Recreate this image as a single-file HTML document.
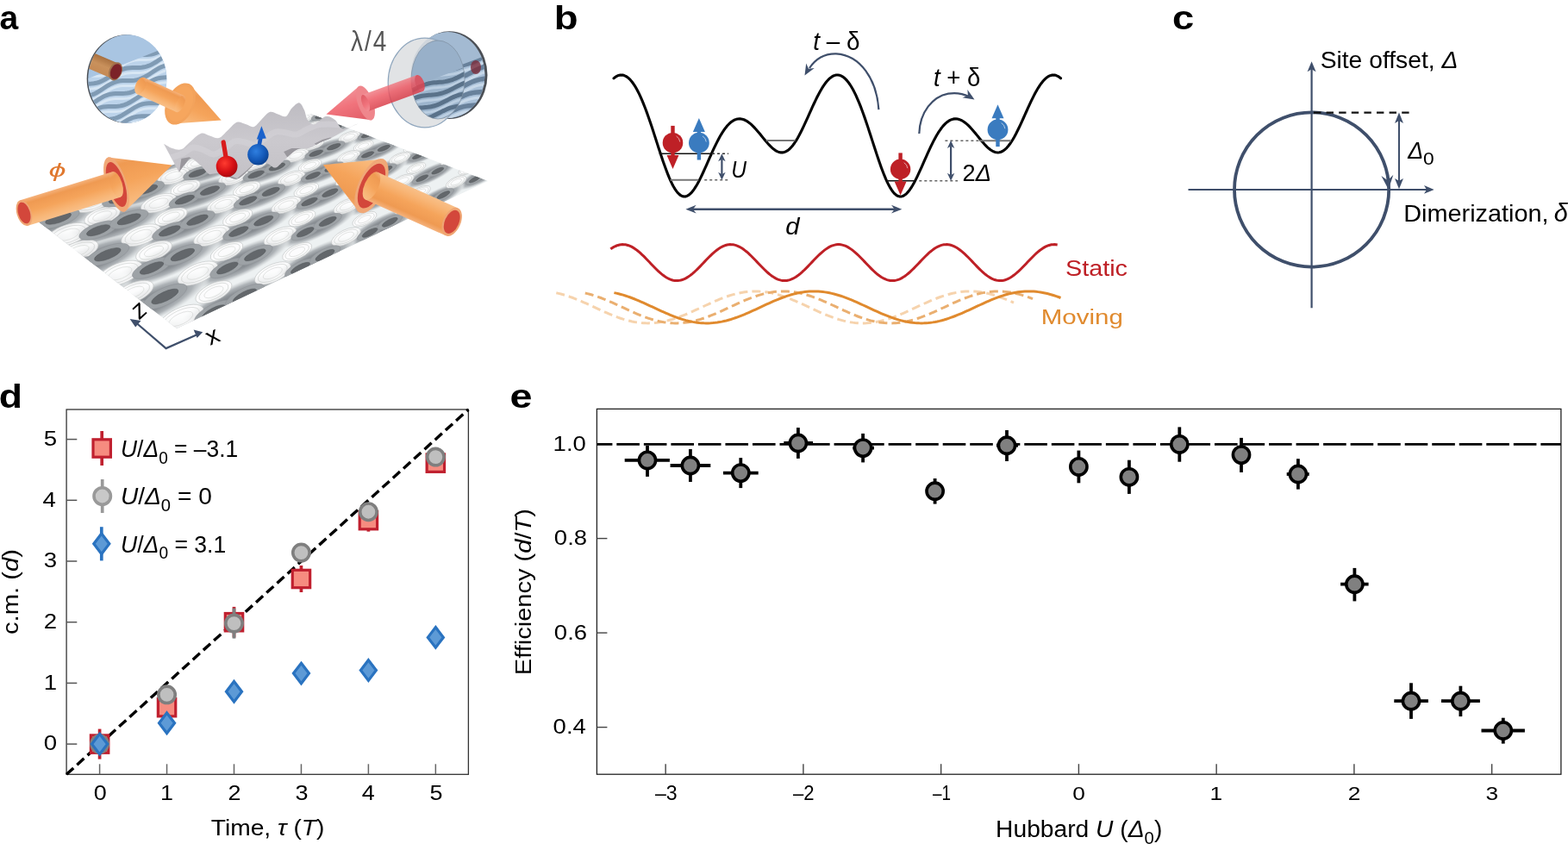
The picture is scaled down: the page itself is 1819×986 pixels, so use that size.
<!DOCTYPE html>
<html><head><meta charset="utf-8"><title>Figure</title>
<style>html,body{margin:0;padding:0;background:#fff;overflow:hidden}svg{display:block}</style>
</head><body>
<svg width="1819" height="986" viewBox="0 0 1819 986">
<defs>
<radialGradient id="gblob"><stop offset="0" stop-color="#767b80"/><stop offset="0.45" stop-color="#8b9095"/><stop offset="0.72" stop-color="#aeb3b7"/><stop offset="0.9" stop-color="#d8dcde" stop-opacity="0.75"/><stop offset="1" stop-color="#e6eaeb" stop-opacity="0"/></radialGradient>
<radialGradient id="dblob"><stop offset="0" stop-color="#5d6166"/><stop offset="0.6" stop-color="#63676b"/><stop offset="1" stop-color="#70757a" stop-opacity="0"/></radialGradient>
<radialGradient id="wblob"><stop offset="0" stop-color="#ffffff"/><stop offset="0.7" stop-color="#fbfbfa"/><stop offset="1" stop-color="#ffffff" stop-opacity="0"/></radialGradient>
<linearGradient id="orangeCyl" x1="0" y1="0" x2="0" y2="1"><stop offset="0" stop-color="#f7b46e"/><stop offset="0.45" stop-color="#f5a35a"/><stop offset="1" stop-color="#e58d45"/></linearGradient>
<linearGradient id="lensBlue" x1="0" y1="0" x2="0" y2="1"><stop offset="0" stop-color="#a9c6e4"/><stop offset="0.35" stop-color="#a3bfdc"/><stop offset="1" stop-color="#8aa9c8"/></linearGradient>
<linearGradient id="wavyG" x1="0" y1="0" x2="0" y2="1"><stop offset="0" stop-color="#bebcc2"/><stop offset="0.5" stop-color="#cbc9ce"/><stop offset="1" stop-color="#c3c1c6"/></linearGradient>
<radialGradient id="redBall" cx="0.4" cy="0.35" r="0.7"><stop offset="0" stop-color="#ff3b30"/><stop offset="0.6" stop-color="#d40f14"/><stop offset="1" stop-color="#a30a0e"/></radialGradient>
<radialGradient id="blueBall" cx="0.4" cy="0.35" r="0.7"><stop offset="0" stop-color="#2f7fe0"/><stop offset="0.6" stop-color="#1459b8"/><stop offset="1" stop-color="#0b3f8a"/></radialGradient>
</defs>
<rect width="1819" height="986" fill="#fff"/>
<clipPath id="planeclip"><polygon points="205,381 566,210 360,132 38,252"/></clipPath>
<polygon points="205,381 566,210 360,132 38,252" fill="#edf1f2"/>
<g clip-path="url(#planeclip)">
<ellipse cx="-19.27" cy="116.58" rx="54.81" ry="14.01" transform="rotate(-10.88 -19.27 116.58)" fill="url(#gblob)" />
<ellipse cx="42.17" cy="118.93" rx="51.42" ry="13.14" transform="rotate(-11.58 42.17 118.93)" fill="url(#gblob)" />
<ellipse cx="102.13" cy="121.22" rx="48.19" ry="12.31" transform="rotate(-12.35 102.13 121.22)" fill="url(#gblob)" />
<ellipse cx="160.67" cy="123.46" rx="45.1" ry="11.53" transform="rotate(-13.18 160.67 123.46)" fill="url(#gblob)" />
<ellipse cx="217.83" cy="125.64" rx="42.15" ry="10.77" transform="rotate(-14.08 217.83 125.64)" fill="url(#gblob)" />
<ellipse cx="273.67" cy="127.78" rx="39.34" ry="10.05" transform="rotate(-15.07 273.67 127.78)" fill="url(#gblob)" />
<ellipse cx="328.23" cy="129.86" rx="36.66" ry="9.37" transform="rotate(-16.16 328.23 129.86)" fill="url(#gblob)" />
<ellipse cx="381.55" cy="131.9" rx="34.1" ry="8.72" transform="rotate(-17.35 381.55 131.9)" fill="url(#gblob)" />
<ellipse cx="433.68" cy="133.89" rx="31.67" ry="8.09" transform="rotate(-18.68 433.68 133.89)" fill="url(#gblob)" />
<ellipse cx="484.65" cy="135.84" rx="29.35" ry="7.5" transform="rotate(-20.15 484.65 135.84)" fill="url(#gblob)" />
<ellipse cx="534.5" cy="137.74" rx="27.14" ry="6.94" transform="rotate(-21.79 534.5 137.74)" fill="url(#gblob)" />
<ellipse cx="583.28" cy="139.61" rx="25.05" ry="6.4" transform="rotate(-23.64 583.28 139.61)" fill="url(#gblob)" />
<ellipse cx="631" cy="141.43" rx="23.07" ry="5.9" transform="rotate(-25.71 631 141.43)" fill="url(#gblob)" />
<ellipse cx="677.72" cy="143.22" rx="21.2" ry="5.42" transform="rotate(-28.06 677.72 143.22)" fill="url(#gblob)" />
<ellipse cx="-48.76" cy="137.09" rx="60.14" ry="15.37" transform="rotate(-11.56 -48.76 137.09)" fill="url(#gblob)" />
<ellipse cx="17.17" cy="139.33" rx="56.25" ry="14.37" transform="rotate(-12.32 17.17 139.33)" fill="url(#gblob)" />
<ellipse cx="81.4" cy="141.51" rx="52.55" ry="13.43" transform="rotate(-13.15 81.4 141.51)" fill="url(#gblob)" />
<ellipse cx="144.01" cy="143.64" rx="49.03" ry="12.53" transform="rotate(-14.05 144.01 143.64)" fill="url(#gblob)" />
<ellipse cx="205.06" cy="145.71" rx="45.68" ry="11.67" transform="rotate(-15.04 205.06 145.71)" fill="url(#gblob)" />
<ellipse cx="264.6" cy="147.73" rx="42.49" ry="10.86" transform="rotate(-16.12 264.6 147.73)" fill="url(#gblob)" />
<ellipse cx="322.69" cy="149.71" rx="39.46" ry="10.08" transform="rotate(-17.32 322.69 149.71)" fill="url(#gblob)" />
<ellipse cx="379.39" cy="151.63" rx="36.58" ry="9.35" transform="rotate(-18.64 379.39 151.63)" fill="url(#gblob)" />
<ellipse cx="434.73" cy="153.51" rx="33.85" ry="8.65" transform="rotate(-20.1 434.73 153.51)" fill="url(#gblob)" />
<ellipse cx="488.78" cy="155.34" rx="31.26" ry="7.99" transform="rotate(-21.74 488.78 155.34)" fill="url(#gblob)" />
<ellipse cx="541.56" cy="157.14" rx="28.81" ry="7.36" transform="rotate(-23.58 541.56 157.14)" fill="url(#gblob)" />
<ellipse cx="593.14" cy="158.89" rx="26.49" ry="6.77" transform="rotate(-25.65 593.14 158.89)" fill="url(#gblob)" />
<ellipse cx="643.55" cy="160.6" rx="24.31" ry="6.21" transform="rotate(-27.99 643.55 160.6)" fill="url(#gblob)" />
<ellipse cx="692.82" cy="162.27" rx="22.27" ry="5.69" transform="rotate(-30.65 692.82 162.27)" fill="url(#gblob)" />
<ellipse cx="-11.41" cy="162.66" rx="61.99" ry="15.84" transform="rotate(-13.12 -11.41 162.66)" fill="url(#gblob)" />
<ellipse cx="57.75" cy="164.67" rx="57.72" ry="14.75" transform="rotate(-14.02 57.75 164.67)" fill="url(#gblob)" />
<ellipse cx="125.04" cy="166.63" rx="53.66" ry="13.71" transform="rotate(-15.01 125.04 166.63)" fill="url(#gblob)" />
<ellipse cx="190.54" cy="168.54" rx="49.82" ry="12.73" transform="rotate(-16.09 190.54 168.54)" fill="url(#gblob)" />
<ellipse cx="254.31" cy="170.4" rx="46.18" ry="11.8" transform="rotate(-17.28 254.31 170.4)" fill="url(#gblob)" />
<ellipse cx="316.42" cy="172.21" rx="42.73" ry="10.92" transform="rotate(-18.6 316.42 172.21)" fill="url(#gblob)" />
<ellipse cx="376.94" cy="173.97" rx="39.47" ry="10.09" transform="rotate(-20.06 376.94 173.97)" fill="url(#gblob)" />
<ellipse cx="435.93" cy="175.69" rx="36.38" ry="9.3" transform="rotate(-21.69 435.93 175.69)" fill="url(#gblob)" />
<ellipse cx="493.44" cy="177.37" rx="33.47" ry="8.55" transform="rotate(-23.52 493.44 177.37)" fill="url(#gblob)" />
<ellipse cx="549.52" cy="179" rx="30.73" ry="7.85" transform="rotate(-25.58 549.52 179)" fill="url(#gblob)" />
<ellipse cx="604.24" cy="180.59" rx="28.15" ry="7.19" transform="rotate(-27.91 604.24 180.59)" fill="url(#gblob)" />
<ellipse cx="657.64" cy="182.15" rx="25.74" ry="6.58" transform="rotate(-30.56 657.64 182.15)" fill="url(#gblob)" />
<ellipse cx="-44.41" cy="189.58" rx="68.92" ry="17.61" transform="rotate(-14 -44.41 189.58)" fill="url(#gblob)" />
<ellipse cx="30.5" cy="191.35" rx="63.92" ry="16.34" transform="rotate(-14.98 30.5 191.35)" fill="url(#gblob)" />
<ellipse cx="103.22" cy="193.07" rx="59.21" ry="15.13" transform="rotate(-16.06 103.22 193.07)" fill="url(#gblob)" />
<ellipse cx="173.87" cy="194.74" rx="54.75" ry="13.99" transform="rotate(-17.24 173.87 194.74)" fill="url(#gblob)" />
<ellipse cx="242.51" cy="196.36" rx="50.55" ry="12.92" transform="rotate(-18.56 242.51 196.36)" fill="url(#gblob)" />
<ellipse cx="309.24" cy="197.94" rx="46.59" ry="11.91" transform="rotate(-20.01 309.24 197.94)" fill="url(#gblob)" />
<ellipse cx="374.14" cy="199.47" rx="42.86" ry="10.95" transform="rotate(-21.64 374.14 199.47)" fill="url(#gblob)" />
<ellipse cx="437.28" cy="200.96" rx="39.35" ry="10.06" transform="rotate(-23.46 437.28 200.96)" fill="url(#gblob)" />
<ellipse cx="498.73" cy="202.42" rx="36.05" ry="9.21" transform="rotate(-25.52 498.73 202.42)" fill="url(#gblob)" />
<ellipse cx="558.56" cy="203.83" rx="32.97" ry="8.42" transform="rotate(-27.84 558.56 203.83)" fill="url(#gblob)" />
<ellipse cx="616.84" cy="205.21" rx="30.09" ry="7.69" transform="rotate(-30.48 616.84 205.21)" fill="url(#gblob)" />
<ellipse cx="673.61" cy="206.55" rx="27.42" ry="7.01" transform="rotate(-33.49 673.61 206.55)" fill="url(#gblob)" />
<ellipse cx="-1.24" cy="222.41" rx="71.5" ry="18.27" transform="rotate(-16.02 -1.24 222.41)" fill="url(#gblob)" />
<ellipse cx="77.87" cy="223.78" rx="65.94" ry="16.85" transform="rotate(-17.21 77.87 223.78)" fill="url(#gblob)" />
<ellipse cx="154.54" cy="225.11" rx="60.72" ry="15.52" transform="rotate(-18.52 154.54 225.11)" fill="url(#gblob)" />
<ellipse cx="228.86" cy="226.4" rx="55.82" ry="14.26" transform="rotate(-19.97 228.86 226.4)" fill="url(#gblob)" />
<ellipse cx="300.96" cy="227.64" rx="51.22" ry="13.09" transform="rotate(-21.59 300.96 227.64)" fill="url(#gblob)" />
<ellipse cx="370.92" cy="228.86" rx="46.91" ry="11.99" transform="rotate(-23.41 370.92 228.86)" fill="url(#gblob)" />
<ellipse cx="438.84" cy="230.03" rx="42.88" ry="10.96" transform="rotate(-25.45 438.84 230.03)" fill="url(#gblob)" />
<ellipse cx="504.82" cy="231.18" rx="39.12" ry="10" transform="rotate(-27.77 504.82 231.18)" fill="url(#gblob)" />
<ellipse cx="568.92" cy="232.29" rx="35.62" ry="9.1" transform="rotate(-30.4 568.92 232.29)" fill="url(#gblob)" />
<ellipse cx="631.24" cy="233.37" rx="32.39" ry="8.28" transform="rotate(-33.4 631.24 233.37)" fill="url(#gblob)" />
<ellipse cx="691.84" cy="234.42" rx="29.42" ry="7.52" transform="rotate(-36.84 691.84 234.42)" fill="url(#gblob)" />
<ellipse cx="-38.66" cy="259.04" rx="80.92" ry="20.68" transform="rotate(-17.17 -38.66 259.04)" fill="url(#gblob)" />
<ellipse cx="48.06" cy="259.9" rx="74.27" ry="18.98" transform="rotate(-18.48 48.06 259.9)" fill="url(#gblob)" />
<ellipse cx="131.86" cy="260.74" rx="68.06" ry="17.39" transform="rotate(-19.92 131.86 260.74)" fill="url(#gblob)" />
<ellipse cx="212.89" cy="261.55" rx="62.26" ry="15.91" transform="rotate(-21.54 212.89 261.55)" fill="url(#gblob)" />
<ellipse cx="291.28" cy="262.33" rx="56.85" ry="14.53" transform="rotate(-23.35 291.28 262.33)" fill="url(#gblob)" />
<ellipse cx="367.16" cy="263.08" rx="51.82" ry="13.24" transform="rotate(-25.39 367.16 263.08)" fill="url(#gblob)" />
<ellipse cx="440.65" cy="263.82" rx="47.15" ry="12.05" transform="rotate(-27.7 440.65 263.82)" fill="url(#gblob)" />
<ellipse cx="511.87" cy="264.53" rx="42.82" ry="10.94" transform="rotate(-30.32 511.87 264.53)" fill="url(#gblob)" />
<ellipse cx="580.91" cy="265.22" rx="38.83" ry="9.92" transform="rotate(-33.31 580.91 265.22)" fill="url(#gblob)" />
<ellipse cx="647.87" cy="265.88" rx="35.18" ry="8.99" transform="rotate(-36.73 647.87 265.88)" fill="url(#gblob)" />
<ellipse cx="12.48" cy="303" rx="84.78" ry="21.67" transform="rotate(-19.88 12.48 303)" fill="url(#gblob)" />
<ellipse cx="104.87" cy="303.12" rx="77.27" ry="19.75" transform="rotate(-21.49 104.87 303.12)" fill="url(#gblob)" />
<ellipse cx="193.93" cy="303.24" rx="70.31" ry="17.97" transform="rotate(-23.29 193.93 303.24)" fill="url(#gblob)" />
<ellipse cx="279.83" cy="303.35" rx="63.86" ry="16.32" transform="rotate(-25.33 279.83 303.35)" fill="url(#gblob)" />
<ellipse cx="362.73" cy="303.46" rx="57.91" ry="14.8" transform="rotate(-27.62 362.73 303.46)" fill="url(#gblob)" />
<ellipse cx="442.78" cy="303.57" rx="52.42" ry="13.4" transform="rotate(-30.23 442.78 303.57)" fill="url(#gblob)" />
<ellipse cx="520.14" cy="303.67" rx="47.39" ry="12.11" transform="rotate(-33.21 520.14 303.67)" fill="url(#gblob)" />
<ellipse cx="594.93" cy="303.77" rx="42.8" ry="10.94" transform="rotate(-36.62 594.93 303.77)" fill="url(#gblob)" />
<ellipse cx="667.29" cy="303.86" rx="38.66" ry="9.88" transform="rotate(-40.54 667.29 303.86)" fill="url(#gblob)" />
<ellipse cx="-30.72" cy="355.32" rx="98.41" ry="25.15" transform="rotate(-21.44 -30.72 355.32)" fill="url(#gblob)" />
<ellipse cx="72.23" cy="354.39" rx="89.14" ry="22.78" transform="rotate(-23.24 72.23 354.39)" fill="url(#gblob)" />
<ellipse cx="171.08" cy="353.49" rx="80.61" ry="20.6" transform="rotate(-25.26 171.08 353.49)" fill="url(#gblob)" />
<ellipse cx="266.07" cy="352.64" rx="72.79" ry="18.6" transform="rotate(-27.55 266.07 352.64)" fill="url(#gblob)" />
<ellipse cx="357.41" cy="351.81" rx="65.63" ry="16.77" transform="rotate(-30.15 357.41 351.81)" fill="url(#gblob)" />
<ellipse cx="445.32" cy="351.02" rx="59.1" ry="15.1" transform="rotate(-33.12 445.32 351.02)" fill="url(#gblob)" />
<ellipse cx="529.98" cy="350.25" rx="53.17" ry="13.59" transform="rotate(-36.52 529.98 350.25)" fill="url(#gblob)" />
<ellipse cx="611.58" cy="349.51" rx="47.84" ry="12.23" transform="rotate(-40.41 611.58 349.51)" fill="url(#gblob)" />
<ellipse cx="690.27" cy="348.8" rx="43.1" ry="11.02" transform="rotate(-44.89 690.27 348.8)" fill="url(#gblob)" />
<ellipse cx="31.95" cy="417.65" rx="104.88" ry="26.8" transform="rotate(-25.2 31.95 417.65)" fill="url(#gblob)" />
<ellipse cx="143" cy="415.25" rx="94.19" ry="24.07" transform="rotate(-27.48 143 415.25)" fill="url(#gblob)" />
<ellipse cx="249.22" cy="412.95" rx="84.49" ry="21.59" transform="rotate(-30.07 249.22 412.95)" fill="url(#gblob)" />
<ellipse cx="350.93" cy="410.75" rx="75.7" ry="19.35" transform="rotate(-33.03 350.93 410.75)" fill="url(#gblob)" />
<ellipse cx="448.39" cy="408.64" rx="67.79" ry="17.32" transform="rotate(-36.41 448.39 408.64)" fill="url(#gblob)" />
<ellipse cx="541.89" cy="406.62" rx="60.72" ry="15.52" transform="rotate(-40.29 541.89 406.62)" fill="url(#gblob)" />
<ellipse cx="631.64" cy="404.68" rx="54.45" ry="13.92" transform="rotate(-44.75 631.64 404.68)" fill="url(#gblob)" />
<ellipse cx="-56.6" cy="130.89" rx="19.49" ry="8.53" transform="rotate(-10.88 -56.6 130.89)" fill="#ffffff" stroke="#c2c5c5" stroke-width="0.6" fill-opacity="0.8"/>
<ellipse cx="-56.6" cy="130.89" rx="15.83" ry="6.7" transform="rotate(-10.88 -56.6 130.89)" fill="none" stroke="#c4c7c6" stroke-width="0.5"/>
<ellipse cx="-56.6" cy="130.89" rx="10.35" ry="4.26" transform="rotate(-10.88 -56.6 130.89)" fill="none" stroke="#cfd1cf" stroke-width="0.5"/>
<ellipse cx="1.83" cy="123.5" rx="19.49" ry="8.53" transform="rotate(-10.88 1.83 123.5)" fill="#ffffff" stroke="#c2c5c5" stroke-width="0.6" fill-opacity="0.8"/>
<ellipse cx="1.83" cy="123.5" rx="15.83" ry="6.7" transform="rotate(-10.88 1.83 123.5)" fill="none" stroke="#c4c7c6" stroke-width="0.5"/>
<ellipse cx="1.83" cy="123.5" rx="10.35" ry="4.26" transform="rotate(-10.88 1.83 123.5)" fill="none" stroke="#cfd1cf" stroke-width="0.5"/>
<ellipse cx="8.49" cy="133.18" rx="18.28" ry="8" transform="rotate(-11.58 8.49 133.18)" fill="#ffffff" stroke="#c2c5c5" stroke-width="0.6" fill-opacity="0.8"/>
<ellipse cx="8.49" cy="133.18" rx="14.86" ry="6.29" transform="rotate(-11.58 8.49 133.18)" fill="none" stroke="#c4c7c6" stroke-width="0.5"/>
<ellipse cx="8.49" cy="133.18" rx="9.71" ry="4" transform="rotate(-11.58 8.49 133.18)" fill="none" stroke="#cfd1cf" stroke-width="0.5"/>
<ellipse cx="63.82" cy="125.8" rx="18.28" ry="8" transform="rotate(-11.58 63.82 125.8)" fill="#ffffff" stroke="#c2c5c5" stroke-width="0.6" fill-opacity="0.8"/>
<ellipse cx="63.82" cy="125.8" rx="14.86" ry="6.29" transform="rotate(-11.58 63.82 125.8)" fill="none" stroke="#c4c7c6" stroke-width="0.5"/>
<ellipse cx="63.82" cy="125.8" rx="9.71" ry="4" transform="rotate(-11.58 63.82 125.8)" fill="none" stroke="#cfd1cf" stroke-width="0.5"/>
<ellipse cx="71.93" cy="135.4" rx="17.13" ry="7.5" transform="rotate(-12.35 71.93 135.4)" fill="#ffffff" stroke="#c2c5c5" stroke-width="0.6" fill-opacity="0.8"/>
<ellipse cx="71.93" cy="135.4" rx="13.92" ry="5.89" transform="rotate(-12.35 71.93 135.4)" fill="none" stroke="#c4c7c6" stroke-width="0.5"/>
<ellipse cx="71.93" cy="135.4" rx="9.1" ry="3.75" transform="rotate(-12.35 71.93 135.4)" fill="none" stroke="#cfd1cf" stroke-width="0.5"/>
<ellipse cx="124.29" cy="128.04" rx="17.13" ry="7.5" transform="rotate(-12.35 124.29 128.04)" fill="#ffffff" stroke="#c2c5c5" stroke-width="0.6" fill-opacity="0.8"/>
<ellipse cx="124.29" cy="128.04" rx="13.92" ry="5.89" transform="rotate(-12.35 124.29 128.04)" fill="none" stroke="#c4c7c6" stroke-width="0.5"/>
<ellipse cx="124.29" cy="128.04" rx="9.1" ry="3.75" transform="rotate(-12.35 124.29 128.04)" fill="none" stroke="#cfd1cf" stroke-width="0.5"/>
<ellipse cx="133.79" cy="137.58" rx="16.04" ry="7.02" transform="rotate(-13.18 133.79 137.58)" fill="#ffffff" stroke="#c2c5c5" stroke-width="0.6" fill-opacity="0.8"/>
<ellipse cx="133.79" cy="137.58" rx="13.03" ry="5.51" transform="rotate(-13.18 133.79 137.58)" fill="none" stroke="#c4c7c6" stroke-width="0.5"/>
<ellipse cx="133.79" cy="137.58" rx="8.52" ry="3.51" transform="rotate(-13.18 133.79 137.58)" fill="none" stroke="#cfd1cf" stroke-width="0.5"/>
<ellipse cx="183.31" cy="130.22" rx="16.04" ry="7.02" transform="rotate(-13.18 183.31 130.22)" fill="#ffffff" stroke="#c2c5c5" stroke-width="0.6" fill-opacity="0.8"/>
<ellipse cx="183.31" cy="130.22" rx="13.03" ry="5.51" transform="rotate(-13.18 183.31 130.22)" fill="none" stroke="#c4c7c6" stroke-width="0.5"/>
<ellipse cx="183.31" cy="130.22" rx="8.52" ry="3.51" transform="rotate(-13.18 183.31 130.22)" fill="none" stroke="#cfd1cf" stroke-width="0.5"/>
<ellipse cx="194.13" cy="139.7" rx="14.99" ry="6.56" transform="rotate(-14.08 194.13 139.7)" fill="#ffffff" stroke="#c2c5c5" stroke-width="0.6" fill-opacity="0.8"/>
<ellipse cx="194.13" cy="139.7" rx="12.18" ry="5.15" transform="rotate(-14.08 194.13 139.7)" fill="none" stroke="#c4c7c6" stroke-width="0.5"/>
<ellipse cx="194.13" cy="139.7" rx="7.96" ry="3.28" transform="rotate(-14.08 194.13 139.7)" fill="none" stroke="#cfd1cf" stroke-width="0.5"/>
<ellipse cx="240.93" cy="132.35" rx="14.99" ry="6.56" transform="rotate(-14.08 240.93 132.35)" fill="#ffffff" stroke="#c2c5c5" stroke-width="0.6" fill-opacity="0.8"/>
<ellipse cx="240.93" cy="132.35" rx="12.18" ry="5.15" transform="rotate(-14.08 240.93 132.35)" fill="none" stroke="#c4c7c6" stroke-width="0.5"/>
<ellipse cx="240.93" cy="132.35" rx="7.96" ry="3.28" transform="rotate(-14.08 240.93 132.35)" fill="none" stroke="#cfd1cf" stroke-width="0.5"/>
<ellipse cx="253" cy="141.77" rx="13.99" ry="6.12" transform="rotate(-15.07 253 141.77)" fill="#ffffff" stroke="#c2c5c5" stroke-width="0.6" fill-opacity="0.8"/>
<ellipse cx="253" cy="141.77" rx="11.37" ry="4.81" transform="rotate(-15.07 253 141.77)" fill="none" stroke="#c4c7c6" stroke-width="0.5"/>
<ellipse cx="253" cy="141.77" rx="7.43" ry="3.06" transform="rotate(-15.07 253 141.77)" fill="none" stroke="#cfd1cf" stroke-width="0.5"/>
<ellipse cx="297.2" cy="134.43" rx="13.99" ry="6.12" transform="rotate(-15.07 297.2 134.43)" fill="#ffffff" stroke="#c2c5c5" stroke-width="0.6" fill-opacity="0.8"/>
<ellipse cx="297.2" cy="134.43" rx="11.37" ry="4.81" transform="rotate(-15.07 297.2 134.43)" fill="none" stroke="#c4c7c6" stroke-width="0.5"/>
<ellipse cx="297.2" cy="134.43" rx="7.43" ry="3.06" transform="rotate(-15.07 297.2 134.43)" fill="none" stroke="#cfd1cf" stroke-width="0.5"/>
<ellipse cx="310.46" cy="143.78" rx="13.03" ry="5.7" transform="rotate(-16.16 310.46 143.78)" fill="#ffffff" stroke="#c2c5c5" stroke-width="0.6" fill-opacity="0.8"/>
<ellipse cx="310.46" cy="143.78" rx="10.59" ry="4.48" transform="rotate(-16.16 310.46 143.78)" fill="none" stroke="#c4c7c6" stroke-width="0.5"/>
<ellipse cx="310.46" cy="143.78" rx="6.92" ry="2.85" transform="rotate(-16.16 310.46 143.78)" fill="none" stroke="#cfd1cf" stroke-width="0.5"/>
<ellipse cx="352.16" cy="136.47" rx="13.03" ry="5.7" transform="rotate(-16.16 352.16 136.47)" fill="#ffffff" stroke="#c2c5c5" stroke-width="0.6" fill-opacity="0.8"/>
<ellipse cx="352.16" cy="136.47" rx="10.59" ry="4.48" transform="rotate(-16.16 352.16 136.47)" fill="none" stroke="#c4c7c6" stroke-width="0.5"/>
<ellipse cx="352.16" cy="136.47" rx="6.92" ry="2.85" transform="rotate(-16.16 352.16 136.47)" fill="none" stroke="#cfd1cf" stroke-width="0.5"/>
<ellipse cx="366.55" cy="145.75" rx="12.13" ry="5.3" transform="rotate(-17.35 366.55 145.75)" fill="#ffffff" stroke="#c2c5c5" stroke-width="0.6" fill-opacity="0.8"/>
<ellipse cx="366.55" cy="145.75" rx="9.85" ry="4.17" transform="rotate(-17.35 366.55 145.75)" fill="none" stroke="#c4c7c6" stroke-width="0.5"/>
<ellipse cx="366.55" cy="145.75" rx="6.44" ry="2.65" transform="rotate(-17.35 366.55 145.75)" fill="none" stroke="#cfd1cf" stroke-width="0.5"/>
<ellipse cx="405.85" cy="138.45" rx="12.13" ry="5.3" transform="rotate(-17.35 405.85 138.45)" fill="#ffffff" stroke="#c2c5c5" stroke-width="0.6" fill-opacity="0.8"/>
<ellipse cx="405.85" cy="138.45" rx="9.85" ry="4.17" transform="rotate(-17.35 405.85 138.45)" fill="none" stroke="#c4c7c6" stroke-width="0.5"/>
<ellipse cx="405.85" cy="138.45" rx="6.44" ry="2.65" transform="rotate(-17.35 405.85 138.45)" fill="none" stroke="#cfd1cf" stroke-width="0.5"/>
<ellipse cx="421.33" cy="147.68" rx="11.26" ry="4.93" transform="rotate(-18.68 421.33 147.68)" fill="#ffffff" stroke="#c2c5c5" stroke-width="0.6" fill-opacity="0.8"/>
<ellipse cx="421.33" cy="147.68" rx="9.15" ry="3.87" transform="rotate(-18.68 421.33 147.68)" fill="none" stroke="#c4c7c6" stroke-width="0.5"/>
<ellipse cx="421.33" cy="147.68" rx="5.98" ry="2.46" transform="rotate(-18.68 421.33 147.68)" fill="none" stroke="#cfd1cf" stroke-width="0.5"/>
<ellipse cx="458.34" cy="140.4" rx="11.26" ry="4.93" transform="rotate(-18.68 458.34 140.4)" fill="#ffffff" stroke="#c2c5c5" stroke-width="0.6" fill-opacity="0.8"/>
<ellipse cx="458.34" cy="140.4" rx="9.15" ry="3.87" transform="rotate(-18.68 458.34 140.4)" fill="none" stroke="#c4c7c6" stroke-width="0.5"/>
<ellipse cx="458.34" cy="140.4" rx="5.98" ry="2.46" transform="rotate(-18.68 458.34 140.4)" fill="none" stroke="#cfd1cf" stroke-width="0.5"/>
<ellipse cx="474.83" cy="149.56" rx="10.43" ry="4.57" transform="rotate(-20.15 474.83 149.56)" fill="#ffffff" stroke="#c2c5c5" stroke-width="0.6" fill-opacity="0.8"/>
<ellipse cx="474.83" cy="149.56" rx="8.48" ry="3.59" transform="rotate(-20.15 474.83 149.56)" fill="none" stroke="#c4c7c6" stroke-width="0.5"/>
<ellipse cx="474.83" cy="149.56" rx="5.54" ry="2.28" transform="rotate(-20.15 474.83 149.56)" fill="none" stroke="#cfd1cf" stroke-width="0.5"/>
<ellipse cx="509.64" cy="142.3" rx="10.43" ry="4.57" transform="rotate(-20.15 509.64 142.3)" fill="#ffffff" stroke="#c2c5c5" stroke-width="0.6" fill-opacity="0.8"/>
<ellipse cx="509.64" cy="142.3" rx="8.48" ry="3.59" transform="rotate(-20.15 509.64 142.3)" fill="none" stroke="#c4c7c6" stroke-width="0.5"/>
<ellipse cx="509.64" cy="142.3" rx="5.54" ry="2.28" transform="rotate(-20.15 509.64 142.3)" fill="none" stroke="#cfd1cf" stroke-width="0.5"/>
<ellipse cx="527.11" cy="151.39" rx="9.65" ry="4.22" transform="rotate(-21.79 527.11 151.39)" fill="#ffffff" stroke="#c2c5c5" stroke-width="0.6" fill-opacity="0.8"/>
<ellipse cx="527.11" cy="151.39" rx="7.84" ry="3.32" transform="rotate(-21.79 527.11 151.39)" fill="none" stroke="#c4c7c6" stroke-width="0.5"/>
<ellipse cx="527.11" cy="151.39" rx="5.13" ry="2.11" transform="rotate(-21.79 527.11 151.39)" fill="none" stroke="#cfd1cf" stroke-width="0.5"/>
<ellipse cx="559.81" cy="144.15" rx="9.65" ry="4.22" transform="rotate(-21.79 559.81 144.15)" fill="#ffffff" stroke="#c2c5c5" stroke-width="0.6" fill-opacity="0.8"/>
<ellipse cx="559.81" cy="144.15" rx="7.84" ry="3.32" transform="rotate(-21.79 559.81 144.15)" fill="none" stroke="#c4c7c6" stroke-width="0.5"/>
<ellipse cx="559.81" cy="144.15" rx="5.13" ry="2.11" transform="rotate(-21.79 559.81 144.15)" fill="none" stroke="#cfd1cf" stroke-width="0.5"/>
<ellipse cx="578.2" cy="153.19" rx="8.91" ry="3.9" transform="rotate(-23.64 578.2 153.19)" fill="#ffffff" stroke="#c2c5c5" stroke-width="0.6" fill-opacity="0.8"/>
<ellipse cx="578.2" cy="153.19" rx="7.24" ry="3.06" transform="rotate(-23.64 578.2 153.19)" fill="none" stroke="#c4c7c6" stroke-width="0.5"/>
<ellipse cx="578.2" cy="153.19" rx="4.73" ry="1.95" transform="rotate(-23.64 578.2 153.19)" fill="none" stroke="#cfd1cf" stroke-width="0.5"/>
<ellipse cx="608.87" cy="145.97" rx="8.91" ry="3.9" transform="rotate(-23.64 608.87 145.97)" fill="#ffffff" stroke="#c2c5c5" stroke-width="0.6" fill-opacity="0.8"/>
<ellipse cx="608.87" cy="145.97" rx="7.24" ry="3.06" transform="rotate(-23.64 608.87 145.97)" fill="none" stroke="#c4c7c6" stroke-width="0.5"/>
<ellipse cx="608.87" cy="145.97" rx="4.73" ry="1.95" transform="rotate(-23.64 608.87 145.97)" fill="none" stroke="#cfd1cf" stroke-width="0.5"/>
<ellipse cx="628.15" cy="154.94" rx="8.2" ry="3.59" transform="rotate(-25.71 628.15 154.94)" fill="#ffffff" stroke="#c2c5c5" stroke-width="0.6" fill-opacity="0.8"/>
<ellipse cx="628.15" cy="154.94" rx="6.67" ry="2.82" transform="rotate(-25.71 628.15 154.94)" fill="none" stroke="#c4c7c6" stroke-width="0.5"/>
<ellipse cx="628.15" cy="154.94" rx="4.36" ry="1.79" transform="rotate(-25.71 628.15 154.94)" fill="none" stroke="#cfd1cf" stroke-width="0.5"/>
<ellipse cx="656.87" cy="147.74" rx="8.2" ry="3.59" transform="rotate(-25.71 656.87 147.74)" fill="#ffffff" stroke="#c2c5c5" stroke-width="0.6" fill-opacity="0.8"/>
<ellipse cx="656.87" cy="147.74" rx="6.67" ry="2.82" transform="rotate(-25.71 656.87 147.74)" fill="none" stroke="#c4c7c6" stroke-width="0.5"/>
<ellipse cx="656.87" cy="147.74" rx="4.36" ry="1.79" transform="rotate(-25.71 656.87 147.74)" fill="none" stroke="#cfd1cf" stroke-width="0.5"/>
<ellipse cx="676.99" cy="156.66" rx="7.54" ry="3.3" transform="rotate(-28.06 676.99 156.66)" fill="#ffffff" stroke="#c2c5c5" stroke-width="0.6" fill-opacity="0.8"/>
<ellipse cx="676.99" cy="156.66" rx="6.13" ry="2.59" transform="rotate(-28.06 676.99 156.66)" fill="none" stroke="#c4c7c6" stroke-width="0.5"/>
<ellipse cx="676.99" cy="156.66" rx="4.01" ry="1.65" transform="rotate(-28.06 676.99 156.66)" fill="none" stroke="#cfd1cf" stroke-width="0.5"/>
<ellipse cx="703.85" cy="149.48" rx="7.54" ry="3.3" transform="rotate(-28.06 703.85 149.48)" fill="#ffffff" stroke="#c2c5c5" stroke-width="0.6" fill-opacity="0.8"/>
<ellipse cx="703.85" cy="149.48" rx="6.13" ry="2.59" transform="rotate(-28.06 703.85 149.48)" fill="none" stroke="#c4c7c6" stroke-width="0.5"/>
<ellipse cx="703.85" cy="149.48" rx="4.01" ry="1.65" transform="rotate(-28.06 703.85 149.48)" fill="none" stroke="#cfd1cf" stroke-width="0.5"/>
<ellipse cx="-90.39" cy="153.57" rx="21.38" ry="9.35" transform="rotate(-11.56 -90.39 153.57)" fill="#ffffff" stroke="#c2c5c5" stroke-width="0.6" fill-opacity="0.8"/>
<ellipse cx="-90.39" cy="153.57" rx="17.37" ry="7.35" transform="rotate(-11.56 -90.39 153.57)" fill="none" stroke="#c4c7c6" stroke-width="0.5"/>
<ellipse cx="-90.39" cy="153.57" rx="11.36" ry="4.68" transform="rotate(-11.56 -90.39 153.57)" fill="none" stroke="#cfd1cf" stroke-width="0.5"/>
<ellipse cx="-26.61" cy="144.78" rx="21.38" ry="9.35" transform="rotate(-11.56 -26.61 144.78)" fill="#ffffff" stroke="#c2c5c5" stroke-width="0.6" fill-opacity="0.8"/>
<ellipse cx="-26.61" cy="144.78" rx="17.37" ry="7.35" transform="rotate(-11.56 -26.61 144.78)" fill="none" stroke="#c4c7c6" stroke-width="0.5"/>
<ellipse cx="-26.61" cy="144.78" rx="11.36" ry="4.68" transform="rotate(-11.56 -26.61 144.78)" fill="none" stroke="#cfd1cf" stroke-width="0.5"/>
<ellipse cx="-20.26" cy="155.71" rx="20" ry="8.75" transform="rotate(-12.32 -20.26 155.71)" fill="#ffffff" stroke="#c2c5c5" stroke-width="0.6" fill-opacity="0.8"/>
<ellipse cx="-20.26" cy="155.71" rx="16.25" ry="6.87" transform="rotate(-12.32 -20.26 155.71)" fill="none" stroke="#c4c7c6" stroke-width="0.5"/>
<ellipse cx="-20.26" cy="155.71" rx="10.62" ry="4.37" transform="rotate(-12.32 -20.26 155.71)" fill="none" stroke="#cfd1cf" stroke-width="0.5"/>
<ellipse cx="39.95" cy="146.95" rx="20" ry="8.75" transform="rotate(-12.32 39.95 146.95)" fill="#ffffff" stroke="#c2c5c5" stroke-width="0.6" fill-opacity="0.8"/>
<ellipse cx="39.95" cy="146.95" rx="16.25" ry="6.87" transform="rotate(-12.32 39.95 146.95)" fill="none" stroke="#c4c7c6" stroke-width="0.5"/>
<ellipse cx="39.95" cy="146.95" rx="10.62" ry="4.37" transform="rotate(-12.32 39.95 146.95)" fill="none" stroke="#cfd1cf" stroke-width="0.5"/>
<ellipse cx="47.99" cy="157.79" rx="18.68" ry="8.17" transform="rotate(-13.15 47.99 157.79)" fill="#ffffff" stroke="#c2c5c5" stroke-width="0.6" fill-opacity="0.8"/>
<ellipse cx="47.99" cy="157.79" rx="15.18" ry="6.42" transform="rotate(-13.15 47.99 157.79)" fill="none" stroke="#c4c7c6" stroke-width="0.5"/>
<ellipse cx="47.99" cy="157.79" rx="9.93" ry="4.09" transform="rotate(-13.15 47.99 157.79)" fill="none" stroke="#cfd1cf" stroke-width="0.5"/>
<ellipse cx="104.77" cy="149.06" rx="18.68" ry="8.17" transform="rotate(-13.15 104.77 149.06)" fill="#ffffff" stroke="#c2c5c5" stroke-width="0.6" fill-opacity="0.8"/>
<ellipse cx="104.77" cy="149.06" rx="15.18" ry="6.42" transform="rotate(-13.15 104.77 149.06)" fill="none" stroke="#c4c7c6" stroke-width="0.5"/>
<ellipse cx="104.77" cy="149.06" rx="9.93" ry="4.09" transform="rotate(-13.15 104.77 149.06)" fill="none" stroke="#cfd1cf" stroke-width="0.5"/>
<ellipse cx="114.41" cy="159.81" rx="17.43" ry="7.63" transform="rotate(-14.05 114.41 159.81)" fill="#ffffff" stroke="#c2c5c5" stroke-width="0.6" fill-opacity="0.8"/>
<ellipse cx="114.41" cy="159.81" rx="14.16" ry="5.99" transform="rotate(-14.05 114.41 159.81)" fill="none" stroke="#c4c7c6" stroke-width="0.5"/>
<ellipse cx="114.41" cy="159.81" rx="9.26" ry="3.81" transform="rotate(-14.05 114.41 159.81)" fill="none" stroke="#cfd1cf" stroke-width="0.5"/>
<ellipse cx="167.94" cy="151.12" rx="17.43" ry="7.63" transform="rotate(-14.05 167.94 151.12)" fill="#ffffff" stroke="#c2c5c5" stroke-width="0.6" fill-opacity="0.8"/>
<ellipse cx="167.94" cy="151.12" rx="14.16" ry="5.99" transform="rotate(-14.05 167.94 151.12)" fill="none" stroke="#c4c7c6" stroke-width="0.5"/>
<ellipse cx="167.94" cy="151.12" rx="9.26" ry="3.81" transform="rotate(-14.05 167.94 151.12)" fill="none" stroke="#cfd1cf" stroke-width="0.5"/>
<ellipse cx="179.09" cy="161.78" rx="16.24" ry="7.11" transform="rotate(-15.04 179.09 161.78)" fill="#ffffff" stroke="#c2c5c5" stroke-width="0.6" fill-opacity="0.8"/>
<ellipse cx="179.09" cy="161.78" rx="13.2" ry="5.58" transform="rotate(-15.04 179.09 161.78)" fill="none" stroke="#c4c7c6" stroke-width="0.5"/>
<ellipse cx="179.09" cy="161.78" rx="8.63" ry="3.55" transform="rotate(-15.04 179.09 161.78)" fill="none" stroke="#cfd1cf" stroke-width="0.5"/>
<ellipse cx="229.5" cy="153.13" rx="16.24" ry="7.11" transform="rotate(-15.04 229.5 153.13)" fill="#ffffff" stroke="#c2c5c5" stroke-width="0.6" fill-opacity="0.8"/>
<ellipse cx="229.5" cy="153.13" rx="13.2" ry="5.58" transform="rotate(-15.04 229.5 153.13)" fill="none" stroke="#c4c7c6" stroke-width="0.5"/>
<ellipse cx="229.5" cy="153.13" rx="8.63" ry="3.55" transform="rotate(-15.04 229.5 153.13)" fill="none" stroke="#cfd1cf" stroke-width="0.5"/>
<ellipse cx="242.09" cy="163.7" rx="15.11" ry="6.61" transform="rotate(-16.12 242.09 163.7)" fill="#ffffff" stroke="#c2c5c5" stroke-width="0.6" fill-opacity="0.8"/>
<ellipse cx="242.09" cy="163.7" rx="12.28" ry="5.19" transform="rotate(-16.12 242.09 163.7)" fill="none" stroke="#c4c7c6" stroke-width="0.5"/>
<ellipse cx="242.09" cy="163.7" rx="8.03" ry="3.3" transform="rotate(-16.12 242.09 163.7)" fill="none" stroke="#cfd1cf" stroke-width="0.5"/>
<ellipse cx="289.53" cy="155.08" rx="15.11" ry="6.61" transform="rotate(-16.12 289.53 155.08)" fill="#ffffff" stroke="#c2c5c5" stroke-width="0.6" fill-opacity="0.8"/>
<ellipse cx="289.53" cy="155.08" rx="12.28" ry="5.19" transform="rotate(-16.12 289.53 155.08)" fill="none" stroke="#c4c7c6" stroke-width="0.5"/>
<ellipse cx="289.53" cy="155.08" rx="8.03" ry="3.3" transform="rotate(-16.12 289.53 155.08)" fill="none" stroke="#cfd1cf" stroke-width="0.5"/>
<ellipse cx="303.48" cy="165.57" rx="14.03" ry="6.14" transform="rotate(-17.32 303.48 165.57)" fill="#ffffff" stroke="#c2c5c5" stroke-width="0.6" fill-opacity="0.8"/>
<ellipse cx="303.48" cy="165.57" rx="11.4" ry="4.82" transform="rotate(-17.32 303.48 165.57)" fill="none" stroke="#c4c7c6" stroke-width="0.5"/>
<ellipse cx="303.48" cy="165.57" rx="7.45" ry="3.07" transform="rotate(-17.32 303.48 165.57)" fill="none" stroke="#cfd1cf" stroke-width="0.5"/>
<ellipse cx="348.08" cy="156.99" rx="14.03" ry="6.14" transform="rotate(-17.32 348.08 156.99)" fill="#ffffff" stroke="#c2c5c5" stroke-width="0.6" fill-opacity="0.8"/>
<ellipse cx="348.08" cy="156.99" rx="11.4" ry="4.82" transform="rotate(-17.32 348.08 156.99)" fill="none" stroke="#c4c7c6" stroke-width="0.5"/>
<ellipse cx="348.08" cy="156.99" rx="7.45" ry="3.07" transform="rotate(-17.32 348.08 156.99)" fill="none" stroke="#cfd1cf" stroke-width="0.5"/>
<ellipse cx="363.31" cy="167.4" rx="13.01" ry="5.69" transform="rotate(-18.64 363.31 167.4)" fill="#ffffff" stroke="#c2c5c5" stroke-width="0.6" fill-opacity="0.8"/>
<ellipse cx="363.31" cy="167.4" rx="10.57" ry="4.47" transform="rotate(-18.64 363.31 167.4)" fill="none" stroke="#c4c7c6" stroke-width="0.5"/>
<ellipse cx="363.31" cy="167.4" rx="6.91" ry="2.85" transform="rotate(-18.64 363.31 167.4)" fill="none" stroke="#cfd1cf" stroke-width="0.5"/>
<ellipse cx="405.2" cy="158.85" rx="13.01" ry="5.69" transform="rotate(-18.64 405.2 158.85)" fill="#ffffff" stroke="#c2c5c5" stroke-width="0.6" fill-opacity="0.8"/>
<ellipse cx="405.2" cy="158.85" rx="10.57" ry="4.47" transform="rotate(-18.64 405.2 158.85)" fill="none" stroke="#c4c7c6" stroke-width="0.5"/>
<ellipse cx="405.2" cy="158.85" rx="6.91" ry="2.85" transform="rotate(-18.64 405.2 158.85)" fill="none" stroke="#cfd1cf" stroke-width="0.5"/>
<ellipse cx="421.65" cy="169.17" rx="12.04" ry="5.27" transform="rotate(-20.1 421.65 169.17)" fill="#ffffff" stroke="#c2c5c5" stroke-width="0.6" fill-opacity="0.8"/>
<ellipse cx="421.65" cy="169.17" rx="9.78" ry="4.14" transform="rotate(-20.1 421.65 169.17)" fill="none" stroke="#c4c7c6" stroke-width="0.5"/>
<ellipse cx="421.65" cy="169.17" rx="6.39" ry="2.63" transform="rotate(-20.1 421.65 169.17)" fill="none" stroke="#cfd1cf" stroke-width="0.5"/>
<ellipse cx="460.94" cy="160.67" rx="12.04" ry="5.27" transform="rotate(-20.1 460.94 160.67)" fill="#ffffff" stroke="#c2c5c5" stroke-width="0.6" fill-opacity="0.8"/>
<ellipse cx="460.94" cy="160.67" rx="9.78" ry="4.14" transform="rotate(-20.1 460.94 160.67)" fill="none" stroke="#c4c7c6" stroke-width="0.5"/>
<ellipse cx="460.94" cy="160.67" rx="6.39" ry="2.63" transform="rotate(-20.1 460.94 160.67)" fill="none" stroke="#cfd1cf" stroke-width="0.5"/>
<ellipse cx="478.55" cy="170.91" rx="11.12" ry="4.86" transform="rotate(-21.74 478.55 170.91)" fill="#ffffff" stroke="#c2c5c5" stroke-width="0.6" fill-opacity="0.8"/>
<ellipse cx="478.55" cy="170.91" rx="9.03" ry="3.82" transform="rotate(-21.74 478.55 170.91)" fill="none" stroke="#c4c7c6" stroke-width="0.5"/>
<ellipse cx="478.55" cy="170.91" rx="5.9" ry="2.43" transform="rotate(-21.74 478.55 170.91)" fill="none" stroke="#cfd1cf" stroke-width="0.5"/>
<ellipse cx="515.36" cy="162.44" rx="11.12" ry="4.86" transform="rotate(-21.74 515.36 162.44)" fill="#ffffff" stroke="#c2c5c5" stroke-width="0.6" fill-opacity="0.8"/>
<ellipse cx="515.36" cy="162.44" rx="9.03" ry="3.82" transform="rotate(-21.74 515.36 162.44)" fill="none" stroke="#c4c7c6" stroke-width="0.5"/>
<ellipse cx="515.36" cy="162.44" rx="5.9" ry="2.43" transform="rotate(-21.74 515.36 162.44)" fill="none" stroke="#cfd1cf" stroke-width="0.5"/>
<ellipse cx="534.06" cy="172.6" rx="10.24" ry="4.48" transform="rotate(-23.58 534.06 172.6)" fill="#ffffff" stroke="#c2c5c5" stroke-width="0.6" fill-opacity="0.8"/>
<ellipse cx="534.06" cy="172.6" rx="8.32" ry="3.52" transform="rotate(-23.58 534.06 172.6)" fill="none" stroke="#c4c7c6" stroke-width="0.5"/>
<ellipse cx="534.06" cy="172.6" rx="5.44" ry="2.24" transform="rotate(-23.58 534.06 172.6)" fill="none" stroke="#cfd1cf" stroke-width="0.5"/>
<ellipse cx="568.49" cy="164.18" rx="10.24" ry="4.48" transform="rotate(-23.58 568.49 164.18)" fill="#ffffff" stroke="#c2c5c5" stroke-width="0.6" fill-opacity="0.8"/>
<ellipse cx="568.49" cy="164.18" rx="8.32" ry="3.52" transform="rotate(-23.58 568.49 164.18)" fill="none" stroke="#c4c7c6" stroke-width="0.5"/>
<ellipse cx="568.49" cy="164.18" rx="5.44" ry="2.24" transform="rotate(-23.58 568.49 164.18)" fill="none" stroke="#cfd1cf" stroke-width="0.5"/>
<ellipse cx="588.24" cy="174.25" rx="9.42" ry="4.12" transform="rotate(-25.65 588.24 174.25)" fill="#ffffff" stroke="#c2c5c5" stroke-width="0.6" fill-opacity="0.8"/>
<ellipse cx="588.24" cy="174.25" rx="7.65" ry="3.24" transform="rotate(-25.65 588.24 174.25)" fill="none" stroke="#c4c7c6" stroke-width="0.5"/>
<ellipse cx="588.24" cy="174.25" rx="5" ry="2.06" transform="rotate(-25.65 588.24 174.25)" fill="none" stroke="#cfd1cf" stroke-width="0.5"/>
<ellipse cx="620.4" cy="165.87" rx="9.42" ry="4.12" transform="rotate(-25.65 620.4 165.87)" fill="#ffffff" stroke="#c2c5c5" stroke-width="0.6" fill-opacity="0.8"/>
<ellipse cx="620.4" cy="165.87" rx="7.65" ry="3.24" transform="rotate(-25.65 620.4 165.87)" fill="none" stroke="#c4c7c6" stroke-width="0.5"/>
<ellipse cx="620.4" cy="165.87" rx="5" ry="2.06" transform="rotate(-25.65 620.4 165.87)" fill="none" stroke="#cfd1cf" stroke-width="0.5"/>
<ellipse cx="641.12" cy="175.86" rx="8.64" ry="3.78" transform="rotate(-27.99 641.12 175.86)" fill="#ffffff" stroke="#c2c5c5" stroke-width="0.6" fill-opacity="0.8"/>
<ellipse cx="641.12" cy="175.86" rx="7.02" ry="2.97" transform="rotate(-27.99 641.12 175.86)" fill="none" stroke="#c4c7c6" stroke-width="0.5"/>
<ellipse cx="641.12" cy="175.86" rx="4.59" ry="1.89" transform="rotate(-27.99 641.12 175.86)" fill="none" stroke="#cfd1cf" stroke-width="0.5"/>
<ellipse cx="671.11" cy="167.52" rx="8.64" ry="3.78" transform="rotate(-27.99 671.11 167.52)" fill="#ffffff" stroke="#c2c5c5" stroke-width="0.6" fill-opacity="0.8"/>
<ellipse cx="671.11" cy="167.52" rx="7.02" ry="2.97" transform="rotate(-27.99 671.11 167.52)" fill="none" stroke="#c4c7c6" stroke-width="0.5"/>
<ellipse cx="671.11" cy="167.52" rx="4.59" ry="1.89" transform="rotate(-27.99 671.11 167.52)" fill="none" stroke="#cfd1cf" stroke-width="0.5"/>
<ellipse cx="692.77" cy="177.44" rx="7.92" ry="3.46" transform="rotate(-30.65 692.77 177.44)" fill="#ffffff" stroke="#c2c5c5" stroke-width="0.6" fill-opacity="0.8"/>
<ellipse cx="692.77" cy="177.44" rx="6.43" ry="2.72" transform="rotate(-30.65 692.77 177.44)" fill="none" stroke="#c4c7c6" stroke-width="0.5"/>
<ellipse cx="692.77" cy="177.44" rx="4.21" ry="1.73" transform="rotate(-30.65 692.77 177.44)" fill="none" stroke="#cfd1cf" stroke-width="0.5"/>
<ellipse cx="720.66" cy="169.14" rx="7.92" ry="3.46" transform="rotate(-30.65 720.66 169.14)" fill="#ffffff" stroke="#c2c5c5" stroke-width="0.6" fill-opacity="0.8"/>
<ellipse cx="720.66" cy="169.14" rx="6.43" ry="2.72" transform="rotate(-30.65 720.66 169.14)" fill="none" stroke="#c4c7c6" stroke-width="0.5"/>
<ellipse cx="720.66" cy="169.14" rx="4.21" ry="1.73" transform="rotate(-30.65 720.66 169.14)" fill="none" stroke="#cfd1cf" stroke-width="0.5"/>
<ellipse cx="-53.36" cy="181.66" rx="22.04" ry="9.64" transform="rotate(-13.12 -53.36 181.66)" fill="#ffffff" stroke="#c2c5c5" stroke-width="0.6" fill-opacity="0.8"/>
<ellipse cx="-53.36" cy="181.66" rx="17.91" ry="7.58" transform="rotate(-13.12 -53.36 181.66)" fill="none" stroke="#c4c7c6" stroke-width="0.5"/>
<ellipse cx="-53.36" cy="181.66" rx="11.71" ry="4.82" transform="rotate(-13.12 -53.36 181.66)" fill="none" stroke="#cfd1cf" stroke-width="0.5"/>
<ellipse cx="12.61" cy="171.17" rx="22.04" ry="9.64" transform="rotate(-13.12 12.61 171.17)" fill="#ffffff" stroke="#c2c5c5" stroke-width="0.6" fill-opacity="0.8"/>
<ellipse cx="12.61" cy="171.17" rx="17.91" ry="7.58" transform="rotate(-13.12 12.61 171.17)" fill="none" stroke="#c4c7c6" stroke-width="0.5"/>
<ellipse cx="12.61" cy="171.17" rx="11.71" ry="4.82" transform="rotate(-13.12 12.61 171.17)" fill="none" stroke="#cfd1cf" stroke-width="0.5"/>
<ellipse cx="20.46" cy="183.52" rx="20.52" ry="8.98" transform="rotate(-14.02 20.46 183.52)" fill="#ffffff" stroke="#c2c5c5" stroke-width="0.6" fill-opacity="0.8"/>
<ellipse cx="20.46" cy="183.52" rx="16.67" ry="7.05" transform="rotate(-14.02 20.46 183.52)" fill="none" stroke="#c4c7c6" stroke-width="0.5"/>
<ellipse cx="20.46" cy="183.52" rx="10.9" ry="4.49" transform="rotate(-14.02 20.46 183.52)" fill="none" stroke="#cfd1cf" stroke-width="0.5"/>
<ellipse cx="82.46" cy="173.1" rx="20.52" ry="8.98" transform="rotate(-14.02 82.46 173.1)" fill="#ffffff" stroke="#c2c5c5" stroke-width="0.6" fill-opacity="0.8"/>
<ellipse cx="82.46" cy="173.1" rx="16.67" ry="7.05" transform="rotate(-14.02 82.46 173.1)" fill="none" stroke="#c4c7c6" stroke-width="0.5"/>
<ellipse cx="82.46" cy="173.1" rx="10.9" ry="4.49" transform="rotate(-14.02 82.46 173.1)" fill="none" stroke="#cfd1cf" stroke-width="0.5"/>
<ellipse cx="92.18" cy="185.32" rx="19.08" ry="8.35" transform="rotate(-15.01 92.18 185.32)" fill="#ffffff" stroke="#c2c5c5" stroke-width="0.6" fill-opacity="0.8"/>
<ellipse cx="92.18" cy="185.32" rx="15.5" ry="6.56" transform="rotate(-15.01 92.18 185.32)" fill="none" stroke="#c4c7c6" stroke-width="0.5"/>
<ellipse cx="92.18" cy="185.32" rx="10.14" ry="4.17" transform="rotate(-15.01 92.18 185.32)" fill="none" stroke="#cfd1cf" stroke-width="0.5"/>
<ellipse cx="150.39" cy="174.97" rx="19.08" ry="8.35" transform="rotate(-15.01 150.39 174.97)" fill="#ffffff" stroke="#c2c5c5" stroke-width="0.6" fill-opacity="0.8"/>
<ellipse cx="150.39" cy="174.97" rx="15.5" ry="6.56" transform="rotate(-15.01 150.39 174.97)" fill="none" stroke="#c4c7c6" stroke-width="0.5"/>
<ellipse cx="150.39" cy="174.97" rx="10.14" ry="4.17" transform="rotate(-15.01 150.39 174.97)" fill="none" stroke="#cfd1cf" stroke-width="0.5"/>
<ellipse cx="161.86" cy="187.07" rx="17.71" ry="7.75" transform="rotate(-16.09 161.86 187.07)" fill="#ffffff" stroke="#c2c5c5" stroke-width="0.6" fill-opacity="0.8"/>
<ellipse cx="161.86" cy="187.07" rx="14.39" ry="6.09" transform="rotate(-16.09 161.86 187.07)" fill="none" stroke="#c4c7c6" stroke-width="0.5"/>
<ellipse cx="161.86" cy="187.07" rx="9.41" ry="3.87" transform="rotate(-16.09 161.86 187.07)" fill="none" stroke="#cfd1cf" stroke-width="0.5"/>
<ellipse cx="216.48" cy="176.8" rx="17.71" ry="7.75" transform="rotate(-16.09 216.48 176.8)" fill="#ffffff" stroke="#c2c5c5" stroke-width="0.6" fill-opacity="0.8"/>
<ellipse cx="216.48" cy="176.8" rx="14.39" ry="6.09" transform="rotate(-16.09 216.48 176.8)" fill="none" stroke="#c4c7c6" stroke-width="0.5"/>
<ellipse cx="216.48" cy="176.8" rx="9.41" ry="3.87" transform="rotate(-16.09 216.48 176.8)" fill="none" stroke="#cfd1cf" stroke-width="0.5"/>
<ellipse cx="229.62" cy="188.78" rx="16.42" ry="7.18" transform="rotate(-17.28 229.62 188.78)" fill="#ffffff" stroke="#c2c5c5" stroke-width="0.6" fill-opacity="0.8"/>
<ellipse cx="229.62" cy="188.78" rx="13.34" ry="5.64" transform="rotate(-17.28 229.62 188.78)" fill="none" stroke="#c4c7c6" stroke-width="0.5"/>
<ellipse cx="229.62" cy="188.78" rx="8.72" ry="3.59" transform="rotate(-17.28 229.62 188.78)" fill="none" stroke="#cfd1cf" stroke-width="0.5"/>
<ellipse cx="280.81" cy="178.57" rx="16.42" ry="7.18" transform="rotate(-17.28 280.81 178.57)" fill="#ffffff" stroke="#c2c5c5" stroke-width="0.6" fill-opacity="0.8"/>
<ellipse cx="280.81" cy="178.57" rx="13.34" ry="5.64" transform="rotate(-17.28 280.81 178.57)" fill="none" stroke="#c4c7c6" stroke-width="0.5"/>
<ellipse cx="280.81" cy="178.57" rx="8.72" ry="3.59" transform="rotate(-17.28 280.81 178.57)" fill="none" stroke="#cfd1cf" stroke-width="0.5"/>
<ellipse cx="295.51" cy="190.44" rx="15.19" ry="6.65" transform="rotate(-18.6 295.51 190.44)" fill="#ffffff" stroke="#c2c5c5" stroke-width="0.6" fill-opacity="0.8"/>
<ellipse cx="295.51" cy="190.44" rx="12.34" ry="5.22" transform="rotate(-18.6 295.51 190.44)" fill="none" stroke="#c4c7c6" stroke-width="0.5"/>
<ellipse cx="295.51" cy="190.44" rx="8.07" ry="3.32" transform="rotate(-18.6 295.51 190.44)" fill="none" stroke="#cfd1cf" stroke-width="0.5"/>
<ellipse cx="343.45" cy="180.3" rx="15.19" ry="6.65" transform="rotate(-18.6 343.45 180.3)" fill="#ffffff" stroke="#c2c5c5" stroke-width="0.6" fill-opacity="0.8"/>
<ellipse cx="343.45" cy="180.3" rx="12.34" ry="5.22" transform="rotate(-18.6 343.45 180.3)" fill="none" stroke="#c4c7c6" stroke-width="0.5"/>
<ellipse cx="343.45" cy="180.3" rx="8.07" ry="3.32" transform="rotate(-18.6 343.45 180.3)" fill="none" stroke="#cfd1cf" stroke-width="0.5"/>
<ellipse cx="359.62" cy="192.05" rx="14.03" ry="6.14" transform="rotate(-20.06 359.62 192.05)" fill="#ffffff" stroke="#c2c5c5" stroke-width="0.6" fill-opacity="0.8"/>
<ellipse cx="359.62" cy="192.05" rx="11.4" ry="4.82" transform="rotate(-20.06 359.62 192.05)" fill="none" stroke="#c4c7c6" stroke-width="0.5"/>
<ellipse cx="359.62" cy="192.05" rx="7.45" ry="3.07" transform="rotate(-20.06 359.62 192.05)" fill="none" stroke="#cfd1cf" stroke-width="0.5"/>
<ellipse cx="404.45" cy="181.98" rx="14.03" ry="6.14" transform="rotate(-20.06 404.45 181.98)" fill="#ffffff" stroke="#c2c5c5" stroke-width="0.6" fill-opacity="0.8"/>
<ellipse cx="404.45" cy="181.98" rx="11.4" ry="4.82" transform="rotate(-20.06 404.45 181.98)" fill="none" stroke="#c4c7c6" stroke-width="0.5"/>
<ellipse cx="404.45" cy="181.98" rx="7.45" ry="3.07" transform="rotate(-20.06 404.45 181.98)" fill="none" stroke="#cfd1cf" stroke-width="0.5"/>
<ellipse cx="422.01" cy="193.62" rx="12.94" ry="5.66" transform="rotate(-21.69 422.01 193.62)" fill="#ffffff" stroke="#c2c5c5" stroke-width="0.6" fill-opacity="0.8"/>
<ellipse cx="422.01" cy="193.62" rx="10.51" ry="4.45" transform="rotate(-21.69 422.01 193.62)" fill="none" stroke="#c4c7c6" stroke-width="0.5"/>
<ellipse cx="422.01" cy="193.62" rx="6.87" ry="2.83" transform="rotate(-21.69 422.01 193.62)" fill="none" stroke="#cfd1cf" stroke-width="0.5"/>
<ellipse cx="463.89" cy="183.62" rx="12.94" ry="5.66" transform="rotate(-21.69 463.89 183.62)" fill="#ffffff" stroke="#c2c5c5" stroke-width="0.6" fill-opacity="0.8"/>
<ellipse cx="463.89" cy="183.62" rx="10.51" ry="4.45" transform="rotate(-21.69 463.89 183.62)" fill="none" stroke="#c4c7c6" stroke-width="0.5"/>
<ellipse cx="463.89" cy="183.62" rx="6.87" ry="2.83" transform="rotate(-21.69 463.89 183.62)" fill="none" stroke="#cfd1cf" stroke-width="0.5"/>
<ellipse cx="482.77" cy="195.15" rx="11.9" ry="5.21" transform="rotate(-23.52 482.77 195.15)" fill="#ffffff" stroke="#c2c5c5" stroke-width="0.6" fill-opacity="0.8"/>
<ellipse cx="482.77" cy="195.15" rx="9.67" ry="4.09" transform="rotate(-23.52 482.77 195.15)" fill="none" stroke="#c4c7c6" stroke-width="0.5"/>
<ellipse cx="482.77" cy="195.15" rx="6.32" ry="2.6" transform="rotate(-23.52 482.77 195.15)" fill="none" stroke="#cfd1cf" stroke-width="0.5"/>
<ellipse cx="521.82" cy="185.22" rx="11.9" ry="5.21" transform="rotate(-23.52 521.82 185.22)" fill="#ffffff" stroke="#c2c5c5" stroke-width="0.6" fill-opacity="0.8"/>
<ellipse cx="521.82" cy="185.22" rx="9.67" ry="4.09" transform="rotate(-23.52 521.82 185.22)" fill="none" stroke="#c4c7c6" stroke-width="0.5"/>
<ellipse cx="521.82" cy="185.22" rx="6.32" ry="2.6" transform="rotate(-23.52 521.82 185.22)" fill="none" stroke="#cfd1cf" stroke-width="0.5"/>
<ellipse cx="541.94" cy="196.64" rx="10.93" ry="4.78" transform="rotate(-25.58 541.94 196.64)" fill="#ffffff" stroke="#c2c5c5" stroke-width="0.6" fill-opacity="0.8"/>
<ellipse cx="541.94" cy="196.64" rx="8.88" ry="3.76" transform="rotate(-25.58 541.94 196.64)" fill="none" stroke="#c4c7c6" stroke-width="0.5"/>
<ellipse cx="541.94" cy="196.64" rx="5.8" ry="2.39" transform="rotate(-25.58 541.94 196.64)" fill="none" stroke="#cfd1cf" stroke-width="0.5"/>
<ellipse cx="578.3" cy="186.78" rx="10.93" ry="4.78" transform="rotate(-25.58 578.3 186.78)" fill="#ffffff" stroke="#c2c5c5" stroke-width="0.6" fill-opacity="0.8"/>
<ellipse cx="578.3" cy="186.78" rx="8.88" ry="3.76" transform="rotate(-25.58 578.3 186.78)" fill="none" stroke="#c4c7c6" stroke-width="0.5"/>
<ellipse cx="578.3" cy="186.78" rx="5.8" ry="2.39" transform="rotate(-25.58 578.3 186.78)" fill="none" stroke="#cfd1cf" stroke-width="0.5"/>
<ellipse cx="599.6" cy="198.09" rx="10.01" ry="4.38" transform="rotate(-27.91 599.6 198.09)" fill="#ffffff" stroke="#c2c5c5" stroke-width="0.6" fill-opacity="0.8"/>
<ellipse cx="599.6" cy="198.09" rx="8.13" ry="3.44" transform="rotate(-27.91 599.6 198.09)" fill="none" stroke="#c4c7c6" stroke-width="0.5"/>
<ellipse cx="599.6" cy="198.09" rx="5.32" ry="2.19" transform="rotate(-27.91 599.6 198.09)" fill="none" stroke="#cfd1cf" stroke-width="0.5"/>
<ellipse cx="633.39" cy="188.3" rx="10.01" ry="4.38" transform="rotate(-27.91 633.39 188.3)" fill="#ffffff" stroke="#c2c5c5" stroke-width="0.6" fill-opacity="0.8"/>
<ellipse cx="633.39" cy="188.3" rx="8.13" ry="3.44" transform="rotate(-27.91 633.39 188.3)" fill="none" stroke="#c4c7c6" stroke-width="0.5"/>
<ellipse cx="633.39" cy="188.3" rx="5.32" ry="2.19" transform="rotate(-27.91 633.39 188.3)" fill="none" stroke="#cfd1cf" stroke-width="0.5"/>
<ellipse cx="655.79" cy="199.51" rx="9.15" ry="4" transform="rotate(-30.56 655.79 199.51)" fill="#ffffff" stroke="#c2c5c5" stroke-width="0.6" fill-opacity="0.8"/>
<ellipse cx="655.79" cy="199.51" rx="7.44" ry="3.15" transform="rotate(-30.56 655.79 199.51)" fill="none" stroke="#c4c7c6" stroke-width="0.5"/>
<ellipse cx="655.79" cy="199.51" rx="4.86" ry="2" transform="rotate(-30.56 655.79 199.51)" fill="none" stroke="#cfd1cf" stroke-width="0.5"/>
<ellipse cx="687.13" cy="189.78" rx="9.15" ry="4" transform="rotate(-30.56 687.13 189.78)" fill="#ffffff" stroke="#c2c5c5" stroke-width="0.6" fill-opacity="0.8"/>
<ellipse cx="687.13" cy="189.78" rx="7.44" ry="3.15" transform="rotate(-30.56 687.13 189.78)" fill="none" stroke="#c4c7c6" stroke-width="0.5"/>
<ellipse cx="687.13" cy="189.78" rx="4.86" ry="2" transform="rotate(-30.56 687.13 189.78)" fill="none" stroke="#cfd1cf" stroke-width="0.5"/>
<ellipse cx="-91.89" cy="211.86" rx="24.51" ry="10.72" transform="rotate(-14 -91.89 211.86)" fill="#ffffff" stroke="#c2c5c5" stroke-width="0.6" fill-opacity="0.8"/>
<ellipse cx="-91.89" cy="211.86" rx="19.91" ry="8.42" transform="rotate(-14 -91.89 211.86)" fill="none" stroke="#c4c7c6" stroke-width="0.5"/>
<ellipse cx="-91.89" cy="211.86" rx="13.02" ry="5.36" transform="rotate(-14 -91.89 211.86)" fill="none" stroke="#cfd1cf" stroke-width="0.5"/>
<ellipse cx="-19.02" cy="199.19" rx="24.51" ry="10.72" transform="rotate(-14 -19.02 199.19)" fill="#ffffff" stroke="#c2c5c5" stroke-width="0.6" fill-opacity="0.8"/>
<ellipse cx="-19.02" cy="199.19" rx="19.91" ry="8.42" transform="rotate(-14 -19.02 199.19)" fill="none" stroke="#c4c7c6" stroke-width="0.5"/>
<ellipse cx="-19.02" cy="199.19" rx="13.02" ry="5.36" transform="rotate(-14 -19.02 199.19)" fill="none" stroke="#cfd1cf" stroke-width="0.5"/>
<ellipse cx="-11.5" cy="213.4" rx="22.73" ry="9.94" transform="rotate(-14.98 -11.5 213.4)" fill="#ffffff" stroke="#c2c5c5" stroke-width="0.6" fill-opacity="0.8"/>
<ellipse cx="-11.5" cy="213.4" rx="18.47" ry="7.81" transform="rotate(-14.98 -11.5 213.4)" fill="none" stroke="#c4c7c6" stroke-width="0.5"/>
<ellipse cx="-11.5" cy="213.4" rx="12.07" ry="4.97" transform="rotate(-14.98 -11.5 213.4)" fill="none" stroke="#cfd1cf" stroke-width="0.5"/>
<ellipse cx="56.7" cy="200.85" rx="22.73" ry="9.94" transform="rotate(-14.98 56.7 200.85)" fill="#ffffff" stroke="#c2c5c5" stroke-width="0.6" fill-opacity="0.8"/>
<ellipse cx="56.7" cy="200.85" rx="18.47" ry="7.81" transform="rotate(-14.98 56.7 200.85)" fill="none" stroke="#c4c7c6" stroke-width="0.5"/>
<ellipse cx="56.7" cy="200.85" rx="12.07" ry="4.97" transform="rotate(-14.98 56.7 200.85)" fill="none" stroke="#cfd1cf" stroke-width="0.5"/>
<ellipse cx="66.4" cy="214.89" rx="21.05" ry="9.21" transform="rotate(-16.06 66.4 214.89)" fill="#ffffff" stroke="#c2c5c5" stroke-width="0.6" fill-opacity="0.8"/>
<ellipse cx="66.4" cy="214.89" rx="17.1" ry="7.24" transform="rotate(-16.06 66.4 214.89)" fill="none" stroke="#c4c7c6" stroke-width="0.5"/>
<ellipse cx="66.4" cy="214.89" rx="11.18" ry="4.6" transform="rotate(-16.06 66.4 214.89)" fill="none" stroke="#cfd1cf" stroke-width="0.5"/>
<ellipse cx="130.17" cy="202.45" rx="21.05" ry="9.21" transform="rotate(-16.06 130.17 202.45)" fill="#ffffff" stroke="#c2c5c5" stroke-width="0.6" fill-opacity="0.8"/>
<ellipse cx="130.17" cy="202.45" rx="17.1" ry="7.24" transform="rotate(-16.06 130.17 202.45)" fill="none" stroke="#c4c7c6" stroke-width="0.5"/>
<ellipse cx="130.17" cy="202.45" rx="11.18" ry="4.6" transform="rotate(-16.06 130.17 202.45)" fill="none" stroke="#cfd1cf" stroke-width="0.5"/>
<ellipse cx="141.94" cy="216.33" rx="19.47" ry="8.52" transform="rotate(-17.24 141.94 216.33)" fill="#ffffff" stroke="#c2c5c5" stroke-width="0.6" fill-opacity="0.8"/>
<ellipse cx="141.94" cy="216.33" rx="15.82" ry="6.69" transform="rotate(-17.24 141.94 216.33)" fill="none" stroke="#c4c7c6" stroke-width="0.5"/>
<ellipse cx="141.94" cy="216.33" rx="10.34" ry="4.26" transform="rotate(-17.24 141.94 216.33)" fill="none" stroke="#cfd1cf" stroke-width="0.5"/>
<ellipse cx="201.51" cy="204.01" rx="19.47" ry="8.52" transform="rotate(-17.24 201.51 204.01)" fill="#ffffff" stroke="#c2c5c5" stroke-width="0.6" fill-opacity="0.8"/>
<ellipse cx="201.51" cy="204.01" rx="15.82" ry="6.69" transform="rotate(-17.24 201.51 204.01)" fill="none" stroke="#c4c7c6" stroke-width="0.5"/>
<ellipse cx="201.51" cy="204.01" rx="10.34" ry="4.26" transform="rotate(-17.24 201.51 204.01)" fill="none" stroke="#cfd1cf" stroke-width="0.5"/>
<ellipse cx="215.21" cy="217.73" rx="17.97" ry="7.86" transform="rotate(-18.56 215.21 217.73)" fill="#ffffff" stroke="#c2c5c5" stroke-width="0.6" fill-opacity="0.8"/>
<ellipse cx="215.21" cy="217.73" rx="14.6" ry="6.18" transform="rotate(-18.56 215.21 217.73)" fill="none" stroke="#c4c7c6" stroke-width="0.5"/>
<ellipse cx="215.21" cy="217.73" rx="9.55" ry="3.93" transform="rotate(-18.56 215.21 217.73)" fill="none" stroke="#cfd1cf" stroke-width="0.5"/>
<ellipse cx="270.81" cy="205.53" rx="17.97" ry="7.86" transform="rotate(-18.56 270.81 205.53)" fill="#ffffff" stroke="#c2c5c5" stroke-width="0.6" fill-opacity="0.8"/>
<ellipse cx="270.81" cy="205.53" rx="14.6" ry="6.18" transform="rotate(-18.56 270.81 205.53)" fill="none" stroke="#c4c7c6" stroke-width="0.5"/>
<ellipse cx="270.81" cy="205.53" rx="9.55" ry="3.93" transform="rotate(-18.56 270.81 205.53)" fill="none" stroke="#cfd1cf" stroke-width="0.5"/>
<ellipse cx="286.33" cy="219.08" rx="16.57" ry="7.25" transform="rotate(-20.01 286.33 219.08)" fill="#ffffff" stroke="#c2c5c5" stroke-width="0.6" fill-opacity="0.8"/>
<ellipse cx="286.33" cy="219.08" rx="13.46" ry="5.69" transform="rotate(-20.01 286.33 219.08)" fill="none" stroke="#c4c7c6" stroke-width="0.5"/>
<ellipse cx="286.33" cy="219.08" rx="8.8" ry="3.62" transform="rotate(-20.01 286.33 219.08)" fill="none" stroke="#cfd1cf" stroke-width="0.5"/>
<ellipse cx="338.14" cy="207" rx="16.57" ry="7.25" transform="rotate(-20.01 338.14 207)" fill="#ffffff" stroke="#c2c5c5" stroke-width="0.6" fill-opacity="0.8"/>
<ellipse cx="338.14" cy="207" rx="13.46" ry="5.69" transform="rotate(-20.01 338.14 207)" fill="none" stroke="#c4c7c6" stroke-width="0.5"/>
<ellipse cx="338.14" cy="207" rx="8.8" ry="3.62" transform="rotate(-20.01 338.14 207)" fill="none" stroke="#cfd1cf" stroke-width="0.5"/>
<ellipse cx="355.37" cy="220.4" rx="15.24" ry="6.67" transform="rotate(-21.64 355.37 220.4)" fill="#ffffff" stroke="#c2c5c5" stroke-width="0.6" fill-opacity="0.8"/>
<ellipse cx="355.37" cy="220.4" rx="12.38" ry="5.24" transform="rotate(-21.64 355.37 220.4)" fill="none" stroke="#c4c7c6" stroke-width="0.5"/>
<ellipse cx="355.37" cy="220.4" rx="8.1" ry="3.33" transform="rotate(-21.64 355.37 220.4)" fill="none" stroke="#cfd1cf" stroke-width="0.5"/>
<ellipse cx="403.6" cy="208.43" rx="15.24" ry="6.67" transform="rotate(-21.64 403.6 208.43)" fill="#ffffff" stroke="#c2c5c5" stroke-width="0.6" fill-opacity="0.8"/>
<ellipse cx="403.6" cy="208.43" rx="12.38" ry="5.24" transform="rotate(-21.64 403.6 208.43)" fill="none" stroke="#c4c7c6" stroke-width="0.5"/>
<ellipse cx="403.6" cy="208.43" rx="8.1" ry="3.33" transform="rotate(-21.64 403.6 208.43)" fill="none" stroke="#cfd1cf" stroke-width="0.5"/>
<ellipse cx="422.43" cy="221.68" rx="13.99" ry="6.12" transform="rotate(-23.46 422.43 221.68)" fill="#ffffff" stroke="#c2c5c5" stroke-width="0.6" fill-opacity="0.8"/>
<ellipse cx="422.43" cy="221.68" rx="11.37" ry="4.81" transform="rotate(-23.46 422.43 221.68)" fill="none" stroke="#c4c7c6" stroke-width="0.5"/>
<ellipse cx="422.43" cy="221.68" rx="7.43" ry="3.06" transform="rotate(-23.46 422.43 221.68)" fill="none" stroke="#cfd1cf" stroke-width="0.5"/>
<ellipse cx="467.26" cy="209.83" rx="13.99" ry="6.12" transform="rotate(-23.46 467.26 209.83)" fill="#ffffff" stroke="#c2c5c5" stroke-width="0.6" fill-opacity="0.8"/>
<ellipse cx="467.26" cy="209.83" rx="11.37" ry="4.81" transform="rotate(-23.46 467.26 209.83)" fill="none" stroke="#c4c7c6" stroke-width="0.5"/>
<ellipse cx="467.26" cy="209.83" rx="7.43" ry="3.06" transform="rotate(-23.46 467.26 209.83)" fill="none" stroke="#cfd1cf" stroke-width="0.5"/>
<ellipse cx="487.6" cy="222.93" rx="12.82" ry="5.61" transform="rotate(-25.52 487.6 222.93)" fill="#ffffff" stroke="#c2c5c5" stroke-width="0.6" fill-opacity="0.8"/>
<ellipse cx="487.6" cy="222.93" rx="10.42" ry="4.41" transform="rotate(-25.52 487.6 222.93)" fill="none" stroke="#c4c7c6" stroke-width="0.5"/>
<ellipse cx="487.6" cy="222.93" rx="6.81" ry="2.8" transform="rotate(-25.52 487.6 222.93)" fill="none" stroke="#cfd1cf" stroke-width="0.5"/>
<ellipse cx="529.19" cy="211.18" rx="12.82" ry="5.61" transform="rotate(-25.52 529.19 211.18)" fill="#ffffff" stroke="#c2c5c5" stroke-width="0.6" fill-opacity="0.8"/>
<ellipse cx="529.19" cy="211.18" rx="10.42" ry="4.41" transform="rotate(-25.52 529.19 211.18)" fill="none" stroke="#c4c7c6" stroke-width="0.5"/>
<ellipse cx="529.19" cy="211.18" rx="6.81" ry="2.8" transform="rotate(-25.52 529.19 211.18)" fill="none" stroke="#cfd1cf" stroke-width="0.5"/>
<ellipse cx="550.96" cy="224.14" rx="11.72" ry="5.13" transform="rotate(-27.84 550.96 224.14)" fill="#ffffff" stroke="#c2c5c5" stroke-width="0.6" fill-opacity="0.8"/>
<ellipse cx="550.96" cy="224.14" rx="9.52" ry="4.03" transform="rotate(-27.84 550.96 224.14)" fill="none" stroke="#c4c7c6" stroke-width="0.5"/>
<ellipse cx="550.96" cy="224.14" rx="6.23" ry="2.56" transform="rotate(-27.84 550.96 224.14)" fill="none" stroke="#cfd1cf" stroke-width="0.5"/>
<ellipse cx="589.46" cy="212.5" rx="11.72" ry="5.13" transform="rotate(-27.84 589.46 212.5)" fill="#ffffff" stroke="#c2c5c5" stroke-width="0.6" fill-opacity="0.8"/>
<ellipse cx="589.46" cy="212.5" rx="9.52" ry="4.03" transform="rotate(-27.84 589.46 212.5)" fill="none" stroke="#c4c7c6" stroke-width="0.5"/>
<ellipse cx="589.46" cy="212.5" rx="6.23" ry="2.56" transform="rotate(-27.84 589.46 212.5)" fill="none" stroke="#cfd1cf" stroke-width="0.5"/>
<ellipse cx="612.57" cy="225.31" rx="10.7" ry="4.68" transform="rotate(-30.48 612.57 225.31)" fill="#ffffff" stroke="#c2c5c5" stroke-width="0.6" fill-opacity="0.8"/>
<ellipse cx="612.57" cy="225.31" rx="8.69" ry="3.68" transform="rotate(-30.48 612.57 225.31)" fill="none" stroke="#c4c7c6" stroke-width="0.5"/>
<ellipse cx="612.57" cy="225.31" rx="5.68" ry="2.34" transform="rotate(-30.48 612.57 225.31)" fill="none" stroke="#cfd1cf" stroke-width="0.5"/>
<ellipse cx="648.14" cy="213.78" rx="10.7" ry="4.68" transform="rotate(-30.48 648.14 213.78)" fill="#ffffff" stroke="#c2c5c5" stroke-width="0.6" fill-opacity="0.8"/>
<ellipse cx="648.14" cy="213.78" rx="8.69" ry="3.68" transform="rotate(-30.48 648.14 213.78)" fill="none" stroke="#c4c7c6" stroke-width="0.5"/>
<ellipse cx="648.14" cy="213.78" rx="5.68" ry="2.34" transform="rotate(-30.48 648.14 213.78)" fill="none" stroke="#cfd1cf" stroke-width="0.5"/>
<ellipse cx="672.51" cy="226.46" rx="9.75" ry="4.26" transform="rotate(-33.49 672.51 226.46)" fill="#ffffff" stroke="#c2c5c5" stroke-width="0.6" fill-opacity="0.8"/>
<ellipse cx="672.51" cy="226.46" rx="7.92" ry="3.35" transform="rotate(-33.49 672.51 226.46)" fill="none" stroke="#c4c7c6" stroke-width="0.5"/>
<ellipse cx="672.51" cy="226.46" rx="5.18" ry="2.13" transform="rotate(-33.49 672.51 226.46)" fill="none" stroke="#cfd1cf" stroke-width="0.5"/>
<ellipse cx="705.3" cy="215.03" rx="9.75" ry="4.26" transform="rotate(-33.49 705.3 215.03)" fill="#ffffff" stroke="#c2c5c5" stroke-width="0.6" fill-opacity="0.8"/>
<ellipse cx="705.3" cy="215.03" rx="7.92" ry="3.35" transform="rotate(-33.49 705.3 215.03)" fill="none" stroke="#c4c7c6" stroke-width="0.5"/>
<ellipse cx="705.3" cy="215.03" rx="5.18" ry="2.13" transform="rotate(-33.49 705.3 215.03)" fill="none" stroke="#cfd1cf" stroke-width="0.5"/>
<ellipse cx="-49.09" cy="248.53" rx="25.42" ry="11.12" transform="rotate(-16.02 -49.09 248.53)" fill="#ffffff" stroke="#c2c5c5" stroke-width="0.6" fill-opacity="0.8"/>
<ellipse cx="-49.09" cy="248.53" rx="20.66" ry="8.74" transform="rotate(-16.02 -49.09 248.53)" fill="none" stroke="#c4c7c6" stroke-width="0.5"/>
<ellipse cx="-49.09" cy="248.53" rx="13.51" ry="5.56" transform="rotate(-16.02 -49.09 248.53)" fill="none" stroke="#cfd1cf" stroke-width="0.5"/>
<ellipse cx="26.63" cy="233.23" rx="25.42" ry="11.12" transform="rotate(-16.02 26.63 233.23)" fill="#ffffff" stroke="#c2c5c5" stroke-width="0.6" fill-opacity="0.8"/>
<ellipse cx="26.63" cy="233.23" rx="20.66" ry="8.74" transform="rotate(-16.02 26.63 233.23)" fill="none" stroke="#c4c7c6" stroke-width="0.5"/>
<ellipse cx="26.63" cy="233.23" rx="13.51" ry="5.56" transform="rotate(-16.02 26.63 233.23)" fill="none" stroke="#cfd1cf" stroke-width="0.5"/>
<ellipse cx="36.18" cy="249.56" rx="23.45" ry="10.26" transform="rotate(-17.21 36.18 249.56)" fill="#ffffff" stroke="#c2c5c5" stroke-width="0.6" fill-opacity="0.8"/>
<ellipse cx="36.18" cy="249.56" rx="19.05" ry="8.06" transform="rotate(-17.21 36.18 249.56)" fill="none" stroke="#c4c7c6" stroke-width="0.5"/>
<ellipse cx="36.18" cy="249.56" rx="12.46" ry="5.13" transform="rotate(-17.21 36.18 249.56)" fill="none" stroke="#cfd1cf" stroke-width="0.5"/>
<ellipse cx="106.63" cy="234.45" rx="23.45" ry="10.26" transform="rotate(-17.21 106.63 234.45)" fill="#ffffff" stroke="#c2c5c5" stroke-width="0.6" fill-opacity="0.8"/>
<ellipse cx="106.63" cy="234.45" rx="19.05" ry="8.06" transform="rotate(-17.21 106.63 234.45)" fill="none" stroke="#c4c7c6" stroke-width="0.5"/>
<ellipse cx="106.63" cy="234.45" rx="12.46" ry="5.13" transform="rotate(-17.21 106.63 234.45)" fill="none" stroke="#cfd1cf" stroke-width="0.5"/>
<ellipse cx="118.63" cy="250.55" rx="21.59" ry="9.45" transform="rotate(-18.52 118.63 250.55)" fill="#ffffff" stroke="#c2c5c5" stroke-width="0.6" fill-opacity="0.8"/>
<ellipse cx="118.63" cy="250.55" rx="17.54" ry="7.42" transform="rotate(-18.52 118.63 250.55)" fill="none" stroke="#c4c7c6" stroke-width="0.5"/>
<ellipse cx="118.63" cy="250.55" rx="11.47" ry="4.72" transform="rotate(-18.52 118.63 250.55)" fill="none" stroke="#cfd1cf" stroke-width="0.5"/>
<ellipse cx="184.12" cy="235.64" rx="21.59" ry="9.45" transform="rotate(-18.52 184.12 235.64)" fill="#ffffff" stroke="#c2c5c5" stroke-width="0.6" fill-opacity="0.8"/>
<ellipse cx="184.12" cy="235.64" rx="17.54" ry="7.42" transform="rotate(-18.52 184.12 235.64)" fill="none" stroke="#c4c7c6" stroke-width="0.5"/>
<ellipse cx="184.12" cy="235.64" rx="11.47" ry="4.72" transform="rotate(-18.52 184.12 235.64)" fill="none" stroke="#cfd1cf" stroke-width="0.5"/>
<ellipse cx="198.41" cy="251.51" rx="19.85" ry="8.68" transform="rotate(-19.97 198.41 251.51)" fill="#ffffff" stroke="#c2c5c5" stroke-width="0.6" fill-opacity="0.8"/>
<ellipse cx="198.41" cy="251.51" rx="16.12" ry="6.82" transform="rotate(-19.97 198.41 251.51)" fill="none" stroke="#c4c7c6" stroke-width="0.5"/>
<ellipse cx="198.41" cy="251.51" rx="10.54" ry="4.34" transform="rotate(-19.97 198.41 251.51)" fill="none" stroke="#cfd1cf" stroke-width="0.5"/>
<ellipse cx="259.21" cy="236.79" rx="19.85" ry="8.68" transform="rotate(-19.97 259.21 236.79)" fill="#ffffff" stroke="#c2c5c5" stroke-width="0.6" fill-opacity="0.8"/>
<ellipse cx="259.21" cy="236.79" rx="16.12" ry="6.82" transform="rotate(-19.97 259.21 236.79)" fill="none" stroke="#c4c7c6" stroke-width="0.5"/>
<ellipse cx="259.21" cy="236.79" rx="10.54" ry="4.34" transform="rotate(-19.97 259.21 236.79)" fill="none" stroke="#cfd1cf" stroke-width="0.5"/>
<ellipse cx="275.64" cy="252.44" rx="18.21" ry="7.97" transform="rotate(-21.59 275.64 252.44)" fill="#ffffff" stroke="#c2c5c5" stroke-width="0.6" fill-opacity="0.8"/>
<ellipse cx="275.64" cy="252.44" rx="14.8" ry="6.26" transform="rotate(-21.59 275.64 252.44)" fill="none" stroke="#c4c7c6" stroke-width="0.5"/>
<ellipse cx="275.64" cy="252.44" rx="9.67" ry="3.98" transform="rotate(-21.59 275.64 252.44)" fill="none" stroke="#cfd1cf" stroke-width="0.5"/>
<ellipse cx="332" cy="237.9" rx="18.21" ry="7.97" transform="rotate(-21.59 332 237.9)" fill="#ffffff" stroke="#c2c5c5" stroke-width="0.6" fill-opacity="0.8"/>
<ellipse cx="332" cy="237.9" rx="14.8" ry="6.26" transform="rotate(-21.59 332 237.9)" fill="none" stroke="#c4c7c6" stroke-width="0.5"/>
<ellipse cx="332" cy="237.9" rx="9.67" ry="3.98" transform="rotate(-21.59 332 237.9)" fill="none" stroke="#cfd1cf" stroke-width="0.5"/>
<ellipse cx="350.44" cy="253.34" rx="16.68" ry="7.3" transform="rotate(-23.41 350.44 253.34)" fill="#ffffff" stroke="#c2c5c5" stroke-width="0.6" fill-opacity="0.8"/>
<ellipse cx="350.44" cy="253.34" rx="13.55" ry="5.73" transform="rotate(-23.41 350.44 253.34)" fill="none" stroke="#c4c7c6" stroke-width="0.5"/>
<ellipse cx="350.44" cy="253.34" rx="8.86" ry="3.65" transform="rotate(-23.41 350.44 253.34)" fill="none" stroke="#cfd1cf" stroke-width="0.5"/>
<ellipse cx="402.62" cy="238.98" rx="16.68" ry="7.3" transform="rotate(-23.41 402.62 238.98)" fill="#ffffff" stroke="#c2c5c5" stroke-width="0.6" fill-opacity="0.8"/>
<ellipse cx="402.62" cy="238.98" rx="13.55" ry="5.73" transform="rotate(-23.41 402.62 238.98)" fill="none" stroke="#c4c7c6" stroke-width="0.5"/>
<ellipse cx="402.62" cy="238.98" rx="8.86" ry="3.65" transform="rotate(-23.41 402.62 238.98)" fill="none" stroke="#cfd1cf" stroke-width="0.5"/>
<ellipse cx="422.92" cy="254.21" rx="15.25" ry="6.67" transform="rotate(-25.45 422.92 254.21)" fill="#ffffff" stroke="#c2c5c5" stroke-width="0.6" fill-opacity="0.8"/>
<ellipse cx="422.92" cy="254.21" rx="12.39" ry="5.24" transform="rotate(-25.45 422.92 254.21)" fill="none" stroke="#c4c7c6" stroke-width="0.5"/>
<ellipse cx="422.92" cy="254.21" rx="8.1" ry="3.33" transform="rotate(-25.45 422.92 254.21)" fill="none" stroke="#cfd1cf" stroke-width="0.5"/>
<ellipse cx="471.14" cy="240.02" rx="15.25" ry="6.67" transform="rotate(-25.45 471.14 240.02)" fill="#ffffff" stroke="#c2c5c5" stroke-width="0.6" fill-opacity="0.8"/>
<ellipse cx="471.14" cy="240.02" rx="12.39" ry="5.24" transform="rotate(-25.45 471.14 240.02)" fill="none" stroke="#c4c7c6" stroke-width="0.5"/>
<ellipse cx="471.14" cy="240.02" rx="8.1" ry="3.33" transform="rotate(-25.45 471.14 240.02)" fill="none" stroke="#cfd1cf" stroke-width="0.5"/>
<ellipse cx="493.2" cy="255.06" rx="13.91" ry="6.08" transform="rotate(-27.77 493.2 255.06)" fill="#ffffff" stroke="#c2c5c5" stroke-width="0.6" fill-opacity="0.8"/>
<ellipse cx="493.2" cy="255.06" rx="11.3" ry="4.78" transform="rotate(-27.77 493.2 255.06)" fill="none" stroke="#c4c7c6" stroke-width="0.5"/>
<ellipse cx="493.2" cy="255.06" rx="7.39" ry="3.04" transform="rotate(-27.77 493.2 255.06)" fill="none" stroke="#cfd1cf" stroke-width="0.5"/>
<ellipse cx="537.66" cy="241.04" rx="13.91" ry="6.08" transform="rotate(-27.77 537.66 241.04)" fill="#ffffff" stroke="#c2c5c5" stroke-width="0.6" fill-opacity="0.8"/>
<ellipse cx="537.66" cy="241.04" rx="11.3" ry="4.78" transform="rotate(-27.77 537.66 241.04)" fill="none" stroke="#c4c7c6" stroke-width="0.5"/>
<ellipse cx="537.66" cy="241.04" rx="7.39" ry="3.04" transform="rotate(-27.77 537.66 241.04)" fill="none" stroke="#cfd1cf" stroke-width="0.5"/>
<ellipse cx="561.36" cy="255.88" rx="12.67" ry="5.54" transform="rotate(-30.4 561.36 255.88)" fill="#ffffff" stroke="#c2c5c5" stroke-width="0.6" fill-opacity="0.8"/>
<ellipse cx="561.36" cy="255.88" rx="10.29" ry="4.35" transform="rotate(-30.4 561.36 255.88)" fill="none" stroke="#c4c7c6" stroke-width="0.5"/>
<ellipse cx="561.36" cy="255.88" rx="6.73" ry="2.77" transform="rotate(-30.4 561.36 255.88)" fill="none" stroke="#cfd1cf" stroke-width="0.5"/>
<ellipse cx="602.27" cy="242.03" rx="12.67" ry="5.54" transform="rotate(-30.4 602.27 242.03)" fill="#ffffff" stroke="#c2c5c5" stroke-width="0.6" fill-opacity="0.8"/>
<ellipse cx="602.27" cy="242.03" rx="10.29" ry="4.35" transform="rotate(-30.4 602.27 242.03)" fill="none" stroke="#c4c7c6" stroke-width="0.5"/>
<ellipse cx="602.27" cy="242.03" rx="6.73" ry="2.77" transform="rotate(-30.4 602.27 242.03)" fill="none" stroke="#cfd1cf" stroke-width="0.5"/>
<ellipse cx="627.51" cy="256.68" rx="11.52" ry="5.04" transform="rotate(-33.4 627.51 256.68)" fill="#ffffff" stroke="#c2c5c5" stroke-width="0.6" fill-opacity="0.8"/>
<ellipse cx="627.51" cy="256.68" rx="9.36" ry="3.96" transform="rotate(-33.4 627.51 256.68)" fill="none" stroke="#c4c7c6" stroke-width="0.5"/>
<ellipse cx="627.51" cy="256.68" rx="6.12" ry="2.52" transform="rotate(-33.4 627.51 256.68)" fill="none" stroke="#cfd1cf" stroke-width="0.5"/>
<ellipse cx="665.05" cy="242.99" rx="11.52" ry="5.04" transform="rotate(-33.4 665.05 242.99)" fill="#ffffff" stroke="#c2c5c5" stroke-width="0.6" fill-opacity="0.8"/>
<ellipse cx="665.05" cy="242.99" rx="9.36" ry="3.96" transform="rotate(-33.4 665.05 242.99)" fill="none" stroke="#c4c7c6" stroke-width="0.5"/>
<ellipse cx="665.05" cy="242.99" rx="6.12" ry="2.52" transform="rotate(-33.4 665.05 242.99)" fill="none" stroke="#cfd1cf" stroke-width="0.5"/>
<ellipse cx="691.73" cy="257.45" rx="10.46" ry="4.58" transform="rotate(-36.84 691.73 257.45)" fill="#ffffff" stroke="#c2c5c5" stroke-width="0.6" fill-opacity="0.8"/>
<ellipse cx="691.73" cy="257.45" rx="8.5" ry="3.6" transform="rotate(-36.84 691.73 257.45)" fill="none" stroke="#c4c7c6" stroke-width="0.5"/>
<ellipse cx="691.73" cy="257.45" rx="5.56" ry="2.29" transform="rotate(-36.84 691.73 257.45)" fill="none" stroke="#cfd1cf" stroke-width="0.5"/>
<ellipse cx="726.08" cy="243.92" rx="10.46" ry="4.58" transform="rotate(-36.84 726.08 243.92)" fill="#ffffff" stroke="#c2c5c5" stroke-width="0.6" fill-opacity="0.8"/>
<ellipse cx="726.08" cy="243.92" rx="8.5" ry="3.6" transform="rotate(-36.84 726.08 243.92)" fill="none" stroke="#c4c7c6" stroke-width="0.5"/>
<ellipse cx="726.08" cy="243.92" rx="5.56" ry="2.29" transform="rotate(-36.84 726.08 243.92)" fill="none" stroke="#cfd1cf" stroke-width="0.5"/>
<ellipse cx="-93.91" cy="290.43" rx="28.77" ry="12.59" transform="rotate(-17.17 -93.91 290.43)" fill="#ffffff" stroke="#c2c5c5" stroke-width="0.6" fill-opacity="0.8"/>
<ellipse cx="-93.91" cy="290.43" rx="23.38" ry="9.89" transform="rotate(-17.17 -93.91 290.43)" fill="none" stroke="#c4c7c6" stroke-width="0.5"/>
<ellipse cx="-93.91" cy="290.43" rx="15.28" ry="6.29" transform="rotate(-17.17 -93.91 290.43)" fill="none" stroke="#cfd1cf" stroke-width="0.5"/>
<ellipse cx="-8.92" cy="271.53" rx="28.77" ry="12.59" transform="rotate(-17.17 -8.92 271.53)" fill="#ffffff" stroke="#c2c5c5" stroke-width="0.6" fill-opacity="0.8"/>
<ellipse cx="-8.92" cy="271.53" rx="23.38" ry="9.89" transform="rotate(-17.17 -8.92 271.53)" fill="none" stroke="#c4c7c6" stroke-width="0.5"/>
<ellipse cx="-8.92" cy="271.53" rx="15.28" ry="6.29" transform="rotate(-17.17 -8.92 271.53)" fill="none" stroke="#cfd1cf" stroke-width="0.5"/>
<ellipse cx="0.24" cy="290.79" rx="26.41" ry="11.55" transform="rotate(-18.48 0.24 290.79)" fill="#ffffff" stroke="#c2c5c5" stroke-width="0.6" fill-opacity="0.8"/>
<ellipse cx="0.24" cy="290.79" rx="21.46" ry="9.08" transform="rotate(-18.48 0.24 290.79)" fill="none" stroke="#c4c7c6" stroke-width="0.5"/>
<ellipse cx="0.24" cy="290.79" rx="14.03" ry="5.78" transform="rotate(-18.48 0.24 290.79)" fill="none" stroke="#cfd1cf" stroke-width="0.5"/>
<ellipse cx="78.87" cy="272.19" rx="26.41" ry="11.55" transform="rotate(-18.48 78.87 272.19)" fill="#ffffff" stroke="#c2c5c5" stroke-width="0.6" fill-opacity="0.8"/>
<ellipse cx="78.87" cy="272.19" rx="21.46" ry="9.08" transform="rotate(-18.48 78.87 272.19)" fill="none" stroke="#c4c7c6" stroke-width="0.5"/>
<ellipse cx="78.87" cy="272.19" rx="14.03" ry="5.78" transform="rotate(-18.48 78.87 272.19)" fill="none" stroke="#cfd1cf" stroke-width="0.5"/>
<ellipse cx="90.99" cy="291.13" rx="24.2" ry="10.59" transform="rotate(-19.92 90.99 291.13)" fill="#ffffff" stroke="#c2c5c5" stroke-width="0.6" fill-opacity="0.8"/>
<ellipse cx="90.99" cy="291.13" rx="19.66" ry="8.32" transform="rotate(-19.92 90.99 291.13)" fill="none" stroke="#c4c7c6" stroke-width="0.5"/>
<ellipse cx="90.99" cy="291.13" rx="12.86" ry="5.29" transform="rotate(-19.92 90.99 291.13)" fill="none" stroke="#cfd1cf" stroke-width="0.5"/>
<ellipse cx="163.66" cy="272.84" rx="24.2" ry="10.59" transform="rotate(-19.92 163.66 272.84)" fill="#ffffff" stroke="#c2c5c5" stroke-width="0.6" fill-opacity="0.8"/>
<ellipse cx="163.66" cy="272.84" rx="19.66" ry="8.32" transform="rotate(-19.92 163.66 272.84)" fill="none" stroke="#c4c7c6" stroke-width="0.5"/>
<ellipse cx="163.66" cy="272.84" rx="12.86" ry="5.29" transform="rotate(-19.92 163.66 272.84)" fill="none" stroke="#cfd1cf" stroke-width="0.5"/>
<ellipse cx="178.53" cy="291.46" rx="22.14" ry="9.68" transform="rotate(-21.54 178.53 291.46)" fill="#ffffff" stroke="#c2c5c5" stroke-width="0.6" fill-opacity="0.8"/>
<ellipse cx="178.53" cy="291.46" rx="17.99" ry="7.61" transform="rotate(-21.54 178.53 291.46)" fill="none" stroke="#c4c7c6" stroke-width="0.5"/>
<ellipse cx="178.53" cy="291.46" rx="11.76" ry="4.84" transform="rotate(-21.54 178.53 291.46)" fill="none" stroke="#cfd1cf" stroke-width="0.5"/>
<ellipse cx="245.6" cy="273.46" rx="22.14" ry="9.68" transform="rotate(-21.54 245.6 273.46)" fill="#ffffff" stroke="#c2c5c5" stroke-width="0.6" fill-opacity="0.8"/>
<ellipse cx="245.6" cy="273.46" rx="17.99" ry="7.61" transform="rotate(-21.54 245.6 273.46)" fill="none" stroke="#c4c7c6" stroke-width="0.5"/>
<ellipse cx="245.6" cy="273.46" rx="11.76" ry="4.84" transform="rotate(-21.54 245.6 273.46)" fill="none" stroke="#cfd1cf" stroke-width="0.5"/>
<ellipse cx="263.03" cy="291.78" rx="20.21" ry="8.84" transform="rotate(-23.35 263.03 291.78)" fill="#ffffff" stroke="#c2c5c5" stroke-width="0.6" fill-opacity="0.8"/>
<ellipse cx="263.03" cy="291.78" rx="16.42" ry="6.95" transform="rotate(-23.35 263.03 291.78)" fill="none" stroke="#c4c7c6" stroke-width="0.5"/>
<ellipse cx="263.03" cy="291.78" rx="10.74" ry="4.42" transform="rotate(-23.35 263.03 291.78)" fill="none" stroke="#cfd1cf" stroke-width="0.5"/>
<ellipse cx="324.82" cy="274.06" rx="20.21" ry="8.84" transform="rotate(-23.35 324.82 274.06)" fill="#ffffff" stroke="#c2c5c5" stroke-width="0.6" fill-opacity="0.8"/>
<ellipse cx="324.82" cy="274.06" rx="16.42" ry="6.95" transform="rotate(-23.35 324.82 274.06)" fill="none" stroke="#c4c7c6" stroke-width="0.5"/>
<ellipse cx="324.82" cy="274.06" rx="10.74" ry="4.42" transform="rotate(-23.35 324.82 274.06)" fill="none" stroke="#cfd1cf" stroke-width="0.5"/>
<ellipse cx="344.63" cy="292.08" rx="18.43" ry="8.06" transform="rotate(-25.39 344.63 292.08)" fill="#ffffff" stroke="#c2c5c5" stroke-width="0.6" fill-opacity="0.8"/>
<ellipse cx="344.63" cy="292.08" rx="14.97" ry="6.33" transform="rotate(-25.39 344.63 292.08)" fill="none" stroke="#c4c7c6" stroke-width="0.5"/>
<ellipse cx="344.63" cy="292.08" rx="9.79" ry="4.03" transform="rotate(-25.39 344.63 292.08)" fill="none" stroke="#cfd1cf" stroke-width="0.5"/>
<ellipse cx="401.47" cy="274.64" rx="18.43" ry="8.06" transform="rotate(-25.39 401.47 274.64)" fill="#ffffff" stroke="#c2c5c5" stroke-width="0.6" fill-opacity="0.8"/>
<ellipse cx="401.47" cy="274.64" rx="14.97" ry="6.33" transform="rotate(-25.39 401.47 274.64)" fill="none" stroke="#c4c7c6" stroke-width="0.5"/>
<ellipse cx="401.47" cy="274.64" rx="9.79" ry="4.03" transform="rotate(-25.39 401.47 274.64)" fill="none" stroke="#cfd1cf" stroke-width="0.5"/>
<ellipse cx="423.49" cy="292.38" rx="16.76" ry="7.33" transform="rotate(-27.7 423.49 292.38)" fill="#ffffff" stroke="#c2c5c5" stroke-width="0.6" fill-opacity="0.8"/>
<ellipse cx="423.49" cy="292.38" rx="13.62" ry="5.76" transform="rotate(-27.7 423.49 292.38)" fill="none" stroke="#c4c7c6" stroke-width="0.5"/>
<ellipse cx="423.49" cy="292.38" rx="8.91" ry="3.67" transform="rotate(-27.7 423.49 292.38)" fill="none" stroke="#cfd1cf" stroke-width="0.5"/>
<ellipse cx="475.66" cy="275.2" rx="16.76" ry="7.33" transform="rotate(-27.7 475.66 275.2)" fill="#ffffff" stroke="#c2c5c5" stroke-width="0.6" fill-opacity="0.8"/>
<ellipse cx="475.66" cy="275.2" rx="13.62" ry="5.76" transform="rotate(-27.7 475.66 275.2)" fill="none" stroke="#c4c7c6" stroke-width="0.5"/>
<ellipse cx="475.66" cy="275.2" rx="8.91" ry="3.67" transform="rotate(-27.7 475.66 275.2)" fill="none" stroke="#cfd1cf" stroke-width="0.5"/>
<ellipse cx="499.74" cy="292.67" rx="15.23" ry="6.66" transform="rotate(-30.32 499.74 292.67)" fill="#ffffff" stroke="#c2c5c5" stroke-width="0.6" fill-opacity="0.8"/>
<ellipse cx="499.74" cy="292.67" rx="12.37" ry="5.23" transform="rotate(-30.32 499.74 292.67)" fill="none" stroke="#c4c7c6" stroke-width="0.5"/>
<ellipse cx="499.74" cy="292.67" rx="8.09" ry="3.33" transform="rotate(-30.32 499.74 292.67)" fill="none" stroke="#cfd1cf" stroke-width="0.5"/>
<ellipse cx="547.51" cy="275.74" rx="15.23" ry="6.66" transform="rotate(-30.32 547.51 275.74)" fill="#ffffff" stroke="#c2c5c5" stroke-width="0.6" fill-opacity="0.8"/>
<ellipse cx="547.51" cy="275.74" rx="12.37" ry="5.23" transform="rotate(-30.32 547.51 275.74)" fill="none" stroke="#c4c7c6" stroke-width="0.5"/>
<ellipse cx="547.51" cy="275.74" rx="8.09" ry="3.33" transform="rotate(-30.32 547.51 275.74)" fill="none" stroke="#cfd1cf" stroke-width="0.5"/>
<ellipse cx="573.51" cy="292.94" rx="13.81" ry="6.04" transform="rotate(-33.31 573.51 292.94)" fill="#ffffff" stroke="#c2c5c5" stroke-width="0.6" fill-opacity="0.8"/>
<ellipse cx="573.51" cy="292.94" rx="11.22" ry="4.75" transform="rotate(-33.31 573.51 292.94)" fill="none" stroke="#c4c7c6" stroke-width="0.5"/>
<ellipse cx="573.51" cy="292.94" rx="7.34" ry="3.02" transform="rotate(-33.31 573.51 292.94)" fill="none" stroke="#cfd1cf" stroke-width="0.5"/>
<ellipse cx="617.13" cy="276.27" rx="13.81" ry="6.04" transform="rotate(-33.31 617.13 276.27)" fill="#ffffff" stroke="#c2c5c5" stroke-width="0.6" fill-opacity="0.8"/>
<ellipse cx="617.13" cy="276.27" rx="11.22" ry="4.75" transform="rotate(-33.31 617.13 276.27)" fill="none" stroke="#c4c7c6" stroke-width="0.5"/>
<ellipse cx="617.13" cy="276.27" rx="7.34" ry="3.02" transform="rotate(-33.31 617.13 276.27)" fill="none" stroke="#cfd1cf" stroke-width="0.5"/>
<ellipse cx="644.92" cy="293.21" rx="12.51" ry="5.47" transform="rotate(-36.73 644.92 293.21)" fill="#ffffff" stroke="#c2c5c5" stroke-width="0.6" fill-opacity="0.8"/>
<ellipse cx="644.92" cy="293.21" rx="10.16" ry="4.3" transform="rotate(-36.73 644.92 293.21)" fill="none" stroke="#c4c7c6" stroke-width="0.5"/>
<ellipse cx="644.92" cy="293.21" rx="6.65" ry="2.74" transform="rotate(-36.73 644.92 293.21)" fill="none" stroke="#cfd1cf" stroke-width="0.5"/>
<ellipse cx="684.62" cy="276.78" rx="12.51" ry="5.47" transform="rotate(-36.73 684.62 276.78)" fill="#ffffff" stroke="#c2c5c5" stroke-width="0.6" fill-opacity="0.8"/>
<ellipse cx="684.62" cy="276.78" rx="10.16" ry="4.3" transform="rotate(-36.73 684.62 276.78)" fill="none" stroke="#c4c7c6" stroke-width="0.5"/>
<ellipse cx="684.62" cy="276.78" rx="6.65" ry="2.74" transform="rotate(-36.73 684.62 276.78)" fill="none" stroke="#cfd1cf" stroke-width="0.5"/>
<ellipse cx="-43.21" cy="340.63" rx="30.15" ry="13.19" transform="rotate(-19.88 -43.21 340.63)" fill="#ffffff" stroke="#c2c5c5" stroke-width="0.6" fill-opacity="0.8"/>
<ellipse cx="-43.21" cy="340.63" rx="24.49" ry="10.36" transform="rotate(-19.88 -43.21 340.63)" fill="none" stroke="#c4c7c6" stroke-width="0.5"/>
<ellipse cx="-43.21" cy="340.63" rx="16.01" ry="6.59" transform="rotate(-19.88 -43.21 340.63)" fill="none" stroke="#cfd1cf" stroke-width="0.5"/>
<ellipse cx="45.64" cy="317.37" rx="30.15" ry="13.19" transform="rotate(-19.88 45.64 317.37)" fill="#ffffff" stroke="#c2c5c5" stroke-width="0.6" fill-opacity="0.8"/>
<ellipse cx="45.64" cy="317.37" rx="24.49" ry="10.36" transform="rotate(-19.88 45.64 317.37)" fill="none" stroke="#c4c7c6" stroke-width="0.5"/>
<ellipse cx="45.64" cy="317.37" rx="16.01" ry="6.59" transform="rotate(-19.88 45.64 317.37)" fill="none" stroke="#cfd1cf" stroke-width="0.5"/>
<ellipse cx="57.7" cy="340.01" rx="27.47" ry="12.02" transform="rotate(-21.49 57.7 340.01)" fill="#ffffff" stroke="#c2c5c5" stroke-width="0.6" fill-opacity="0.8"/>
<ellipse cx="57.7" cy="340.01" rx="22.32" ry="9.44" transform="rotate(-21.49 57.7 340.01)" fill="none" stroke="#c4c7c6" stroke-width="0.5"/>
<ellipse cx="57.7" cy="340.01" rx="14.6" ry="6.01" transform="rotate(-21.49 57.7 340.01)" fill="none" stroke="#cfd1cf" stroke-width="0.5"/>
<ellipse cx="139.25" cy="317.22" rx="27.47" ry="12.02" transform="rotate(-21.49 139.25 317.22)" fill="#ffffff" stroke="#c2c5c5" stroke-width="0.6" fill-opacity="0.8"/>
<ellipse cx="139.25" cy="317.22" rx="22.32" ry="9.44" transform="rotate(-21.49 139.25 317.22)" fill="none" stroke="#c4c7c6" stroke-width="0.5"/>
<ellipse cx="139.25" cy="317.22" rx="14.6" ry="6.01" transform="rotate(-21.49 139.25 317.22)" fill="none" stroke="#cfd1cf" stroke-width="0.5"/>
<ellipse cx="154.67" cy="339.42" rx="25" ry="10.94" transform="rotate(-23.29 154.67 339.42)" fill="#ffffff" stroke="#c2c5c5" stroke-width="0.6" fill-opacity="0.8"/>
<ellipse cx="154.67" cy="339.42" rx="20.31" ry="8.59" transform="rotate(-23.29 154.67 339.42)" fill="none" stroke="#c4c7c6" stroke-width="0.5"/>
<ellipse cx="154.67" cy="339.42" rx="13.28" ry="5.47" transform="rotate(-23.29 154.67 339.42)" fill="none" stroke="#cfd1cf" stroke-width="0.5"/>
<ellipse cx="229.4" cy="317.08" rx="25" ry="10.94" transform="rotate(-23.29 229.4 317.08)" fill="#ffffff" stroke="#c2c5c5" stroke-width="0.6" fill-opacity="0.8"/>
<ellipse cx="229.4" cy="317.08" rx="20.31" ry="8.59" transform="rotate(-23.29 229.4 317.08)" fill="none" stroke="#c4c7c6" stroke-width="0.5"/>
<ellipse cx="229.4" cy="317.08" rx="13.28" ry="5.47" transform="rotate(-23.29 229.4 317.08)" fill="none" stroke="#cfd1cf" stroke-width="0.5"/>
<ellipse cx="247.94" cy="338.85" rx="22.71" ry="9.93" transform="rotate(-25.33 247.94 338.85)" fill="#ffffff" stroke="#c2c5c5" stroke-width="0.6" fill-opacity="0.8"/>
<ellipse cx="247.94" cy="338.85" rx="18.45" ry="7.81" transform="rotate(-25.33 247.94 338.85)" fill="none" stroke="#c4c7c6" stroke-width="0.5"/>
<ellipse cx="247.94" cy="338.85" rx="12.06" ry="4.97" transform="rotate(-25.33 247.94 338.85)" fill="none" stroke="#cfd1cf" stroke-width="0.5"/>
<ellipse cx="316.3" cy="316.95" rx="22.71" ry="9.93" transform="rotate(-25.33 316.3 316.95)" fill="#ffffff" stroke="#c2c5c5" stroke-width="0.6" fill-opacity="0.8"/>
<ellipse cx="316.3" cy="316.95" rx="18.45" ry="7.81" transform="rotate(-25.33 316.3 316.95)" fill="none" stroke="#c4c7c6" stroke-width="0.5"/>
<ellipse cx="316.3" cy="316.95" rx="12.06" ry="4.97" transform="rotate(-25.33 316.3 316.95)" fill="none" stroke="#cfd1cf" stroke-width="0.5"/>
<ellipse cx="337.71" cy="338.31" rx="20.59" ry="9.01" transform="rotate(-27.62 337.71 338.31)" fill="#ffffff" stroke="#c2c5c5" stroke-width="0.6" fill-opacity="0.8"/>
<ellipse cx="337.71" cy="338.31" rx="16.73" ry="7.08" transform="rotate(-27.62 337.71 338.31)" fill="none" stroke="#c4c7c6" stroke-width="0.5"/>
<ellipse cx="337.71" cy="338.31" rx="10.94" ry="4.5" transform="rotate(-27.62 337.71 338.31)" fill="none" stroke="#cfd1cf" stroke-width="0.5"/>
<ellipse cx="400.11" cy="316.82" rx="20.59" ry="9.01" transform="rotate(-27.62 400.11 316.82)" fill="#ffffff" stroke="#c2c5c5" stroke-width="0.6" fill-opacity="0.8"/>
<ellipse cx="400.11" cy="316.82" rx="16.73" ry="7.08" transform="rotate(-27.62 400.11 316.82)" fill="none" stroke="#c4c7c6" stroke-width="0.5"/>
<ellipse cx="400.11" cy="316.82" rx="10.94" ry="4.5" transform="rotate(-27.62 400.11 316.82)" fill="none" stroke="#cfd1cf" stroke-width="0.5"/>
<ellipse cx="424.17" cy="337.78" rx="18.64" ry="8.15" transform="rotate(-30.23 424.17 337.78)" fill="#ffffff" stroke="#c2c5c5" stroke-width="0.6" fill-opacity="0.8"/>
<ellipse cx="424.17" cy="337.78" rx="15.14" ry="6.41" transform="rotate(-30.23 424.17 337.78)" fill="none" stroke="#c4c7c6" stroke-width="0.5"/>
<ellipse cx="424.17" cy="337.78" rx="9.9" ry="4.08" transform="rotate(-30.23 424.17 337.78)" fill="none" stroke="#cfd1cf" stroke-width="0.5"/>
<ellipse cx="480.99" cy="316.7" rx="18.64" ry="8.15" transform="rotate(-30.23 480.99 316.7)" fill="#ffffff" stroke="#c2c5c5" stroke-width="0.6" fill-opacity="0.8"/>
<ellipse cx="480.99" cy="316.7" rx="15.14" ry="6.41" transform="rotate(-30.23 480.99 316.7)" fill="none" stroke="#c4c7c6" stroke-width="0.5"/>
<ellipse cx="480.99" cy="316.7" rx="9.9" ry="4.08" transform="rotate(-30.23 480.99 316.7)" fill="none" stroke="#cfd1cf" stroke-width="0.5"/>
<ellipse cx="507.51" cy="337.27" rx="16.85" ry="7.37" transform="rotate(-33.21 507.51 337.27)" fill="#ffffff" stroke="#c2c5c5" stroke-width="0.6" fill-opacity="0.8"/>
<ellipse cx="507.51" cy="337.27" rx="13.69" ry="5.79" transform="rotate(-33.21 507.51 337.27)" fill="none" stroke="#c4c7c6" stroke-width="0.5"/>
<ellipse cx="507.51" cy="337.27" rx="8.95" ry="3.69" transform="rotate(-33.21 507.51 337.27)" fill="none" stroke="#cfd1cf" stroke-width="0.5"/>
<ellipse cx="559.1" cy="316.58" rx="16.85" ry="7.37" transform="rotate(-33.21 559.1 316.58)" fill="#ffffff" stroke="#c2c5c5" stroke-width="0.6" fill-opacity="0.8"/>
<ellipse cx="559.1" cy="316.58" rx="13.69" ry="5.79" transform="rotate(-33.21 559.1 316.58)" fill="none" stroke="#c4c7c6" stroke-width="0.5"/>
<ellipse cx="559.1" cy="316.58" rx="8.95" ry="3.69" transform="rotate(-33.21 559.1 316.58)" fill="none" stroke="#cfd1cf" stroke-width="0.5"/>
<ellipse cx="587.88" cy="336.78" rx="15.22" ry="6.66" transform="rotate(-36.62 587.88 336.78)" fill="#ffffff" stroke="#c2c5c5" stroke-width="0.6" fill-opacity="0.8"/>
<ellipse cx="587.88" cy="336.78" rx="12.37" ry="5.23" transform="rotate(-36.62 587.88 336.78)" fill="none" stroke="#c4c7c6" stroke-width="0.5"/>
<ellipse cx="587.88" cy="336.78" rx="8.09" ry="3.33" transform="rotate(-36.62 587.88 336.78)" fill="none" stroke="#cfd1cf" stroke-width="0.5"/>
<ellipse cx="634.57" cy="316.46" rx="15.22" ry="6.66" transform="rotate(-36.62 634.57 316.46)" fill="#ffffff" stroke="#c2c5c5" stroke-width="0.6" fill-opacity="0.8"/>
<ellipse cx="634.57" cy="316.46" rx="12.37" ry="5.23" transform="rotate(-36.62 634.57 316.46)" fill="none" stroke="#c4c7c6" stroke-width="0.5"/>
<ellipse cx="634.57" cy="316.46" rx="8.09" ry="3.33" transform="rotate(-36.62 634.57 316.46)" fill="none" stroke="#cfd1cf" stroke-width="0.5"/>
<ellipse cx="665.46" cy="336.31" rx="13.74" ry="6.01" transform="rotate(-40.54 665.46 336.31)" fill="#ffffff" stroke="#c2c5c5" stroke-width="0.6" fill-opacity="0.8"/>
<ellipse cx="665.46" cy="336.31" rx="11.17" ry="4.72" transform="rotate(-40.54 665.46 336.31)" fill="none" stroke="#c4c7c6" stroke-width="0.5"/>
<ellipse cx="665.46" cy="336.31" rx="7.3" ry="3.01" transform="rotate(-40.54 665.46 336.31)" fill="none" stroke="#cfd1cf" stroke-width="0.5"/>
<ellipse cx="707.54" cy="316.35" rx="13.74" ry="6.01" transform="rotate(-40.54 707.54 316.35)" fill="#ffffff" stroke="#c2c5c5" stroke-width="0.6" fill-opacity="0.8"/>
<ellipse cx="707.54" cy="316.35" rx="11.17" ry="4.72" transform="rotate(-40.54 707.54 316.35)" fill="none" stroke="#c4c7c6" stroke-width="0.5"/>
<ellipse cx="707.54" cy="316.35" rx="7.3" ry="3.01" transform="rotate(-40.54 707.54 316.35)" fill="none" stroke="#cfd1cf" stroke-width="0.5"/>
<ellipse cx="-96.78" cy="402.08" rx="34.99" ry="15.31" transform="rotate(-21.44 -96.78 402.08)" fill="#ffffff" stroke="#c2c5c5" stroke-width="0.6" fill-opacity="0.8"/>
<ellipse cx="-96.78" cy="402.08" rx="28.43" ry="12.03" transform="rotate(-21.44 -96.78 402.08)" fill="none" stroke="#c4c7c6" stroke-width="0.5"/>
<ellipse cx="-96.78" cy="402.08" rx="18.59" ry="7.65" transform="rotate(-21.44 -96.78 402.08)" fill="none" stroke="#cfd1cf" stroke-width="0.5"/>
<ellipse cx="5.15" cy="372.4" rx="34.99" ry="15.31" transform="rotate(-21.44 5.15 372.4)" fill="#ffffff" stroke="#c2c5c5" stroke-width="0.6" fill-opacity="0.8"/>
<ellipse cx="5.15" cy="372.4" rx="28.43" ry="12.03" transform="rotate(-21.44 5.15 372.4)" fill="none" stroke="#c4c7c6" stroke-width="0.5"/>
<ellipse cx="5.15" cy="372.4" rx="18.59" ry="7.65" transform="rotate(-21.44 5.15 372.4)" fill="none" stroke="#cfd1cf" stroke-width="0.5"/>
<ellipse cx="16.82" cy="400.04" rx="31.69" ry="13.87" transform="rotate(-23.24 16.82 400.04)" fill="#ffffff" stroke="#c2c5c5" stroke-width="0.6" fill-opacity="0.8"/>
<ellipse cx="16.82" cy="400.04" rx="25.75" ry="10.89" transform="rotate(-23.24 16.82 400.04)" fill="none" stroke="#c4c7c6" stroke-width="0.5"/>
<ellipse cx="16.82" cy="400.04" rx="16.84" ry="6.93" transform="rotate(-23.24 16.82 400.04)" fill="none" stroke="#cfd1cf" stroke-width="0.5"/>
<ellipse cx="109.61" cy="371.1" rx="31.69" ry="13.87" transform="rotate(-23.24 109.61 371.1)" fill="#ffffff" stroke="#c2c5c5" stroke-width="0.6" fill-opacity="0.8"/>
<ellipse cx="109.61" cy="371.1" rx="25.75" ry="10.89" transform="rotate(-23.24 109.61 371.1)" fill="none" stroke="#c4c7c6" stroke-width="0.5"/>
<ellipse cx="109.61" cy="371.1" rx="16.84" ry="6.93" transform="rotate(-23.24 109.61 371.1)" fill="none" stroke="#cfd1cf" stroke-width="0.5"/>
<ellipse cx="125.49" cy="398.08" rx="28.66" ry="12.54" transform="rotate(-25.26 125.49 398.08)" fill="#ffffff" stroke="#c2c5c5" stroke-width="0.6" fill-opacity="0.8"/>
<ellipse cx="125.49" cy="398.08" rx="23.29" ry="9.85" transform="rotate(-25.26 125.49 398.08)" fill="none" stroke="#c4c7c6" stroke-width="0.5"/>
<ellipse cx="125.49" cy="398.08" rx="15.23" ry="6.27" transform="rotate(-25.26 125.49 398.08)" fill="none" stroke="#cfd1cf" stroke-width="0.5"/>
<ellipse cx="209.82" cy="369.85" rx="28.66" ry="12.54" transform="rotate(-25.26 209.82 369.85)" fill="#ffffff" stroke="#c2c5c5" stroke-width="0.6" fill-opacity="0.8"/>
<ellipse cx="209.82" cy="369.85" rx="23.29" ry="9.85" transform="rotate(-25.26 209.82 369.85)" fill="none" stroke="#c4c7c6" stroke-width="0.5"/>
<ellipse cx="209.82" cy="369.85" rx="15.23" ry="6.27" transform="rotate(-25.26 209.82 369.85)" fill="none" stroke="#cfd1cf" stroke-width="0.5"/>
<ellipse cx="229.56" cy="396.21" rx="25.88" ry="11.32" transform="rotate(-27.55 229.56 396.21)" fill="#ffffff" stroke="#c2c5c5" stroke-width="0.6" fill-opacity="0.8"/>
<ellipse cx="229.56" cy="396.21" rx="21.03" ry="8.9" transform="rotate(-27.55 229.56 396.21)" fill="none" stroke="#c4c7c6" stroke-width="0.5"/>
<ellipse cx="229.56" cy="396.21" rx="13.75" ry="5.66" transform="rotate(-27.55 229.56 396.21)" fill="none" stroke="#cfd1cf" stroke-width="0.5"/>
<ellipse cx="306.03" cy="368.65" rx="25.88" ry="11.32" transform="rotate(-27.55 306.03 368.65)" fill="#ffffff" stroke="#c2c5c5" stroke-width="0.6" fill-opacity="0.8"/>
<ellipse cx="306.03" cy="368.65" rx="21.03" ry="8.9" transform="rotate(-27.55 306.03 368.65)" fill="none" stroke="#c4c7c6" stroke-width="0.5"/>
<ellipse cx="306.03" cy="368.65" rx="13.75" ry="5.66" transform="rotate(-27.55 306.03 368.65)" fill="none" stroke="#cfd1cf" stroke-width="0.5"/>
<ellipse cx="329.3" cy="394.41" rx="23.33" ry="10.21" transform="rotate(-30.15 329.3 394.41)" fill="#ffffff" stroke="#c2c5c5" stroke-width="0.6" fill-opacity="0.8"/>
<ellipse cx="329.3" cy="394.41" rx="18.96" ry="8.02" transform="rotate(-30.15 329.3 394.41)" fill="none" stroke="#c4c7c6" stroke-width="0.5"/>
<ellipse cx="329.3" cy="394.41" rx="12.4" ry="5.1" transform="rotate(-30.15 329.3 394.41)" fill="none" stroke="#cfd1cf" stroke-width="0.5"/>
<ellipse cx="398.47" cy="367.5" rx="23.33" ry="10.21" transform="rotate(-30.15 398.47 367.5)" fill="#ffffff" stroke="#c2c5c5" stroke-width="0.6" fill-opacity="0.8"/>
<ellipse cx="398.47" cy="367.5" rx="18.96" ry="8.02" transform="rotate(-30.15 398.47 367.5)" fill="none" stroke="#c4c7c6" stroke-width="0.5"/>
<ellipse cx="398.47" cy="367.5" rx="12.4" ry="5.1" transform="rotate(-30.15 398.47 367.5)" fill="none" stroke="#cfd1cf" stroke-width="0.5"/>
<ellipse cx="424.99" cy="392.69" rx="21.01" ry="9.19" transform="rotate(-33.12 424.99 392.69)" fill="#ffffff" stroke="#c2c5c5" stroke-width="0.6" fill-opacity="0.8"/>
<ellipse cx="424.99" cy="392.69" rx="17.07" ry="7.22" transform="rotate(-33.12 424.99 392.69)" fill="none" stroke="#c4c7c6" stroke-width="0.5"/>
<ellipse cx="424.99" cy="392.69" rx="11.16" ry="4.6" transform="rotate(-33.12 424.99 392.69)" fill="none" stroke="#cfd1cf" stroke-width="0.5"/>
<ellipse cx="487.37" cy="366.39" rx="21.01" ry="9.19" transform="rotate(-33.12 487.37 366.39)" fill="#ffffff" stroke="#c2c5c5" stroke-width="0.6" fill-opacity="0.8"/>
<ellipse cx="487.37" cy="366.39" rx="17.07" ry="7.22" transform="rotate(-33.12 487.37 366.39)" fill="none" stroke="#c4c7c6" stroke-width="0.5"/>
<ellipse cx="487.37" cy="366.39" rx="11.16" ry="4.6" transform="rotate(-33.12 487.37 366.39)" fill="none" stroke="#cfd1cf" stroke-width="0.5"/>
<ellipse cx="516.87" cy="391.04" rx="18.91" ry="8.27" transform="rotate(-36.52 516.87 391.04)" fill="#ffffff" stroke="#c2c5c5" stroke-width="0.6" fill-opacity="0.8"/>
<ellipse cx="516.87" cy="391.04" rx="15.36" ry="6.5" transform="rotate(-36.52 516.87 391.04)" fill="none" stroke="#c4c7c6" stroke-width="0.5"/>
<ellipse cx="516.87" cy="391.04" rx="10.04" ry="4.14" transform="rotate(-36.52 516.87 391.04)" fill="none" stroke="#cfd1cf" stroke-width="0.5"/>
<ellipse cx="572.93" cy="365.33" rx="18.91" ry="8.27" transform="rotate(-36.52 572.93 365.33)" fill="#ffffff" stroke="#c2c5c5" stroke-width="0.6" fill-opacity="0.8"/>
<ellipse cx="572.93" cy="365.33" rx="15.36" ry="6.5" transform="rotate(-36.52 572.93 365.33)" fill="none" stroke="#c4c7c6" stroke-width="0.5"/>
<ellipse cx="572.93" cy="365.33" rx="10.04" ry="4.14" transform="rotate(-36.52 572.93 365.33)" fill="none" stroke="#cfd1cf" stroke-width="0.5"/>
<ellipse cx="605.15" cy="389.45" rx="17.01" ry="7.44" transform="rotate(-40.41 605.15 389.45)" fill="#ffffff" stroke="#c2c5c5" stroke-width="0.6" fill-opacity="0.8"/>
<ellipse cx="605.15" cy="389.45" rx="13.82" ry="5.85" transform="rotate(-40.41 605.15 389.45)" fill="none" stroke="#c4c7c6" stroke-width="0.5"/>
<ellipse cx="605.15" cy="389.45" rx="9.04" ry="3.72" transform="rotate(-40.41 605.15 389.45)" fill="none" stroke="#cfd1cf" stroke-width="0.5"/>
<ellipse cx="655.32" cy="364.3" rx="17.01" ry="7.44" transform="rotate(-40.41 655.32 364.3)" fill="#ffffff" stroke="#c2c5c5" stroke-width="0.6" fill-opacity="0.8"/>
<ellipse cx="655.32" cy="364.3" rx="13.82" ry="5.85" transform="rotate(-40.41 655.32 364.3)" fill="none" stroke="#c4c7c6" stroke-width="0.5"/>
<ellipse cx="655.32" cy="364.3" rx="9.04" ry="3.72" transform="rotate(-40.41 655.32 364.3)" fill="none" stroke="#cfd1cf" stroke-width="0.5"/>
<ellipse cx="690.05" cy="387.92" rx="15.33" ry="6.7" transform="rotate(-44.89 690.05 387.92)" fill="#ffffff" stroke="#c2c5c5" stroke-width="0.6" fill-opacity="0.8"/>
<ellipse cx="690.05" cy="387.92" rx="12.45" ry="5.27" transform="rotate(-44.89 690.05 387.92)" fill="none" stroke="#c4c7c6" stroke-width="0.5"/>
<ellipse cx="690.05" cy="387.92" rx="8.14" ry="3.35" transform="rotate(-44.89 690.05 387.92)" fill="none" stroke="#cfd1cf" stroke-width="0.5"/>
<ellipse cx="734.73" cy="363.31" rx="15.33" ry="6.7" transform="rotate(-44.89 734.73 363.31)" fill="#ffffff" stroke="#c2c5c5" stroke-width="0.6" fill-opacity="0.8"/>
<ellipse cx="734.73" cy="363.31" rx="12.45" ry="5.27" transform="rotate(-44.89 734.73 363.31)" fill="none" stroke="#c4c7c6" stroke-width="0.5"/>
<ellipse cx="734.73" cy="363.31" rx="8.14" ry="3.35" transform="rotate(-44.89 734.73 363.31)" fill="none" stroke="#cfd1cf" stroke-width="0.5"/>
<ellipse cx="-34.59" cy="475.52" rx="37.29" ry="16.31" transform="rotate(-25.2 -34.59 475.52)" fill="#ffffff" stroke="#c2c5c5" stroke-width="0.6" fill-opacity="0.8"/>
<ellipse cx="-34.59" cy="475.52" rx="30.3" ry="12.82" transform="rotate(-25.2 -34.59 475.52)" fill="none" stroke="#c4c7c6" stroke-width="0.5"/>
<ellipse cx="-34.59" cy="475.52" rx="19.81" ry="8.16" transform="rotate(-25.2 -34.59 475.52)" fill="none" stroke="#cfd1cf" stroke-width="0.5"/>
<ellipse cx="72.88" cy="437.89" rx="37.29" ry="16.31" transform="rotate(-25.2 72.88 437.89)" fill="#ffffff" stroke="#c2c5c5" stroke-width="0.6" fill-opacity="0.8"/>
<ellipse cx="72.88" cy="437.89" rx="30.3" ry="12.82" transform="rotate(-25.2 72.88 437.89)" fill="none" stroke="#c4c7c6" stroke-width="0.5"/>
<ellipse cx="72.88" cy="437.89" rx="19.81" ry="8.16" transform="rotate(-25.2 72.88 437.89)" fill="none" stroke="#cfd1cf" stroke-width="0.5"/>
<ellipse cx="88.98" cy="471.47" rx="33.49" ry="14.65" transform="rotate(-27.48 88.98 471.47)" fill="#ffffff" stroke="#c2c5c5" stroke-width="0.6" fill-opacity="0.8"/>
<ellipse cx="88.98" cy="471.47" rx="27.21" ry="11.51" transform="rotate(-27.48 88.98 471.47)" fill="none" stroke="#c4c7c6" stroke-width="0.5"/>
<ellipse cx="88.98" cy="471.47" rx="17.79" ry="7.33" transform="rotate(-27.48 88.98 471.47)" fill="none" stroke="#cfd1cf" stroke-width="0.5"/>
<ellipse cx="185.65" cy="434.98" rx="33.49" ry="14.65" transform="rotate(-27.48 185.65 434.98)" fill="#ffffff" stroke="#c2c5c5" stroke-width="0.6" fill-opacity="0.8"/>
<ellipse cx="185.65" cy="434.98" rx="27.21" ry="11.51" transform="rotate(-27.48 185.65 434.98)" fill="none" stroke="#c4c7c6" stroke-width="0.5"/>
<ellipse cx="185.65" cy="434.98" rx="17.79" ry="7.33" transform="rotate(-27.48 185.65 434.98)" fill="none" stroke="#cfd1cf" stroke-width="0.5"/>
<ellipse cx="206.67" cy="467.62" rx="30.04" ry="13.14" transform="rotate(-30.07 206.67 467.62)" fill="#ffffff" stroke="#c2c5c5" stroke-width="0.6" fill-opacity="0.8"/>
<ellipse cx="206.67" cy="467.62" rx="24.41" ry="10.33" transform="rotate(-30.07 206.67 467.62)" fill="none" stroke="#c4c7c6" stroke-width="0.5"/>
<ellipse cx="206.67" cy="467.62" rx="15.96" ry="6.57" transform="rotate(-30.07 206.67 467.62)" fill="none" stroke="#cfd1cf" stroke-width="0.5"/>
<ellipse cx="293.4" cy="432.19" rx="30.04" ry="13.14" transform="rotate(-30.07 293.4 432.19)" fill="#ffffff" stroke="#c2c5c5" stroke-width="0.6" fill-opacity="0.8"/>
<ellipse cx="293.4" cy="432.19" rx="24.41" ry="10.33" transform="rotate(-30.07 293.4 432.19)" fill="none" stroke="#c4c7c6" stroke-width="0.5"/>
<ellipse cx="293.4" cy="432.19" rx="15.96" ry="6.57" transform="rotate(-30.07 293.4 432.19)" fill="none" stroke="#cfd1cf" stroke-width="0.5"/>
<ellipse cx="318.89" cy="463.95" rx="26.92" ry="11.78" transform="rotate(-33.03 318.89 463.95)" fill="#ffffff" stroke="#c2c5c5" stroke-width="0.6" fill-opacity="0.8"/>
<ellipse cx="318.89" cy="463.95" rx="21.87" ry="9.25" transform="rotate(-33.03 318.89 463.95)" fill="none" stroke="#c4c7c6" stroke-width="0.5"/>
<ellipse cx="318.89" cy="463.95" rx="14.3" ry="5.89" transform="rotate(-33.03 318.89 463.95)" fill="none" stroke="#cfd1cf" stroke-width="0.5"/>
<ellipse cx="396.47" cy="429.53" rx="26.92" ry="11.78" transform="rotate(-33.03 396.47 429.53)" fill="#ffffff" stroke="#c2c5c5" stroke-width="0.6" fill-opacity="0.8"/>
<ellipse cx="396.47" cy="429.53" rx="21.87" ry="9.25" transform="rotate(-33.03 396.47 429.53)" fill="none" stroke="#c4c7c6" stroke-width="0.5"/>
<ellipse cx="396.47" cy="429.53" rx="14.3" ry="5.89" transform="rotate(-33.03 396.47 429.53)" fill="none" stroke="#cfd1cf" stroke-width="0.5"/>
<ellipse cx="426.01" cy="460.45" rx="24.1" ry="10.55" transform="rotate(-36.41 426.01 460.45)" fill="#ffffff" stroke="#c2c5c5" stroke-width="0.6" fill-opacity="0.8"/>
<ellipse cx="426.01" cy="460.45" rx="19.58" ry="8.29" transform="rotate(-36.41 426.01 460.45)" fill="none" stroke="#c4c7c6" stroke-width="0.5"/>
<ellipse cx="426.01" cy="460.45" rx="12.81" ry="5.27" transform="rotate(-36.41 426.01 460.45)" fill="none" stroke="#cfd1cf" stroke-width="0.5"/>
<ellipse cx="495.16" cy="426.98" rx="24.1" ry="10.55" transform="rotate(-36.41 495.16 426.98)" fill="#ffffff" stroke="#c2c5c5" stroke-width="0.6" fill-opacity="0.8"/>
<ellipse cx="495.16" cy="426.98" rx="19.58" ry="8.29" transform="rotate(-36.41 495.16 426.98)" fill="none" stroke="#c4c7c6" stroke-width="0.5"/>
<ellipse cx="495.16" cy="426.98" rx="12.81" ry="5.27" transform="rotate(-36.41 495.16 426.98)" fill="none" stroke="#cfd1cf" stroke-width="0.5"/>
<ellipse cx="528.36" cy="457.1" rx="21.59" ry="9.44" transform="rotate(-40.29 528.36 457.1)" fill="#ffffff" stroke="#c2c5c5" stroke-width="0.6" fill-opacity="0.8"/>
<ellipse cx="528.36" cy="457.1" rx="17.54" ry="7.42" transform="rotate(-40.29 528.36 457.1)" fill="none" stroke="#c4c7c6" stroke-width="0.5"/>
<ellipse cx="528.36" cy="457.1" rx="11.47" ry="4.72" transform="rotate(-40.29 528.36 457.1)" fill="none" stroke="#cfd1cf" stroke-width="0.5"/>
<ellipse cx="589.73" cy="424.54" rx="21.59" ry="9.44" transform="rotate(-40.29 589.73 424.54)" fill="#ffffff" stroke="#c2c5c5" stroke-width="0.6" fill-opacity="0.8"/>
<ellipse cx="589.73" cy="424.54" rx="17.54" ry="7.42" transform="rotate(-40.29 589.73 424.54)" fill="none" stroke="#c4c7c6" stroke-width="0.5"/>
<ellipse cx="589.73" cy="424.54" rx="11.47" ry="4.72" transform="rotate(-40.29 589.73 424.54)" fill="none" stroke="#cfd1cf" stroke-width="0.5"/>
<ellipse cx="626.28" cy="453.9" rx="19.36" ry="8.47" transform="rotate(-44.75 626.28 453.9)" fill="#ffffff" stroke="#c2c5c5" stroke-width="0.6" fill-opacity="0.8"/>
<ellipse cx="626.28" cy="453.9" rx="15.73" ry="6.66" transform="rotate(-44.75 626.28 453.9)" fill="none" stroke="#c4c7c6" stroke-width="0.5"/>
<ellipse cx="626.28" cy="453.9" rx="10.29" ry="4.24" transform="rotate(-44.75 626.28 453.9)" fill="none" stroke="#cfd1cf" stroke-width="0.5"/>
<ellipse cx="680.44" cy="422.19" rx="19.36" ry="8.47" transform="rotate(-44.75 680.44 422.19)" fill="#ffffff" stroke="#c2c5c5" stroke-width="0.6" fill-opacity="0.8"/>
<ellipse cx="680.44" cy="422.19" rx="15.73" ry="6.66" transform="rotate(-44.75 680.44 422.19)" fill="none" stroke="#c4c7c6" stroke-width="0.5"/>
<ellipse cx="680.44" cy="422.19" rx="10.29" ry="4.24" transform="rotate(-44.75 680.44 422.19)" fill="none" stroke="#cfd1cf" stroke-width="0.5"/>
<ellipse cx="-34.22" cy="119.45" rx="18.88" ry="6.7" transform="rotate(-10.88 -34.22 119.45)" fill="#9da2a6" stroke="#8d9196" stroke-width="0.5"/>
<ellipse cx="-4.32" cy="113.71" rx="18.88" ry="6.7" transform="rotate(-10.88 -4.32 113.71)" fill="#9da2a6" stroke="#8d9196" stroke-width="0.5"/>
<ellipse cx="28.17" cy="121.8" rx="17.71" ry="6.29" transform="rotate(-11.58 28.17 121.8)" fill="#9da2a6" stroke="#8d9196" stroke-width="0.5"/>
<ellipse cx="56.16" cy="116.06" rx="17.71" ry="6.29" transform="rotate(-11.58 56.16 116.06)" fill="#9da2a6" stroke="#8d9196" stroke-width="0.5"/>
<ellipse cx="89.05" cy="124.08" rx="16.6" ry="5.89" transform="rotate(-12.35 89.05 124.08)" fill="#9da2a6" stroke="#8d9196" stroke-width="0.5"/>
<ellipse cx="115.2" cy="118.36" rx="16.6" ry="5.89" transform="rotate(-12.35 115.2 118.36)" fill="#9da2a6" stroke="#8d9196" stroke-width="0.5"/>
<ellipse cx="148.47" cy="126.31" rx="15.53" ry="5.51" transform="rotate(-13.18 148.47 126.31)" fill="#9da2a6" stroke="#8d9196" stroke-width="0.5"/>
<ellipse cx="172.86" cy="120.6" rx="15.53" ry="5.51" transform="rotate(-13.18 172.86 120.6)" fill="#9da2a6" stroke="#8d9196" stroke-width="0.5"/>
<ellipse cx="206.47" cy="128.49" rx="14.52" ry="5.15" transform="rotate(-14.08 206.47 128.49)" fill="#9da2a6" stroke="#8d9196" stroke-width="0.5"/>
<ellipse cx="229.19" cy="122.79" rx="14.52" ry="5.15" transform="rotate(-14.08 229.19 122.79)" fill="#9da2a6" stroke="#8d9196" stroke-width="0.5"/>
<ellipse cx="263.12" cy="130.62" rx="13.55" ry="4.81" transform="rotate(-15.07 263.12 130.62)" fill="#9da2a6" stroke="#8d9196" stroke-width="0.5"/>
<ellipse cx="284.22" cy="124.93" rx="13.55" ry="4.81" transform="rotate(-15.07 284.22 124.93)" fill="#9da2a6" stroke="#8d9196" stroke-width="0.5"/>
<ellipse cx="318.45" cy="132.69" rx="12.63" ry="4.48" transform="rotate(-16.16 318.45 132.69)" fill="#9da2a6" stroke="#8d9196" stroke-width="0.5"/>
<ellipse cx="338.01" cy="127.03" rx="12.63" ry="4.48" transform="rotate(-16.16 338.01 127.03)" fill="#9da2a6" stroke="#8d9196" stroke-width="0.5"/>
<ellipse cx="372.51" cy="134.72" rx="11.75" ry="4.17" transform="rotate(-17.35 372.51 134.72)" fill="#9da2a6" stroke="#8d9196" stroke-width="0.5"/>
<ellipse cx="390.59" cy="129.07" rx="11.75" ry="4.17" transform="rotate(-17.35 390.59 129.07)" fill="#9da2a6" stroke="#8d9196" stroke-width="0.5"/>
<ellipse cx="425.34" cy="136.71" rx="10.91" ry="3.87" transform="rotate(-18.68 425.34 136.71)" fill="#9da2a6" stroke="#8d9196" stroke-width="0.5"/>
<ellipse cx="442.01" cy="131.07" rx="10.91" ry="3.87" transform="rotate(-18.68 442.01 131.07)" fill="#9da2a6" stroke="#8d9196" stroke-width="0.5"/>
<ellipse cx="476.99" cy="138.65" rx="10.11" ry="3.59" transform="rotate(-20.15 476.99 138.65)" fill="#9da2a6" stroke="#8d9196" stroke-width="0.5"/>
<ellipse cx="492.3" cy="133.03" rx="10.11" ry="3.59" transform="rotate(-20.15 492.3 133.03)" fill="#9da2a6" stroke="#8d9196" stroke-width="0.5"/>
<ellipse cx="527.5" cy="140.54" rx="9.35" ry="3.32" transform="rotate(-21.79 527.5 140.54)" fill="#9da2a6" stroke="#8d9196" stroke-width="0.5"/>
<ellipse cx="541.5" cy="134.94" rx="9.35" ry="3.32" transform="rotate(-21.79 541.5 134.94)" fill="#9da2a6" stroke="#8d9196" stroke-width="0.5"/>
<ellipse cx="576.9" cy="142.4" rx="8.63" ry="3.06" transform="rotate(-23.64 576.9 142.4)" fill="#9da2a6" stroke="#8d9196" stroke-width="0.5"/>
<ellipse cx="589.65" cy="136.82" rx="8.63" ry="3.06" transform="rotate(-23.64 589.65 136.82)" fill="#9da2a6" stroke="#8d9196" stroke-width="0.5"/>
<ellipse cx="625.23" cy="144.21" rx="7.95" ry="2.82" transform="rotate(-25.71 625.23 144.21)" fill="#9da2a6" stroke="#8d9196" stroke-width="0.5"/>
<ellipse cx="636.78" cy="138.65" rx="7.95" ry="2.82" transform="rotate(-25.71 636.78 138.65)" fill="#9da2a6" stroke="#8d9196" stroke-width="0.5"/>
<ellipse cx="672.52" cy="145.99" rx="7.3" ry="2.59" transform="rotate(-28.06 672.52 145.99)" fill="#9da2a6" stroke="#8d9196" stroke-width="0.5"/>
<ellipse cx="682.92" cy="140.45" rx="7.3" ry="2.59" transform="rotate(-28.06 682.92 140.45)" fill="#9da2a6" stroke="#8d9196" stroke-width="0.5"/>
<ellipse cx="-65.12" cy="140.44" rx="20.71" ry="7.35" transform="rotate(-11.56 -65.12 140.44)" fill="#9da2a6" stroke="#8d9196" stroke-width="0.5"/>
<ellipse cx="-32.39" cy="133.75" rx="20.71" ry="7.35" transform="rotate(-11.56 -32.39 133.75)" fill="#9da2a6" stroke="#8d9196" stroke-width="0.5"/>
<ellipse cx="1.9" cy="142.67" rx="19.37" ry="6.87" transform="rotate(-12.32 1.9 142.67)" fill="#9da2a6" stroke="#8d9196" stroke-width="0.5"/>
<ellipse cx="32.43" cy="136" rx="19.37" ry="6.87" transform="rotate(-12.32 32.43 136)" fill="#9da2a6" stroke="#8d9196" stroke-width="0.5"/>
<ellipse cx="67.19" cy="144.83" rx="18.1" ry="6.42" transform="rotate(-13.15 67.19 144.83)" fill="#9da2a6" stroke="#8d9196" stroke-width="0.5"/>
<ellipse cx="95.62" cy="138.19" rx="18.1" ry="6.42" transform="rotate(-13.15 95.62 138.19)" fill="#9da2a6" stroke="#8d9196" stroke-width="0.5"/>
<ellipse cx="130.8" cy="146.95" rx="16.89" ry="5.99" transform="rotate(-14.05 130.8 146.95)" fill="#9da2a6" stroke="#8d9196" stroke-width="0.5"/>
<ellipse cx="157.22" cy="140.33" rx="16.89" ry="5.99" transform="rotate(-14.05 157.22 140.33)" fill="#9da2a6" stroke="#8d9196" stroke-width="0.5"/>
<ellipse cx="192.81" cy="149" rx="15.73" ry="5.58" transform="rotate(-15.04 192.81 149)" fill="#9da2a6" stroke="#8d9196" stroke-width="0.5"/>
<ellipse cx="217.31" cy="142.42" rx="15.73" ry="5.58" transform="rotate(-15.04 217.31 142.42)" fill="#9da2a6" stroke="#8d9196" stroke-width="0.5"/>
<ellipse cx="253.26" cy="151.01" rx="14.64" ry="5.19" transform="rotate(-16.12 253.26 151.01)" fill="#9da2a6" stroke="#8d9196" stroke-width="0.5"/>
<ellipse cx="275.94" cy="144.46" rx="14.64" ry="5.19" transform="rotate(-16.12 275.94 144.46)" fill="#9da2a6" stroke="#8d9196" stroke-width="0.5"/>
<ellipse cx="312.23" cy="152.97" rx="13.59" ry="4.82" transform="rotate(-17.32 312.23 152.97)" fill="#9da2a6" stroke="#8d9196" stroke-width="0.5"/>
<ellipse cx="333.16" cy="146.44" rx="13.59" ry="4.82" transform="rotate(-17.32 333.16 146.44)" fill="#9da2a6" stroke="#8d9196" stroke-width="0.5"/>
<ellipse cx="369.76" cy="154.88" rx="12.6" ry="4.47" transform="rotate(-18.64 369.76 154.88)" fill="#9da2a6" stroke="#8d9196" stroke-width="0.5"/>
<ellipse cx="389.02" cy="148.38" rx="12.6" ry="4.47" transform="rotate(-18.64 389.02 148.38)" fill="#9da2a6" stroke="#8d9196" stroke-width="0.5"/>
<ellipse cx="425.9" cy="156.74" rx="11.66" ry="4.14" transform="rotate(-20.1 425.9 156.74)" fill="#9da2a6" stroke="#8d9196" stroke-width="0.5"/>
<ellipse cx="443.56" cy="150.28" rx="11.66" ry="4.14" transform="rotate(-20.1 443.56 150.28)" fill="#9da2a6" stroke="#8d9196" stroke-width="0.5"/>
<ellipse cx="480.71" cy="158.56" rx="10.77" ry="3.82" transform="rotate(-21.74 480.71 158.56)" fill="#9da2a6" stroke="#8d9196" stroke-width="0.5"/>
<ellipse cx="496.84" cy="152.13" rx="10.77" ry="3.82" transform="rotate(-21.74 496.84 152.13)" fill="#9da2a6" stroke="#8d9196" stroke-width="0.5"/>
<ellipse cx="534.23" cy="160.34" rx="9.92" ry="3.52" transform="rotate(-23.58 534.23 160.34)" fill="#9da2a6" stroke="#8d9196" stroke-width="0.5"/>
<ellipse cx="548.9" cy="153.94" rx="9.92" ry="3.52" transform="rotate(-23.58 548.9 153.94)" fill="#9da2a6" stroke="#8d9196" stroke-width="0.5"/>
<ellipse cx="586.51" cy="162.07" rx="9.13" ry="3.24" transform="rotate(-25.65 586.51 162.07)" fill="#9da2a6" stroke="#8d9196" stroke-width="0.5"/>
<ellipse cx="599.77" cy="155.7" rx="9.13" ry="3.24" transform="rotate(-25.65 599.77 155.7)" fill="#9da2a6" stroke="#8d9196" stroke-width="0.5"/>
<ellipse cx="637.58" cy="163.77" rx="8.37" ry="2.97" transform="rotate(-27.99 637.58 163.77)" fill="#9da2a6" stroke="#8d9196" stroke-width="0.5"/>
<ellipse cx="649.51" cy="157.43" rx="8.37" ry="2.97" transform="rotate(-27.99 649.51 157.43)" fill="#9da2a6" stroke="#8d9196" stroke-width="0.5"/>
<ellipse cx="687.5" cy="165.43" rx="7.67" ry="2.72" transform="rotate(-30.65 687.5 165.43)" fill="#9da2a6" stroke="#8d9196" stroke-width="0.5"/>
<ellipse cx="698.14" cy="159.12" rx="7.67" ry="2.72" transform="rotate(-30.65 698.14 159.12)" fill="#9da2a6" stroke="#8d9196" stroke-width="0.5"/>
<ellipse cx="-28.19" cy="166.57" rx="21.35" ry="7.58" transform="rotate(-13.12 -28.19 166.57)" fill="#9da2a6" stroke="#8d9196" stroke-width="0.5"/>
<ellipse cx="5.36" cy="158.74" rx="21.35" ry="7.58" transform="rotate(-13.12 5.36 158.74)" fill="#9da2a6" stroke="#8d9196" stroke-width="0.5"/>
<ellipse cx="42.19" cy="168.56" rx="19.88" ry="7.05" transform="rotate(-14.02 42.19 168.56)" fill="#9da2a6" stroke="#8d9196" stroke-width="0.5"/>
<ellipse cx="73.3" cy="160.78" rx="19.88" ry="7.05" transform="rotate(-14.02 73.3 160.78)" fill="#9da2a6" stroke="#8d9196" stroke-width="0.5"/>
<ellipse cx="110.64" cy="170.49" rx="18.48" ry="6.56" transform="rotate(-15.01 110.64 170.49)" fill="#9da2a6" stroke="#8d9196" stroke-width="0.5"/>
<ellipse cx="139.44" cy="162.77" rx="18.48" ry="6.56" transform="rotate(-15.01 139.44 162.77)" fill="#9da2a6" stroke="#8d9196" stroke-width="0.5"/>
<ellipse cx="177.24" cy="172.37" rx="17.16" ry="6.09" transform="rotate(-16.09 177.24 172.37)" fill="#9da2a6" stroke="#8d9196" stroke-width="0.5"/>
<ellipse cx="203.83" cy="164.7" rx="17.16" ry="6.09" transform="rotate(-16.09 203.83 164.7)" fill="#9da2a6" stroke="#8d9196" stroke-width="0.5"/>
<ellipse cx="242.06" cy="174.21" rx="15.91" ry="5.64" transform="rotate(-17.28 242.06 174.21)" fill="#9da2a6" stroke="#8d9196" stroke-width="0.5"/>
<ellipse cx="266.56" cy="166.59" rx="15.91" ry="5.64" transform="rotate(-17.28 266.56 166.59)" fill="#9da2a6" stroke="#8d9196" stroke-width="0.5"/>
<ellipse cx="305.17" cy="175.99" rx="14.72" ry="5.22" transform="rotate(-18.6 305.17 175.99)" fill="#9da2a6" stroke="#8d9196" stroke-width="0.5"/>
<ellipse cx="327.67" cy="168.42" rx="14.72" ry="5.22" transform="rotate(-18.6 327.67 168.42)" fill="#9da2a6" stroke="#8d9196" stroke-width="0.5"/>
<ellipse cx="366.64" cy="177.73" rx="13.59" ry="4.82" transform="rotate(-20.06 366.64 177.73)" fill="#9da2a6" stroke="#8d9196" stroke-width="0.5"/>
<ellipse cx="387.24" cy="170.21" rx="13.59" ry="4.82" transform="rotate(-20.06 387.24 170.21)" fill="#9da2a6" stroke="#8d9196" stroke-width="0.5"/>
<ellipse cx="426.53" cy="179.42" rx="12.53" ry="4.45" transform="rotate(-21.69 426.53 179.42)" fill="#9da2a6" stroke="#8d9196" stroke-width="0.5"/>
<ellipse cx="445.32" cy="171.95" rx="12.53" ry="4.45" transform="rotate(-21.69 445.32 171.95)" fill="#9da2a6" stroke="#8d9196" stroke-width="0.5"/>
<ellipse cx="484.91" cy="181.08" rx="11.53" ry="4.09" transform="rotate(-23.52 484.91 181.08)" fill="#9da2a6" stroke="#8d9196" stroke-width="0.5"/>
<ellipse cx="501.96" cy="173.65" rx="11.53" ry="4.09" transform="rotate(-23.52 501.96 173.65)" fill="#9da2a6" stroke="#8d9196" stroke-width="0.5"/>
<ellipse cx="541.83" cy="182.68" rx="10.58" ry="3.76" transform="rotate(-25.58 541.83 182.68)" fill="#9da2a6" stroke="#8d9196" stroke-width="0.5"/>
<ellipse cx="557.22" cy="175.31" rx="10.58" ry="3.76" transform="rotate(-25.58 557.22 175.31)" fill="#9da2a6" stroke="#8d9196" stroke-width="0.5"/>
<ellipse cx="597.33" cy="184.25" rx="9.7" ry="3.44" transform="rotate(-27.91 597.33 184.25)" fill="#9da2a6" stroke="#8d9196" stroke-width="0.5"/>
<ellipse cx="611.15" cy="176.93" rx="9.7" ry="3.44" transform="rotate(-27.91 611.15 176.93)" fill="#9da2a6" stroke="#8d9196" stroke-width="0.5"/>
<ellipse cx="651.49" cy="185.79" rx="8.87" ry="3.15" transform="rotate(-30.56 651.49 185.79)" fill="#9da2a6" stroke="#8d9196" stroke-width="0.5"/>
<ellipse cx="663.8" cy="178.51" rx="8.87" ry="3.15" transform="rotate(-30.56 663.8 178.51)" fill="#9da2a6" stroke="#8d9196" stroke-width="0.5"/>
<ellipse cx="-62.98" cy="194.21" rx="23.74" ry="8.42" transform="rotate(-14 -62.98 194.21)" fill="#9da2a6" stroke="#8d9196" stroke-width="0.5"/>
<ellipse cx="-25.83" cy="184.94" rx="23.74" ry="8.42" transform="rotate(-14 -25.83 184.94)" fill="#9da2a6" stroke="#8d9196" stroke-width="0.5"/>
<ellipse cx="13.34" cy="195.94" rx="22.02" ry="7.81" transform="rotate(-14.98 13.34 195.94)" fill="#9da2a6" stroke="#8d9196" stroke-width="0.5"/>
<ellipse cx="47.65" cy="186.76" rx="22.02" ry="7.81" transform="rotate(-14.98 47.65 186.76)" fill="#9da2a6" stroke="#8d9196" stroke-width="0.5"/>
<ellipse cx="87.42" cy="197.61" rx="20.39" ry="7.24" transform="rotate(-16.06 87.42 197.61)" fill="#9da2a6" stroke="#8d9196" stroke-width="0.5"/>
<ellipse cx="119.03" cy="188.52" rx="20.39" ry="7.24" transform="rotate(-16.06 119.03 188.52)" fill="#9da2a6" stroke="#8d9196" stroke-width="0.5"/>
<ellipse cx="159.34" cy="199.24" rx="18.86" ry="6.69" transform="rotate(-17.24 159.34 199.24)" fill="#9da2a6" stroke="#8d9196" stroke-width="0.5"/>
<ellipse cx="188.39" cy="190.23" rx="18.86" ry="6.69" transform="rotate(-17.24 188.39 190.23)" fill="#9da2a6" stroke="#8d9196" stroke-width="0.5"/>
<ellipse cx="229.2" cy="200.83" rx="17.41" ry="6.18" transform="rotate(-18.56 229.2 200.83)" fill="#9da2a6" stroke="#8d9196" stroke-width="0.5"/>
<ellipse cx="255.82" cy="191.89" rx="17.41" ry="6.18" transform="rotate(-18.56 255.82 191.89)" fill="#9da2a6" stroke="#8d9196" stroke-width="0.5"/>
<ellipse cx="297.08" cy="202.37" rx="16.05" ry="5.69" transform="rotate(-20.01 297.08 202.37)" fill="#9da2a6" stroke="#8d9196" stroke-width="0.5"/>
<ellipse cx="321.4" cy="193.51" rx="16.05" ry="5.69" transform="rotate(-20.01 321.4 193.51)" fill="#9da2a6" stroke="#8d9196" stroke-width="0.5"/>
<ellipse cx="363.08" cy="203.86" rx="14.76" ry="5.24" transform="rotate(-21.64 363.08 203.86)" fill="#9da2a6" stroke="#8d9196" stroke-width="0.5"/>
<ellipse cx="385.21" cy="195.08" rx="14.76" ry="5.24" transform="rotate(-21.64 385.21 195.08)" fill="#9da2a6" stroke="#8d9196" stroke-width="0.5"/>
<ellipse cx="427.26" cy="205.32" rx="13.55" ry="4.81" transform="rotate(-23.46 427.26 205.32)" fill="#9da2a6" stroke="#8d9196" stroke-width="0.5"/>
<ellipse cx="447.31" cy="196.61" rx="13.55" ry="4.81" transform="rotate(-23.46 447.31 196.61)" fill="#9da2a6" stroke="#8d9196" stroke-width="0.5"/>
<ellipse cx="489.7" cy="206.73" rx="12.42" ry="4.41" transform="rotate(-25.52 489.7 206.73)" fill="#9da2a6" stroke="#8d9196" stroke-width="0.5"/>
<ellipse cx="507.77" cy="198.1" rx="12.42" ry="4.41" transform="rotate(-25.52 507.77 198.1)" fill="#9da2a6" stroke="#8d9196" stroke-width="0.5"/>
<ellipse cx="550.47" cy="208.11" rx="11.36" ry="4.03" transform="rotate(-27.84 550.47 208.11)" fill="#9da2a6" stroke="#8d9196" stroke-width="0.5"/>
<ellipse cx="566.66" cy="199.56" rx="11.36" ry="4.03" transform="rotate(-27.84 566.66 199.56)" fill="#9da2a6" stroke="#8d9196" stroke-width="0.5"/>
<ellipse cx="609.63" cy="209.45" rx="10.36" ry="3.68" transform="rotate(-30.48 609.63 209.45)" fill="#9da2a6" stroke="#8d9196" stroke-width="0.5"/>
<ellipse cx="624.04" cy="200.97" rx="10.36" ry="3.68" transform="rotate(-30.48 624.04 200.97)" fill="#9da2a6" stroke="#8d9196" stroke-width="0.5"/>
<ellipse cx="667.26" cy="210.76" rx="9.44" ry="3.35" transform="rotate(-33.49 667.26 210.76)" fill="#9da2a6" stroke="#8d9196" stroke-width="0.5"/>
<ellipse cx="679.96" cy="202.35" rx="9.44" ry="3.35" transform="rotate(-33.49 679.96 202.35)" fill="#9da2a6" stroke="#8d9196" stroke-width="0.5"/>
<ellipse cx="-20.32" cy="227.89" rx="24.63" ry="8.74" transform="rotate(-16.02 -20.32 227.89)" fill="#9da2a6" stroke="#8d9196" stroke-width="0.5"/>
<ellipse cx="17.85" cy="216.93" rx="24.63" ry="8.74" transform="rotate(-16.02 17.85 216.93)" fill="#9da2a6" stroke="#8d9196" stroke-width="0.5"/>
<ellipse cx="60.38" cy="229.2" rx="22.71" ry="8.06" transform="rotate(-17.21 60.38 229.2)" fill="#9da2a6" stroke="#8d9196" stroke-width="0.5"/>
<ellipse cx="95.37" cy="218.36" rx="22.71" ry="8.06" transform="rotate(-17.21 95.37 218.36)" fill="#9da2a6" stroke="#8d9196" stroke-width="0.5"/>
<ellipse cx="138.54" cy="230.46" rx="20.91" ry="7.42" transform="rotate(-18.52 138.54 230.46)" fill="#9da2a6" stroke="#8d9196" stroke-width="0.5"/>
<ellipse cx="170.53" cy="219.75" rx="20.91" ry="7.42" transform="rotate(-18.52 170.53 219.75)" fill="#9da2a6" stroke="#8d9196" stroke-width="0.5"/>
<ellipse cx="214.29" cy="231.69" rx="19.23" ry="6.82" transform="rotate(-19.97 214.29 231.69)" fill="#9da2a6" stroke="#8d9196" stroke-width="0.5"/>
<ellipse cx="243.43" cy="221.1" rx="19.23" ry="6.82" transform="rotate(-19.97 243.43 221.1)" fill="#9da2a6" stroke="#8d9196" stroke-width="0.5"/>
<ellipse cx="287.73" cy="232.88" rx="17.64" ry="6.26" transform="rotate(-21.59 287.73 232.88)" fill="#9da2a6" stroke="#8d9196" stroke-width="0.5"/>
<ellipse cx="314.18" cy="222.41" rx="17.64" ry="6.26" transform="rotate(-21.59 314.18 222.41)" fill="#9da2a6" stroke="#8d9196" stroke-width="0.5"/>
<ellipse cx="358.96" cy="234.03" rx="16.16" ry="5.73" transform="rotate(-23.41 358.96 234.03)" fill="#9da2a6" stroke="#8d9196" stroke-width="0.5"/>
<ellipse cx="382.88" cy="223.68" rx="16.16" ry="5.73" transform="rotate(-23.41 382.88 223.68)" fill="#9da2a6" stroke="#8d9196" stroke-width="0.5"/>
<ellipse cx="428.09" cy="235.15" rx="14.77" ry="5.24" transform="rotate(-25.45 428.09 235.15)" fill="#9da2a6" stroke="#8d9196" stroke-width="0.5"/>
<ellipse cx="449.6" cy="224.91" rx="14.77" ry="5.24" transform="rotate(-25.45 449.6 224.91)" fill="#9da2a6" stroke="#8d9196" stroke-width="0.5"/>
<ellipse cx="495.2" cy="236.24" rx="13.47" ry="4.78" transform="rotate(-27.77 495.2 236.24)" fill="#9da2a6" stroke="#8d9196" stroke-width="0.5"/>
<ellipse cx="514.43" cy="226.11" rx="13.47" ry="4.78" transform="rotate(-27.77 514.43 226.11)" fill="#9da2a6" stroke="#8d9196" stroke-width="0.5"/>
<ellipse cx="560.39" cy="237.29" rx="12.27" ry="4.35" transform="rotate(-30.4 560.39 237.29)" fill="#9da2a6" stroke="#8d9196" stroke-width="0.5"/>
<ellipse cx="577.46" cy="227.28" rx="12.27" ry="4.35" transform="rotate(-30.4 577.46 227.28)" fill="#9da2a6" stroke="#8d9196" stroke-width="0.5"/>
<ellipse cx="623.73" cy="238.32" rx="11.16" ry="3.96" transform="rotate(-33.4 623.73 238.32)" fill="#9da2a6" stroke="#8d9196" stroke-width="0.5"/>
<ellipse cx="638.75" cy="228.41" rx="11.16" ry="3.96" transform="rotate(-33.4 638.75 228.41)" fill="#9da2a6" stroke="#8d9196" stroke-width="0.5"/>
<ellipse cx="685.3" cy="239.32" rx="10.13" ry="3.6" transform="rotate(-36.84 685.3 239.32)" fill="#9da2a6" stroke="#8d9196" stroke-width="0.5"/>
<ellipse cx="698.38" cy="229.52" rx="10.13" ry="3.6" transform="rotate(-36.84 698.38 229.52)" fill="#9da2a6" stroke="#8d9196" stroke-width="0.5"/>
<ellipse cx="-60.13" cy="265.67" rx="27.87" ry="9.89" transform="rotate(-17.17 -60.13 265.67)" fill="#9da2a6" stroke="#8d9196" stroke-width="0.5"/>
<ellipse cx="-17.18" cy="252.4" rx="27.87" ry="9.89" transform="rotate(-17.17 -17.18 252.4)" fill="#9da2a6" stroke="#8d9196" stroke-width="0.5"/>
<ellipse cx="28.49" cy="266.44" rx="25.58" ry="9.08" transform="rotate(-18.48 28.49 266.44)" fill="#9da2a6" stroke="#8d9196" stroke-width="0.5"/>
<ellipse cx="67.62" cy="253.37" rx="25.58" ry="9.08" transform="rotate(-18.48 67.62 253.37)" fill="#9da2a6" stroke="#8d9196" stroke-width="0.5"/>
<ellipse cx="114.08" cy="267.18" rx="23.44" ry="8.32" transform="rotate(-19.92 114.08 267.18)" fill="#9da2a6" stroke="#8d9196" stroke-width="0.5"/>
<ellipse cx="149.63" cy="254.3" rx="23.44" ry="8.32" transform="rotate(-19.92 149.63 254.3)" fill="#9da2a6" stroke="#8d9196" stroke-width="0.5"/>
<ellipse cx="196.8" cy="267.9" rx="21.45" ry="7.61" transform="rotate(-21.54 196.8 267.9)" fill="#9da2a6" stroke="#8d9196" stroke-width="0.5"/>
<ellipse cx="228.97" cy="255.2" rx="21.45" ry="7.61" transform="rotate(-21.54 228.97 255.2)" fill="#9da2a6" stroke="#8d9196" stroke-width="0.5"/>
<ellipse cx="276.78" cy="268.59" rx="19.58" ry="6.95" transform="rotate(-23.35 276.78 268.59)" fill="#9da2a6" stroke="#8d9196" stroke-width="0.5"/>
<ellipse cx="305.78" cy="256.07" rx="19.58" ry="6.95" transform="rotate(-23.35 305.78 256.07)" fill="#9da2a6" stroke="#8d9196" stroke-width="0.5"/>
<ellipse cx="354.16" cy="269.26" rx="17.85" ry="6.33" transform="rotate(-25.39 354.16 269.26)" fill="#9da2a6" stroke="#8d9196" stroke-width="0.5"/>
<ellipse cx="380.17" cy="256.91" rx="17.85" ry="6.33" transform="rotate(-25.39 380.17 256.91)" fill="#9da2a6" stroke="#8d9196" stroke-width="0.5"/>
<ellipse cx="429.06" cy="269.9" rx="16.24" ry="5.76" transform="rotate(-27.7 429.06 269.9)" fill="#9da2a6" stroke="#8d9196" stroke-width="0.5"/>
<ellipse cx="452.25" cy="257.73" rx="16.24" ry="5.76" transform="rotate(-27.7 452.25 257.73)" fill="#9da2a6" stroke="#8d9196" stroke-width="0.5"/>
<ellipse cx="501.6" cy="270.53" rx="14.75" ry="5.23" transform="rotate(-30.32 501.6 270.53)" fill="#9da2a6" stroke="#8d9196" stroke-width="0.5"/>
<ellipse cx="522.14" cy="258.52" rx="14.75" ry="5.23" transform="rotate(-30.32 522.14 258.52)" fill="#9da2a6" stroke="#8d9196" stroke-width="0.5"/>
<ellipse cx="571.89" cy="271.14" rx="13.38" ry="4.75" transform="rotate(-33.31 571.89 271.14)" fill="#9da2a6" stroke="#8d9196" stroke-width="0.5"/>
<ellipse cx="589.92" cy="259.29" rx="13.38" ry="4.75" transform="rotate(-33.31 589.92 259.29)" fill="#9da2a6" stroke="#8d9196" stroke-width="0.5"/>
<ellipse cx="640.04" cy="271.73" rx="12.12" ry="4.3" transform="rotate(-36.73 640.04 271.73)" fill="#9da2a6" stroke="#8d9196" stroke-width="0.5"/>
<ellipse cx="655.7" cy="260.04" rx="12.12" ry="4.3" transform="rotate(-36.73 655.7 260.04)" fill="#9da2a6" stroke="#8d9196" stroke-width="0.5"/>
<ellipse cx="-9.67" cy="311.01" rx="29.2" ry="10.36" transform="rotate(-19.88 -9.67 311.01)" fill="#9da2a6" stroke="#8d9196" stroke-width="0.5"/>
<ellipse cx="34.62" cy="294.99" rx="29.2" ry="10.36" transform="rotate(-19.88 34.62 294.99)" fill="#9da2a6" stroke="#8d9196" stroke-width="0.5"/>
<ellipse cx="84.9" cy="310.99" rx="26.62" ry="9.44" transform="rotate(-21.49 84.9 310.99)" fill="#9da2a6" stroke="#8d9196" stroke-width="0.5"/>
<ellipse cx="124.85" cy="295.26" rx="26.62" ry="9.44" transform="rotate(-21.49 124.85 295.26)" fill="#9da2a6" stroke="#8d9196" stroke-width="0.5"/>
<ellipse cx="175.99" cy="310.96" rx="24.22" ry="8.59" transform="rotate(-23.29 175.99 310.96)" fill="#9da2a6" stroke="#8d9196" stroke-width="0.5"/>
<ellipse cx="211.87" cy="295.52" rx="24.22" ry="8.59" transform="rotate(-23.29 211.87 295.52)" fill="#9da2a6" stroke="#8d9196" stroke-width="0.5"/>
<ellipse cx="263.79" cy="310.94" rx="22" ry="7.81" transform="rotate(-25.33 263.79 310.94)" fill="#9da2a6" stroke="#8d9196" stroke-width="0.5"/>
<ellipse cx="295.86" cy="295.76" rx="22" ry="7.81" transform="rotate(-25.33 295.86 295.76)" fill="#9da2a6" stroke="#8d9196" stroke-width="0.5"/>
<ellipse cx="348.47" cy="310.92" rx="19.95" ry="7.08" transform="rotate(-27.62 348.47 310.92)" fill="#9da2a6" stroke="#8d9196" stroke-width="0.5"/>
<ellipse cx="376.98" cy="296" rx="19.95" ry="7.08" transform="rotate(-27.62 376.98 296)" fill="#9da2a6" stroke="#8d9196" stroke-width="0.5"/>
<ellipse cx="430.2" cy="310.9" rx="18.06" ry="6.41" transform="rotate(-30.23 430.2 310.9)" fill="#9da2a6" stroke="#8d9196" stroke-width="0.5"/>
<ellipse cx="455.36" cy="296.23" rx="18.06" ry="6.41" transform="rotate(-30.23 455.36 296.23)" fill="#9da2a6" stroke="#8d9196" stroke-width="0.5"/>
<ellipse cx="509.13" cy="310.88" rx="16.32" ry="5.79" transform="rotate(-33.21 509.13 310.88)" fill="#9da2a6" stroke="#8d9196" stroke-width="0.5"/>
<ellipse cx="531.15" cy="296.46" rx="16.32" ry="5.79" transform="rotate(-33.21 531.15 296.46)" fill="#9da2a6" stroke="#8d9196" stroke-width="0.5"/>
<ellipse cx="585.39" cy="310.86" rx="14.74" ry="5.23" transform="rotate(-36.62 585.39 310.86)" fill="#9da2a6" stroke="#8d9196" stroke-width="0.5"/>
<ellipse cx="604.48" cy="296.67" rx="14.74" ry="5.23" transform="rotate(-36.62 604.48 296.67)" fill="#9da2a6" stroke="#8d9196" stroke-width="0.5"/>
<ellipse cx="659.13" cy="310.84" rx="13.31" ry="4.72" transform="rotate(-40.54 659.13 310.84)" fill="#9da2a6" stroke="#8d9196" stroke-width="0.5"/>
<ellipse cx="675.45" cy="296.88" rx="13.31" ry="4.72" transform="rotate(-40.54 675.45 296.88)" fill="#9da2a6" stroke="#8d9196" stroke-width="0.5"/>
<ellipse cx="-56.16" cy="365.31" rx="33.9" ry="12.03" transform="rotate(-21.44 -56.16 365.31)" fill="#9da2a6" stroke="#8d9196" stroke-width="0.5"/>
<ellipse cx="-5.27" cy="345.33" rx="33.9" ry="12.03" transform="rotate(-21.44 -5.27 345.33)" fill="#9da2a6" stroke="#8d9196" stroke-width="0.5"/>
<ellipse cx="49.48" cy="364.16" rx="30.7" ry="10.89" transform="rotate(-23.24 49.48 364.16)" fill="#9da2a6" stroke="#8d9196" stroke-width="0.5"/>
<ellipse cx="94.99" cy="344.62" rx="30.7" ry="10.89" transform="rotate(-23.24 94.99 344.62)" fill="#9da2a6" stroke="#8d9196" stroke-width="0.5"/>
<ellipse cx="150.83" cy="363.05" rx="27.77" ry="9.85" transform="rotate(-25.26 150.83 363.05)" fill="#9da2a6" stroke="#8d9196" stroke-width="0.5"/>
<ellipse cx="191.33" cy="343.94" rx="27.77" ry="9.85" transform="rotate(-25.26 191.33 343.94)" fill="#9da2a6" stroke="#8d9196" stroke-width="0.5"/>
<ellipse cx="248.14" cy="361.99" rx="25.07" ry="8.9" transform="rotate(-27.55 248.14 361.99)" fill="#9da2a6" stroke="#8d9196" stroke-width="0.5"/>
<ellipse cx="283.99" cy="343.28" rx="25.07" ry="8.9" transform="rotate(-27.55 283.99 343.28)" fill="#9da2a6" stroke="#8d9196" stroke-width="0.5"/>
<ellipse cx="341.65" cy="360.97" rx="22.61" ry="8.02" transform="rotate(-30.15 341.65 360.97)" fill="#9da2a6" stroke="#8d9196" stroke-width="0.5"/>
<ellipse cx="373.17" cy="342.65" rx="22.61" ry="8.02" transform="rotate(-30.15 373.17 342.65)" fill="#9da2a6" stroke="#8d9196" stroke-width="0.5"/>
<ellipse cx="431.57" cy="359.98" rx="20.36" ry="7.22" transform="rotate(-33.12 431.57 359.98)" fill="#9da2a6" stroke="#8d9196" stroke-width="0.5"/>
<ellipse cx="459.07" cy="342.05" rx="20.36" ry="7.22" transform="rotate(-33.12 459.07 342.05)" fill="#9da2a6" stroke="#8d9196" stroke-width="0.5"/>
<ellipse cx="518.11" cy="359.04" rx="18.32" ry="6.5" transform="rotate(-36.52 518.11 359.04)" fill="#9da2a6" stroke="#8d9196" stroke-width="0.5"/>
<ellipse cx="541.85" cy="341.46" rx="18.32" ry="6.5" transform="rotate(-36.52 541.85 341.46)" fill="#9da2a6" stroke="#8d9196" stroke-width="0.5"/>
<ellipse cx="601.46" cy="358.13" rx="16.48" ry="5.85" transform="rotate(-40.41 601.46 358.13)" fill="#9da2a6" stroke="#8d9196" stroke-width="0.5"/>
<ellipse cx="621.7" cy="340.9" rx="16.48" ry="5.85" transform="rotate(-40.41 621.7 340.9)" fill="#9da2a6" stroke="#8d9196" stroke-width="0.5"/>
<ellipse cx="681.78" cy="357.25" rx="14.85" ry="5.27" transform="rotate(-44.89 681.78 357.25)" fill="#9da2a6" stroke="#8d9196" stroke-width="0.5"/>
<ellipse cx="698.75" cy="340.35" rx="14.85" ry="5.27" transform="rotate(-44.89 698.75 340.35)" fill="#9da2a6" stroke="#8d9196" stroke-width="0.5"/>
<ellipse cx="5.59" cy="430.05" rx="36.13" ry="12.82" transform="rotate(-25.2 5.59 430.05)" fill="#9da2a6" stroke="#8d9196" stroke-width="0.5"/>
<ellipse cx="58.31" cy="405.24" rx="36.13" ry="12.82" transform="rotate(-25.2 58.31 405.24)" fill="#9da2a6" stroke="#8d9196" stroke-width="0.5"/>
<ellipse cx="119.78" cy="427.32" rx="32.44" ry="11.51" transform="rotate(-27.48 119.78 427.32)" fill="#9da2a6" stroke="#8d9196" stroke-width="0.5"/>
<ellipse cx="166.21" cy="403.17" rx="32.44" ry="11.51" transform="rotate(-27.48 166.21 403.17)" fill="#9da2a6" stroke="#8d9196" stroke-width="0.5"/>
<ellipse cx="228.91" cy="424.71" rx="29.1" ry="10.33" transform="rotate(-30.07 228.91 424.71)" fill="#9da2a6" stroke="#8d9196" stroke-width="0.5"/>
<ellipse cx="269.53" cy="401.19" rx="29.1" ry="10.33" transform="rotate(-30.07 269.53 401.19)" fill="#9da2a6" stroke="#8d9196" stroke-width="0.5"/>
<ellipse cx="333.29" cy="422.21" rx="26.08" ry="9.25" transform="rotate(-33.03 333.29 422.21)" fill="#9da2a6" stroke="#8d9196" stroke-width="0.5"/>
<ellipse cx="368.56" cy="399.29" rx="26.08" ry="9.25" transform="rotate(-33.03 368.56 399.29)" fill="#9da2a6" stroke="#8d9196" stroke-width="0.5"/>
<ellipse cx="433.24" cy="419.82" rx="23.35" ry="8.29" transform="rotate(-36.41 433.24 419.82)" fill="#9da2a6" stroke="#8d9196" stroke-width="0.5"/>
<ellipse cx="463.55" cy="397.46" rx="23.35" ry="8.29" transform="rotate(-36.41 463.55 397.46)" fill="#9da2a6" stroke="#8d9196" stroke-width="0.5"/>
<ellipse cx="529.02" cy="417.53" rx="20.91" ry="7.42" transform="rotate(-40.29 529.02 417.53)" fill="#9da2a6" stroke="#8d9196" stroke-width="0.5"/>
<ellipse cx="554.75" cy="395.71" rx="20.91" ry="7.42" transform="rotate(-40.29 554.75 395.71)" fill="#9da2a6" stroke="#8d9196" stroke-width="0.5"/>
<ellipse cx="620.9" cy="415.33" rx="18.76" ry="6.66" transform="rotate(-44.75 620.9 415.33)" fill="#9da2a6" stroke="#8d9196" stroke-width="0.5"/>
<ellipse cx="642.39" cy="394.03" rx="18.76" ry="6.66" transform="rotate(-44.75 642.39 394.03)" fill="#9da2a6" stroke="#8d9196" stroke-width="0.5"/>
<ellipse cx="-34.22" cy="119.45" rx="11.57" ry="3.65" transform="rotate(-10.88 -34.22 119.45)" fill="#63676b" stroke="#55595d" stroke-width="0.5"/>
<ellipse cx="-4.32" cy="113.71" rx="11.57" ry="3.65" transform="rotate(-10.88 -4.32 113.71)" fill="#63676b" stroke="#55595d" stroke-width="0.5"/>
<ellipse cx="28.17" cy="121.8" rx="10.86" ry="3.43" transform="rotate(-11.58 28.17 121.8)" fill="#63676b" stroke="#55595d" stroke-width="0.5"/>
<ellipse cx="56.16" cy="116.06" rx="10.86" ry="3.43" transform="rotate(-11.58 56.16 116.06)" fill="#63676b" stroke="#55595d" stroke-width="0.5"/>
<ellipse cx="89.05" cy="124.08" rx="10.17" ry="3.21" transform="rotate(-12.35 89.05 124.08)" fill="#63676b" stroke="#55595d" stroke-width="0.5"/>
<ellipse cx="115.2" cy="118.36" rx="10.17" ry="3.21" transform="rotate(-12.35 115.2 118.36)" fill="#63676b" stroke="#55595d" stroke-width="0.5"/>
<ellipse cx="148.47" cy="126.31" rx="9.52" ry="3.01" transform="rotate(-13.18 148.47 126.31)" fill="#63676b" stroke="#55595d" stroke-width="0.5"/>
<ellipse cx="172.86" cy="120.6" rx="9.52" ry="3.01" transform="rotate(-13.18 172.86 120.6)" fill="#63676b" stroke="#55595d" stroke-width="0.5"/>
<ellipse cx="206.47" cy="128.49" rx="8.9" ry="2.81" transform="rotate(-14.08 206.47 128.49)" fill="#63676b" stroke="#55595d" stroke-width="0.5"/>
<ellipse cx="229.19" cy="122.79" rx="8.9" ry="2.81" transform="rotate(-14.08 229.19 122.79)" fill="#63676b" stroke="#55595d" stroke-width="0.5"/>
<ellipse cx="263.12" cy="130.62" rx="8.31" ry="2.62" transform="rotate(-15.07 263.12 130.62)" fill="#63676b" stroke="#55595d" stroke-width="0.5"/>
<ellipse cx="284.22" cy="124.93" rx="8.31" ry="2.62" transform="rotate(-15.07 284.22 124.93)" fill="#63676b" stroke="#55595d" stroke-width="0.5"/>
<ellipse cx="318.45" cy="132.69" rx="7.74" ry="2.44" transform="rotate(-16.16 318.45 132.69)" fill="#63676b" stroke="#55595d" stroke-width="0.5"/>
<ellipse cx="338.01" cy="127.03" rx="7.74" ry="2.44" transform="rotate(-16.16 338.01 127.03)" fill="#63676b" stroke="#55595d" stroke-width="0.5"/>
<ellipse cx="372.51" cy="134.72" rx="7.2" ry="2.27" transform="rotate(-17.35 372.51 134.72)" fill="#63676b" stroke="#55595d" stroke-width="0.5"/>
<ellipse cx="390.59" cy="129.07" rx="7.2" ry="2.27" transform="rotate(-17.35 390.59 129.07)" fill="#63676b" stroke="#55595d" stroke-width="0.5"/>
<ellipse cx="425.34" cy="136.71" rx="6.69" ry="2.11" transform="rotate(-18.68 425.34 136.71)" fill="#63676b" stroke="#55595d" stroke-width="0.5"/>
<ellipse cx="442.01" cy="131.07" rx="6.69" ry="2.11" transform="rotate(-18.68 442.01 131.07)" fill="#63676b" stroke="#55595d" stroke-width="0.5"/>
<ellipse cx="476.99" cy="138.65" rx="6.2" ry="1.96" transform="rotate(-20.15 476.99 138.65)" fill="#63676b" stroke="#55595d" stroke-width="0.5"/>
<ellipse cx="492.3" cy="133.03" rx="6.2" ry="1.96" transform="rotate(-20.15 492.3 133.03)" fill="#63676b" stroke="#55595d" stroke-width="0.5"/>
<ellipse cx="527.5" cy="140.54" rx="5.73" ry="1.81" transform="rotate(-21.79 527.5 140.54)" fill="#63676b" stroke="#55595d" stroke-width="0.5"/>
<ellipse cx="541.5" cy="134.94" rx="5.73" ry="1.81" transform="rotate(-21.79 541.5 134.94)" fill="#63676b" stroke="#55595d" stroke-width="0.5"/>
<ellipse cx="576.9" cy="142.4" rx="5.29" ry="1.67" transform="rotate(-23.64 576.9 142.4)" fill="#63676b" stroke="#55595d" stroke-width="0.5"/>
<ellipse cx="589.65" cy="136.82" rx="5.29" ry="1.67" transform="rotate(-23.64 589.65 136.82)" fill="#63676b" stroke="#55595d" stroke-width="0.5"/>
<ellipse cx="625.23" cy="144.21" rx="4.87" ry="1.54" transform="rotate(-25.71 625.23 144.21)" fill="#63676b" stroke="#55595d" stroke-width="0.5"/>
<ellipse cx="636.78" cy="138.65" rx="4.87" ry="1.54" transform="rotate(-25.71 636.78 138.65)" fill="#63676b" stroke="#55595d" stroke-width="0.5"/>
<ellipse cx="672.52" cy="145.99" rx="4.48" ry="1.41" transform="rotate(-28.06 672.52 145.99)" fill="#63676b" stroke="#55595d" stroke-width="0.5"/>
<ellipse cx="682.92" cy="140.45" rx="4.48" ry="1.41" transform="rotate(-28.06 682.92 140.45)" fill="#63676b" stroke="#55595d" stroke-width="0.5"/>
<ellipse cx="-65.12" cy="140.44" rx="12.7" ry="4.01" transform="rotate(-11.56 -65.12 140.44)" fill="#63676b" stroke="#55595d" stroke-width="0.5"/>
<ellipse cx="-32.39" cy="133.75" rx="12.7" ry="4.01" transform="rotate(-11.56 -32.39 133.75)" fill="#63676b" stroke="#55595d" stroke-width="0.5"/>
<ellipse cx="1.9" cy="142.67" rx="11.87" ry="3.75" transform="rotate(-12.32 1.9 142.67)" fill="#63676b" stroke="#55595d" stroke-width="0.5"/>
<ellipse cx="32.43" cy="136" rx="11.87" ry="3.75" transform="rotate(-12.32 32.43 136)" fill="#63676b" stroke="#55595d" stroke-width="0.5"/>
<ellipse cx="67.19" cy="144.83" rx="11.09" ry="3.5" transform="rotate(-13.15 67.19 144.83)" fill="#63676b" stroke="#55595d" stroke-width="0.5"/>
<ellipse cx="95.62" cy="138.19" rx="11.09" ry="3.5" transform="rotate(-13.15 95.62 138.19)" fill="#63676b" stroke="#55595d" stroke-width="0.5"/>
<ellipse cx="130.8" cy="146.95" rx="10.35" ry="3.27" transform="rotate(-14.05 130.8 146.95)" fill="#63676b" stroke="#55595d" stroke-width="0.5"/>
<ellipse cx="157.22" cy="140.33" rx="10.35" ry="3.27" transform="rotate(-14.05 157.22 140.33)" fill="#63676b" stroke="#55595d" stroke-width="0.5"/>
<ellipse cx="192.81" cy="149" rx="9.64" ry="3.05" transform="rotate(-15.04 192.81 149)" fill="#63676b" stroke="#55595d" stroke-width="0.5"/>
<ellipse cx="217.31" cy="142.42" rx="9.64" ry="3.05" transform="rotate(-15.04 217.31 142.42)" fill="#63676b" stroke="#55595d" stroke-width="0.5"/>
<ellipse cx="253.26" cy="151.01" rx="8.97" ry="2.83" transform="rotate(-16.12 253.26 151.01)" fill="#63676b" stroke="#55595d" stroke-width="0.5"/>
<ellipse cx="275.94" cy="144.46" rx="8.97" ry="2.83" transform="rotate(-16.12 275.94 144.46)" fill="#63676b" stroke="#55595d" stroke-width="0.5"/>
<ellipse cx="312.23" cy="152.97" rx="8.33" ry="2.63" transform="rotate(-17.32 312.23 152.97)" fill="#63676b" stroke="#55595d" stroke-width="0.5"/>
<ellipse cx="333.16" cy="146.44" rx="8.33" ry="2.63" transform="rotate(-17.32 333.16 146.44)" fill="#63676b" stroke="#55595d" stroke-width="0.5"/>
<ellipse cx="369.76" cy="154.88" rx="7.72" ry="2.44" transform="rotate(-18.64 369.76 154.88)" fill="#63676b" stroke="#55595d" stroke-width="0.5"/>
<ellipse cx="389.02" cy="148.38" rx="7.72" ry="2.44" transform="rotate(-18.64 389.02 148.38)" fill="#63676b" stroke="#55595d" stroke-width="0.5"/>
<ellipse cx="425.9" cy="156.74" rx="7.15" ry="2.26" transform="rotate(-20.1 425.9 156.74)" fill="#63676b" stroke="#55595d" stroke-width="0.5"/>
<ellipse cx="443.56" cy="150.28" rx="7.15" ry="2.26" transform="rotate(-20.1 443.56 150.28)" fill="#63676b" stroke="#55595d" stroke-width="0.5"/>
<ellipse cx="480.71" cy="158.56" rx="6.6" ry="2.08" transform="rotate(-21.74 480.71 158.56)" fill="#63676b" stroke="#55595d" stroke-width="0.5"/>
<ellipse cx="496.84" cy="152.13" rx="6.6" ry="2.08" transform="rotate(-21.74 496.84 152.13)" fill="#63676b" stroke="#55595d" stroke-width="0.5"/>
<ellipse cx="534.23" cy="160.34" rx="6.08" ry="1.92" transform="rotate(-23.58 534.23 160.34)" fill="#63676b" stroke="#55595d" stroke-width="0.5"/>
<ellipse cx="548.9" cy="153.94" rx="6.08" ry="1.92" transform="rotate(-23.58 548.9 153.94)" fill="#63676b" stroke="#55595d" stroke-width="0.5"/>
<ellipse cx="586.51" cy="162.07" rx="5.59" ry="1.77" transform="rotate(-25.65 586.51 162.07)" fill="#63676b" stroke="#55595d" stroke-width="0.5"/>
<ellipse cx="599.77" cy="155.7" rx="5.59" ry="1.77" transform="rotate(-25.65 599.77 155.7)" fill="#63676b" stroke="#55595d" stroke-width="0.5"/>
<ellipse cx="637.58" cy="163.77" rx="5.13" ry="1.62" transform="rotate(-27.99 637.58 163.77)" fill="#63676b" stroke="#55595d" stroke-width="0.5"/>
<ellipse cx="649.51" cy="157.43" rx="5.13" ry="1.62" transform="rotate(-27.99 649.51 157.43)" fill="#63676b" stroke="#55595d" stroke-width="0.5"/>
<ellipse cx="687.5" cy="165.43" rx="4.7" ry="1.48" transform="rotate(-30.65 687.5 165.43)" fill="#63676b" stroke="#55595d" stroke-width="0.5"/>
<ellipse cx="698.14" cy="159.12" rx="4.7" ry="1.48" transform="rotate(-30.65 698.14 159.12)" fill="#63676b" stroke="#55595d" stroke-width="0.5"/>
<ellipse cx="-28.19" cy="166.57" rx="13.09" ry="4.13" transform="rotate(-13.12 -28.19 166.57)" fill="#63676b" stroke="#55595d" stroke-width="0.5"/>
<ellipse cx="5.36" cy="158.74" rx="13.09" ry="4.13" transform="rotate(-13.12 5.36 158.74)" fill="#63676b" stroke="#55595d" stroke-width="0.5"/>
<ellipse cx="42.19" cy="168.56" rx="12.18" ry="3.85" transform="rotate(-14.02 42.19 168.56)" fill="#63676b" stroke="#55595d" stroke-width="0.5"/>
<ellipse cx="73.3" cy="160.78" rx="12.18" ry="3.85" transform="rotate(-14.02 73.3 160.78)" fill="#63676b" stroke="#55595d" stroke-width="0.5"/>
<ellipse cx="110.64" cy="170.49" rx="11.33" ry="3.58" transform="rotate(-15.01 110.64 170.49)" fill="#63676b" stroke="#55595d" stroke-width="0.5"/>
<ellipse cx="139.44" cy="162.77" rx="11.33" ry="3.58" transform="rotate(-15.01 139.44 162.77)" fill="#63676b" stroke="#55595d" stroke-width="0.5"/>
<ellipse cx="177.24" cy="172.37" rx="10.52" ry="3.32" transform="rotate(-16.09 177.24 172.37)" fill="#63676b" stroke="#55595d" stroke-width="0.5"/>
<ellipse cx="203.83" cy="164.7" rx="10.52" ry="3.32" transform="rotate(-16.09 203.83 164.7)" fill="#63676b" stroke="#55595d" stroke-width="0.5"/>
<ellipse cx="242.06" cy="174.21" rx="9.75" ry="3.08" transform="rotate(-17.28 242.06 174.21)" fill="#63676b" stroke="#55595d" stroke-width="0.5"/>
<ellipse cx="266.56" cy="166.59" rx="9.75" ry="3.08" transform="rotate(-17.28 266.56 166.59)" fill="#63676b" stroke="#55595d" stroke-width="0.5"/>
<ellipse cx="305.17" cy="175.99" rx="9.02" ry="2.85" transform="rotate(-18.6 305.17 175.99)" fill="#63676b" stroke="#55595d" stroke-width="0.5"/>
<ellipse cx="327.67" cy="168.42" rx="9.02" ry="2.85" transform="rotate(-18.6 327.67 168.42)" fill="#63676b" stroke="#55595d" stroke-width="0.5"/>
<ellipse cx="366.64" cy="177.73" rx="8.33" ry="2.63" transform="rotate(-20.06 366.64 177.73)" fill="#63676b" stroke="#55595d" stroke-width="0.5"/>
<ellipse cx="387.24" cy="170.21" rx="8.33" ry="2.63" transform="rotate(-20.06 387.24 170.21)" fill="#63676b" stroke="#55595d" stroke-width="0.5"/>
<ellipse cx="426.53" cy="179.42" rx="7.68" ry="2.43" transform="rotate(-21.69 426.53 179.42)" fill="#63676b" stroke="#55595d" stroke-width="0.5"/>
<ellipse cx="445.32" cy="171.95" rx="7.68" ry="2.43" transform="rotate(-21.69 445.32 171.95)" fill="#63676b" stroke="#55595d" stroke-width="0.5"/>
<ellipse cx="484.91" cy="181.08" rx="7.07" ry="2.23" transform="rotate(-23.52 484.91 181.08)" fill="#63676b" stroke="#55595d" stroke-width="0.5"/>
<ellipse cx="501.96" cy="173.65" rx="7.07" ry="2.23" transform="rotate(-23.52 501.96 173.65)" fill="#63676b" stroke="#55595d" stroke-width="0.5"/>
<ellipse cx="541.83" cy="182.68" rx="6.49" ry="2.05" transform="rotate(-25.58 541.83 182.68)" fill="#63676b" stroke="#55595d" stroke-width="0.5"/>
<ellipse cx="557.22" cy="175.31" rx="6.49" ry="2.05" transform="rotate(-25.58 557.22 175.31)" fill="#63676b" stroke="#55595d" stroke-width="0.5"/>
<ellipse cx="597.33" cy="184.25" rx="5.94" ry="1.88" transform="rotate(-27.91 597.33 184.25)" fill="#63676b" stroke="#55595d" stroke-width="0.5"/>
<ellipse cx="611.15" cy="176.93" rx="5.94" ry="1.88" transform="rotate(-27.91 611.15 176.93)" fill="#63676b" stroke="#55595d" stroke-width="0.5"/>
<ellipse cx="651.49" cy="185.79" rx="5.43" ry="1.72" transform="rotate(-30.56 651.49 185.79)" fill="#63676b" stroke="#55595d" stroke-width="0.5"/>
<ellipse cx="663.8" cy="178.51" rx="5.43" ry="1.72" transform="rotate(-30.56 663.8 178.51)" fill="#63676b" stroke="#55595d" stroke-width="0.5"/>
<ellipse cx="-62.98" cy="194.21" rx="14.55" ry="4.59" transform="rotate(-14 -62.98 194.21)" fill="#63676b" stroke="#55595d" stroke-width="0.5"/>
<ellipse cx="-25.83" cy="184.94" rx="14.55" ry="4.59" transform="rotate(-14 -25.83 184.94)" fill="#63676b" stroke="#55595d" stroke-width="0.5"/>
<ellipse cx="13.34" cy="195.94" rx="13.5" ry="4.26" transform="rotate(-14.98 13.34 195.94)" fill="#63676b" stroke="#55595d" stroke-width="0.5"/>
<ellipse cx="47.65" cy="186.76" rx="13.5" ry="4.26" transform="rotate(-14.98 47.65 186.76)" fill="#63676b" stroke="#55595d" stroke-width="0.5"/>
<ellipse cx="87.42" cy="197.61" rx="12.5" ry="3.95" transform="rotate(-16.06 87.42 197.61)" fill="#63676b" stroke="#55595d" stroke-width="0.5"/>
<ellipse cx="119.03" cy="188.52" rx="12.5" ry="3.95" transform="rotate(-16.06 119.03 188.52)" fill="#63676b" stroke="#55595d" stroke-width="0.5"/>
<ellipse cx="159.34" cy="199.24" rx="11.56" ry="3.65" transform="rotate(-17.24 159.34 199.24)" fill="#63676b" stroke="#55595d" stroke-width="0.5"/>
<ellipse cx="188.39" cy="190.23" rx="11.56" ry="3.65" transform="rotate(-17.24 188.39 190.23)" fill="#63676b" stroke="#55595d" stroke-width="0.5"/>
<ellipse cx="229.2" cy="200.83" rx="10.67" ry="3.37" transform="rotate(-18.56 229.2 200.83)" fill="#63676b" stroke="#55595d" stroke-width="0.5"/>
<ellipse cx="255.82" cy="191.89" rx="10.67" ry="3.37" transform="rotate(-18.56 255.82 191.89)" fill="#63676b" stroke="#55595d" stroke-width="0.5"/>
<ellipse cx="297.08" cy="202.37" rx="9.84" ry="3.11" transform="rotate(-20.01 297.08 202.37)" fill="#63676b" stroke="#55595d" stroke-width="0.5"/>
<ellipse cx="321.4" cy="193.51" rx="9.84" ry="3.11" transform="rotate(-20.01 321.4 193.51)" fill="#63676b" stroke="#55595d" stroke-width="0.5"/>
<ellipse cx="363.08" cy="203.86" rx="9.05" ry="2.86" transform="rotate(-21.64 363.08 203.86)" fill="#63676b" stroke="#55595d" stroke-width="0.5"/>
<ellipse cx="385.21" cy="195.08" rx="9.05" ry="2.86" transform="rotate(-21.64 385.21 195.08)" fill="#63676b" stroke="#55595d" stroke-width="0.5"/>
<ellipse cx="427.26" cy="205.32" rx="8.31" ry="2.62" transform="rotate(-23.46 427.26 205.32)" fill="#63676b" stroke="#55595d" stroke-width="0.5"/>
<ellipse cx="447.31" cy="196.61" rx="8.31" ry="2.62" transform="rotate(-23.46 447.31 196.61)" fill="#63676b" stroke="#55595d" stroke-width="0.5"/>
<ellipse cx="489.7" cy="206.73" rx="7.61" ry="2.4" transform="rotate(-25.52 489.7 206.73)" fill="#63676b" stroke="#55595d" stroke-width="0.5"/>
<ellipse cx="507.77" cy="198.1" rx="7.61" ry="2.4" transform="rotate(-25.52 507.77 198.1)" fill="#63676b" stroke="#55595d" stroke-width="0.5"/>
<ellipse cx="550.47" cy="208.11" rx="6.96" ry="2.2" transform="rotate(-27.84 550.47 208.11)" fill="#63676b" stroke="#55595d" stroke-width="0.5"/>
<ellipse cx="566.66" cy="199.56" rx="6.96" ry="2.2" transform="rotate(-27.84 566.66 199.56)" fill="#63676b" stroke="#55595d" stroke-width="0.5"/>
<ellipse cx="609.63" cy="209.45" rx="6.35" ry="2.01" transform="rotate(-30.48 609.63 209.45)" fill="#63676b" stroke="#55595d" stroke-width="0.5"/>
<ellipse cx="624.04" cy="200.97" rx="6.35" ry="2.01" transform="rotate(-30.48 624.04 200.97)" fill="#63676b" stroke="#55595d" stroke-width="0.5"/>
<ellipse cx="667.26" cy="210.76" rx="5.79" ry="1.83" transform="rotate(-33.49 667.26 210.76)" fill="#63676b" stroke="#55595d" stroke-width="0.5"/>
<ellipse cx="679.96" cy="202.35" rx="5.79" ry="1.83" transform="rotate(-33.49 679.96 202.35)" fill="#63676b" stroke="#55595d" stroke-width="0.5"/>
<ellipse cx="-20.32" cy="227.89" rx="15.09" ry="4.77" transform="rotate(-16.02 -20.32 227.89)" fill="#63676b" stroke="#55595d" stroke-width="0.5"/>
<ellipse cx="17.85" cy="216.93" rx="15.09" ry="4.77" transform="rotate(-16.02 17.85 216.93)" fill="#63676b" stroke="#55595d" stroke-width="0.5"/>
<ellipse cx="60.38" cy="229.2" rx="13.92" ry="4.4" transform="rotate(-17.21 60.38 229.2)" fill="#63676b" stroke="#55595d" stroke-width="0.5"/>
<ellipse cx="95.37" cy="218.36" rx="13.92" ry="4.4" transform="rotate(-17.21 95.37 218.36)" fill="#63676b" stroke="#55595d" stroke-width="0.5"/>
<ellipse cx="138.54" cy="230.46" rx="12.82" ry="4.05" transform="rotate(-18.52 138.54 230.46)" fill="#63676b" stroke="#55595d" stroke-width="0.5"/>
<ellipse cx="170.53" cy="219.75" rx="12.82" ry="4.05" transform="rotate(-18.52 170.53 219.75)" fill="#63676b" stroke="#55595d" stroke-width="0.5"/>
<ellipse cx="214.29" cy="231.69" rx="11.78" ry="3.72" transform="rotate(-19.97 214.29 231.69)" fill="#63676b" stroke="#55595d" stroke-width="0.5"/>
<ellipse cx="243.43" cy="221.1" rx="11.78" ry="3.72" transform="rotate(-19.97 243.43 221.1)" fill="#63676b" stroke="#55595d" stroke-width="0.5"/>
<ellipse cx="287.73" cy="232.88" rx="10.81" ry="3.41" transform="rotate(-21.59 287.73 232.88)" fill="#63676b" stroke="#55595d" stroke-width="0.5"/>
<ellipse cx="314.18" cy="222.41" rx="10.81" ry="3.41" transform="rotate(-21.59 314.18 222.41)" fill="#63676b" stroke="#55595d" stroke-width="0.5"/>
<ellipse cx="358.96" cy="234.03" rx="9.9" ry="3.13" transform="rotate(-23.41 358.96 234.03)" fill="#63676b" stroke="#55595d" stroke-width="0.5"/>
<ellipse cx="382.88" cy="223.68" rx="9.9" ry="3.13" transform="rotate(-23.41 382.88 223.68)" fill="#63676b" stroke="#55595d" stroke-width="0.5"/>
<ellipse cx="428.09" cy="235.15" rx="9.05" ry="2.86" transform="rotate(-25.45 428.09 235.15)" fill="#63676b" stroke="#55595d" stroke-width="0.5"/>
<ellipse cx="449.6" cy="224.91" rx="9.05" ry="2.86" transform="rotate(-25.45 449.6 224.91)" fill="#63676b" stroke="#55595d" stroke-width="0.5"/>
<ellipse cx="495.2" cy="236.24" rx="8.26" ry="2.61" transform="rotate(-27.77 495.2 236.24)" fill="#63676b" stroke="#55595d" stroke-width="0.5"/>
<ellipse cx="514.43" cy="226.11" rx="8.26" ry="2.61" transform="rotate(-27.77 514.43 226.11)" fill="#63676b" stroke="#55595d" stroke-width="0.5"/>
<ellipse cx="560.39" cy="237.29" rx="7.52" ry="2.37" transform="rotate(-30.4 560.39 237.29)" fill="#63676b" stroke="#55595d" stroke-width="0.5"/>
<ellipse cx="577.46" cy="227.28" rx="7.52" ry="2.37" transform="rotate(-30.4 577.46 227.28)" fill="#63676b" stroke="#55595d" stroke-width="0.5"/>
<ellipse cx="623.73" cy="238.32" rx="6.84" ry="2.16" transform="rotate(-33.4 623.73 238.32)" fill="#63676b" stroke="#55595d" stroke-width="0.5"/>
<ellipse cx="638.75" cy="228.41" rx="6.84" ry="2.16" transform="rotate(-33.4 638.75 228.41)" fill="#63676b" stroke="#55595d" stroke-width="0.5"/>
<ellipse cx="685.3" cy="239.32" rx="6.21" ry="1.96" transform="rotate(-36.84 685.3 239.32)" fill="#63676b" stroke="#55595d" stroke-width="0.5"/>
<ellipse cx="698.38" cy="229.52" rx="6.21" ry="1.96" transform="rotate(-36.84 698.38 229.52)" fill="#63676b" stroke="#55595d" stroke-width="0.5"/>
<ellipse cx="-60.13" cy="265.67" rx="17.08" ry="5.39" transform="rotate(-17.17 -60.13 265.67)" fill="#63676b" stroke="#55595d" stroke-width="0.5"/>
<ellipse cx="-17.18" cy="252.4" rx="17.08" ry="5.39" transform="rotate(-17.17 -17.18 252.4)" fill="#63676b" stroke="#55595d" stroke-width="0.5"/>
<ellipse cx="28.49" cy="266.44" rx="15.68" ry="4.95" transform="rotate(-18.48 28.49 266.44)" fill="#63676b" stroke="#55595d" stroke-width="0.5"/>
<ellipse cx="67.62" cy="253.37" rx="15.68" ry="4.95" transform="rotate(-18.48 67.62 253.37)" fill="#63676b" stroke="#55595d" stroke-width="0.5"/>
<ellipse cx="114.08" cy="267.18" rx="14.37" ry="4.54" transform="rotate(-19.92 114.08 267.18)" fill="#63676b" stroke="#55595d" stroke-width="0.5"/>
<ellipse cx="149.63" cy="254.3" rx="14.37" ry="4.54" transform="rotate(-19.92 149.63 254.3)" fill="#63676b" stroke="#55595d" stroke-width="0.5"/>
<ellipse cx="196.8" cy="267.9" rx="13.14" ry="4.15" transform="rotate(-21.54 196.8 267.9)" fill="#63676b" stroke="#55595d" stroke-width="0.5"/>
<ellipse cx="228.97" cy="255.2" rx="13.14" ry="4.15" transform="rotate(-21.54 228.97 255.2)" fill="#63676b" stroke="#55595d" stroke-width="0.5"/>
<ellipse cx="276.78" cy="268.59" rx="12" ry="3.79" transform="rotate(-23.35 276.78 268.59)" fill="#63676b" stroke="#55595d" stroke-width="0.5"/>
<ellipse cx="305.78" cy="256.07" rx="12" ry="3.79" transform="rotate(-23.35 305.78 256.07)" fill="#63676b" stroke="#55595d" stroke-width="0.5"/>
<ellipse cx="354.16" cy="269.26" rx="10.94" ry="3.45" transform="rotate(-25.39 354.16 269.26)" fill="#63676b" stroke="#55595d" stroke-width="0.5"/>
<ellipse cx="380.17" cy="256.91" rx="10.94" ry="3.45" transform="rotate(-25.39 380.17 256.91)" fill="#63676b" stroke="#55595d" stroke-width="0.5"/>
<ellipse cx="429.06" cy="269.9" rx="9.95" ry="3.14" transform="rotate(-27.7 429.06 269.9)" fill="#63676b" stroke="#55595d" stroke-width="0.5"/>
<ellipse cx="452.25" cy="257.73" rx="9.95" ry="3.14" transform="rotate(-27.7 452.25 257.73)" fill="#63676b" stroke="#55595d" stroke-width="0.5"/>
<ellipse cx="501.6" cy="270.53" rx="9.04" ry="2.85" transform="rotate(-30.32 501.6 270.53)" fill="#63676b" stroke="#55595d" stroke-width="0.5"/>
<ellipse cx="522.14" cy="258.52" rx="9.04" ry="2.85" transform="rotate(-30.32 522.14 258.52)" fill="#63676b" stroke="#55595d" stroke-width="0.5"/>
<ellipse cx="571.89" cy="271.14" rx="8.2" ry="2.59" transform="rotate(-33.31 571.89 271.14)" fill="#63676b" stroke="#55595d" stroke-width="0.5"/>
<ellipse cx="589.92" cy="259.29" rx="8.2" ry="2.59" transform="rotate(-33.31 589.92 259.29)" fill="#63676b" stroke="#55595d" stroke-width="0.5"/>
<ellipse cx="640.04" cy="271.73" rx="7.43" ry="2.35" transform="rotate(-36.73 640.04 271.73)" fill="#63676b" stroke="#55595d" stroke-width="0.5"/>
<ellipse cx="655.7" cy="260.04" rx="7.43" ry="2.35" transform="rotate(-36.73 655.7 260.04)" fill="#63676b" stroke="#55595d" stroke-width="0.5"/>
<ellipse cx="-9.67" cy="311.01" rx="17.9" ry="5.65" transform="rotate(-19.88 -9.67 311.01)" fill="#63676b" stroke="#55595d" stroke-width="0.5"/>
<ellipse cx="34.62" cy="294.99" rx="17.9" ry="5.65" transform="rotate(-19.88 34.62 294.99)" fill="#63676b" stroke="#55595d" stroke-width="0.5"/>
<ellipse cx="84.9" cy="310.99" rx="16.31" ry="5.15" transform="rotate(-21.49 84.9 310.99)" fill="#63676b" stroke="#55595d" stroke-width="0.5"/>
<ellipse cx="124.85" cy="295.26" rx="16.31" ry="5.15" transform="rotate(-21.49 124.85 295.26)" fill="#63676b" stroke="#55595d" stroke-width="0.5"/>
<ellipse cx="175.99" cy="310.96" rx="14.84" ry="4.69" transform="rotate(-23.29 175.99 310.96)" fill="#63676b" stroke="#55595d" stroke-width="0.5"/>
<ellipse cx="211.87" cy="295.52" rx="14.84" ry="4.69" transform="rotate(-23.29 211.87 295.52)" fill="#63676b" stroke="#55595d" stroke-width="0.5"/>
<ellipse cx="263.79" cy="310.94" rx="13.48" ry="4.26" transform="rotate(-25.33 263.79 310.94)" fill="#63676b" stroke="#55595d" stroke-width="0.5"/>
<ellipse cx="295.86" cy="295.76" rx="13.48" ry="4.26" transform="rotate(-25.33 295.86 295.76)" fill="#63676b" stroke="#55595d" stroke-width="0.5"/>
<ellipse cx="348.47" cy="310.92" rx="12.23" ry="3.86" transform="rotate(-27.62 348.47 310.92)" fill="#63676b" stroke="#55595d" stroke-width="0.5"/>
<ellipse cx="376.98" cy="296" rx="12.23" ry="3.86" transform="rotate(-27.62 376.98 296)" fill="#63676b" stroke="#55595d" stroke-width="0.5"/>
<ellipse cx="430.2" cy="310.9" rx="11.07" ry="3.49" transform="rotate(-30.23 430.2 310.9)" fill="#63676b" stroke="#55595d" stroke-width="0.5"/>
<ellipse cx="455.36" cy="296.23" rx="11.07" ry="3.49" transform="rotate(-30.23 455.36 296.23)" fill="#63676b" stroke="#55595d" stroke-width="0.5"/>
<ellipse cx="509.13" cy="310.88" rx="10" ry="3.16" transform="rotate(-33.21 509.13 310.88)" fill="#63676b" stroke="#55595d" stroke-width="0.5"/>
<ellipse cx="531.15" cy="296.46" rx="10" ry="3.16" transform="rotate(-33.21 531.15 296.46)" fill="#63676b" stroke="#55595d" stroke-width="0.5"/>
<ellipse cx="585.39" cy="310.86" rx="9.04" ry="2.85" transform="rotate(-36.62 585.39 310.86)" fill="#63676b" stroke="#55595d" stroke-width="0.5"/>
<ellipse cx="604.48" cy="296.67" rx="9.04" ry="2.85" transform="rotate(-36.62 604.48 296.67)" fill="#63676b" stroke="#55595d" stroke-width="0.5"/>
<ellipse cx="659.13" cy="310.84" rx="8.16" ry="2.58" transform="rotate(-40.54 659.13 310.84)" fill="#63676b" stroke="#55595d" stroke-width="0.5"/>
<ellipse cx="675.45" cy="296.88" rx="8.16" ry="2.58" transform="rotate(-40.54 675.45 296.88)" fill="#63676b" stroke="#55595d" stroke-width="0.5"/>
<ellipse cx="-56.16" cy="365.31" rx="20.78" ry="6.56" transform="rotate(-21.44 -56.16 365.31)" fill="#63676b" stroke="#55595d" stroke-width="0.5"/>
<ellipse cx="-5.27" cy="345.33" rx="20.78" ry="6.56" transform="rotate(-21.44 -5.27 345.33)" fill="#63676b" stroke="#55595d" stroke-width="0.5"/>
<ellipse cx="49.48" cy="364.16" rx="18.82" ry="5.94" transform="rotate(-23.24 49.48 364.16)" fill="#63676b" stroke="#55595d" stroke-width="0.5"/>
<ellipse cx="94.99" cy="344.62" rx="18.82" ry="5.94" transform="rotate(-23.24 94.99 344.62)" fill="#63676b" stroke="#55595d" stroke-width="0.5"/>
<ellipse cx="150.83" cy="363.05" rx="17.02" ry="5.37" transform="rotate(-25.26 150.83 363.05)" fill="#63676b" stroke="#55595d" stroke-width="0.5"/>
<ellipse cx="191.33" cy="343.94" rx="17.02" ry="5.37" transform="rotate(-25.26 191.33 343.94)" fill="#63676b" stroke="#55595d" stroke-width="0.5"/>
<ellipse cx="248.14" cy="361.99" rx="15.37" ry="4.85" transform="rotate(-27.55 248.14 361.99)" fill="#63676b" stroke="#55595d" stroke-width="0.5"/>
<ellipse cx="283.99" cy="343.28" rx="15.37" ry="4.85" transform="rotate(-27.55 283.99 343.28)" fill="#63676b" stroke="#55595d" stroke-width="0.5"/>
<ellipse cx="341.65" cy="360.97" rx="13.85" ry="4.38" transform="rotate(-30.15 341.65 360.97)" fill="#63676b" stroke="#55595d" stroke-width="0.5"/>
<ellipse cx="373.17" cy="342.65" rx="13.85" ry="4.38" transform="rotate(-30.15 373.17 342.65)" fill="#63676b" stroke="#55595d" stroke-width="0.5"/>
<ellipse cx="431.57" cy="359.98" rx="12.48" ry="3.94" transform="rotate(-33.12 431.57 359.98)" fill="#63676b" stroke="#55595d" stroke-width="0.5"/>
<ellipse cx="459.07" cy="342.05" rx="12.48" ry="3.94" transform="rotate(-33.12 459.07 342.05)" fill="#63676b" stroke="#55595d" stroke-width="0.5"/>
<ellipse cx="518.11" cy="359.04" rx="11.23" ry="3.54" transform="rotate(-36.52 518.11 359.04)" fill="#63676b" stroke="#55595d" stroke-width="0.5"/>
<ellipse cx="541.85" cy="341.46" rx="11.23" ry="3.54" transform="rotate(-36.52 541.85 341.46)" fill="#63676b" stroke="#55595d" stroke-width="0.5"/>
<ellipse cx="601.46" cy="358.13" rx="10.1" ry="3.19" transform="rotate(-40.41 601.46 358.13)" fill="#63676b" stroke="#55595d" stroke-width="0.5"/>
<ellipse cx="621.7" cy="340.9" rx="10.1" ry="3.19" transform="rotate(-40.41 621.7 340.9)" fill="#63676b" stroke="#55595d" stroke-width="0.5"/>
<ellipse cx="681.78" cy="357.25" rx="9.1" ry="2.87" transform="rotate(-44.89 681.78 357.25)" fill="#63676b" stroke="#55595d" stroke-width="0.5"/>
<ellipse cx="698.75" cy="340.35" rx="9.1" ry="2.87" transform="rotate(-44.89 698.75 340.35)" fill="#63676b" stroke="#55595d" stroke-width="0.5"/>
<ellipse cx="5.59" cy="430.05" rx="22.14" ry="6.99" transform="rotate(-25.2 5.59 430.05)" fill="#63676b" stroke="#55595d" stroke-width="0.5"/>
<ellipse cx="58.31" cy="405.24" rx="22.14" ry="6.99" transform="rotate(-25.2 58.31 405.24)" fill="#63676b" stroke="#55595d" stroke-width="0.5"/>
<ellipse cx="119.78" cy="427.32" rx="19.89" ry="6.28" transform="rotate(-27.48 119.78 427.32)" fill="#63676b" stroke="#55595d" stroke-width="0.5"/>
<ellipse cx="166.21" cy="403.17" rx="19.89" ry="6.28" transform="rotate(-27.48 166.21 403.17)" fill="#63676b" stroke="#55595d" stroke-width="0.5"/>
<ellipse cx="228.91" cy="424.71" rx="17.84" ry="5.63" transform="rotate(-30.07 228.91 424.71)" fill="#63676b" stroke="#55595d" stroke-width="0.5"/>
<ellipse cx="269.53" cy="401.19" rx="17.84" ry="5.63" transform="rotate(-30.07 269.53 401.19)" fill="#63676b" stroke="#55595d" stroke-width="0.5"/>
<ellipse cx="333.29" cy="422.21" rx="15.98" ry="5.05" transform="rotate(-33.03 333.29 422.21)" fill="#63676b" stroke="#55595d" stroke-width="0.5"/>
<ellipse cx="368.56" cy="399.29" rx="15.98" ry="5.05" transform="rotate(-33.03 368.56 399.29)" fill="#63676b" stroke="#55595d" stroke-width="0.5"/>
<ellipse cx="433.24" cy="419.82" rx="14.31" ry="4.52" transform="rotate(-36.41 433.24 419.82)" fill="#63676b" stroke="#55595d" stroke-width="0.5"/>
<ellipse cx="463.55" cy="397.46" rx="14.31" ry="4.52" transform="rotate(-36.41 463.55 397.46)" fill="#63676b" stroke="#55595d" stroke-width="0.5"/>
<ellipse cx="529.02" cy="417.53" rx="12.82" ry="4.05" transform="rotate(-40.29 529.02 417.53)" fill="#63676b" stroke="#55595d" stroke-width="0.5"/>
<ellipse cx="554.75" cy="395.71" rx="12.82" ry="4.05" transform="rotate(-40.29 554.75 395.71)" fill="#63676b" stroke="#55595d" stroke-width="0.5"/>
<ellipse cx="620.9" cy="415.33" rx="11.5" ry="3.63" transform="rotate(-44.75 620.9 415.33)" fill="#63676b" stroke="#55595d" stroke-width="0.5"/>
<ellipse cx="642.39" cy="394.03" rx="11.5" ry="3.63" transform="rotate(-44.75 642.39 394.03)" fill="#63676b" stroke="#55595d" stroke-width="0.5"/>
</g>
<ellipse cx="146.3" cy="91.5" rx="45.6" ry="51.2" fill="#4a4f55"/>
<clipPath id="lensTop"><ellipse cx="147.8" cy="91.5" rx="45.6" ry="51.2"/></clipPath>
<g clip-path="url(#lensTop)">
<rect x="100" y="38" width="100" height="110" fill="#a9c5e2"/>
<clipPath id="lensLow"><polygon points="100,92 185,58 200,60 200,150 100,150"/></clipPath>
<g clip-path="url(#lensLow)">
<clipPath id="lensclip2"><ellipse cx="147.8" cy="91.5" rx="45.6" ry="51.2"/></clipPath>
<g clip-path="url(#lensclip2)">
<ellipse cx="147.8" cy="91.5" rx="45.6" ry="51.2" fill="#bcd3ea"/>
<path d="M92.2,-30.28 L94.98,-30.58 L97.76,-31.1 L100.54,-31.91 L103.32,-32.99 L106.1,-34.34 L108.88,-35.92 L111.66,-37.67 L114.44,-39.5 L117.22,-41.32 L120,-43.07 L122.78,-44.64 L125.56,-46 L128.34,-47.08 L131.12,-47.88 L133.9,-48.4 L136.68,-48.69 L139.46,-48.81 L142.24,-48.82 L145.02,-48.82 L147.8,-48.89 L150.58,-49.11 L153.36,-49.56 L156.14,-50.26 L158.92,-51.25 L161.7,-52.51 L164.48,-54.02 L167.26,-55.72 L170.04,-57.53 L172.82,-59.37 L175.6,-61.15 L178.38,-62.79 L181.16,-64.22 L183.94,-65.4 L186.72,-66.3 L189.5,-66.91 L192.28,-67.28 L195.06,-67.44 L197.84,-67.48 L200.62,-67.48 L203.4,-67.51" fill="none" stroke="#7690aa" stroke-width="5.0" stroke-linecap="round" opacity="0.85"/>
<path d="M92.2,-24.28 L94.98,-24.58 L97.76,-25.1 L100.54,-25.91 L103.32,-26.99 L106.1,-28.34 L108.88,-29.92 L111.66,-31.67 L114.44,-33.5 L117.22,-35.32 L120,-37.07 L122.78,-38.64 L125.56,-40 L128.34,-41.08 L131.12,-41.88 L133.9,-42.4 L136.68,-42.69 L139.46,-42.81 L142.24,-42.82 L145.02,-42.82 L147.8,-42.89 L150.58,-43.11 L153.36,-43.56 L156.14,-44.26 L158.92,-45.25 L161.7,-46.51 L164.48,-48.02 L167.26,-49.72 L170.04,-51.53 L172.82,-53.37 L175.6,-55.15 L178.38,-56.79 L181.16,-58.22 L183.94,-59.4 L186.72,-60.3 L189.5,-60.91 L192.28,-61.28 L195.06,-61.44 L197.84,-61.48 L200.62,-61.48 L203.4,-61.51" fill="none" stroke="#e3eef8" stroke-width="3.0" opacity="0.7"/>
<path d="M92.2,-17.17 L94.98,-18.32 L97.76,-19.73 L100.54,-21.35 L103.32,-23.13 L106.1,-24.96 L108.88,-26.78 L111.66,-28.49 L114.44,-30.02 L117.22,-31.31 L120,-32.32 L122.78,-33.05 L125.56,-33.52 L128.34,-33.76 L131.12,-33.84 L133.9,-33.85 L136.68,-33.86 L139.46,-33.96 L142.24,-34.23 L145.02,-34.73 L147.8,-35.5 L150.58,-36.56 L153.36,-37.88 L156.14,-39.44 L158.92,-41.17 L161.7,-42.99 L164.48,-44.83 L167.26,-46.58 L170.04,-48.18 L172.82,-49.56 L175.6,-50.67 L178.38,-51.5 L181.16,-52.05 L183.94,-52.36 L186.72,-52.49 L189.5,-52.51 L192.28,-52.51 L195.06,-52.57 L197.84,-52.77 L200.62,-53.19 L203.4,-53.87" fill="none" stroke="#7690aa" stroke-width="5.0" stroke-linecap="round" opacity="0.85"/>
<path d="M92.2,-11.17 L94.98,-12.32 L97.76,-13.73 L100.54,-15.35 L103.32,-17.13 L106.1,-18.96 L108.88,-20.78 L111.66,-22.49 L114.44,-24.02 L117.22,-25.31 L120,-26.32 L122.78,-27.05 L125.56,-27.52 L128.34,-27.76 L131.12,-27.84 L133.9,-27.85 L136.68,-27.86 L139.46,-27.96 L142.24,-28.23 L145.02,-28.73 L147.8,-29.5 L150.58,-30.56 L153.36,-31.88 L156.14,-33.44 L158.92,-35.17 L161.7,-36.99 L164.48,-38.83 L167.26,-40.58 L170.04,-42.18 L172.82,-43.56 L175.6,-44.67 L178.38,-45.5 L181.16,-46.05 L183.94,-46.36 L186.72,-46.49 L189.5,-46.51 L192.28,-46.51 L195.06,-46.57 L197.84,-46.77 L200.62,-47.19 L203.4,-47.87" fill="none" stroke="#e3eef8" stroke-width="3.0" opacity="0.7"/>
<path d="M92.2,-6.79 L94.98,-8.59 L97.76,-10.43 L100.54,-12.23 L103.32,-13.9 L106.1,-15.38 L108.88,-16.6 L111.66,-17.55 L114.44,-18.22 L117.22,-18.63 L120,-18.82 L122.78,-18.88 L125.56,-18.88 L128.34,-18.9 L131.12,-19.03 L133.9,-19.35 L136.68,-19.92 L139.46,-20.75 L142.24,-21.88 L145.02,-23.26 L147.8,-24.87 L150.58,-26.63 L153.36,-28.46 L156.14,-30.28 L158.92,-32.01 L161.7,-33.56 L164.48,-34.88 L167.26,-35.92 L170.04,-36.68 L172.82,-37.17 L175.6,-37.44 L178.38,-37.53 L181.16,-37.54 L183.94,-37.54 L186.72,-37.63 L189.5,-37.88 L192.28,-38.36 L195.06,-39.1 L197.84,-40.12 L200.62,-41.42 L203.4,-42.96" fill="none" stroke="#7690aa" stroke-width="5.0" stroke-linecap="round" opacity="0.85"/>
<path d="M92.2,-0.79 L94.98,-2.59 L97.76,-4.43 L100.54,-6.23 L103.32,-7.9 L106.1,-9.38 L108.88,-10.6 L111.66,-11.55 L114.44,-12.22 L117.22,-12.63 L120,-12.82 L122.78,-12.88 L125.56,-12.88 L128.34,-12.9 L131.12,-13.03 L133.9,-13.35 L136.68,-13.92 L139.46,-14.75 L142.24,-15.88 L145.02,-17.26 L147.8,-18.87 L150.58,-20.63 L153.36,-22.46 L156.14,-24.28 L158.92,-26.01 L161.7,-27.56 L164.48,-28.88 L167.26,-29.92 L170.04,-30.68 L172.82,-31.17 L175.6,-31.44 L178.38,-31.53 L181.16,-31.54 L183.94,-31.54 L186.72,-31.63 L189.5,-31.88 L192.28,-32.36 L195.06,-33.1 L197.84,-34.12 L200.62,-35.42 L203.4,-36.96" fill="none" stroke="#e3eef8" stroke-width="3.0" opacity="0.7"/>
<path d="M92.2,2.33 L94.98,0.7 L97.76,-0.72 L100.54,-1.88 L103.32,-2.76 L106.1,-3.37 L108.88,-3.72 L111.66,-3.88 L114.44,-3.91 L117.22,-3.91 L120,-3.95 L122.78,-4.12 L125.56,-4.49 L128.34,-5.12 L131.12,-6.03 L133.9,-7.21 L136.68,-8.66 L139.46,-10.3 L142.24,-12.09 L145.02,-13.93 L147.8,-15.74 L150.58,-17.43 L153.36,-18.93 L156.14,-20.18 L158.92,-21.16 L161.7,-21.85 L164.48,-22.28 L167.26,-22.5 L170.04,-22.57 L172.82,-22.57 L175.6,-22.58 L178.38,-22.7 L181.16,-23 L183.94,-23.54 L186.72,-24.35 L189.5,-25.44 L192.28,-26.8 L195.06,-28.38 L197.84,-30.13 L200.62,-31.96 L203.4,-33.79" fill="none" stroke="#7690aa" stroke-width="5.0" stroke-linecap="round" opacity="0.85"/>
<path d="M92.2,8.33 L94.98,6.7 L97.76,5.28 L100.54,4.12 L103.32,3.24 L106.1,2.63 L108.88,2.28 L111.66,2.12 L114.44,2.09 L117.22,2.09 L120,2.05 L122.78,1.88 L125.56,1.51 L128.34,0.88 L131.12,-0.03 L133.9,-1.21 L136.68,-2.66 L139.46,-4.3 L142.24,-6.09 L145.02,-7.93 L147.8,-9.74 L150.58,-11.43 L153.36,-12.93 L156.14,-14.18 L158.92,-15.16 L161.7,-15.85 L164.48,-16.28 L167.26,-16.5 L170.04,-16.57 L172.82,-16.57 L175.6,-16.58 L178.38,-16.7 L181.16,-17 L183.94,-17.54 L186.72,-18.35 L189.5,-19.44 L192.28,-20.8 L195.06,-22.38 L197.84,-24.13 L200.62,-25.96 L203.4,-27.79" fill="none" stroke="#e3eef8" stroke-width="3.0" opacity="0.7"/>
<path d="M92.2,12.85 L94.98,12.04 L97.76,11.5 L100.54,11.2 L103.32,11.08 L106.1,11.06 L108.88,11.06 L111.66,11 L114.44,10.78 L117.22,10.35 L120,9.66 L122.78,8.69 L125.56,7.44 L128.34,5.94 L131.12,4.25 L133.9,2.45 L136.68,0.61 L139.46,-1.18 L142.24,-2.83 L145.02,-4.28 L147.8,-5.47 L150.58,-6.38 L153.36,-7.01 L156.14,-7.38 L158.92,-7.56 L161.7,-7.6 L164.48,-7.6 L167.26,-7.63 L170.04,-7.78 L172.82,-8.13 L175.6,-8.73 L178.38,-9.61 L181.16,-10.77 L183.94,-12.19 L186.72,-13.82 L189.5,-15.59 L192.28,-17.43 L195.06,-19.24 L197.84,-20.95 L200.62,-22.47 L203.4,-23.75" fill="none" stroke="#7690aa" stroke-width="5.0" stroke-linecap="round" opacity="0.85"/>
<path d="M92.2,18.85 L94.98,18.04 L97.76,17.5 L100.54,17.2 L103.32,17.08 L106.1,17.06 L108.88,17.06 L111.66,17 L114.44,16.78 L117.22,16.35 L120,15.66 L122.78,14.69 L125.56,13.44 L128.34,11.94 L131.12,10.25 L133.9,8.45 L136.68,6.61 L139.46,4.82 L142.24,3.17 L145.02,1.72 L147.8,0.53 L150.58,-0.38 L153.36,-1.01 L156.14,-1.38 L158.92,-1.56 L161.7,-1.6 L164.48,-1.6 L167.26,-1.63 L170.04,-1.78 L172.82,-2.13 L175.6,-2.73 L178.38,-3.61 L181.16,-4.77 L183.94,-6.19 L186.72,-7.82 L189.5,-9.59 L192.28,-11.43 L195.06,-13.24 L197.84,-14.95 L200.62,-16.47 L203.4,-17.75" fill="none" stroke="#e3eef8" stroke-width="3.0" opacity="0.7"/>
<path d="M92.2,26.13 L94.98,26.04 L97.76,26.03 L100.54,26.03 L103.32,25.93 L106.1,25.67 L108.88,25.18 L111.66,24.43 L114.44,23.38 L117.22,22.07 L120,20.52 L122.78,18.8 L125.56,16.98 L128.34,15.14 L131.12,13.38 L133.9,11.77 L136.68,10.39 L139.46,9.26 L142.24,8.42 L145.02,7.85 L147.8,7.53 L150.58,7.39 L153.36,7.37 L156.14,7.37 L158.92,7.32 L161.7,7.12 L164.48,6.72 L167.26,6.05 L170.04,5.11 L172.82,3.89 L175.6,2.41 L178.38,0.74 L181.16,-1.06 L183.94,-2.9 L186.72,-4.69 L189.5,-6.36 L192.28,-7.83 L195.06,-9.05 L197.84,-9.99 L200.62,-10.65 L203.4,-11.05" fill="none" stroke="#7690aa" stroke-width="5.0" stroke-linecap="round" opacity="0.85"/>
<path d="M92.2,32.13 L94.98,32.04 L97.76,32.03 L100.54,32.03 L103.32,31.93 L106.1,31.67 L108.88,31.18 L111.66,30.43 L114.44,29.38 L117.22,28.07 L120,26.52 L122.78,24.8 L125.56,22.98 L128.34,21.14 L131.12,19.38 L133.9,17.77 L136.68,16.39 L139.46,15.26 L142.24,14.42 L145.02,13.85 L147.8,13.53 L150.58,13.39 L153.36,13.37 L156.14,13.37 L158.92,13.32 L161.7,13.12 L164.48,12.72 L167.26,12.05 L170.04,11.11 L172.82,9.89 L175.6,8.41 L178.38,6.74 L181.16,4.94 L183.94,3.1 L186.72,1.31 L189.5,-0.36 L192.28,-1.83 L195.06,-3.05 L197.84,-3.99 L200.62,-4.65 L203.4,-5.05" fill="none" stroke="#e3eef8" stroke-width="3.0" opacity="0.7"/>
<path d="M92.2,40.98 L94.98,40.86 L97.76,40.55 L100.54,40 L103.32,39.17 L106.1,38.07 L108.88,36.69 L111.66,35.1 L114.44,33.34 L117.22,31.51 L120,29.69 L122.78,27.95 L125.56,26.39 L128.34,25.06 L131.12,24 L133.9,23.23 L136.68,22.73 L139.46,22.45 L142.24,22.35 L145.02,22.34 L147.8,22.34 L150.58,22.26 L153.36,22.02 L156.14,21.55 L158.92,20.83 L161.7,19.81 L164.48,18.53 L167.26,17 L170.04,15.29 L172.82,13.48 L175.6,11.64 L178.38,9.87 L181.16,8.24 L183.94,6.83 L186.72,5.67 L189.5,4.8 L192.28,4.21 L195.06,3.86 L197.84,3.71 L200.62,3.68 L203.4,3.68" fill="none" stroke="#7690aa" stroke-width="5.0" stroke-linecap="round" opacity="0.85"/>
<path d="M92.2,46.98 L94.98,46.86 L97.76,46.55 L100.54,46 L103.32,45.17 L106.1,44.07 L108.88,42.69 L111.66,41.1 L114.44,39.34 L117.22,37.51 L120,35.69 L122.78,33.95 L125.56,32.39 L128.34,31.06 L131.12,30 L133.9,29.23 L136.68,28.73 L139.46,28.45 L142.24,28.35 L145.02,28.34 L147.8,28.34 L150.58,28.26 L153.36,28.02 L156.14,27.55 L158.92,26.83 L161.7,25.81 L164.48,24.53 L167.26,23 L170.04,21.29 L172.82,19.48 L175.6,17.64 L178.38,15.87 L181.16,14.24 L183.94,12.83 L186.72,11.67 L189.5,10.8 L192.28,10.21 L195.06,9.86 L197.84,9.71 L200.62,9.68 L203.4,9.68" fill="none" stroke="#e3eef8" stroke-width="3.0" opacity="0.7"/>
<path d="M92.2,54.8 L94.98,53.91 L97.76,52.73 L100.54,51.3 L103.32,49.66 L106.1,47.88 L108.88,46.04 L111.66,44.23 L114.44,42.53 L117.22,41.02 L120,39.76 L122.78,38.76 L125.56,38.06 L128.34,37.61 L131.12,37.39 L133.9,37.31 L136.68,37.31 L139.46,37.3 L142.24,37.19 L145.02,36.9 L147.8,36.38 L150.58,35.58 L153.36,34.5 L156.14,33.16 L158.92,31.58 L161.7,29.84 L164.48,28.01 L167.26,26.18 L170.04,24.44 L172.82,22.85 L175.6,21.5 L178.38,20.41 L181.16,19.61 L183.94,19.07 L186.72,18.78 L189.5,18.66 L192.28,18.65 L195.06,18.65 L197.84,18.58 L200.62,18.36 L203.4,17.92" fill="none" stroke="#7690aa" stroke-width="5.0" stroke-linecap="round" opacity="0.85"/>
<path d="M92.2,60.8 L94.98,59.91 L97.76,58.73 L100.54,57.3 L103.32,55.66 L106.1,53.88 L108.88,52.04 L111.66,50.23 L114.44,48.53 L117.22,47.02 L120,45.76 L122.78,44.76 L125.56,44.06 L128.34,43.61 L131.12,43.39 L133.9,43.31 L136.68,43.31 L139.46,43.3 L142.24,43.19 L145.02,42.9 L147.8,42.38 L150.58,41.58 L153.36,40.5 L156.14,39.16 L158.92,37.58 L161.7,35.84 L164.48,34.01 L167.26,32.18 L170.04,30.44 L172.82,28.85 L175.6,27.5 L178.38,26.41 L181.16,25.61 L183.94,25.07 L186.72,24.78 L189.5,24.66 L192.28,24.65 L195.06,24.65 L197.84,24.58 L200.62,24.36 L203.4,23.92" fill="none" stroke="#e3eef8" stroke-width="3.0" opacity="0.7"/>
<path d="M92.2,65.9 L94.98,64.22 L97.76,62.42 L100.54,60.58 L103.32,58.79 L106.1,57.13 L108.88,55.67 L111.66,54.47 L114.44,53.54 L117.22,52.9 L120,52.51 L122.78,52.33 L125.56,52.28 L128.34,52.28 L131.12,52.25 L133.9,52.11 L136.68,51.77 L139.46,51.18 L142.24,50.32 L145.02,49.18 L147.8,47.77 L150.58,46.15 L153.36,44.38 L156.14,42.54 L158.92,40.73 L161.7,39.01 L164.48,37.48 L167.26,36.18 L170.04,35.16 L172.82,34.43 L175.6,33.96 L178.38,33.71 L181.16,33.62 L183.94,33.62 L186.72,33.61 L189.5,33.51 L192.28,33.25 L195.06,32.75 L197.84,31.99 L200.62,30.94 L203.4,29.62" fill="none" stroke="#7690aa" stroke-width="5.0" stroke-linecap="round" opacity="0.85"/>
<path d="M92.2,71.9 L94.98,70.22 L97.76,68.42 L100.54,66.58 L103.32,64.79 L106.1,63.13 L108.88,61.67 L111.66,60.47 L114.44,59.54 L117.22,58.9 L120,58.51 L122.78,58.33 L125.56,58.28 L128.34,58.28 L131.12,58.25 L133.9,58.11 L136.68,57.77 L139.46,57.18 L142.24,56.32 L145.02,55.18 L147.8,53.77 L150.58,52.15 L153.36,50.38 L156.14,48.54 L158.92,46.73 L161.7,45.01 L164.48,43.48 L167.26,42.18 L170.04,41.16 L172.82,40.43 L175.6,39.96 L178.38,39.71 L181.16,39.62 L183.94,39.62 L186.72,39.61 L189.5,39.51 L192.28,39.25 L195.06,38.75 L197.84,37.99 L200.62,36.94 L203.4,35.62" fill="none" stroke="#e3eef8" stroke-width="3.0" opacity="0.7"/>
<path d="M92.2,75.11 L94.98,73.35 L97.76,71.73 L100.54,70.33 L103.32,69.19 L106.1,68.33 L108.88,67.75 L111.66,67.42 L114.44,67.28 L117.22,67.25 L120,67.25 L122.78,67.2 L125.56,67.02 L128.34,66.62 L131.12,65.97 L133.9,65.04 L136.68,63.83 L139.46,62.37 L142.24,60.71 L145.02,58.92 L147.8,57.08 L150.58,55.28 L153.36,53.6 L156.14,52.12 L158.92,50.89 L161.7,49.93 L164.48,49.26 L167.26,48.85 L170.04,48.65 L172.82,48.59 L175.6,48.59 L178.38,48.57 L181.16,48.44 L183.94,48.12 L186.72,47.57 L189.5,46.73 L192.28,45.62 L195.06,44.24 L197.84,42.63 L200.62,40.88 L203.4,39.04" fill="none" stroke="#7690aa" stroke-width="5.0" stroke-linecap="round" opacity="0.85"/>
<path d="M92.2,81.11 L94.98,79.35 L97.76,77.73 L100.54,76.33 L103.32,75.19 L106.1,74.33 L108.88,73.75 L111.66,73.42 L114.44,73.28 L117.22,73.25 L120,73.25 L122.78,73.2 L125.56,73.02 L128.34,72.62 L131.12,71.97 L133.9,71.04 L136.68,69.83 L139.46,68.37 L142.24,66.71 L145.02,64.92 L147.8,63.08 L150.58,61.28 L153.36,59.6 L156.14,58.12 L158.92,56.89 L161.7,55.93 L164.48,55.26 L167.26,54.85 L170.04,54.65 L172.82,54.59 L175.6,54.59 L178.38,54.57 L181.16,54.44 L183.94,54.12 L186.72,53.57 L189.5,52.73 L192.28,51.62 L195.06,50.24 L197.84,48.63 L200.62,46.88 L203.4,45.04" fill="none" stroke="#e3eef8" stroke-width="3.0" opacity="0.7"/>
<path d="M92.2,85 L94.98,83.93 L97.76,83.14 L100.54,82.62 L103.32,82.34 L106.1,82.23 L108.88,82.22 L111.66,82.22 L114.44,82.14 L117.22,81.91 L120,81.46 L122.78,80.75 L125.56,79.75 L128.34,78.48 L131.12,76.96 L133.9,75.26 L136.68,73.45 L139.46,71.61 L142.24,69.83 L145.02,68.2 L147.8,66.77 L150.58,65.6 L153.36,64.72 L156.14,64.11 L158.92,63.75 L161.7,63.59 L164.48,63.56 L167.26,63.56 L170.04,63.52 L172.82,63.35 L175.6,62.98 L178.38,62.36 L181.16,61.46 L183.94,60.28 L186.72,58.84 L189.5,57.2 L192.28,55.42 L195.06,53.58 L197.84,51.77 L200.62,50.07 L203.4,48.57" fill="none" stroke="#7690aa" stroke-width="5.0" stroke-linecap="round" opacity="0.85"/>
<path d="M92.2,91 L94.98,89.93 L97.76,89.14 L100.54,88.62 L103.32,88.34 L106.1,88.23 L108.88,88.22 L111.66,88.22 L114.44,88.14 L117.22,87.91 L120,87.46 L122.78,86.75 L125.56,85.75 L128.34,84.48 L131.12,82.96 L133.9,81.26 L136.68,79.45 L139.46,77.61 L142.24,75.83 L145.02,74.2 L147.8,72.77 L150.58,71.6 L153.36,70.72 L156.14,70.11 L158.92,69.75 L161.7,69.59 L164.48,69.56 L167.26,69.56 L170.04,69.52 L172.82,69.35 L175.6,68.98 L178.38,68.36 L181.16,67.46 L183.94,66.28 L186.72,64.84 L189.5,63.2 L192.28,61.42 L195.06,59.58 L197.84,57.77 L200.62,56.07 L203.4,54.57" fill="none" stroke="#e3eef8" stroke-width="3.0" opacity="0.7"/>
<path d="M92.2,97.51 L94.98,97.27 L97.76,97.19 L100.54,97.19 L103.32,97.18 L106.1,97.08 L108.88,96.8 L111.66,96.29 L114.44,95.51 L117.22,94.44 L120,93.11 L122.78,91.54 L125.56,89.81 L128.34,87.98 L131.12,86.15 L133.9,84.4 L136.68,82.81 L139.46,81.44 L142.24,80.34 L145.02,79.52 L147.8,78.98 L150.58,78.67 L153.36,78.55 L156.14,78.53 L158.92,78.53 L161.7,78.47 L164.48,78.26 L167.26,77.83 L170.04,77.15 L172.82,76.18 L175.6,74.93 L178.38,73.44 L181.16,71.76 L183.94,69.95 L186.72,68.11 L189.5,66.32 L192.28,64.67 L195.06,63.22 L197.84,62.02 L200.62,61.11 L203.4,60.47" fill="none" stroke="#7690aa" stroke-width="5.0" stroke-linecap="round" opacity="0.85"/>
<path d="M92.2,103.51 L94.98,103.27 L97.76,103.19 L100.54,103.19 L103.32,103.18 L106.1,103.08 L108.88,102.8 L111.66,102.29 L114.44,101.51 L117.22,100.44 L120,99.11 L122.78,97.54 L125.56,95.81 L128.34,93.98 L131.12,92.15 L133.9,90.4 L136.68,88.81 L139.46,87.44 L142.24,86.34 L145.02,85.52 L147.8,84.98 L150.58,84.67 L153.36,84.55 L156.14,84.53 L158.92,84.53 L161.7,84.47 L164.48,84.26 L167.26,83.83 L170.04,83.15 L172.82,82.18 L175.6,80.93 L178.38,79.44 L181.16,77.76 L183.94,75.95 L186.72,74.11 L189.5,72.32 L192.28,70.67 L195.06,69.22 L197.84,68.02 L200.62,67.11 L203.4,66.47" fill="none" stroke="#e3eef8" stroke-width="3.0" opacity="0.7"/>
<path d="M92.2,112.16 L94.98,112.14 L97.76,112 L100.54,111.67 L103.32,111.1 L106.1,110.25 L108.88,109.12 L111.66,107.73 L114.44,106.12 L117.22,104.35 L120,102.52 L122.78,100.7 L125.56,98.98 L128.34,97.43 L131.12,96.12 L133.9,95.09 L136.68,94.34 L139.46,93.85 L142.24,93.6 L145.02,93.51 L147.8,93.5 L150.58,93.49 L153.36,93.4 L156.14,93.15 L158.92,92.66 L161.7,91.91 L164.48,90.88 L167.26,89.57 L170.04,88.02 L172.82,86.3 L175.6,84.48 L178.38,82.65 L181.16,80.88 L183.94,79.27 L186.72,77.88 L189.5,76.75 L192.28,75.9 L195.06,75.33 L197.84,75 L200.62,74.86 L203.4,74.84" fill="none" stroke="#7690aa" stroke-width="5.0" stroke-linecap="round" opacity="0.85"/>
<path d="M92.2,118.16 L94.98,118.14 L97.76,118 L100.54,117.67 L103.32,117.1 L106.1,116.25 L108.88,115.12 L111.66,113.73 L114.44,112.12 L117.22,110.35 L120,108.52 L122.78,106.7 L125.56,104.98 L128.34,103.43 L131.12,102.12 L133.9,101.09 L136.68,100.34 L139.46,99.85 L142.24,99.6 L145.02,99.51 L147.8,99.5 L150.58,99.49 L153.36,99.4 L156.14,99.15 L158.92,98.66 L161.7,97.91 L164.48,96.88 L167.26,95.57 L170.04,94.02 L172.82,92.3 L175.6,90.48 L178.38,88.65 L181.16,86.88 L183.94,85.27 L186.72,83.88 L189.5,82.75 L192.28,81.9 L195.06,81.33 L197.84,81 L200.62,80.86 L203.4,80.84" fill="none" stroke="#e3eef8" stroke-width="3.0" opacity="0.7"/>
<path d="M92.2,126.53 L94.98,125.89 L97.76,124.98 L100.54,123.78 L103.32,122.33 L106.1,120.68 L108.88,118.89 L111.66,117.05 L114.44,115.24 L117.22,113.56 L120,112.07 L122.78,110.82 L125.56,109.85 L128.34,109.17 L131.12,108.74 L133.9,108.53 L136.68,108.47 L139.46,108.47 L142.24,108.45 L145.02,108.33 L147.8,108.02 L150.58,107.48 L153.36,106.66 L156.14,105.56 L158.92,104.19 L161.7,102.6 L164.48,100.85 L167.26,99.02 L170.04,97.19 L172.82,95.46 L175.6,93.89 L178.38,92.56 L181.16,91.49 L183.94,90.71 L186.72,90.2 L189.5,89.92 L192.28,89.82 L195.06,89.81 L197.84,89.81 L200.62,89.73 L203.4,89.49" fill="none" stroke="#7690aa" stroke-width="5.0" stroke-linecap="round" opacity="0.85"/>
<path d="M92.2,132.53 L94.98,131.89 L97.76,130.98 L100.54,129.78 L103.32,128.33 L106.1,126.68 L108.88,124.89 L111.66,123.05 L114.44,121.24 L117.22,119.56 L120,118.07 L122.78,116.82 L125.56,115.85 L128.34,115.17 L131.12,114.74 L133.9,114.53 L136.68,114.47 L139.46,114.47 L142.24,114.45 L145.02,114.33 L147.8,114.02 L150.58,113.48 L153.36,112.66 L156.14,111.56 L158.92,110.19 L161.7,108.6 L164.48,106.85 L167.26,105.02 L170.04,103.19 L172.82,101.46 L175.6,99.89 L178.38,98.56 L181.16,97.49 L183.94,96.71 L186.72,96.2 L189.5,95.92 L192.28,95.82 L195.06,95.81 L197.84,95.81 L200.62,95.73 L203.4,95.49" fill="none" stroke="#e3eef8" stroke-width="3.0" opacity="0.7"/>
<path d="M92.2,138.43 L94.98,136.93 L97.76,135.23 L100.54,133.42 L103.32,131.58 L106.1,129.8 L108.88,128.16 L111.66,126.72 L114.44,125.54 L117.22,124.64 L120,124.02 L122.78,123.65 L125.56,123.48 L128.34,123.44 L131.12,123.44 L133.9,123.41 L136.68,123.25 L139.46,122.89 L142.24,122.28 L145.02,121.4 L147.8,120.23 L150.58,118.8 L153.36,117.17 L156.14,115.39 L158.92,113.55 L161.7,111.74 L164.48,110.04 L167.26,108.52 L170.04,107.25 L172.82,106.25 L175.6,105.54 L178.38,105.09 L181.16,104.86 L183.94,104.78 L186.72,104.78 L189.5,104.77 L192.28,104.66 L195.06,104.38 L197.84,103.86 L200.62,103.07 L203.4,102" fill="none" stroke="#7690aa" stroke-width="5.0" stroke-linecap="round" opacity="0.85"/>
<path d="M92.2,144.43 L94.98,142.93 L97.76,141.23 L100.54,139.42 L103.32,137.58 L106.1,135.8 L108.88,134.16 L111.66,132.72 L114.44,131.54 L117.22,130.64 L120,130.02 L122.78,129.65 L125.56,129.48 L128.34,129.44 L131.12,129.44 L133.9,129.41 L136.68,129.25 L139.46,128.89 L142.24,128.28 L145.02,127.4 L147.8,126.23 L150.58,124.8 L153.36,123.17 L156.14,121.39 L158.92,119.55 L161.7,117.74 L164.48,116.04 L167.26,114.52 L170.04,113.25 L172.82,112.25 L175.6,111.54 L178.38,111.09 L181.16,110.86 L183.94,110.78 L186.72,110.78 L189.5,110.77 L192.28,110.66 L195.06,110.38 L197.84,109.86 L200.62,109.07 L203.4,108" fill="none" stroke="#e3eef8" stroke-width="3.0" opacity="0.7"/>
<path d="M92.2,147.96 L94.98,146.12 L97.76,144.37 L100.54,142.76 L103.32,141.38 L106.1,140.27 L108.88,139.43 L111.66,138.88 L114.44,138.56 L117.22,138.43 L120,138.41 L122.78,138.41 L125.56,138.35 L128.34,138.15 L131.12,137.74 L133.9,137.07 L136.68,136.11 L139.46,134.88 L142.24,133.4 L145.02,131.72 L147.8,129.92 L150.58,128.08 L153.36,126.29 L156.14,124.63 L158.92,123.17 L161.7,121.96 L164.48,121.03 L167.26,120.38 L170.04,119.98 L172.82,119.8 L175.6,119.75 L178.38,119.75 L181.16,119.72 L183.94,119.58 L186.72,119.25 L189.5,118.67 L192.28,117.81 L195.06,116.67 L197.84,115.27 L200.62,113.65 L203.4,111.89" fill="none" stroke="#7690aa" stroke-width="5.0" stroke-linecap="round" opacity="0.85"/>
<path d="M92.2,153.96 L94.98,152.12 L97.76,150.37 L100.54,148.76 L103.32,147.38 L106.1,146.27 L108.88,145.43 L111.66,144.88 L114.44,144.56 L117.22,144.43 L120,144.41 L122.78,144.41 L125.56,144.35 L128.34,144.15 L131.12,143.74 L133.9,143.07 L136.68,142.11 L139.46,140.88 L142.24,139.4 L145.02,137.72 L147.8,135.92 L150.58,134.08 L153.36,132.29 L156.14,130.63 L158.92,129.17 L161.7,127.96 L164.48,127.03 L167.26,126.38 L170.04,125.98 L172.82,125.8 L175.6,125.75 L178.38,125.75 L181.16,125.72 L183.94,125.58 L186.72,125.25 L189.5,124.67 L192.28,123.81 L195.06,122.67 L197.84,121.27 L200.62,119.65 L203.4,117.89" fill="none" stroke="#e3eef8" stroke-width="3.0" opacity="0.7"/>
<path d="M92.2,157.38 L94.98,156.06 L97.76,155.01 L100.54,154.25 L103.32,153.75 L106.1,153.49 L108.88,153.39 L111.66,153.38 L114.44,153.38 L117.22,153.29 L120,153.04 L122.78,152.57 L125.56,151.84 L128.34,150.82 L131.12,149.52 L133.9,147.99 L136.68,146.27 L139.46,144.46 L142.24,142.62 L145.02,140.85 L147.8,139.23 L150.58,137.82 L153.36,136.68 L156.14,135.82 L158.92,135.23 L161.7,134.89 L164.48,134.75 L167.26,134.72 L170.04,134.72 L172.82,134.67 L175.6,134.49 L178.38,134.1 L181.16,133.46 L183.94,132.53 L186.72,131.33 L189.5,129.87 L192.28,128.21 L195.06,126.42 L197.84,124.58 L200.62,122.78 L203.4,121.1" fill="none" stroke="#7690aa" stroke-width="5.0" stroke-linecap="round" opacity="0.85"/>
<path d="M92.2,163.38 L94.98,162.06 L97.76,161.01 L100.54,160.25 L103.32,159.75 L106.1,159.49 L108.88,159.39 L111.66,159.38 L114.44,159.38 L117.22,159.29 L120,159.04 L122.78,158.57 L125.56,157.84 L128.34,156.82 L131.12,155.52 L133.9,153.99 L136.68,152.27 L139.46,150.46 L142.24,148.62 L145.02,146.85 L147.8,145.23 L150.58,143.82 L153.36,142.68 L156.14,141.82 L158.92,141.23 L161.7,140.89 L164.48,140.75 L167.26,140.72 L170.04,140.72 L172.82,140.67 L175.6,140.49 L178.38,140.1 L181.16,139.46 L183.94,138.53 L186.72,137.33 L189.5,135.87 L192.28,134.21 L195.06,132.42 L197.84,130.58 L200.62,128.78 L203.4,127.1" fill="none" stroke="#e3eef8" stroke-width="3.0" opacity="0.7"/>
<path d="M92.2,169.08 L94.98,168.64 L97.76,168.42 L100.54,168.35 L103.32,168.35 L106.1,168.34 L108.88,168.22 L111.66,167.93 L114.44,167.39 L117.22,166.59 L120,165.5 L122.78,164.15 L125.56,162.56 L128.34,160.82 L131.12,158.99 L133.9,157.16 L136.68,155.42 L139.46,153.84 L142.24,152.5 L145.02,151.42 L147.8,150.62 L150.58,150.1 L153.36,149.81 L156.14,149.7 L158.92,149.69 L161.7,149.69 L164.48,149.61 L167.26,149.39 L170.04,148.94 L172.82,148.24 L175.6,147.24 L178.38,145.98 L181.16,144.47 L183.94,142.77 L186.72,140.96 L189.5,139.12 L192.28,137.34 L195.06,135.7 L197.84,134.27 L200.62,133.09 L203.4,132.2" fill="none" stroke="#7690aa" stroke-width="5.0" stroke-linecap="round" opacity="0.85"/>
<path d="M92.2,175.08 L94.98,174.64 L97.76,174.42 L100.54,174.35 L103.32,174.35 L106.1,174.34 L108.88,174.22 L111.66,173.93 L114.44,173.39 L117.22,172.59 L120,171.5 L122.78,170.15 L125.56,168.56 L128.34,166.82 L131.12,164.99 L133.9,163.16 L136.68,161.42 L139.46,159.84 L142.24,158.5 L145.02,157.42 L147.8,156.62 L150.58,156.1 L153.36,155.81 L156.14,155.7 L158.92,155.69 L161.7,155.69 L164.48,155.61 L167.26,155.39 L170.04,154.94 L172.82,154.24 L175.6,153.24 L178.38,151.98 L181.16,150.47 L183.94,148.77 L186.72,146.96 L189.5,145.12 L192.28,143.34 L195.06,141.7 L197.84,140.27 L200.62,139.09 L203.4,138.2" fill="none" stroke="#e3eef8" stroke-width="3.0" opacity="0.7"/>
<path d="M92.2,183.32 L94.98,183.32 L97.76,183.29 L100.54,183.14 L103.32,182.79 L106.1,182.2 L108.88,181.33 L111.66,180.17 L114.44,178.76 L117.22,177.13 L120,175.36 L122.78,173.52 L125.56,171.71 L128.34,170 L131.12,168.47 L133.9,167.19 L136.68,166.17 L139.46,165.45 L142.24,164.98 L145.02,164.74 L147.8,164.66 L150.58,164.66 L153.36,164.65 L156.14,164.55 L158.92,164.27 L161.7,163.77 L164.48,163 L167.26,161.94 L170.04,160.61 L172.82,159.05 L175.6,157.31 L178.38,155.49 L181.16,153.66 L183.94,151.9 L186.72,150.31 L189.5,148.93 L192.28,147.83 L195.06,147 L197.84,146.45 L200.62,146.14 L203.4,146.02" fill="none" stroke="#7690aa" stroke-width="5.0" stroke-linecap="round" opacity="0.85"/>
<path d="M92.2,189.32 L94.98,189.32 L97.76,189.29 L100.54,189.14 L103.32,188.79 L106.1,188.2 L108.88,187.33 L111.66,186.17 L114.44,184.76 L117.22,183.13 L120,181.36 L122.78,179.52 L125.56,177.71 L128.34,176 L131.12,174.47 L133.9,173.19 L136.68,172.17 L139.46,171.45 L142.24,170.98 L145.02,170.74 L147.8,170.66 L150.58,170.66 L153.36,170.65 L156.14,170.55 L158.92,170.27 L161.7,169.77 L164.48,169 L167.26,167.94 L170.04,166.61 L172.82,165.05 L175.6,163.31 L178.38,161.49 L181.16,159.66 L183.94,157.9 L186.72,156.31 L189.5,154.93 L192.28,153.83 L195.06,153 L197.84,152.45 L200.62,152.14 L203.4,152.02" fill="none" stroke="#e3eef8" stroke-width="3.0" opacity="0.7"/>
<path d="M92.2,198.05 L94.98,197.65 L97.76,196.99 L100.54,196.05 L103.32,194.83 L106.1,193.36 L108.88,191.69 L111.66,189.9 L114.44,188.06 L117.22,186.26 L120,184.59 L122.78,183.11 L125.56,181.89 L128.34,180.95 L131.12,180.28 L133.9,179.88 L136.68,179.68 L139.46,179.63 L142.24,179.63 L145.02,179.61 L147.8,179.47 L150.58,179.15 L153.36,178.58 L156.14,177.74 L158.92,176.61 L161.7,175.23 L164.48,173.62 L167.26,171.86 L170.04,170.02 L172.82,168.2 L175.6,166.48 L178.38,164.93 L181.16,163.62 L183.94,162.57 L186.72,161.82 L189.5,161.33 L192.28,161.07 L195.06,160.97 L197.84,160.97 L200.62,160.96 L203.4,160.87" fill="none" stroke="#7690aa" stroke-width="5.0" stroke-linecap="round" opacity="0.85"/>
<path d="M92.2,204.05 L94.98,203.65 L97.76,202.99 L100.54,202.05 L103.32,200.83 L106.1,199.36 L108.88,197.69 L111.66,195.9 L114.44,194.06 L117.22,192.26 L120,190.59 L122.78,189.11 L125.56,187.89 L128.34,186.95 L131.12,186.28 L133.9,185.88 L136.68,185.68 L139.46,185.63 L142.24,185.63 L145.02,185.61 L147.8,185.47 L150.58,185.15 L153.36,184.58 L156.14,183.74 L158.92,182.61 L161.7,181.23 L164.48,179.62 L167.26,177.86 L170.04,176.02 L172.82,174.2 L175.6,172.48 L178.38,170.93 L181.16,169.62 L183.94,168.57 L186.72,167.82 L189.5,167.33 L192.28,167.07 L195.06,166.97 L197.84,166.97 L200.62,166.96 L203.4,166.87" fill="none" stroke="#e3eef8" stroke-width="3.0" opacity="0.7"/>
<path d="M92.2,210.75 L94.98,209.47 L97.76,207.95 L100.54,206.24 L103.32,204.43 L106.1,202.59 L108.88,200.82 L111.66,199.19 L114.44,197.77 L117.22,196.61 L120,195.73 L122.78,195.13 L125.56,194.78 L128.34,194.63 L131.12,194.6 L133.9,194.6 L136.68,194.56 L139.46,194.38 L142.24,194.01 L145.02,193.38 L147.8,192.47 L150.58,191.28 L153.36,189.83 L156.14,188.18 L158.92,186.39 L161.7,184.55 L164.48,182.75 L167.26,181.06 L170.04,179.56 L172.82,178.31 L175.6,177.34 L178.38,176.65 L181.16,176.22 L183.94,176 L186.72,175.94 L189.5,175.94 L192.28,175.92 L195.06,175.8 L197.84,175.5 L200.62,174.96 L203.4,174.15" fill="none" stroke="#7690aa" stroke-width="5.0" stroke-linecap="round" opacity="0.85"/>
<path d="M92.2,216.75 L94.98,215.47 L97.76,213.95 L100.54,212.24 L103.32,210.43 L106.1,208.59 L108.88,206.82 L111.66,205.19 L114.44,203.77 L117.22,202.61 L120,201.73 L122.78,201.13 L125.56,200.78 L128.34,200.63 L131.12,200.6 L133.9,200.6 L136.68,200.56 L139.46,200.38 L142.24,200.01 L145.02,199.38 L147.8,198.47 L150.58,197.28 L153.36,195.83 L156.14,194.18 L158.92,192.39 L161.7,190.55 L164.48,188.75 L167.26,187.06 L170.04,185.56 L172.82,184.31 L175.6,183.34 L178.38,182.65 L181.16,182.22 L183.94,182 L186.72,181.94 L189.5,181.94 L192.28,181.92 L195.06,181.8 L197.84,181.5 L200.62,180.96 L203.4,180.15" fill="none" stroke="#e3eef8" stroke-width="3.0" opacity="0.7"/>
<path d="M92.2,220.79 L94.98,218.96 L97.76,217.13 L100.54,215.38 L103.32,213.8 L106.1,212.44 L108.88,211.35 L111.66,210.54 L114.44,210 L117.22,209.7 L120,209.58 L122.78,209.57 L125.56,209.57 L128.34,209.5 L131.12,209.28 L133.9,208.85 L136.68,208.16 L139.46,207.18 L142.24,205.93 L145.02,204.43 L147.8,202.74 L150.58,200.93 L153.36,199.09 L156.14,197.3 L158.92,195.66 L161.7,194.21 L164.48,193.03 L167.26,192.12 L170.04,191.49 L172.82,191.12 L175.6,190.95 L178.38,190.91 L181.16,190.91 L183.94,190.88 L186.72,190.72 L189.5,190.37 L192.28,189.76 L195.06,188.88 L197.84,187.72 L200.62,186.3 L203.4,184.67" fill="none" stroke="#7690aa" stroke-width="5.0" stroke-linecap="round" opacity="0.85"/>
<path d="M92.2,226.79 L94.98,224.96 L97.76,223.13 L100.54,221.38 L103.32,219.8 L106.1,218.44 L108.88,217.35 L111.66,216.54 L114.44,216 L117.22,215.7 L120,215.58 L122.78,215.57 L125.56,215.57 L128.34,215.5 L131.12,215.28 L133.9,214.85 L136.68,214.16 L139.46,213.18 L142.24,211.93 L145.02,210.43 L147.8,208.74 L150.58,206.93 L153.36,205.09 L156.14,203.3 L158.92,201.66 L161.7,200.21 L164.48,199.03 L167.26,198.12 L170.04,197.49 L172.82,197.12 L175.6,196.95 L178.38,196.91 L181.16,196.91 L183.94,196.88 L186.72,196.72 L189.5,196.37 L192.28,195.76 L195.06,194.88 L197.84,193.72 L200.62,192.3 L203.4,190.67" fill="none" stroke="#e3eef8" stroke-width="3.0" opacity="0.7"/>
<path d="M92.2,229.96 L94.98,228.42 L97.76,227.12 L100.54,226.1 L103.32,225.36 L106.1,224.88 L108.88,224.63 L111.66,224.54 L114.44,224.54 L117.22,224.53 L120,224.44 L122.78,224.17 L125.56,223.68 L128.34,222.92 L131.12,221.88 L133.9,220.56 L136.68,219.01 L139.46,217.28 L142.24,215.46 L145.02,213.63 L147.8,211.87 L150.58,210.26 L153.36,208.88 L156.14,207.75 L158.92,206.92 L161.7,206.35 L164.48,206.03 L167.26,205.9 L170.04,205.88 L172.82,205.88 L175.6,205.82 L178.38,205.63 L181.16,205.22 L183.94,204.55 L186.72,203.6 L189.5,202.38 L192.28,200.9 L195.06,199.23 L197.84,197.43 L200.62,195.59 L203.4,193.79" fill="none" stroke="#7690aa" stroke-width="5.0" stroke-linecap="round" opacity="0.85"/>
<path d="M92.2,235.96 L94.98,234.42 L97.76,233.12 L100.54,232.1 L103.32,231.36 L106.1,230.88 L108.88,230.63 L111.66,230.54 L114.44,230.54 L117.22,230.53 L120,230.44 L122.78,230.17 L125.56,229.68 L128.34,228.92 L131.12,227.88 L133.9,226.56 L136.68,225.01 L139.46,223.28 L142.24,221.46 L145.02,219.63 L147.8,217.87 L150.58,216.26 L153.36,214.88 L156.14,213.75 L158.92,212.92 L161.7,212.35 L164.48,212.03 L167.26,211.9 L170.04,211.88 L172.82,211.88 L175.6,211.82 L178.38,211.63 L181.16,211.22 L183.94,210.55 L186.72,209.6 L189.5,208.38 L192.28,206.9 L195.06,205.23 L197.84,203.43 L200.62,201.59 L203.4,199.79" fill="none" stroke="#e3eef8" stroke-width="3.0" opacity="0.7"/>
<path d="M92.2,240.87 L94.98,240.19 L97.76,239.77 L100.54,239.57 L103.32,239.51 L106.1,239.51 L108.88,239.49 L111.66,239.36 L114.44,239.05 L117.22,238.5 L120,237.67 L122.78,236.56 L125.56,235.18 L128.34,233.58 L131.12,231.83 L133.9,229.99 L136.68,228.17 L139.46,226.44 L142.24,224.88 L145.02,223.56 L147.8,222.5 L150.58,221.73 L153.36,221.23 L156.14,220.96 L158.92,220.86 L161.7,220.85 L164.48,220.84 L167.26,220.76 L170.04,220.52 L172.82,220.05 L175.6,219.32 L178.38,218.31 L181.16,217.02 L183.94,215.49 L186.72,213.78 L189.5,211.96 L192.28,210.13 L195.06,208.35 L197.84,206.73 L200.62,205.32 L203.4,204.17" fill="none" stroke="#7690aa" stroke-width="5.0" stroke-linecap="round" opacity="0.85"/>
<path d="M92.2,246.87 L94.98,246.19 L97.76,245.77 L100.54,245.57 L103.32,245.51 L106.1,245.51 L108.88,245.49 L111.66,245.36 L114.44,245.05 L117.22,244.5 L120,243.67 L122.78,242.56 L125.56,241.18 L128.34,239.58 L131.12,237.83 L133.9,235.99 L136.68,234.17 L139.46,232.44 L142.24,230.88 L145.02,229.56 L147.8,228.5 L150.58,227.73 L153.36,227.23 L156.14,226.96 L158.92,226.86 L161.7,226.85 L164.48,226.84 L167.26,226.76 L170.04,226.52 L172.82,226.05 L175.6,225.32 L178.38,224.31 L181.16,223.02 L183.94,221.49 L186.72,219.78 L189.5,217.96 L192.28,216.13 L195.06,214.35 L197.84,212.73 L200.62,211.32 L203.4,210.17" fill="none" stroke="#e3eef8" stroke-width="3.0" opacity="0.7"/>
<path d="M92.2,254.51 L94.98,254.48 L97.76,254.48 L100.54,254.44 L103.32,254.28 L106.1,253.91 L108.88,253.3 L111.66,252.4 L114.44,251.22 L117.22,249.79 L120,248.15 L122.78,246.37 L125.56,244.53 L128.34,242.72 L131.12,241.02 L133.9,239.51 L136.68,238.25 L139.46,237.26 L142.24,236.56 L145.02,236.11 L147.8,235.89 L150.58,235.82 L153.36,235.82 L156.14,235.81 L158.92,235.69 L161.7,235.4 L164.48,234.88 L167.26,234.08 L170.04,233 L172.82,231.64 L175.6,230.07 L178.38,228.32 L181.16,226.5 L183.94,224.67 L186.72,222.92 L189.5,221.34 L192.28,219.99 L195.06,218.91 L197.84,218.1 L200.62,217.58 L203.4,217.28" fill="none" stroke="#7690aa" stroke-width="5.0" stroke-linecap="round" opacity="0.85"/>
<path d="M92.2,260.51 L94.98,260.48 L97.76,260.48 L100.54,260.44 L103.32,260.28 L106.1,259.91 L108.88,259.3 L111.66,258.4 L114.44,257.22 L117.22,255.79 L120,254.15 L122.78,252.37 L125.56,250.53 L128.34,248.72 L131.12,247.02 L133.9,245.51 L136.68,244.25 L139.46,243.26 L142.24,242.56 L145.02,242.11 L147.8,241.89 L150.58,241.82 L153.36,241.82 L156.14,241.81 L158.92,241.69 L161.7,241.4 L164.48,240.88 L167.26,240.08 L170.04,239 L172.82,237.64 L175.6,236.07 L178.38,234.32 L181.16,232.5 L183.94,230.67 L186.72,228.92 L189.5,227.34 L192.28,225.99 L195.06,224.91 L197.84,224.1 L200.62,223.58 L203.4,223.28" fill="none" stroke="#e3eef8" stroke-width="3.0" opacity="0.7"/>
</g>
</g></g>
<g clip-path="url(#lensTop)">
<defs><linearGradient id="cg1" gradientUnits="userSpaceOnUse" x1="96.26" y1="76.73" x2="103.74" y2="59.27"><stop offset="0" stop-color="#c58a55"/><stop offset="0.5" stop-color="#c9915c"/><stop offset="1" stop-color="#a8703f"/></linearGradient><linearGradient id="cg2" gradientUnits="userSpaceOnUse" x1="134.96" y1="83.09" x2="135.04" y2="82.91"><stop offset="0" stop-color="#c58a55"/><stop offset="0.5" stop-color="#c9915c"/><stop offset="1" stop-color="#a8703f"/></linearGradient></defs>
<g opacity="1.0">
<polygon points="134.96,83.09 135.5,83.2 135.04,82.91" fill="url(#cg2)"/>
<polygon points="96.26,76.73 131.26,91.73 138.74,74.27 103.74,59.27" fill="url(#cg1)"/>
<ellipse cx="135" cy="83" rx="4.18" ry="9.5" transform="rotate(23.2 135 83)" fill="url(#cg1)" />
</g>
</g>
<ellipse cx="134" cy="82.8" rx="7.5" ry="11" transform="rotate(22 134 82.8)" fill="#9f6f4b"/>
<ellipse cx="134.5" cy="83" rx="6.2" ry="9.2" transform="rotate(22 134.5 83)" fill="#7c2228"/>
<defs><linearGradient id="cg3" gradientUnits="userSpaceOnUse" x1="158.64" y1="109.05" x2="167.36" y2="89.95"><stop offset="0" stop-color="#f8bf88"/><stop offset="0.2" stop-color="#f8b677"/><stop offset="0.5" stop-color="#f5a45b"/><stop offset="0.82" stop-color="#ef9a52"/><stop offset="1" stop-color="#f5b27c"/></linearGradient><linearGradient id="cg4" gradientUnits="userSpaceOnUse" x1="198.41" y1="143.7" x2="219.59" y2="97.3"><stop offset="0" stop-color="#f8bf88"/><stop offset="0.2" stop-color="#f8b677"/><stop offset="0.5" stop-color="#f5a45b"/><stop offset="0.82" stop-color="#ef9a52"/><stop offset="1" stop-color="#f5b27c"/></linearGradient></defs>
<g opacity="1.0">
<polygon points="198.41,143.7 256.7,139.5 219.59,97.3" fill="url(#cg4)"/>
<ellipse cx="209" cy="120.5" rx="15.81" ry="25.5" transform="rotate(24.54 209 120.5)" fill="#f3a35c" />
<ellipse cx="209" cy="120.5" rx="13.44" ry="21.68" transform="rotate(24.54 209 120.5)" fill="#f6a65e" opacity="0.9"/>
<polygon points="158.64,109.05 204.64,130.05 213.36,110.95 167.36,89.95" fill="url(#cg3)"/>
<ellipse cx="209" cy="120.5" rx="4.62" ry="10.5" transform="rotate(24.54 209 120.5)" fill="url(#cg3)" />
<ellipse cx="163" cy="99.5" rx="5.78" ry="10.5" transform="rotate(24.54 163 99.5)" fill="url(#cg3)" />
</g>
<ellipse cx="521.5" cy="87.1" rx="44" ry="50.8" fill="#4b4f55"/>
<ellipse cx="519.5" cy="87.1" rx="43" ry="50" fill="#a3bad2"/>
<clipPath id="wpLow"><polygon points="470,100 570,62 570,150 470,150"/></clipPath>
<g clip-path="url(#wpLow)">
<clipPath id="wpback"><ellipse cx="519.5" cy="87.1" rx="43" ry="50"/></clipPath>
<g clip-path="url(#wpback)">
<ellipse cx="519.5" cy="87.1" rx="43" ry="50" fill="#a9c0d8"/>
<path d="M466.5,-46.36 L469.15,-46.89 L471.8,-47.59 L474.45,-48.46 L477.1,-49.49 L479.75,-50.67 L482.4,-51.96 L485.05,-53.33 L487.7,-54.71 L490.35,-56.06 L493,-57.33 L495.65,-58.49 L498.3,-59.49 L500.95,-60.33 L503.6,-60.99 L506.25,-61.5 L508.9,-61.87 L511.55,-62.14 L514.2,-62.36 L516.85,-62.57 L519.5,-62.83 L522.15,-63.18 L524.8,-63.66 L527.45,-64.3 L530.1,-65.11 L532.75,-66.09 L535.4,-67.22 L538.05,-68.48 L540.7,-69.82 L543.35,-71.2 L546,-72.57 L548.65,-73.88 L551.3,-75.08 L553.95,-76.13 L556.6,-77.03 L559.25,-77.75 L561.9,-78.31 L564.55,-78.72 L567.2,-79.02 L569.85,-79.25 L572.5,-79.46" fill="none" stroke="#5d7690" stroke-width="5.5" stroke-linecap="round" opacity="0.85"/>
<path d="M466.5,-39.86 L469.15,-40.39 L471.8,-41.09 L474.45,-41.96 L477.1,-42.99 L479.75,-44.17 L482.4,-45.46 L485.05,-46.83 L487.7,-48.21 L490.35,-49.56 L493,-50.83 L495.65,-51.99 L498.3,-52.99 L500.95,-53.83 L503.6,-54.49 L506.25,-55 L508.9,-55.37 L511.55,-55.64 L514.2,-55.86 L516.85,-56.07 L519.5,-56.33 L522.15,-56.68 L524.8,-57.16 L527.45,-57.8 L530.1,-58.61 L532.75,-59.59 L535.4,-60.72 L538.05,-61.98 L540.7,-63.32 L543.35,-64.7 L546,-66.07 L548.65,-67.38 L551.3,-68.58 L553.95,-69.63 L556.6,-70.53 L559.25,-71.25 L561.9,-71.81 L564.55,-72.22 L567.2,-72.52 L569.85,-72.75 L572.5,-72.96" fill="none" stroke="#d4e3f1" stroke-width="3.2" opacity="0.7"/>
<path d="M466.5,-33.15 L469.15,-34.25 L471.8,-35.47 L474.45,-36.8 L477.1,-38.17 L479.75,-39.55 L482.4,-40.88 L485.05,-42.11 L487.7,-43.21 L490.35,-44.14 L493,-44.91 L495.65,-45.51 L498.3,-45.96 L500.95,-46.28 L503.6,-46.53 L506.25,-46.74 L508.9,-46.96 L511.55,-47.25 L514.2,-47.65 L516.85,-48.19 L519.5,-48.9 L522.15,-49.78 L524.8,-50.82 L527.45,-52.01 L530.1,-53.31 L532.75,-54.67 L535.4,-56.05 L538.05,-57.4 L540.7,-58.67 L543.35,-59.81 L546,-60.81 L548.65,-61.64 L551.3,-62.29 L553.95,-62.79 L556.6,-63.15 L559.25,-63.42 L561.9,-63.63 L564.55,-63.85 L567.2,-64.11 L569.85,-64.47 L572.5,-64.96" fill="none" stroke="#5d7690" stroke-width="5.5" stroke-linecap="round" opacity="0.85"/>
<path d="M466.5,-26.65 L469.15,-27.75 L471.8,-28.97 L474.45,-30.3 L477.1,-31.67 L479.75,-33.05 L482.4,-34.38 L485.05,-35.61 L487.7,-36.71 L490.35,-37.64 L493,-38.41 L495.65,-39.01 L498.3,-39.46 L500.95,-39.78 L503.6,-40.03 L506.25,-40.24 L508.9,-40.46 L511.55,-40.75 L514.2,-41.15 L516.85,-41.69 L519.5,-42.4 L522.15,-43.28 L524.8,-44.32 L527.45,-45.51 L530.1,-46.81 L532.75,-48.17 L535.4,-49.55 L538.05,-50.9 L540.7,-52.17 L543.35,-53.31 L546,-54.31 L548.65,-55.14 L551.3,-55.79 L553.95,-56.29 L556.6,-56.65 L559.25,-56.92 L561.9,-57.13 L564.55,-57.35 L567.2,-57.61 L569.85,-57.97 L572.5,-58.46" fill="none" stroke="#d4e3f1" stroke-width="3.2" opacity="0.7"/>
<path d="M466.5,-21.64 L469.15,-23.02 L471.8,-24.38 L474.45,-25.68 L477.1,-26.86 L479.75,-27.9 L482.4,-28.77 L485.05,-29.47 L487.7,-30.01 L490.35,-30.4 L493,-30.69 L495.65,-30.91 L498.3,-31.12 L500.95,-31.37 L503.6,-31.7 L506.25,-32.15 L508.9,-32.75 L511.55,-33.53 L514.2,-34.47 L516.85,-35.58 L519.5,-36.81 L522.15,-38.14 L524.8,-39.52 L527.45,-40.89 L530.1,-42.21 L532.75,-43.44 L535.4,-44.53 L538.05,-45.46 L540.7,-46.22 L543.35,-46.81 L546,-47.25 L548.65,-47.56 L551.3,-47.8 L553.95,-48.01 L556.6,-48.24 L559.25,-48.54 L561.9,-48.94 L564.55,-49.49 L567.2,-50.21 L569.85,-51.1 L572.5,-52.15" fill="none" stroke="#5d7690" stroke-width="5.5" stroke-linecap="round" opacity="0.85"/>
<path d="M466.5,-15.14 L469.15,-16.52 L471.8,-17.88 L474.45,-19.18 L477.1,-20.36 L479.75,-21.4 L482.4,-22.27 L485.05,-22.97 L487.7,-23.51 L490.35,-23.9 L493,-24.19 L495.65,-24.41 L498.3,-24.62 L500.95,-24.87 L503.6,-25.2 L506.25,-25.65 L508.9,-26.25 L511.55,-27.03 L514.2,-27.97 L516.85,-29.08 L519.5,-30.31 L522.15,-31.64 L524.8,-33.02 L527.45,-34.39 L530.1,-35.71 L532.75,-36.94 L535.4,-38.03 L538.05,-38.96 L540.7,-39.72 L543.35,-40.31 L546,-40.75 L548.65,-41.06 L551.3,-41.3 L553.95,-41.51 L556.6,-41.74 L559.25,-42.04 L561.9,-42.44 L564.55,-42.99 L567.2,-43.71 L569.85,-44.6 L572.5,-45.65" fill="none" stroke="#d4e3f1" stroke-width="3.2" opacity="0.7"/>
<path d="M466.5,-10.46 L469.15,-11.59 L471.8,-12.56 L474.45,-13.37 L477.1,-14 L479.75,-14.48 L482.4,-14.83 L485.05,-15.08 L487.7,-15.29 L490.35,-15.51 L493,-15.78 L495.65,-16.16 L498.3,-16.67 L500.95,-17.34 L503.6,-18.18 L506.25,-19.19 L508.9,-20.35 L511.55,-21.63 L514.2,-22.98 L516.85,-24.36 L519.5,-25.72 L522.15,-27.01 L524.8,-28.19 L527.45,-29.22 L530.1,-30.08 L532.75,-30.77 L535.4,-31.3 L538.05,-31.68 L540.7,-31.97 L543.35,-32.19 L546,-32.4 L548.65,-32.65 L551.3,-32.98 L553.95,-33.44 L556.6,-34.06 L559.25,-34.84 L561.9,-35.8 L564.55,-36.91 L567.2,-38.15 L569.85,-39.48 L572.5,-40.86" fill="none" stroke="#5d7690" stroke-width="5.5" stroke-linecap="round" opacity="0.85"/>
<path d="M466.5,-3.96 L469.15,-5.09 L471.8,-6.06 L474.45,-6.87 L477.1,-7.5 L479.75,-7.98 L482.4,-8.33 L485.05,-8.58 L487.7,-8.79 L490.35,-9.01 L493,-9.28 L495.65,-9.66 L498.3,-10.17 L500.95,-10.84 L503.6,-11.68 L506.25,-12.69 L508.9,-13.85 L511.55,-15.13 L514.2,-16.48 L516.85,-17.86 L519.5,-19.22 L522.15,-20.51 L524.8,-21.69 L527.45,-22.72 L530.1,-23.58 L532.75,-24.27 L535.4,-24.8 L538.05,-25.18 L540.7,-25.47 L543.35,-25.69 L546,-25.9 L548.65,-26.15 L551.3,-26.48 L553.95,-26.94 L556.6,-27.56 L559.25,-28.34 L561.9,-29.3 L564.55,-30.41 L567.2,-31.65 L569.85,-32.98 L572.5,-34.36" fill="none" stroke="#d4e3f1" stroke-width="3.2" opacity="0.7"/>
<path d="M466.5,2.06 L469.15,1.49 L471.8,1.07 L474.45,0.76 L477.1,0.53 L479.75,0.32 L482.4,0.09 L485.05,-0.22 L487.7,-0.64 L490.35,-1.21 L493,-1.95 L495.65,-2.86 L498.3,-3.94 L500.95,-5.15 L503.6,-6.46 L506.25,-7.83 L508.9,-9.21 L511.55,-10.55 L514.2,-11.79 L516.85,-12.91 L519.5,-13.88 L522.15,-14.67 L524.8,-15.3 L527.45,-15.77 L530.1,-16.11 L532.75,-16.36 L535.4,-16.57 L538.05,-16.79 L540.7,-17.07 L543.35,-17.45 L546,-17.97 L548.65,-18.65 L551.3,-19.5 L553.95,-20.52 L556.6,-21.69 L559.25,-22.97 L561.9,-24.33 L564.55,-25.71 L567.2,-27.06 L569.85,-28.35 L572.5,-29.52" fill="none" stroke="#5d7690" stroke-width="5.5" stroke-linecap="round" opacity="0.85"/>
<path d="M466.5,8.56 L469.15,7.99 L471.8,7.57 L474.45,7.26 L477.1,7.03 L479.75,6.82 L482.4,6.59 L485.05,6.28 L487.7,5.86 L490.35,5.29 L493,4.55 L495.65,3.64 L498.3,2.56 L500.95,1.35 L503.6,0.04 L506.25,-1.33 L508.9,-2.71 L511.55,-4.05 L514.2,-5.29 L516.85,-6.41 L519.5,-7.38 L522.15,-8.17 L524.8,-8.8 L527.45,-9.27 L530.1,-9.61 L532.75,-9.86 L535.4,-10.07 L538.05,-10.29 L540.7,-10.57 L543.35,-10.95 L546,-11.47 L548.65,-12.15 L551.3,-13 L553.95,-14.02 L556.6,-15.19 L559.25,-16.47 L561.9,-17.83 L564.55,-19.21 L567.2,-20.56 L569.85,-21.85 L572.5,-23.02" fill="none" stroke="#d4e3f1" stroke-width="3.2" opacity="0.7"/>
<path d="M466.5,16.37 L469.15,16.15 L471.8,15.94 L474.45,15.68 L477.1,15.33 L479.75,14.85 L482.4,14.21 L485.05,13.41 L487.7,12.43 L490.35,11.3 L493,10.04 L495.65,8.7 L498.3,7.32 L500.95,5.95 L503.6,4.65 L506.25,3.45 L508.9,2.38 L511.55,1.49 L514.2,0.76 L516.85,0.2 L519.5,-0.21 L522.15,-0.51 L524.8,-0.75 L527.45,-0.95 L530.1,-1.19 L532.75,-1.5 L535.4,-1.94 L538.05,-2.52 L540.7,-3.26 L543.35,-4.18 L546,-5.27 L548.65,-6.48 L551.3,-7.8 L553.95,-9.17 L556.6,-10.55 L559.25,-11.88 L561.9,-13.13 L564.55,-14.24 L567.2,-15.19 L569.85,-15.98 L572.5,-16.59" fill="none" stroke="#5d7690" stroke-width="5.5" stroke-linecap="round" opacity="0.85"/>
<path d="M466.5,22.87 L469.15,22.65 L471.8,22.44 L474.45,22.18 L477.1,21.83 L479.75,21.35 L482.4,20.71 L485.05,19.91 L487.7,18.93 L490.35,17.8 L493,16.54 L495.65,15.2 L498.3,13.82 L500.95,12.45 L503.6,11.15 L506.25,9.95 L508.9,8.88 L511.55,7.99 L514.2,7.26 L516.85,6.7 L519.5,6.29 L522.15,5.99 L524.8,5.75 L527.45,5.55 L530.1,5.31 L532.75,5 L535.4,4.56 L538.05,3.98 L540.7,3.24 L543.35,2.32 L546,1.23 L548.65,0.02 L551.3,-1.3 L553.95,-2.67 L556.6,-4.05 L559.25,-5.38 L561.9,-6.63 L564.55,-7.74 L567.2,-8.69 L569.85,-9.48 L572.5,-10.09" fill="none" stroke="#d4e3f1" stroke-width="3.2" opacity="0.7"/>
<path d="M466.5,31.25 L469.15,30.86 L471.8,30.32 L474.45,29.61 L477.1,28.74 L479.75,27.7 L482.4,26.51 L485.05,25.22 L487.7,23.86 L490.35,22.48 L493,21.13 L495.65,19.86 L498.3,18.71 L500.95,17.71 L503.6,16.88 L506.25,16.22 L508.9,15.72 L511.55,15.36 L514.2,15.09 L516.85,14.87 L519.5,14.66 L522.15,14.4 L524.8,14.04 L527.45,13.55 L530.1,12.91 L532.75,12.09 L535.4,11.1 L538.05,9.97 L540.7,8.7 L543.35,7.36 L546,5.98 L548.65,4.61 L551.3,3.31 L553.95,2.12 L556.6,1.06 L559.25,0.18 L561.9,-0.54 L564.55,-1.09 L567.2,-1.5 L569.85,-1.79 L572.5,-2.02" fill="none" stroke="#5d7690" stroke-width="5.5" stroke-linecap="round" opacity="0.85"/>
<path d="M466.5,37.75 L469.15,37.36 L471.8,36.82 L474.45,36.11 L477.1,35.24 L479.75,34.2 L482.4,33.01 L485.05,31.72 L487.7,30.36 L490.35,28.98 L493,27.63 L495.65,26.36 L498.3,25.21 L500.95,24.21 L503.6,23.38 L506.25,22.72 L508.9,22.22 L511.55,21.86 L514.2,21.59 L516.85,21.37 L519.5,21.16 L522.15,20.9 L524.8,20.54 L527.45,20.05 L530.1,19.41 L532.75,18.59 L535.4,17.6 L538.05,16.47 L540.7,15.2 L543.35,13.86 L546,12.48 L548.65,11.11 L551.3,9.81 L553.95,8.62 L556.6,7.56 L559.25,6.68 L561.9,5.96 L564.55,5.41 L567.2,5 L569.85,4.71 L572.5,4.48" fill="none" stroke="#d4e3f1" stroke-width="3.2" opacity="0.7"/>
<path d="M466.5,44.99 L469.15,44.05 L471.8,42.95 L474.45,41.71 L477.1,40.38 L479.75,39.01 L482.4,37.63 L485.05,36.31 L487.7,35.08 L490.35,33.99 L493,33.06 L495.65,32.3 L498.3,31.7 L500.95,31.26 L503.6,30.94 L506.25,30.7 L508.9,30.49 L511.55,30.26 L514.2,29.97 L516.85,29.57 L519.5,29.02 L522.15,28.3 L524.8,27.42 L527.45,26.37 L530.1,25.18 L532.75,23.88 L535.4,22.51 L538.05,21.13 L540.7,19.79 L543.35,18.52 L546,17.38 L548.65,16.39 L551.3,15.57 L553.95,14.92 L556.6,14.43 L559.25,14.07 L561.9,13.81 L564.55,13.6 L567.2,13.38 L569.85,13.12 L572.5,12.75" fill="none" stroke="#5d7690" stroke-width="5.5" stroke-linecap="round" opacity="0.85"/>
<path d="M466.5,51.49 L469.15,50.55 L471.8,49.45 L474.45,48.21 L477.1,46.88 L479.75,45.51 L482.4,44.13 L485.05,42.81 L487.7,41.58 L490.35,40.49 L493,39.56 L495.65,38.8 L498.3,38.2 L500.95,37.76 L503.6,37.44 L506.25,37.2 L508.9,36.99 L511.55,36.76 L514.2,36.47 L516.85,36.07 L519.5,35.52 L522.15,34.8 L524.8,33.92 L527.45,32.87 L530.1,31.68 L532.75,30.38 L535.4,29.01 L538.05,27.63 L540.7,26.29 L543.35,25.02 L546,23.88 L548.65,22.89 L551.3,22.07 L553.95,21.42 L556.6,20.93 L559.25,20.57 L561.9,20.31 L564.55,20.1 L567.2,19.88 L569.85,19.62 L572.5,19.25" fill="none" stroke="#d4e3f1" stroke-width="3.2" opacity="0.7"/>
<path d="M466.5,56.9 L469.15,55.54 L471.8,54.16 L474.45,52.8 L477.1,51.51 L479.75,50.33 L482.4,49.3 L485.05,48.44 L487.7,47.74 L490.35,47.21 L493,46.82 L495.65,46.54 L498.3,46.32 L500.95,46.11 L503.6,45.86 L506.25,45.52 L508.9,45.07 L511.55,44.46 L514.2,43.67 L516.85,42.72 L519.5,41.61 L522.15,40.37 L524.8,39.04 L527.45,37.67 L530.1,36.29 L532.75,34.97 L535.4,33.75 L538.05,32.67 L540.7,31.75 L543.35,30.99 L546,30.41 L548.65,29.98 L551.3,29.66 L553.95,29.42 L556.6,29.21 L559.25,28.98 L561.9,28.69 L564.55,28.27 L567.2,27.72 L569.85,26.99 L572.5,26.1" fill="none" stroke="#5d7690" stroke-width="5.5" stroke-linecap="round" opacity="0.85"/>
<path d="M466.5,63.4 L469.15,62.04 L471.8,60.66 L474.45,59.3 L477.1,58.01 L479.75,56.83 L482.4,55.8 L485.05,54.94 L487.7,54.24 L490.35,53.71 L493,53.32 L495.65,53.04 L498.3,52.82 L500.95,52.61 L503.6,52.36 L506.25,52.02 L508.9,51.57 L511.55,50.96 L514.2,50.17 L516.85,49.22 L519.5,48.11 L522.15,46.87 L524.8,45.54 L527.45,44.17 L530.1,42.79 L532.75,41.47 L535.4,40.25 L538.05,39.17 L540.7,38.25 L543.35,37.49 L546,36.91 L548.65,36.48 L551.3,36.16 L553.95,35.92 L556.6,35.71 L559.25,35.48 L561.9,35.19 L564.55,34.77 L567.2,34.22 L569.85,33.49 L572.5,32.6" fill="none" stroke="#d4e3f1" stroke-width="3.2" opacity="0.7"/>
<path d="M466.5,67.98 L469.15,66.73 L471.8,65.61 L474.45,64.64 L477.1,63.84 L479.75,63.21 L482.4,62.74 L485.05,62.4 L487.7,62.14 L490.35,61.93 L493,61.71 L495.65,61.44 L498.3,61.06 L500.95,60.54 L503.6,59.87 L506.25,59.02 L508.9,58 L511.55,56.84 L514.2,55.56 L516.85,54.2 L519.5,52.82 L522.15,51.46 L524.8,50.18 L527.45,49.01 L530.1,47.98 L532.75,47.13 L535.4,46.44 L538.05,45.92 L540.7,45.54 L543.35,45.26 L546,45.04 L548.65,44.83 L551.3,44.58 L553.95,44.24 L556.6,43.77 L559.25,43.15 L561.9,42.36 L564.55,41.4 L567.2,40.28 L569.85,39.04 L572.5,37.7" fill="none" stroke="#5d7690" stroke-width="5.5" stroke-linecap="round" opacity="0.85"/>
<path d="M466.5,74.48 L469.15,73.23 L471.8,72.11 L474.45,71.14 L477.1,70.34 L479.75,69.71 L482.4,69.24 L485.05,68.9 L487.7,68.64 L490.35,68.43 L493,68.21 L495.65,67.94 L498.3,67.56 L500.95,67.04 L503.6,66.37 L506.25,65.52 L508.9,64.5 L511.55,63.34 L514.2,62.06 L516.85,60.7 L519.5,59.32 L522.15,57.96 L524.8,56.68 L527.45,55.51 L530.1,54.48 L532.75,53.63 L535.4,52.94 L538.05,52.42 L540.7,52.04 L543.35,51.76 L546,51.54 L548.65,51.33 L551.3,51.08 L553.95,50.74 L556.6,50.27 L559.25,49.65 L561.9,48.86 L564.55,47.9 L567.2,46.78 L569.85,45.54 L572.5,44.2" fill="none" stroke="#d4e3f1" stroke-width="3.2" opacity="0.7"/>
<path d="M466.5,80 L469.15,79.27 L471.8,78.71 L474.45,78.29 L477.1,77.99 L479.75,77.76 L482.4,77.55 L485.05,77.31 L487.7,77 L490.35,76.57 L493,76 L495.65,75.25 L498.3,74.33 L500.95,73.26 L503.6,72.04 L506.25,70.72 L508.9,69.35 L511.55,67.97 L514.2,66.64 L516.85,65.4 L519.5,64.28 L522.15,63.32 L524.8,62.54 L527.45,61.92 L530.1,61.45 L532.75,61.12 L535.4,60.87 L538.05,60.66 L540.7,60.44 L543.35,60.16 L546,59.77 L548.65,59.25 L551.3,58.56 L553.95,57.7 L556.6,56.67 L559.25,55.5 L561.9,54.21 L564.55,52.86 L567.2,51.47 L569.85,50.12 L572.5,48.84" fill="none" stroke="#5d7690" stroke-width="5.5" stroke-linecap="round" opacity="0.85"/>
<path d="M466.5,86.5 L469.15,85.77 L471.8,85.21 L474.45,84.79 L477.1,84.49 L479.75,84.26 L482.4,84.05 L485.05,83.81 L487.7,83.5 L490.35,83.07 L493,82.5 L495.65,81.75 L498.3,80.83 L500.95,79.76 L503.6,78.54 L506.25,77.22 L508.9,75.85 L511.55,74.47 L514.2,73.14 L516.85,71.9 L519.5,70.78 L522.15,69.82 L524.8,69.04 L527.45,68.42 L530.1,67.95 L532.75,67.62 L535.4,67.37 L538.05,67.16 L540.7,66.94 L543.35,66.66 L546,66.27 L548.65,65.75 L551.3,65.06 L553.95,64.2 L556.6,63.17 L559.25,62 L561.9,60.71 L564.55,59.36 L567.2,57.97 L569.85,56.62 L572.5,55.34" fill="none" stroke="#d4e3f1" stroke-width="3.2" opacity="0.7"/>
<path d="M466.5,93.86 L469.15,93.59 L471.8,93.38 L474.45,93.16 L477.1,92.9 L479.75,92.55 L482.4,92.06 L485.05,91.42 L487.7,90.61 L490.35,89.62 L493,88.49 L495.65,87.23 L498.3,85.88 L500.95,84.5 L503.6,83.14 L506.25,81.83 L508.9,80.64 L511.55,79.58 L514.2,78.69 L516.85,77.97 L519.5,77.42 L522.15,77.01 L524.8,76.71 L527.45,76.48 L530.1,76.27 L532.75,76.03 L535.4,75.72 L538.05,75.28 L540.7,74.69 L543.35,73.94 L546,73.01 L548.65,71.93 L551.3,70.7 L553.95,69.38 L556.6,68.01 L559.25,66.63 L561.9,65.3 L564.55,64.06 L567.2,62.96 L569.85,62.01 L572.5,61.23" fill="none" stroke="#5d7690" stroke-width="5.5" stroke-linecap="round" opacity="0.85"/>
<path d="M466.5,100.36 L469.15,100.09 L471.8,99.88 L474.45,99.66 L477.1,99.4 L479.75,99.05 L482.4,98.56 L485.05,97.92 L487.7,97.11 L490.35,96.12 L493,94.99 L495.65,93.73 L498.3,92.38 L500.95,91 L503.6,89.64 L506.25,88.33 L508.9,87.14 L511.55,86.08 L514.2,85.19 L516.85,84.47 L519.5,83.92 L522.15,83.51 L524.8,83.21 L527.45,82.98 L530.1,82.77 L532.75,82.53 L535.4,82.22 L538.05,81.78 L540.7,81.19 L543.35,80.44 L546,79.51 L548.65,78.43 L551.3,77.2 L553.95,75.88 L556.6,74.51 L559.25,73.13 L561.9,71.8 L564.55,70.56 L567.2,69.46 L569.85,68.51 L572.5,67.73" fill="none" stroke="#d4e3f1" stroke-width="3.2" opacity="0.7"/>
<path d="M466.5,108.77 L469.15,108.48 L471.8,108.07 L474.45,107.53 L477.1,106.82 L479.75,105.94 L482.4,104.89 L485.05,103.7 L487.7,102.4 L490.35,101.04 L493,99.66 L495.65,98.31 L498.3,97.04 L500.95,95.9 L503.6,94.91 L506.25,94.08 L508.9,93.43 L511.55,92.94 L514.2,92.58 L516.85,92.31 L519.5,92.1 L522.15,91.89 L524.8,91.62 L527.45,91.26 L530.1,90.77 L532.75,90.12 L535.4,89.29 L538.05,88.3 L540.7,87.16 L543.35,85.89 L546,84.54 L548.65,83.16 L551.3,81.8 L553.95,80.5 L556.6,79.31 L559.25,78.26 L561.9,77.38 L564.55,76.67 L567.2,76.13 L569.85,75.72 L572.5,75.43" fill="none" stroke="#5d7690" stroke-width="5.5" stroke-linecap="round" opacity="0.85"/>
<path d="M466.5,115.27 L469.15,114.98 L471.8,114.57 L474.45,114.03 L477.1,113.32 L479.75,112.44 L482.4,111.39 L485.05,110.2 L487.7,108.9 L490.35,107.54 L493,106.16 L495.65,104.81 L498.3,103.54 L500.95,102.4 L503.6,101.41 L506.25,100.58 L508.9,99.93 L511.55,99.44 L514.2,99.08 L516.85,98.81 L519.5,98.6 L522.15,98.39 L524.8,98.12 L527.45,97.76 L530.1,97.27 L532.75,96.62 L535.4,95.79 L538.05,94.8 L540.7,93.66 L543.35,92.39 L546,91.04 L548.65,89.66 L551.3,88.3 L553.95,87 L556.6,85.81 L559.25,84.76 L561.9,83.88 L564.55,83.17 L567.2,82.63 L569.85,82.22 L572.5,81.93" fill="none" stroke="#d4e3f1" stroke-width="3.2" opacity="0.7"/>
<path d="M466.5,122.97 L469.15,122.19 L471.8,121.24 L474.45,120.14 L477.1,118.9 L479.75,117.57 L482.4,116.19 L485.05,114.82 L487.7,113.5 L490.35,112.27 L493,111.19 L495.65,110.26 L498.3,109.51 L500.95,108.92 L503.6,108.48 L506.25,108.17 L508.9,107.93 L511.55,107.72 L514.2,107.49 L516.85,107.19 L519.5,106.78 L522.15,106.23 L524.8,105.51 L527.45,104.62 L530.1,103.56 L532.75,102.37 L535.4,101.06 L538.05,99.7 L540.7,98.32 L543.35,96.97 L546,95.71 L548.65,94.58 L551.3,93.59 L553.95,92.78 L556.6,92.14 L559.25,91.65 L561.9,91.3 L564.55,91.04 L567.2,90.82 L569.85,90.61 L572.5,90.34" fill="none" stroke="#5d7690" stroke-width="5.5" stroke-linecap="round" opacity="0.85"/>
<path d="M466.5,129.47 L469.15,128.69 L471.8,127.74 L474.45,126.64 L477.1,125.4 L479.75,124.07 L482.4,122.69 L485.05,121.32 L487.7,120 L490.35,118.77 L493,117.69 L495.65,116.76 L498.3,116.01 L500.95,115.42 L503.6,114.98 L506.25,114.67 L508.9,114.43 L511.55,114.22 L514.2,113.99 L516.85,113.69 L519.5,113.28 L522.15,112.73 L524.8,112.01 L527.45,111.12 L530.1,110.06 L532.75,108.87 L535.4,107.56 L538.05,106.2 L540.7,104.82 L543.35,103.47 L546,102.21 L548.65,101.08 L551.3,100.09 L553.95,99.28 L556.6,98.64 L559.25,98.15 L561.9,97.8 L564.55,97.54 L567.2,97.32 L569.85,97.11 L572.5,96.84" fill="none" stroke="#d4e3f1" stroke-width="3.2" opacity="0.7"/>
<path d="M466.5,135.36 L469.15,134.08 L471.8,132.73 L474.45,131.34 L477.1,129.99 L479.75,128.7 L482.4,127.53 L485.05,126.5 L487.7,125.64 L490.35,124.95 L493,124.43 L495.65,124.04 L498.3,123.76 L500.95,123.54 L503.6,123.33 L506.25,123.08 L508.9,122.75 L511.55,122.28 L514.2,121.66 L516.85,120.88 L519.5,119.92 L522.15,118.8 L524.8,117.56 L527.45,116.23 L530.1,114.85 L532.75,113.48 L535.4,112.16 L538.05,110.94 L540.7,109.87 L543.35,108.95 L546,108.2 L548.65,107.63 L551.3,107.2 L553.95,106.89 L556.6,106.65 L559.25,106.44 L561.9,106.21 L564.55,105.91 L567.2,105.49 L569.85,104.93 L572.5,104.2" fill="none" stroke="#5d7690" stroke-width="5.5" stroke-linecap="round" opacity="0.85"/>
<path d="M466.5,141.86 L469.15,140.58 L471.8,139.23 L474.45,137.84 L477.1,136.49 L479.75,135.2 L482.4,134.03 L485.05,133 L487.7,132.14 L490.35,131.45 L493,130.93 L495.65,130.54 L498.3,130.26 L500.95,130.04 L503.6,129.83 L506.25,129.58 L508.9,129.25 L511.55,128.78 L514.2,128.16 L516.85,127.38 L519.5,126.42 L522.15,125.3 L524.8,124.06 L527.45,122.73 L530.1,121.35 L532.75,119.98 L535.4,118.66 L538.05,117.44 L540.7,116.37 L543.35,115.45 L546,114.7 L548.65,114.13 L551.3,113.7 L553.95,113.39 L556.6,113.15 L559.25,112.94 L561.9,112.71 L564.55,112.41 L567.2,111.99 L569.85,111.43 L572.5,110.7" fill="none" stroke="#d4e3f1" stroke-width="3.2" opacity="0.7"/>
<path d="M466.5,146.5 L469.15,145.16 L471.8,143.92 L474.45,142.8 L477.1,141.84 L479.75,141.05 L482.4,140.43 L485.05,139.96 L487.7,139.62 L490.35,139.37 L493,139.16 L495.65,138.94 L498.3,138.66 L500.95,138.28 L503.6,137.76 L506.25,137.07 L508.9,136.22 L511.55,135.19 L514.2,134.02 L516.85,132.74 L519.5,131.38 L522.15,130 L524.8,128.64 L527.45,127.36 L530.1,126.2 L532.75,125.18 L535.4,124.33 L538.05,123.66 L540.7,123.14 L543.35,122.76 L546,122.49 L548.65,122.27 L551.3,122.06 L553.95,121.8 L556.6,121.46 L559.25,120.99 L561.9,120.36 L564.55,119.56 L567.2,118.59 L569.85,117.47 L572.5,116.22" fill="none" stroke="#5d7690" stroke-width="5.5" stroke-linecap="round" opacity="0.85"/>
<path d="M466.5,153 L469.15,151.66 L471.8,150.42 L474.45,149.3 L477.1,148.34 L479.75,147.55 L482.4,146.93 L485.05,146.46 L487.7,146.12 L490.35,145.87 L493,145.66 L495.65,145.44 L498.3,145.16 L500.95,144.78 L503.6,144.26 L506.25,143.57 L508.9,142.72 L511.55,141.69 L514.2,140.52 L516.85,139.24 L519.5,137.88 L522.15,136.5 L524.8,135.14 L527.45,133.86 L530.1,132.7 L532.75,131.68 L535.4,130.83 L538.05,130.16 L540.7,129.64 L543.35,129.26 L546,128.99 L548.65,128.77 L551.3,128.56 L553.95,128.3 L556.6,127.96 L559.25,127.49 L561.9,126.86 L564.55,126.06 L567.2,125.09 L569.85,123.97 L572.5,122.72" fill="none" stroke="#d4e3f1" stroke-width="3.2" opacity="0.7"/>
<path d="M466.5,158.1 L469.15,157.21 L471.8,156.48 L474.45,155.93 L477.1,155.51 L479.75,155.22 L482.4,154.99 L485.05,154.78 L487.7,154.54 L490.35,154.22 L493,153.79 L495.65,153.21 L498.3,152.45 L500.95,151.53 L503.6,150.45 L506.25,149.23 L508.9,147.91 L511.55,146.53 L514.2,145.16 L516.85,143.83 L519.5,142.59 L522.15,141.48 L524.8,140.53 L527.45,139.74 L530.1,139.13 L532.75,138.68 L535.4,138.34 L538.05,138.09 L540.7,137.88 L543.35,137.66 L546,137.38 L548.65,136.99 L551.3,136.46 L553.95,135.76 L556.6,134.9 L559.25,133.87 L561.9,132.69 L564.55,131.4 L567.2,130.04 L569.85,128.66 L572.5,127.3" fill="none" stroke="#5d7690" stroke-width="5.5" stroke-linecap="round" opacity="0.85"/>
<path d="M466.5,164.6 L469.15,163.71 L471.8,162.98 L474.45,162.43 L477.1,162.01 L479.75,161.72 L482.4,161.49 L485.05,161.28 L487.7,161.04 L490.35,160.72 L493,160.29 L495.65,159.71 L498.3,158.95 L500.95,158.03 L503.6,156.95 L506.25,155.73 L508.9,154.41 L511.55,153.03 L514.2,151.66 L516.85,150.33 L519.5,149.09 L522.15,147.98 L524.8,147.03 L527.45,146.24 L530.1,145.63 L532.75,145.18 L535.4,144.84 L538.05,144.59 L540.7,144.38 L543.35,144.16 L546,143.88 L548.65,143.49 L551.3,142.96 L553.95,142.26 L556.6,141.4 L559.25,140.37 L561.9,139.19 L564.55,137.9 L567.2,136.54 L569.85,135.16 L572.5,133.8" fill="none" stroke="#d4e3f1" stroke-width="3.2" opacity="0.7"/>
<path d="M466.5,171.45 L469.15,171.08 L471.8,170.82 L474.45,170.6 L477.1,170.39 L479.75,170.13 L482.4,169.77 L485.05,169.28 L487.7,168.63 L490.35,167.81 L493,166.82 L495.65,165.68 L498.3,164.41 L500.95,163.07 L503.6,161.69 L506.25,160.32 L508.9,159.02 L511.55,157.83 L514.2,156.78 L516.85,155.9 L519.5,155.18 L522.15,154.63 L524.8,154.23 L527.45,153.94 L530.1,153.71 L532.75,153.5 L535.4,153.26 L538.05,152.94 L540.7,152.5 L543.35,151.9 L546,151.14 L548.65,150.21 L551.3,149.12 L553.95,147.89 L556.6,146.57 L559.25,145.19 L561.9,143.82 L564.55,142.49 L567.2,141.25 L569.85,140.15 L572.5,139.21" fill="none" stroke="#5d7690" stroke-width="5.5" stroke-linecap="round" opacity="0.85"/>
<path d="M466.5,177.95 L469.15,177.58 L471.8,177.32 L474.45,177.1 L477.1,176.89 L479.75,176.63 L482.4,176.27 L485.05,175.78 L487.7,175.13 L490.35,174.31 L493,173.32 L495.65,172.18 L498.3,170.91 L500.95,169.57 L503.6,168.19 L506.25,166.82 L508.9,165.52 L511.55,164.33 L514.2,163.28 L516.85,162.4 L519.5,161.68 L522.15,161.13 L524.8,160.73 L527.45,160.44 L530.1,160.21 L532.75,160 L535.4,159.76 L538.05,159.44 L540.7,159 L543.35,158.4 L546,157.64 L548.65,156.71 L551.3,155.62 L553.95,154.39 L556.6,153.07 L559.25,151.69 L561.9,150.32 L564.55,148.99 L567.2,147.75 L569.85,146.65 L572.5,145.71" fill="none" stroke="#d4e3f1" stroke-width="3.2" opacity="0.7"/>
<path d="M466.5,186.22 L469.15,185.99 L471.8,185.7 L474.45,185.29 L477.1,184.74 L479.75,184.02 L482.4,183.14 L485.05,182.08 L487.7,180.89 L490.35,179.59 L493,178.22 L495.65,176.84 L498.3,175.5 L500.95,174.23 L503.6,173.1 L506.25,172.11 L508.9,171.29 L511.55,170.65 L514.2,170.16 L516.85,169.8 L519.5,169.54 L522.15,169.33 L524.8,169.11 L527.45,168.84 L530.1,168.48 L532.75,167.98 L535.4,167.32 L538.05,166.49 L540.7,165.49 L543.35,164.34 L546,163.07 L548.65,161.72 L551.3,160.34 L553.95,158.98 L556.6,157.69 L559.25,156.5 L561.9,155.46 L564.55,154.59 L567.2,153.88 L569.85,153.34 L572.5,152.95" fill="none" stroke="#5d7690" stroke-width="5.5" stroke-linecap="round" opacity="0.85"/>
<path d="M466.5,192.72 L469.15,192.49 L471.8,192.2 L474.45,191.79 L477.1,191.24 L479.75,190.52 L482.4,189.64 L485.05,188.58 L487.7,187.39 L490.35,186.09 L493,184.72 L495.65,183.34 L498.3,182 L500.95,180.73 L503.6,179.6 L506.25,178.61 L508.9,177.79 L511.55,177.15 L514.2,176.66 L516.85,176.3 L519.5,176.04 L522.15,175.83 L524.8,175.61 L527.45,175.34 L530.1,174.98 L532.75,174.48 L535.4,173.82 L538.05,172.99 L540.7,171.99 L543.35,170.84 L546,169.57 L548.65,168.22 L551.3,166.84 L553.95,165.48 L556.6,164.19 L559.25,163 L561.9,161.96 L564.55,161.09 L567.2,160.38 L569.85,159.84 L572.5,159.45" fill="none" stroke="#d4e3f1" stroke-width="3.2" opacity="0.7"/>
<path d="M466.5,200.79 L469.15,200.18 L471.8,199.39 L474.45,198.44 L477.1,197.33 L479.75,196.08 L482.4,194.75 L485.05,193.37 L487.7,192 L490.35,190.68 L493,189.47 L495.65,188.38 L498.3,187.46 L500.95,186.72 L503.6,186.14 L506.25,185.7 L508.9,185.39 L511.55,185.15 L514.2,184.95 L516.85,184.71 L519.5,184.41 L522.15,184 L524.8,183.44 L527.45,182.71 L530.1,181.82 L532.75,180.75 L535.4,179.55 L538.05,178.25 L540.7,176.88 L543.35,175.5 L546,174.16 L548.65,172.9 L551.3,171.77 L553.95,170.79 L556.6,169.99 L559.25,169.35 L561.9,168.87 L564.55,168.52 L567.2,168.26 L569.85,168.05 L572.5,167.83" fill="none" stroke="#5d7690" stroke-width="5.5" stroke-linecap="round" opacity="0.85"/>
<path d="M466.5,207.29 L469.15,206.68 L471.8,205.89 L474.45,204.94 L477.1,203.83 L479.75,202.58 L482.4,201.25 L485.05,199.87 L487.7,198.5 L490.35,197.18 L493,195.97 L495.65,194.88 L498.3,193.96 L500.95,193.22 L503.6,192.64 L506.25,192.2 L508.9,191.89 L511.55,191.65 L514.2,191.45 L516.85,191.21 L519.5,190.91 L522.15,190.5 L524.8,189.94 L527.45,189.21 L530.1,188.32 L532.75,187.25 L535.4,186.05 L538.05,184.75 L540.7,183.38 L543.35,182 L546,180.66 L548.65,179.4 L551.3,178.27 L553.95,177.29 L556.6,176.49 L559.25,175.85 L561.9,175.37 L564.55,175.02 L567.2,174.76 L569.85,174.55 L572.5,174.33" fill="none" stroke="#d4e3f1" stroke-width="3.2" opacity="0.7"/>
<path d="M466.5,213.72 L469.15,212.55 L471.8,211.26 L474.45,209.91 L477.1,208.53 L479.75,207.17 L482.4,205.89 L485.05,204.72 L487.7,203.7 L490.35,202.85 L493,202.17 L495.65,201.65 L498.3,201.27 L500.95,200.99 L503.6,200.77 L506.25,200.56 L508.9,200.31 L511.55,199.97 L514.2,199.5 L516.85,198.87 L519.5,198.08 L522.15,197.11 L524.8,195.99 L527.45,194.75 L530.1,193.41 L532.75,192.03 L535.4,190.66 L538.05,189.35 L540.7,188.14 L543.35,187.06 L546,186.15 L548.65,185.41 L551.3,184.84 L553.95,184.42 L556.6,184.11 L559.25,183.88 L561.9,183.67 L564.55,183.44 L567.2,183.13 L569.85,182.71 L572.5,182.14" fill="none" stroke="#5d7690" stroke-width="5.5" stroke-linecap="round" opacity="0.85"/>
<path d="M466.5,220.22 L469.15,219.05 L471.8,217.76 L474.45,216.41 L477.1,215.03 L479.75,213.67 L482.4,212.39 L485.05,211.22 L487.7,210.2 L490.35,209.35 L493,208.67 L495.65,208.15 L498.3,207.77 L500.95,207.49 L503.6,207.27 L506.25,207.06 L508.9,206.81 L511.55,206.47 L514.2,206 L516.85,205.37 L519.5,204.58 L522.15,203.61 L524.8,202.49 L527.45,201.25 L530.1,199.91 L532.75,198.53 L535.4,197.16 L538.05,195.85 L540.7,194.64 L543.35,193.56 L546,192.65 L548.65,191.91 L551.3,191.34 L553.95,190.92 L556.6,190.61 L559.25,190.38 L561.9,190.17 L564.55,189.94 L567.2,189.63 L569.85,189.21 L572.5,188.64" fill="none" stroke="#d4e3f1" stroke-width="3.2" opacity="0.7"/>
<path d="M466.5,225.06 L469.15,223.68 L471.8,222.35 L474.45,221.11 L477.1,220 L479.75,219.04 L482.4,218.26 L485.05,217.64 L487.7,217.18 L490.35,216.85 L493,216.6 L495.65,216.39 L498.3,216.17 L500.95,215.88 L503.6,215.5 L506.25,214.97 L508.9,214.28 L511.55,213.42 L514.2,212.39 L516.85,211.21 L519.5,209.92 L522.15,208.56 L524.8,207.18 L527.45,205.83 L530.1,204.55 L532.75,203.39 L535.4,202.38 L538.05,201.54 L540.7,200.87 L543.35,200.36 L546,199.98 L548.65,199.71 L551.3,199.49 L553.95,199.28 L556.6,199.03 L559.25,198.68 L561.9,198.2 L564.55,197.57 L567.2,196.76 L569.85,195.79 L572.5,194.66" fill="none" stroke="#5d7690" stroke-width="5.5" stroke-linecap="round" opacity="0.85"/>
<path d="M466.5,231.56 L469.15,230.18 L471.8,228.85 L474.45,227.61 L477.1,226.5 L479.75,225.54 L482.4,224.76 L485.05,224.14 L487.7,223.68 L490.35,223.35 L493,223.1 L495.65,222.89 L498.3,222.67 L500.95,222.38 L503.6,222 L506.25,221.47 L508.9,220.78 L511.55,219.92 L514.2,218.89 L516.85,217.71 L519.5,216.42 L522.15,215.06 L524.8,213.68 L527.45,212.33 L530.1,211.05 L532.75,209.89 L535.4,208.88 L538.05,208.04 L540.7,207.37 L543.35,206.86 L546,206.48 L548.65,206.21 L551.3,205.99 L553.95,205.78 L556.6,205.53 L559.25,205.18 L561.9,204.7 L564.55,204.07 L567.2,203.26 L569.85,202.29 L572.5,201.16" fill="none" stroke="#d4e3f1" stroke-width="3.2" opacity="0.7"/>
<path d="M466.5,236.35 L469.15,235.3 L471.8,234.41 L474.45,233.69 L477.1,233.14 L479.75,232.74 L482.4,232.44 L485.05,232.21 L487.7,232 L490.35,231.76 L493,231.45 L495.65,231.01 L498.3,230.42 L500.95,229.66 L503.6,228.73 L506.25,227.64 L508.9,226.41 L511.55,225.09 L514.2,223.72 L516.85,222.34 L519.5,221.01 L522.15,219.78 L524.8,218.67 L527.45,217.73 L530.1,216.95 L532.75,216.35 L535.4,215.9 L538.05,215.57 L540.7,215.32 L543.35,215.11 L546,214.89 L548.65,214.6 L551.3,214.21 L553.95,213.67 L556.6,212.97 L559.25,212.1 L561.9,211.06 L564.55,209.88 L567.2,208.58 L569.85,207.22 L572.5,205.84" fill="none" stroke="#5d7690" stroke-width="5.5" stroke-linecap="round" opacity="0.85"/>
<path d="M466.5,242.85 L469.15,241.8 L471.8,240.91 L474.45,240.19 L477.1,239.64 L479.75,239.24 L482.4,238.94 L485.05,238.71 L487.7,238.5 L490.35,238.26 L493,237.95 L495.65,237.51 L498.3,236.92 L500.95,236.16 L503.6,235.23 L506.25,234.14 L508.9,232.91 L511.55,231.59 L514.2,230.22 L516.85,228.84 L519.5,227.51 L522.15,226.28 L524.8,225.17 L527.45,224.23 L530.1,223.45 L532.75,222.85 L535.4,222.4 L538.05,222.07 L540.7,221.82 L543.35,221.61 L546,221.39 L548.65,221.1 L551.3,220.71 L553.95,220.17 L556.6,219.47 L559.25,218.6 L561.9,217.56 L564.55,216.38 L567.2,215.08 L569.85,213.72 L572.5,212.34" fill="none" stroke="#d4e3f1" stroke-width="3.2" opacity="0.7"/>
<path d="M466.5,249.16 L469.15,248.67 L471.8,248.31 L474.45,248.05 L477.1,247.83 L479.75,247.62 L482.4,247.35 L485.05,246.99 L487.7,246.49 L490.35,245.84 L493,245.01 L495.65,244.01 L498.3,242.87 L500.95,241.6 L503.6,240.25 L506.25,238.87 L508.9,237.51 L511.55,236.21 L514.2,235.02 L516.85,233.98 L519.5,233.1 L522.15,232.39 L524.8,231.85 L527.45,231.45 L530.1,231.16 L532.75,230.94 L535.4,230.73 L538.05,230.48 L540.7,230.16 L543.35,229.71 L546,229.11 L548.65,228.34 L551.3,227.41 L553.95,226.31 L556.6,225.08 L559.25,223.75 L561.9,222.37 L564.55,221 L567.2,219.67 L569.85,218.45 L572.5,217.35" fill="none" stroke="#5d7690" stroke-width="5.5" stroke-linecap="round" opacity="0.85"/>
<path d="M466.5,255.66 L469.15,255.17 L471.8,254.81 L474.45,254.55 L477.1,254.33 L479.75,254.12 L482.4,253.85 L485.05,253.49 L487.7,252.99 L490.35,252.34 L493,251.51 L495.65,250.51 L498.3,249.37 L500.95,248.1 L503.6,246.75 L506.25,245.37 L508.9,244.01 L511.55,242.71 L514.2,241.52 L516.85,240.48 L519.5,239.6 L522.15,238.89 L524.8,238.35 L527.45,237.95 L530.1,237.66 L532.75,237.44 L535.4,237.23 L538.05,236.98 L540.7,236.66 L543.35,236.21 L546,235.61 L548.65,234.84 L551.3,233.91 L553.95,232.81 L556.6,231.58 L559.25,230.25 L561.9,228.87 L564.55,227.5 L567.2,226.17 L569.85,224.95 L572.5,223.85" fill="none" stroke="#d4e3f1" stroke-width="3.2" opacity="0.7"/>
<path d="M466.5,263.66 L469.15,263.45 L471.8,263.22 L474.45,262.92 L477.1,262.51 L479.75,261.95 L482.4,261.23 L485.05,260.33 L487.7,259.28 L490.35,258.08 L493,256.77 L495.65,255.4 L498.3,254.02 L500.95,252.68 L503.6,251.42 L506.25,250.29 L508.9,249.31 L511.55,248.5 L514.2,247.86 L516.85,247.38 L519.5,247.03 L522.15,246.77 L524.8,246.56 L527.45,246.34 L530.1,246.07 L532.75,245.7 L535.4,245.19 L538.05,244.53 L540.7,243.69 L543.35,242.69 L546,241.53 L548.65,240.26 L551.3,238.91 L553.95,237.53 L556.6,236.16 L559.25,234.87 L561.9,233.69 L564.55,232.66 L567.2,231.79 L569.85,231.09 L572.5,230.56" fill="none" stroke="#5d7690" stroke-width="5.5" stroke-linecap="round" opacity="0.85"/>
<path d="M466.5,270.16 L469.15,269.95 L471.8,269.72 L474.45,269.42 L477.1,269.01 L479.75,268.45 L482.4,267.73 L485.05,266.83 L487.7,265.78 L490.35,264.58 L493,263.27 L495.65,261.9 L498.3,260.52 L500.95,259.18 L503.6,257.92 L506.25,256.79 L508.9,255.81 L511.55,255 L514.2,254.36 L516.85,253.88 L519.5,253.53 L522.15,253.27 L524.8,253.06 L527.45,252.84 L530.1,252.57 L532.75,252.2 L535.4,251.69 L538.05,251.03 L540.7,250.19 L543.35,249.19 L546,248.03 L548.65,246.76 L551.3,245.41 L553.95,244.03 L556.6,242.66 L559.25,241.37 L561.9,240.19 L564.55,239.16 L567.2,238.29 L569.85,237.59 L572.5,237.06" fill="none" stroke="#d4e3f1" stroke-width="3.2" opacity="0.7"/>
</g>
</g>
<ellipse cx="492.8" cy="96" rx="42.6" ry="51.9" fill="#dadcde" fill-opacity="0.8" stroke="#8fa6bd" stroke-width="1.2"/>
<ellipse cx="508" cy="92.5" rx="31" ry="45.5" fill="#98b0c9"/>
<clipPath id="wpLow2"><polygon points="470,104 560,70 560,150 470,150"/></clipPath>
<g clip-path="url(#wpLow2)">
<clipPath id="wpin"><ellipse cx="508" cy="92.5" rx="31" ry="45.5"/></clipPath>
<g clip-path="url(#wpin)">
<ellipse cx="508" cy="92.5" rx="31" ry="45.5" fill="#9db5cd"/>
<path d="M467,-34.7 L469.05,-35.65 L471.1,-36.67 L473.15,-37.72 L475.2,-38.79 L477.25,-39.85 L479.3,-40.88 L481.35,-41.86 L483.4,-42.77 L485.45,-43.6 L487.5,-44.33 L489.55,-44.96 L491.6,-45.48 L493.65,-45.91 L495.7,-46.25 L497.75,-46.51 L499.8,-46.72 L501.85,-46.89 L503.9,-47.05 L505.95,-47.22 L508,-47.43 L510.05,-47.69 L512.1,-48.02 L514.15,-48.45 L516.2,-48.97 L518.25,-49.59 L520.3,-50.32 L522.35,-51.14 L524.4,-52.05 L526.45,-53.03 L528.5,-54.06 L530.55,-55.13 L532.6,-56.19 L534.65,-57.25 L536.7,-58.26 L538.75,-59.22 L540.8,-60.09 L542.85,-60.88 L544.9,-61.57 L546.95,-62.15 L549,-62.63" fill="none" stroke="#4f667e" stroke-width="5.0" stroke-linecap="round" opacity="0.85"/>
<path d="M467,-28.7 L469.05,-29.65 L471.1,-30.67 L473.15,-31.72 L475.2,-32.79 L477.25,-33.85 L479.3,-34.88 L481.35,-35.86 L483.4,-36.77 L485.45,-37.6 L487.5,-38.33 L489.55,-38.96 L491.6,-39.48 L493.65,-39.91 L495.7,-40.25 L497.75,-40.51 L499.8,-40.72 L501.85,-40.89 L503.9,-41.05 L505.95,-41.22 L508,-41.43 L510.05,-41.69 L512.1,-42.02 L514.15,-42.45 L516.2,-42.97 L518.25,-43.59 L520.3,-44.32 L522.35,-45.14 L524.4,-46.05 L526.45,-47.03 L528.5,-48.06 L530.55,-49.13 L532.6,-50.19 L534.65,-51.25 L536.7,-52.26 L538.75,-53.22 L540.8,-54.09 L542.85,-54.88 L544.9,-55.57 L546.95,-56.15 L549,-56.63" fill="none" stroke="#c8d9ea" stroke-width="3.0" opacity="0.7"/>
<path d="M467,-24.5 L469.05,-25.56 L471.1,-26.57 L473.15,-27.53 L475.2,-28.41 L477.25,-29.2 L479.3,-29.89 L481.35,-30.47 L483.4,-30.96 L485.45,-31.35 L487.5,-31.66 L489.55,-31.89 L491.6,-32.09 L493.65,-32.25 L495.7,-32.41 L497.75,-32.6 L499.8,-32.82 L501.85,-33.11 L503.9,-33.48 L505.95,-33.94 L508,-34.5 L510.05,-35.16 L512.1,-35.93 L514.15,-36.79 L516.2,-37.73 L518.25,-38.73 L520.3,-39.78 L522.35,-40.84 L524.4,-41.91 L526.45,-42.95 L528.5,-43.94 L530.55,-44.87 L532.6,-45.71 L534.65,-46.46 L536.7,-47.11 L538.75,-47.65 L540.8,-48.1 L542.85,-48.45 L544.9,-48.73 L546.95,-48.94 L549,-49.12" fill="none" stroke="#4f667e" stroke-width="5.0" stroke-linecap="round" opacity="0.85"/>
<path d="M467,-18.5 L469.05,-19.56 L471.1,-20.57 L473.15,-21.53 L475.2,-22.41 L477.25,-23.2 L479.3,-23.89 L481.35,-24.47 L483.4,-24.96 L485.45,-25.35 L487.5,-25.66 L489.55,-25.89 L491.6,-26.09 L493.65,-26.25 L495.7,-26.41 L497.75,-26.6 L499.8,-26.82 L501.85,-27.11 L503.9,-27.48 L505.95,-27.94 L508,-28.5 L510.05,-29.16 L512.1,-29.93 L514.15,-30.79 L516.2,-31.73 L518.25,-32.73 L520.3,-33.78 L522.35,-34.84 L524.4,-35.91 L526.45,-36.95 L528.5,-37.94 L530.55,-38.87 L532.6,-39.71 L534.65,-40.46 L536.7,-41.11 L538.75,-41.65 L540.8,-42.1 L542.85,-42.45 L544.9,-42.73 L546.95,-42.94 L549,-43.12" fill="none" stroke="#c8d9ea" stroke-width="3.0" opacity="0.7"/>
<path d="M467,-14.03 L469.05,-14.78 L471.1,-15.43 L473.15,-15.98 L475.2,-16.42 L477.25,-16.78 L479.3,-17.06 L481.35,-17.27 L483.4,-17.45 L485.45,-17.61 L487.5,-17.78 L489.55,-17.98 L491.6,-18.23 L493.65,-18.54 L495.7,-18.95 L497.75,-19.45 L499.8,-20.05 L501.85,-20.75 L503.9,-21.55 L505.95,-22.45 L508,-23.41 L510.05,-24.43 L512.1,-25.49 L514.15,-26.56 L516.2,-27.62 L518.25,-28.64 L520.3,-29.61 L522.35,-30.51 L524.4,-31.32 L526.45,-32.03 L528.5,-32.63 L530.55,-33.14 L532.6,-33.54 L534.65,-33.87 L536.7,-34.12 L538.75,-34.32 L540.8,-34.48 L542.85,-34.65 L544.9,-34.82 L546.95,-35.04 L549,-35.31" fill="none" stroke="#4f667e" stroke-width="5.0" stroke-linecap="round" opacity="0.85"/>
<path d="M467,-8.03 L469.05,-8.78 L471.1,-9.43 L473.15,-9.98 L475.2,-10.42 L477.25,-10.78 L479.3,-11.06 L481.35,-11.27 L483.4,-11.45 L485.45,-11.61 L487.5,-11.78 L489.55,-11.98 L491.6,-12.23 L493.65,-12.54 L495.7,-12.95 L497.75,-13.45 L499.8,-14.05 L501.85,-14.75 L503.9,-15.55 L505.95,-16.45 L508,-17.41 L510.05,-18.43 L512.1,-19.49 L514.15,-20.56 L516.2,-21.62 L518.25,-22.64 L520.3,-23.61 L522.35,-24.51 L524.4,-25.32 L526.45,-26.03 L528.5,-26.63 L530.55,-27.14 L532.6,-27.54 L534.65,-27.87 L536.7,-28.12 L538.75,-28.32 L540.8,-28.48 L542.85,-28.65 L544.9,-28.82 L546.95,-29.04 L549,-29.31" fill="none" stroke="#c8d9ea" stroke-width="3.0" opacity="0.7"/>
<path d="M467,-1.87 L469.05,-2.19 L471.1,-2.45 L473.15,-2.65 L475.2,-2.82 L477.25,-2.98 L479.3,-3.15 L481.35,-3.37 L483.4,-3.64 L485.45,-3.99 L487.5,-4.43 L489.55,-4.97 L491.6,-5.61 L493.65,-6.35 L495.7,-7.19 L497.75,-8.12 L499.8,-9.11 L501.85,-10.14 L503.9,-11.21 L505.95,-12.28 L508,-13.32 L510.05,-14.33 L512.1,-15.27 L514.15,-16.13 L516.2,-16.91 L518.25,-17.57 L520.3,-18.14 L522.35,-18.61 L524.4,-18.98 L526.45,-19.27 L528.5,-19.5 L530.55,-19.68 L532.6,-19.85 L534.65,-20.01 L536.7,-20.2 L538.75,-20.44 L540.8,-20.74 L542.85,-21.13 L544.9,-21.61 L546.95,-22.19 L549,-22.87" fill="none" stroke="#4f667e" stroke-width="5.0" stroke-linecap="round" opacity="0.85"/>
<path d="M467,4.13 L469.05,3.81 L471.1,3.55 L473.15,3.35 L475.2,3.18 L477.25,3.02 L479.3,2.85 L481.35,2.63 L483.4,2.36 L485.45,2.01 L487.5,1.57 L489.55,1.03 L491.6,0.39 L493.65,-0.35 L495.7,-1.19 L497.75,-2.12 L499.8,-3.11 L501.85,-4.14 L503.9,-5.21 L505.95,-6.28 L508,-7.32 L510.05,-8.33 L512.1,-9.27 L514.15,-10.13 L516.2,-10.91 L518.25,-11.57 L520.3,-12.14 L522.35,-12.61 L524.4,-12.98 L526.45,-13.27 L528.5,-13.5 L530.55,-13.68 L532.6,-13.85 L534.65,-14.01 L536.7,-14.2 L538.75,-14.44 L540.8,-14.74 L542.85,-15.13 L544.9,-15.61 L546.95,-16.19 L549,-16.87" fill="none" stroke="#c8d9ea" stroke-width="3.0" opacity="0.7"/>
<path d="M467,11.82 L469.05,11.66 L471.1,11.47 L473.15,11.23 L475.2,10.93 L477.25,10.55 L479.3,10.07 L481.35,9.49 L483.4,8.81 L485.45,8.03 L487.5,7.16 L489.55,6.21 L491.6,5.19 L493.65,4.14 L495.7,3.07 L497.75,2.01 L499.8,0.98 L501.85,-0.01 L503.9,-0.92 L505.95,-1.75 L508,-2.48 L510.05,-3.11 L512.1,-3.63 L514.15,-4.06 L516.2,-4.4 L518.25,-4.67 L520.3,-4.88 L522.35,-5.05 L524.4,-5.21 L526.45,-5.38 L528.5,-5.59 L530.55,-5.85 L532.6,-6.18 L534.65,-6.6 L536.7,-7.12 L538.75,-7.74 L540.8,-8.47 L542.85,-9.29 L544.9,-10.19 L546.95,-11.17 L549,-12.2" fill="none" stroke="#4f667e" stroke-width="5.0" stroke-linecap="round" opacity="0.85"/>
<path d="M467,17.82 L469.05,17.66 L471.1,17.47 L473.15,17.23 L475.2,16.93 L477.25,16.55 L479.3,16.07 L481.35,15.49 L483.4,14.81 L485.45,14.03 L487.5,13.16 L489.55,12.21 L491.6,11.19 L493.65,10.14 L495.7,9.07 L497.75,8.01 L499.8,6.98 L501.85,5.99 L503.9,5.08 L505.95,4.25 L508,3.52 L510.05,2.89 L512.1,2.37 L514.15,1.94 L516.2,1.6 L518.25,1.33 L520.3,1.12 L522.35,0.95 L524.4,0.79 L526.45,0.62 L528.5,0.41 L530.55,0.15 L532.6,-0.18 L534.65,-0.6 L536.7,-1.12 L538.75,-1.74 L540.8,-2.47 L542.85,-3.29 L544.9,-4.19 L546.95,-5.17 L549,-6.2" fill="none" stroke="#c8d9ea" stroke-width="3.0" opacity="0.7"/>
<path d="M467,25.49 L469.05,25.08 L471.1,24.56 L473.15,23.94 L475.2,23.22 L477.25,22.4 L479.3,21.49 L481.35,20.52 L483.4,19.49 L485.45,18.43 L487.5,17.36 L489.55,16.3 L491.6,15.29 L493.65,14.33 L495.7,13.45 L497.75,12.66 L499.8,11.96 L501.85,11.37 L503.9,10.89 L505.95,10.49 L508,10.19 L510.05,9.95 L512.1,9.75 L514.15,9.59 L516.2,9.43 L518.25,9.24 L520.3,9.02 L522.35,8.73 L524.4,8.37 L526.45,7.91 L528.5,7.35 L530.55,6.69 L532.6,5.92 L534.65,5.07 L536.7,4.13 L538.75,3.13 L540.8,2.08 L542.85,1.02 L544.9,-0.05 L546.95,-1.09 L549,-2.08" fill="none" stroke="#4f667e" stroke-width="5.0" stroke-linecap="round" opacity="0.85"/>
<path d="M467,31.49 L469.05,31.08 L471.1,30.56 L473.15,29.94 L475.2,29.22 L477.25,28.4 L479.3,27.49 L481.35,26.52 L483.4,25.49 L485.45,24.43 L487.5,23.36 L489.55,22.3 L491.6,21.29 L493.65,20.33 L495.7,19.45 L497.75,18.66 L499.8,17.96 L501.85,17.37 L503.9,16.89 L505.95,16.49 L508,16.19 L510.05,15.95 L512.1,15.75 L514.15,15.59 L516.2,15.43 L518.25,15.24 L520.3,15.02 L522.35,14.73 L524.4,14.37 L526.45,13.91 L528.5,13.35 L530.55,12.69 L532.6,11.92 L534.65,11.07 L536.7,10.13 L538.75,9.13 L540.8,8.08 L542.85,7.02 L544.9,5.95 L546.95,4.91 L549,3.92" fill="none" stroke="#c8d9ea" stroke-width="3.0" opacity="0.7"/>
<path d="M467,37.61 L469.05,36.76 L471.1,35.82 L473.15,34.82 L475.2,33.78 L477.25,32.71 L479.3,31.64 L481.35,30.6 L483.4,29.6 L485.45,28.67 L487.5,27.83 L489.55,27.07 L491.6,26.42 L493.65,25.87 L495.7,25.42 L497.75,25.06 L499.8,24.79 L501.85,24.57 L503.9,24.39 L505.95,24.23 L508,24.06 L510.05,23.86 L512.1,23.62 L514.15,23.3 L516.2,22.9 L518.25,22.4 L520.3,21.8 L522.35,21.1 L524.4,20.3 L526.45,19.41 L528.5,18.45 L530.55,17.43 L532.6,16.37 L534.65,15.3 L536.7,14.24 L538.75,13.22 L540.8,12.24 L542.85,11.35 L544.9,10.54 L546.95,9.83 L549,9.22" fill="none" stroke="#4f667e" stroke-width="5.0" stroke-linecap="round" opacity="0.85"/>
<path d="M467,43.61 L469.05,42.76 L471.1,41.82 L473.15,40.82 L475.2,39.78 L477.25,38.71 L479.3,37.64 L481.35,36.6 L483.4,35.6 L485.45,34.67 L487.5,33.83 L489.55,33.07 L491.6,32.42 L493.65,31.87 L495.7,31.42 L497.75,31.06 L499.8,30.79 L501.85,30.57 L503.9,30.39 L505.95,30.23 L508,30.06 L510.05,29.86 L512.1,29.62 L514.15,29.3 L516.2,28.9 L518.25,28.4 L520.3,27.8 L522.35,27.1 L524.4,26.3 L526.45,25.41 L528.5,24.45 L530.55,23.43 L532.6,22.37 L534.65,21.3 L536.7,20.24 L538.75,19.22 L540.8,18.24 L542.85,17.35 L544.9,16.54 L546.95,15.83 L549,15.22" fill="none" stroke="#c8d9ea" stroke-width="3.0" opacity="0.7"/>
<path d="M467,48.06 L469.05,46.99 L471.1,45.93 L473.15,44.91 L475.2,43.93 L477.25,43.03 L479.3,42.22 L481.35,41.51 L483.4,40.89 L485.45,40.39 L487.5,39.97 L489.55,39.65 L491.6,39.39 L493.65,39.19 L495.7,39.02 L497.75,38.86 L499.8,38.69 L501.85,38.47 L503.9,38.2 L505.95,37.86 L508,37.42 L510.05,36.88 L512.1,36.24 L514.15,35.5 L516.2,34.66 L518.25,33.74 L520.3,32.75 L522.35,31.72 L524.4,30.65 L526.45,29.58 L528.5,28.54 L530.55,27.53 L532.6,26.59 L534.65,25.72 L536.7,24.95 L538.75,24.28 L540.8,23.71 L542.85,23.24 L544.9,22.86 L546.95,22.57 L549,22.34" fill="none" stroke="#4f667e" stroke-width="5.0" stroke-linecap="round" opacity="0.85"/>
<path d="M467,54.06 L469.05,52.99 L471.1,51.93 L473.15,50.91 L475.2,49.93 L477.25,49.03 L479.3,48.22 L481.35,47.51 L483.4,46.89 L485.45,46.39 L487.5,45.97 L489.55,45.65 L491.6,45.39 L493.65,45.19 L495.7,45.02 L497.75,44.86 L499.8,44.69 L501.85,44.47 L503.9,44.2 L505.95,43.86 L508,43.42 L510.05,42.88 L512.1,42.24 L514.15,41.5 L516.2,40.66 L518.25,39.74 L520.3,38.75 L522.35,37.72 L524.4,36.65 L526.45,35.58 L528.5,34.54 L530.55,33.53 L532.6,32.59 L534.65,31.72 L536.7,30.95 L538.75,30.28 L540.8,29.71 L542.85,29.24 L544.9,28.86 L546.95,28.57 L549,28.34" fill="none" stroke="#c8d9ea" stroke-width="3.0" opacity="0.7"/>
<path d="M467,58.27 L469.05,57.41 L471.1,56.63 L473.15,55.96 L475.2,55.38 L477.25,54.91 L479.3,54.54 L481.35,54.24 L483.4,54.01 L485.45,53.82 L487.5,53.66 L489.55,53.5 L491.6,53.31 L493.65,53.08 L495.7,52.78 L497.75,52.4 L499.8,51.92 L501.85,51.34 L503.9,50.66 L505.95,49.88 L508,49.01 L510.05,48.06 L512.1,47.05 L514.15,46 L516.2,44.93 L518.25,43.87 L520.3,42.84 L522.35,41.85 L524.4,40.94 L526.45,40.11 L528.5,39.37 L530.55,38.74 L532.6,38.21 L534.65,37.78 L536.7,37.44 L538.75,37.17 L540.8,36.96 L542.85,36.79 L544.9,36.63 L546.95,36.46 L549,36.25" fill="none" stroke="#4f667e" stroke-width="5.0" stroke-linecap="round" opacity="0.85"/>
<path d="M467,64.27 L469.05,63.41 L471.1,62.63 L473.15,61.96 L475.2,61.38 L477.25,60.91 L479.3,60.54 L481.35,60.24 L483.4,60.01 L485.45,59.82 L487.5,59.66 L489.55,59.5 L491.6,59.31 L493.65,59.08 L495.7,58.78 L497.75,58.4 L499.8,57.92 L501.85,57.34 L503.9,56.66 L505.95,55.88 L508,55.01 L510.05,54.06 L512.1,53.05 L514.15,52 L516.2,50.93 L518.25,49.87 L520.3,48.84 L522.35,47.85 L524.4,46.94 L526.45,46.11 L528.5,45.37 L530.55,44.74 L532.6,44.21 L534.65,43.78 L536.7,43.44 L538.75,43.17 L540.8,42.96 L542.85,42.79 L544.9,42.63 L546.95,42.46 L549,42.25" fill="none" stroke="#c8d9ea" stroke-width="3.0" opacity="0.7"/>
<path d="M467,69.89 L469.05,69.46 L471.1,69.11 L473.15,68.84 L475.2,68.63 L477.25,68.46 L479.3,68.3 L481.35,68.13 L483.4,67.93 L485.45,67.67 L487.5,67.34 L489.55,66.92 L491.6,66.41 L493.65,65.79 L495.7,65.07 L497.75,64.26 L499.8,63.35 L501.85,62.38 L503.9,61.35 L505.95,60.29 L508,59.22 L510.05,58.16 L512.1,57.15 L514.15,56.19 L516.2,55.3 L518.25,54.51 L520.3,53.81 L522.35,53.22 L524.4,52.73 L526.45,52.34 L528.5,52.03 L530.55,51.79 L532.6,51.59 L534.65,51.43 L536.7,51.27 L538.75,51.08 L540.8,50.86 L542.85,50.58 L544.9,50.21 L546.95,49.76 L549,49.2" fill="none" stroke="#4f667e" stroke-width="5.0" stroke-linecap="round" opacity="0.85"/>
<path d="M467,75.89 L469.05,75.46 L471.1,75.11 L473.15,74.84 L475.2,74.63 L477.25,74.46 L479.3,74.3 L481.35,74.13 L483.4,73.93 L485.45,73.67 L487.5,73.34 L489.55,72.92 L491.6,72.41 L493.65,71.79 L495.7,71.07 L497.75,70.26 L499.8,69.35 L501.85,68.38 L503.9,67.35 L505.95,66.29 L508,65.22 L510.05,64.16 L512.1,63.15 L514.15,62.19 L516.2,61.3 L518.25,60.51 L520.3,59.81 L522.35,59.22 L524.4,58.73 L526.45,58.34 L528.5,58.03 L530.55,57.79 L532.6,57.59 L534.65,57.43 L536.7,57.27 L538.75,57.08 L540.8,56.86 L542.85,56.58 L544.9,56.21 L546.95,55.76 L549,55.2" fill="none" stroke="#c8d9ea" stroke-width="3.0" opacity="0.7"/>
<path d="M467,83.26 L469.05,83.1 L471.1,82.93 L473.15,82.75 L475.2,82.53 L477.25,82.25 L479.3,81.89 L481.35,81.43 L483.4,80.88 L485.45,80.22 L487.5,79.46 L489.55,78.61 L491.6,77.68 L493.65,76.68 L495.7,75.64 L497.75,74.57 L499.8,73.5 L501.85,72.46 L503.9,71.46 L505.95,70.53 L508,69.68 L510.05,68.93 L512.1,68.27 L514.15,67.72 L516.2,67.27 L518.25,66.91 L520.3,66.63 L522.35,66.41 L524.4,66.23 L526.45,66.06 L528.5,65.9 L530.55,65.7 L532.6,65.46 L534.65,65.14 L536.7,64.75 L538.75,64.25 L540.8,63.65 L542.85,62.95 L544.9,62.16 L546.95,61.27 L549,60.31" fill="none" stroke="#4f667e" stroke-width="5.0" stroke-linecap="round" opacity="0.85"/>
<path d="M467,89.26 L469.05,89.1 L471.1,88.93 L473.15,88.75 L475.2,88.53 L477.25,88.25 L479.3,87.89 L481.35,87.43 L483.4,86.88 L485.45,86.22 L487.5,85.46 L489.55,84.61 L491.6,83.68 L493.65,82.68 L495.7,81.64 L497.75,80.57 L499.8,79.5 L501.85,78.46 L503.9,77.46 L505.95,76.53 L508,75.68 L510.05,74.93 L512.1,74.27 L514.15,73.72 L516.2,73.27 L518.25,72.91 L520.3,72.63 L522.35,72.41 L524.4,72.23 L526.45,72.06 L528.5,71.9 L530.55,71.7 L532.6,71.46 L534.65,71.14 L536.7,70.75 L538.75,70.25 L540.8,69.65 L542.85,68.95 L544.9,68.16 L546.95,67.27 L549,66.31" fill="none" stroke="#c8d9ea" stroke-width="3.0" opacity="0.7"/>
<path d="M467,97.13 L469.05,96.82 L471.1,96.42 L473.15,95.93 L475.2,95.34 L477.25,94.64 L479.3,93.84 L481.35,92.96 L483.4,92 L485.45,90.98 L487.5,89.92 L489.55,88.85 L491.6,87.79 L493.65,86.76 L495.7,85.79 L497.75,84.89 L499.8,84.07 L501.85,83.36 L503.9,82.74 L505.95,82.23 L508,81.82 L510.05,81.49 L512.1,81.23 L514.15,81.03 L516.2,80.86 L518.25,80.7 L520.3,80.53 L522.35,80.32 L524.4,80.05 L526.45,79.7 L528.5,79.26 L530.55,78.73 L532.6,78.09 L534.65,77.35 L536.7,76.52 L538.75,75.6 L540.8,74.61 L542.85,73.58 L544.9,72.51 L546.95,71.44 L549,70.4" fill="none" stroke="#4f667e" stroke-width="5.0" stroke-linecap="round" opacity="0.85"/>
<path d="M467,103.13 L469.05,102.82 L471.1,102.42 L473.15,101.93 L475.2,101.34 L477.25,100.64 L479.3,99.84 L481.35,98.96 L483.4,98 L485.45,96.98 L487.5,95.92 L489.55,94.85 L491.6,93.79 L493.65,92.76 L495.7,91.79 L497.75,90.89 L499.8,90.07 L501.85,89.36 L503.9,88.74 L505.95,88.23 L508,87.82 L510.05,87.49 L512.1,87.23 L514.15,87.03 L516.2,86.86 L518.25,86.7 L520.3,86.53 L522.35,86.32 L524.4,86.05 L526.45,85.7 L528.5,85.26 L530.55,84.73 L532.6,84.09 L534.65,83.35 L536.7,82.52 L538.75,81.6 L540.8,80.61 L542.85,79.58 L544.9,78.51 L546.95,77.44 L549,76.4" fill="none" stroke="#c8d9ea" stroke-width="3.0" opacity="0.7"/>
<path d="M467,109.78 L469.05,109.04 L471.1,108.21 L473.15,107.29 L475.2,106.3 L477.25,105.27 L479.3,104.2 L481.35,103.14 L483.4,102.09 L485.45,101.08 L487.5,100.13 L489.55,99.26 L491.6,98.48 L493.65,97.81 L495.7,97.23 L497.75,96.76 L499.8,96.38 L501.85,96.08 L503.9,95.85 L505.95,95.66 L508,95.5 L510.05,95.34 L512.1,95.15 L514.15,94.92 L516.2,94.62 L518.25,94.24 L520.3,93.77 L522.35,93.19 L524.4,92.52 L526.45,91.74 L528.5,90.87 L530.55,89.92 L532.6,88.91 L534.65,87.86 L536.7,86.8 L538.75,85.73 L540.8,84.7 L542.85,83.71 L544.9,82.79 L546.95,81.96 L549,81.22" fill="none" stroke="#4f667e" stroke-width="5.0" stroke-linecap="round" opacity="0.85"/>
<path d="M467,115.78 L469.05,115.04 L471.1,114.21 L473.15,113.29 L475.2,112.3 L477.25,111.27 L479.3,110.2 L481.35,109.14 L483.4,108.09 L485.45,107.08 L487.5,106.13 L489.55,105.26 L491.6,104.48 L493.65,103.81 L495.7,103.23 L497.75,102.76 L499.8,102.38 L501.85,102.08 L503.9,101.85 L505.95,101.66 L508,101.5 L510.05,101.34 L512.1,101.15 L514.15,100.92 L516.2,100.62 L518.25,100.24 L520.3,99.77 L522.35,99.19 L524.4,98.52 L526.45,97.74 L528.5,96.87 L530.55,95.92 L532.6,94.91 L534.65,93.86 L536.7,92.8 L538.75,91.73 L540.8,90.7 L542.85,89.71 L544.9,88.79 L546.95,87.96 L549,87.22" fill="none" stroke="#c8d9ea" stroke-width="3.0" opacity="0.7"/>
<path d="M467,120.6 L469.05,119.56 L471.1,118.49 L473.15,117.42 L475.2,116.39 L477.25,115.4 L479.3,114.48 L481.35,113.65 L483.4,112.91 L485.45,112.27 L487.5,111.74 L489.55,111.3 L491.6,110.95 L493.65,110.68 L495.7,110.47 L497.75,110.3 L499.8,110.14 L501.85,109.97 L503.9,109.77 L505.95,109.51 L508,109.18 L510.05,108.77 L512.1,108.26 L514.15,107.64 L516.2,106.93 L518.25,106.11 L520.3,105.21 L522.35,104.24 L524.4,103.21 L526.45,102.15 L528.5,101.08 L530.55,100.02 L532.6,99 L534.65,98.04 L536.7,97.16 L538.75,96.36 L540.8,95.66 L542.85,95.07 L544.9,94.58 L546.95,94.18 L549,93.87" fill="none" stroke="#4f667e" stroke-width="5.0" stroke-linecap="round" opacity="0.85"/>
<path d="M467,126.6 L469.05,125.56 L471.1,124.49 L473.15,123.42 L475.2,122.39 L477.25,121.4 L479.3,120.48 L481.35,119.65 L483.4,118.91 L485.45,118.27 L487.5,117.74 L489.55,117.3 L491.6,116.95 L493.65,116.68 L495.7,116.47 L497.75,116.3 L499.8,116.14 L501.85,115.97 L503.9,115.77 L505.95,115.51 L508,115.18 L510.05,114.77 L512.1,114.26 L514.15,113.64 L516.2,112.93 L518.25,112.11 L520.3,111.21 L522.35,110.24 L524.4,109.21 L526.45,108.15 L528.5,107.08 L530.55,106.02 L532.6,105 L534.65,104.04 L536.7,103.16 L538.75,102.36 L540.8,101.66 L542.85,101.07 L544.9,100.58 L546.95,100.18 L549,99.87" fill="none" stroke="#c8d9ea" stroke-width="3.0" opacity="0.7"/>
<path d="M467,130.69 L469.05,129.73 L471.1,128.84 L473.15,128.05 L475.2,127.35 L477.25,126.75 L479.3,126.25 L481.35,125.86 L483.4,125.54 L485.45,125.3 L487.5,125.1 L489.55,124.94 L491.6,124.77 L493.65,124.59 L495.7,124.37 L497.75,124.09 L499.8,123.73 L501.85,123.28 L503.9,122.73 L505.95,122.07 L508,121.32 L510.05,120.47 L512.1,119.54 L514.15,118.54 L516.2,117.5 L518.25,116.43 L520.3,115.36 L522.35,114.32 L524.4,113.32 L526.45,112.39 L528.5,111.54 L530.55,110.78 L532.6,110.12 L534.65,109.57 L536.7,109.11 L538.75,108.75 L540.8,108.47 L542.85,108.25 L544.9,108.07 L546.95,107.9 L549,107.74" fill="none" stroke="#4f667e" stroke-width="5.0" stroke-linecap="round" opacity="0.85"/>
<path d="M467,136.69 L469.05,135.73 L471.1,134.84 L473.15,134.05 L475.2,133.35 L477.25,132.75 L479.3,132.25 L481.35,131.86 L483.4,131.54 L485.45,131.3 L487.5,131.1 L489.55,130.94 L491.6,130.77 L493.65,130.59 L495.7,130.37 L497.75,130.09 L499.8,129.73 L501.85,129.28 L503.9,128.73 L505.95,128.07 L508,127.32 L510.05,126.47 L512.1,125.54 L514.15,124.54 L516.2,123.5 L518.25,122.43 L520.3,121.36 L522.35,120.32 L524.4,119.32 L526.45,118.39 L528.5,117.54 L530.55,116.78 L532.6,116.12 L534.65,115.57 L536.7,115.11 L538.75,114.75 L540.8,114.47 L542.85,114.25 L544.9,114.07 L546.95,113.9 L549,113.74" fill="none" stroke="#c8d9ea" stroke-width="3.0" opacity="0.7"/>
<path d="M467,141.8 L469.05,141.24 L471.1,140.79 L473.15,140.42 L475.2,140.14 L477.25,139.92 L479.3,139.73 L481.35,139.57 L483.4,139.41 L485.45,139.21 L487.5,138.97 L489.55,138.66 L491.6,138.27 L493.65,137.78 L495.7,137.19 L497.75,136.49 L499.8,135.7 L501.85,134.81 L503.9,133.85 L505.95,132.84 L508,131.78 L510.05,130.71 L512.1,129.65 L514.15,128.62 L516.2,127.65 L518.25,126.74 L520.3,125.93 L522.35,125.21 L524.4,124.59 L526.45,124.08 L528.5,123.66 L530.55,123.33 L532.6,123.07 L534.65,122.87 L536.7,122.7 L538.75,122.54 L540.8,122.37 L542.85,122.16 L544.9,121.89 L546.95,121.54 L549,121.11" fill="none" stroke="#4f667e" stroke-width="5.0" stroke-linecap="round" opacity="0.85"/>
<path d="M467,147.8 L469.05,147.24 L471.1,146.79 L473.15,146.42 L475.2,146.14 L477.25,145.92 L479.3,145.73 L481.35,145.57 L483.4,145.41 L485.45,145.21 L487.5,144.97 L489.55,144.66 L491.6,144.27 L493.65,143.78 L495.7,143.19 L497.75,142.49 L499.8,141.7 L501.85,140.81 L503.9,139.85 L505.95,138.84 L508,137.78 L510.05,136.71 L512.1,135.65 L514.15,134.62 L516.2,133.65 L518.25,132.74 L520.3,131.93 L522.35,131.21 L524.4,130.59 L526.45,130.08 L528.5,129.66 L530.55,129.33 L532.6,129.07 L534.65,128.87 L536.7,128.7 L538.75,128.54 L540.8,128.37 L542.85,128.16 L544.9,127.89 L546.95,127.54 L549,127.11" fill="none" stroke="#c8d9ea" stroke-width="3.0" opacity="0.7"/>
<path d="M467,154.75 L469.05,154.54 L471.1,154.37 L473.15,154.21 L475.2,154.04 L477.25,153.83 L479.3,153.56 L481.35,153.22 L483.4,152.79 L485.45,152.26 L487.5,151.63 L489.55,150.89 L491.6,150.06 L493.65,149.15 L495.7,148.16 L497.75,147.13 L499.8,146.07 L501.85,145 L503.9,143.95 L505.95,142.94 L508,141.99 L510.05,141.12 L512.1,140.34 L514.15,139.66 L516.2,139.08 L518.25,138.6 L520.3,138.22 L522.35,137.92 L524.4,137.69 L526.45,137.5 L528.5,137.34 L530.55,137.18 L532.6,136.99 L534.65,136.76 L536.7,136.46 L538.75,136.09 L540.8,135.62 L542.85,135.04 L544.9,134.37 L546.95,133.59 L549,132.73" fill="none" stroke="#4f667e" stroke-width="5.0" stroke-linecap="round" opacity="0.85"/>
<path d="M467,160.75 L469.05,160.54 L471.1,160.37 L473.15,160.21 L475.2,160.04 L477.25,159.83 L479.3,159.56 L481.35,159.22 L483.4,158.79 L485.45,158.26 L487.5,157.63 L489.55,156.89 L491.6,156.06 L493.65,155.15 L495.7,154.16 L497.75,153.13 L499.8,152.07 L501.85,151 L503.9,149.95 L505.95,148.94 L508,147.99 L510.05,147.12 L512.1,146.34 L514.15,145.66 L516.2,145.08 L518.25,144.6 L520.3,144.22 L522.35,143.92 L524.4,143.69 L526.45,143.5 L528.5,143.34 L530.55,143.18 L532.6,142.99 L534.65,142.76 L536.7,142.46 L538.75,142.09 L540.8,141.62 L542.85,141.04 L544.9,140.37 L546.95,139.59 L549,138.73" fill="none" stroke="#c8d9ea" stroke-width="3.0" opacity="0.7"/>
<path d="M467,168.66 L469.05,168.43 L471.1,168.14 L473.15,167.76 L475.2,167.29 L477.25,166.72 L479.3,166.05 L481.35,165.28 L483.4,164.41 L485.45,163.47 L487.5,162.46 L489.55,161.42 L491.6,160.35 L493.65,159.28 L495.7,158.25 L497.75,157.26 L499.8,156.34 L501.85,155.5 L503.9,154.76 L505.95,154.12 L508,153.58 L510.05,153.14 L512.1,152.8 L514.15,152.53 L516.2,152.31 L518.25,152.14 L520.3,151.98 L522.35,151.81 L524.4,151.61 L526.45,151.35 L528.5,151.03 L530.55,150.61 L532.6,150.11 L534.65,149.49 L536.7,148.78 L538.75,147.97 L540.8,147.07 L542.85,146.09 L544.9,145.07 L546.95,144.01 L549,142.94" fill="none" stroke="#4f667e" stroke-width="5.0" stroke-linecap="round" opacity="0.85"/>
<path d="M467,174.66 L469.05,174.43 L471.1,174.14 L473.15,173.76 L475.2,173.29 L477.25,172.72 L479.3,172.05 L481.35,171.28 L483.4,170.41 L485.45,169.47 L487.5,168.46 L489.55,167.42 L491.6,166.35 L493.65,165.28 L495.7,164.25 L497.75,163.26 L499.8,162.34 L501.85,161.5 L503.9,160.76 L505.95,160.12 L508,159.58 L510.05,159.14 L512.1,158.8 L514.15,158.53 L516.2,158.31 L518.25,158.14 L520.3,157.98 L522.35,157.81 L524.4,157.61 L526.45,157.35 L528.5,157.03 L530.55,156.61 L532.6,156.11 L534.65,155.49 L536.7,154.78 L538.75,153.97 L540.8,153.07 L542.85,152.09 L544.9,151.07 L546.95,150.01 L549,148.94" fill="none" stroke="#c8d9ea" stroke-width="3.0" opacity="0.7"/>
<path d="M467,181.78 L469.05,181.17 L471.1,180.46 L473.15,179.65 L475.2,178.76 L477.25,177.78 L479.3,176.76 L481.35,175.7 L483.4,174.63 L485.45,173.57 L487.5,172.55 L489.55,171.59 L491.6,170.7 L493.65,169.9 L495.7,169.2 L497.75,168.6 L499.8,168.1 L501.85,167.7 L503.9,167.38 L505.95,167.14 L508,166.94 L510.05,166.77 L512.1,166.61 L514.15,166.43 L516.2,166.21 L518.25,165.94 L520.3,165.58 L522.35,165.13 L524.4,164.58 L526.45,163.93 L528.5,163.17 L530.55,162.33 L532.6,161.4 L534.65,160.4 L536.7,159.36 L538.75,158.29 L540.8,157.22 L542.85,156.18 L544.9,155.18 L546.95,154.24 L549,153.39" fill="none" stroke="#4f667e" stroke-width="5.0" stroke-linecap="round" opacity="0.85"/>
<path d="M467,187.78 L469.05,187.17 L471.1,186.46 L473.15,185.65 L475.2,184.76 L477.25,183.78 L479.3,182.76 L481.35,181.7 L483.4,180.63 L485.45,179.57 L487.5,178.55 L489.55,177.59 L491.6,176.7 L493.65,175.9 L495.7,175.2 L497.75,174.6 L499.8,174.1 L501.85,173.7 L503.9,173.38 L505.95,173.14 L508,172.94 L510.05,172.77 L512.1,172.61 L514.15,172.43 L516.2,172.21 L518.25,171.94 L520.3,171.58 L522.35,171.13 L524.4,170.58 L526.45,169.93 L528.5,169.17 L530.55,168.33 L532.6,167.4 L534.65,166.4 L536.7,165.36 L538.75,164.29 L540.8,163.22 L542.85,162.18 L544.9,161.18 L546.95,160.24 L549,159.39" fill="none" stroke="#c8d9ea" stroke-width="3.0" opacity="0.7"/>
<path d="M467,193.08 L469.05,192.09 L471.1,191.05 L473.15,189.98 L475.2,188.92 L477.25,187.87 L479.3,186.87 L481.35,185.93 L483.4,185.08 L485.45,184.31 L487.5,183.65 L489.55,183.09 L491.6,182.63 L493.65,182.27 L495.7,181.98 L497.75,181.76 L499.8,181.57 L501.85,181.41 L503.9,181.25 L505.95,181.05 L508,180.81 L510.05,180.51 L512.1,180.11 L514.15,179.63 L516.2,179.04 L518.25,178.34 L520.3,177.55 L522.35,176.67 L524.4,175.71 L526.45,174.7 L528.5,173.64 L530.55,172.57 L532.6,171.51 L534.65,170.48 L536.7,169.51 L538.75,168.6 L540.8,167.78 L542.85,167.06 L544.9,166.44 L546.95,165.92 L549,165.51" fill="none" stroke="#4f667e" stroke-width="5.0" stroke-linecap="round" opacity="0.85"/>
<path d="M467,199.08 L469.05,198.09 L471.1,197.05 L473.15,195.98 L475.2,194.92 L477.25,193.87 L479.3,192.87 L481.35,191.93 L483.4,191.08 L485.45,190.31 L487.5,189.65 L489.55,189.09 L491.6,188.63 L493.65,188.27 L495.7,187.98 L497.75,187.76 L499.8,187.57 L501.85,187.41 L503.9,187.25 L505.95,187.05 L508,186.81 L510.05,186.51 L512.1,186.11 L514.15,185.63 L516.2,185.04 L518.25,184.34 L520.3,183.55 L522.35,182.67 L524.4,181.71 L526.45,180.7 L528.5,179.64 L530.55,178.57 L532.6,177.51 L534.65,176.48 L536.7,175.51 L538.75,174.6 L540.8,173.78 L542.85,173.06 L544.9,172.44 L546.95,171.92 L549,171.51" fill="none" stroke="#c8d9ea" stroke-width="3.0" opacity="0.7"/>
<path d="M467,203.2 L469.05,202.17 L471.1,201.19 L473.15,200.29 L475.2,199.47 L477.25,198.74 L479.3,198.12 L481.35,197.6 L483.4,197.18 L485.45,196.85 L487.5,196.59 L489.55,196.38 L491.6,196.21 L493.65,196.05 L495.7,195.88 L497.75,195.67 L499.8,195.4 L501.85,195.06 L503.9,194.63 L505.95,194.11 L508,193.48 L510.05,192.75 L512.1,191.92 L514.15,191.01 L516.2,190.02 L518.25,188.99 L520.3,187.93 L522.35,186.86 L524.4,185.81 L526.45,184.79 L528.5,183.84 L530.55,182.97 L532.6,182.19 L534.65,181.51 L536.7,180.93 L538.75,180.45 L540.8,180.07 L542.85,179.77 L544.9,179.53 L546.95,179.34 L549,179.18" fill="none" stroke="#4f667e" stroke-width="5.0" stroke-linecap="round" opacity="0.85"/>
<path d="M467,209.2 L469.05,208.17 L471.1,207.19 L473.15,206.29 L475.2,205.47 L477.25,204.74 L479.3,204.12 L481.35,203.6 L483.4,203.18 L485.45,202.85 L487.5,202.59 L489.55,202.38 L491.6,202.21 L493.65,202.05 L495.7,201.88 L497.75,201.67 L499.8,201.4 L501.85,201.06 L503.9,200.63 L505.95,200.11 L508,199.48 L510.05,198.75 L512.1,197.92 L514.15,197.01 L516.2,196.02 L518.25,194.99 L520.3,193.93 L522.35,192.86 L524.4,191.81 L526.45,190.79 L528.5,189.84 L530.55,188.97 L532.6,188.19 L534.65,187.51 L536.7,186.93 L538.75,186.45 L540.8,186.07 L542.85,185.77 L544.9,185.53 L546.95,185.34 L549,185.18" fill="none" stroke="#c8d9ea" stroke-width="3.0" opacity="0.7"/>
<path d="M467,213.87 L469.05,213.19 L471.1,212.61 L473.15,212.13 L475.2,211.74 L477.25,211.44 L479.3,211.2 L481.35,211.01 L483.4,210.85 L485.45,210.68 L487.5,210.5 L489.55,210.27 L491.6,209.98 L493.65,209.61 L495.7,209.14 L497.75,208.57 L499.8,207.91 L501.85,207.13 L503.9,206.27 L505.95,205.33 L508,204.32 L510.05,203.28 L512.1,202.21 L514.15,201.14 L516.2,200.11 L518.25,199.12 L520.3,198.19 L522.35,197.35 L524.4,196.61 L526.45,195.97 L528.5,195.43 L530.55,194.99 L532.6,194.64 L534.65,194.37 L536.7,194.15 L538.75,193.98 L540.8,193.82 L542.85,193.65 L544.9,193.45 L546.95,193.19 L549,192.87" fill="none" stroke="#4f667e" stroke-width="5.0" stroke-linecap="round" opacity="0.85"/>
<path d="M467,219.87 L469.05,219.19 L471.1,218.61 L473.15,218.13 L475.2,217.74 L477.25,217.44 L479.3,217.2 L481.35,217.01 L483.4,216.85 L485.45,216.68 L487.5,216.5 L489.55,216.27 L491.6,215.98 L493.65,215.61 L495.7,215.14 L497.75,214.57 L499.8,213.91 L501.85,213.13 L503.9,212.27 L505.95,211.33 L508,210.32 L510.05,209.28 L512.1,208.21 L514.15,207.14 L516.2,206.11 L518.25,205.12 L520.3,204.19 L522.35,203.35 L524.4,202.61 L526.45,201.97 L528.5,201.43 L530.55,200.99 L532.6,200.64 L534.65,200.37 L536.7,200.15 L538.75,199.98 L540.8,199.82 L542.85,199.65 L544.9,199.45 L546.95,199.19 L549,198.87" fill="none" stroke="#c8d9ea" stroke-width="3.0" opacity="0.7"/>
<path d="M467,226.31 L469.05,226.04 L471.1,225.82 L473.15,225.65 L475.2,225.48 L477.25,225.32 L479.3,225.12 L481.35,224.87 L483.4,224.54 L485.45,224.14 L487.5,223.63 L489.55,223.03 L491.6,222.32 L493.65,221.51 L495.7,220.61 L497.75,219.64 L499.8,218.62 L501.85,217.56 L503.9,216.49 L505.95,215.43 L508,214.41 L510.05,213.45 L512.1,212.55 L514.15,211.75 L516.2,211.05 L518.25,210.45 L520.3,209.95 L522.35,209.54 L524.4,209.23 L526.45,208.98 L528.5,208.78 L530.55,208.61 L532.6,208.45 L534.65,208.27 L536.7,208.06 L538.75,207.78 L540.8,207.42 L542.85,206.98 L544.9,206.43 L546.95,205.78 L549,205.03" fill="none" stroke="#4f667e" stroke-width="5.0" stroke-linecap="round" opacity="0.85"/>
<path d="M467,232.31 L469.05,232.04 L471.1,231.82 L473.15,231.65 L475.2,231.48 L477.25,231.32 L479.3,231.12 L481.35,230.87 L483.4,230.54 L485.45,230.14 L487.5,229.63 L489.55,229.03 L491.6,228.32 L493.65,227.51 L495.7,226.61 L497.75,225.64 L499.8,224.62 L501.85,223.56 L503.9,222.49 L505.95,221.43 L508,220.41 L510.05,219.45 L512.1,218.55 L514.15,217.75 L516.2,217.05 L518.25,216.45 L520.3,215.95 L522.35,215.54 L524.4,215.23 L526.45,214.98 L528.5,214.78 L530.55,214.61 L532.6,214.45 L534.65,214.27 L536.7,214.06 L538.75,213.78 L540.8,213.42 L542.85,212.98 L544.9,212.43 L546.95,211.78 L549,211.03" fill="none" stroke="#c8d9ea" stroke-width="3.0" opacity="0.7"/>
<path d="M467,240.12 L469.05,239.94 L471.1,239.73 L473.15,239.45 L475.2,239.1 L477.25,238.65 L479.3,238.11 L481.35,237.46 L483.4,236.71 L485.45,235.87 L487.5,234.94 L489.55,233.95 L491.6,232.91 L493.65,231.84 L495.7,230.78 L497.75,229.73 L499.8,228.73 L501.85,227.79 L503.9,226.93 L505.95,226.16 L508,225.5 L510.05,224.94 L512.1,224.48 L514.15,224.11 L516.2,223.82 L518.25,223.6 L520.3,223.41 L522.35,223.25 L524.4,223.09 L526.45,222.89 L528.5,222.66 L530.55,222.35 L532.6,221.96 L534.65,221.47 L536.7,220.89 L538.75,220.2 L540.8,219.41 L542.85,218.53 L544.9,217.57 L546.95,216.56 L549,215.5" fill="none" stroke="#4f667e" stroke-width="5.0" stroke-linecap="round" opacity="0.85"/>
<path d="M467,246.12 L469.05,245.94 L471.1,245.73 L473.15,245.45 L475.2,245.1 L477.25,244.65 L479.3,244.11 L481.35,243.46 L483.4,242.71 L485.45,241.87 L487.5,240.94 L489.55,239.95 L491.6,238.91 L493.65,237.84 L495.7,236.78 L497.75,235.73 L499.8,234.73 L501.85,233.79 L503.9,232.93 L505.95,232.16 L508,231.5 L510.05,230.94 L512.1,230.48 L514.15,230.11 L516.2,229.82 L518.25,229.6 L520.3,229.41 L522.35,229.25 L524.4,229.09 L526.45,228.89 L528.5,228.66 L530.55,228.35 L532.6,227.96 L534.65,227.47 L536.7,226.89 L538.75,226.2 L540.8,225.41 L542.85,224.53 L544.9,223.57 L546.95,222.56 L549,221.5" fill="none" stroke="#c8d9ea" stroke-width="3.0" opacity="0.7"/>
<path d="M467,253.63 L469.05,253.15 L471.1,252.57 L473.15,251.88 L475.2,251.09 L477.25,250.22 L479.3,249.26 L481.35,248.25 L483.4,247.19 L485.45,246.13 L487.5,245.06 L489.55,244.03 L491.6,243.05 L493.65,242.14 L495.7,241.32 L497.75,240.59 L499.8,239.97 L501.85,239.45 L503.9,239.02 L505.95,238.69 L508,238.43 L510.05,238.22 L512.1,238.05 L514.15,237.89 L516.2,237.72 L518.25,237.51 L520.3,237.25 L522.35,236.91 L524.4,236.48 L526.45,235.96 L528.5,235.33 L530.55,234.6 L532.6,233.77 L534.65,232.86 L536.7,231.88 L538.75,230.85 L540.8,229.79 L542.85,228.72 L544.9,227.67 L546.95,226.65 L549,225.7" fill="none" stroke="#4f667e" stroke-width="5.0" stroke-linecap="round" opacity="0.85"/>
<path d="M467,259.63 L469.05,259.15 L471.1,258.57 L473.15,257.88 L475.2,257.09 L477.25,256.22 L479.3,255.26 L481.35,254.25 L483.4,253.19 L485.45,252.13 L487.5,251.06 L489.55,250.03 L491.6,249.05 L493.65,248.14 L495.7,247.32 L497.75,246.59 L499.8,245.97 L501.85,245.45 L503.9,245.02 L505.95,244.69 L508,244.43 L510.05,244.22 L512.1,244.05 L514.15,243.89 L516.2,243.72 L518.25,243.51 L520.3,243.25 L522.35,242.91 L524.4,242.48 L526.45,241.96 L528.5,241.33 L530.55,240.6 L532.6,239.77 L534.65,238.86 L536.7,237.88 L538.75,236.85 L540.8,235.79 L542.85,234.72 L544.9,233.67 L546.95,232.65 L549,231.7" fill="none" stroke="#c8d9ea" stroke-width="3.0" opacity="0.7"/>
</g>
</g>
<ellipse cx="508" cy="92.5" rx="31" ry="45.5" fill="none" stroke="#7a8a9a" stroke-width="0.9" opacity="0.7"/>
<defs><linearGradient id="cg5" gradientUnits="userSpaceOnUse" x1="483.57" y1="87.11" x2="490.43" y2="105.89"><stop offset="0" stop-color="#f07a82"/><stop offset="0.4" stop-color="#ee5560"/><stop offset="1" stop-color="#d83844"/></linearGradient><linearGradient id="cg6" gradientUnits="userSpaceOnUse" x1="416.8" y1="99.77" x2="431.2" y2="139.23"><stop offset="0" stop-color="#f07a82"/><stop offset="0.4" stop-color="#ee5560"/><stop offset="1" stop-color="#d83844"/></linearGradient></defs>
<g opacity="0.82">
<polygon points="416.8,99.77 378.5,132.5 431.2,139.23" fill="url(#cg6)"/>
<ellipse cx="424" cy="119.5" rx="8.82" ry="21" transform="rotate(159.94 424 119.5)" fill="#ec6c74" />
<polygon points="483.57,87.11 420.57,110.11 427.43,128.89 490.43,105.89" fill="url(#cg5)"/>
<ellipse cx="424" cy="119.5" rx="4" ry="10" transform="rotate(159.94 424 119.5)" fill="url(#cg5)" />
<ellipse cx="487" cy="96.5" rx="5" ry="10" transform="rotate(159.94 487 96.5)" fill="#e44450" />
</g>
<ellipse cx="552" cy="78" rx="6" ry="8" fill="#7a2a3a" opacity="0.8"/>
<clipPath id="sheetclip"><path d="M189.9,166.7 C191.55,167.58 196.4,170.9 199.8,172 C203.2,173.1 207,174.4 210.3,173.3 C213.6,172.2 215.85,168.47 219.6,165.4 C223.35,162.33 228.85,156.22 232.8,154.9 C236.75,153.58 239.78,156.63 243.3,157.5 C246.82,158.37 250.38,161.2 253.9,160.1 C257.42,159 260.88,153.97 264.4,150.9 C267.92,147.83 271.47,142.8 275,141.7 C278.53,140.6 282.3,143.43 285.6,144.3 C288.9,145.17 291.52,148.22 294.8,146.9 C298.08,145.58 302.22,139.25 305.3,136.4 C308.38,133.55 310.43,130.47 313.3,129.8 C316.17,129.13 319.43,131.52 322.5,132.4 C325.57,133.28 329.07,136.2 331.7,135.1 C334.33,134 335.77,128.45 338.3,125.8 C340.83,123.15 344.48,118.97 346.9,119.2 C349.32,119.43 351.15,123.9 352.8,127.2 C354.45,130.5 354.82,136.15 356.8,139 C358.78,141.85 361.18,144.95 364.7,144.3 C368.22,143.65 373.93,135.98 377.9,135.1 C381.87,134.22 385.2,136.58 388.5,139 C391.8,141.42 393.3,148.83 397.7,149.6 C402.1,150.37 412.03,144.6 414.9,143.6 L414.9,143.6 C412.03,145.03 402.77,149.45 397.7,152.2 C392.63,154.95 388.9,157.9 384.5,160.1 C380.1,162.3 375.7,163.42 371.3,165.4 C366.9,167.38 362.5,170.68 358.1,172 C353.7,173.32 349.3,171.32 344.9,173.3 C340.5,175.28 335.87,180.38 331.7,183.9 C327.53,187.42 323.2,193.3 319.9,194.4 C316.6,195.5 314.98,191.82 311.9,190.5 C308.82,189.18 304.03,186.72 301.4,186.5 C298.77,186.28 298.73,187 296.1,189.2 C293.47,191.4 289.12,196.63 285.6,199.7 C282.08,202.77 278.53,206.72 275,207.6 C271.47,208.48 267.92,206.1 264.4,205 C260.88,203.9 257.42,201.43 253.9,201 C250.38,200.57 246.82,203.93 243.3,202.4 C239.78,200.87 236.32,194.88 232.8,191.8 C229.28,188.72 225.07,184.33 222.2,183.9 C219.33,183.47 218.02,186.57 215.6,189.2 C213.18,191.83 209.02,197.95 207.7,199.7 Z"/></clipPath>
<path d="M189.9,166.7 C191.55,167.58 196.4,170.9 199.8,172 C203.2,173.1 207,174.4 210.3,173.3 C213.6,172.2 215.85,168.47 219.6,165.4 C223.35,162.33 228.85,156.22 232.8,154.9 C236.75,153.58 239.78,156.63 243.3,157.5 C246.82,158.37 250.38,161.2 253.9,160.1 C257.42,159 260.88,153.97 264.4,150.9 C267.92,147.83 271.47,142.8 275,141.7 C278.53,140.6 282.3,143.43 285.6,144.3 C288.9,145.17 291.52,148.22 294.8,146.9 C298.08,145.58 302.22,139.25 305.3,136.4 C308.38,133.55 310.43,130.47 313.3,129.8 C316.17,129.13 319.43,131.52 322.5,132.4 C325.57,133.28 329.07,136.2 331.7,135.1 C334.33,134 335.77,128.45 338.3,125.8 C340.83,123.15 344.48,118.97 346.9,119.2 C349.32,119.43 351.15,123.9 352.8,127.2 C354.45,130.5 354.82,136.15 356.8,139 C358.78,141.85 361.18,144.95 364.7,144.3 C368.22,143.65 373.93,135.98 377.9,135.1 C381.87,134.22 385.2,136.58 388.5,139 C391.8,141.42 393.3,148.83 397.7,149.6 C402.1,150.37 412.03,144.6 414.9,143.6 L414.9,143.6 C412.03,145.03 402.77,149.45 397.7,152.2 C392.63,154.95 388.9,157.9 384.5,160.1 C380.1,162.3 375.7,163.42 371.3,165.4 C366.9,167.38 362.5,170.68 358.1,172 C353.7,173.32 349.3,171.32 344.9,173.3 C340.5,175.28 335.87,180.38 331.7,183.9 C327.53,187.42 323.2,193.3 319.9,194.4 C316.6,195.5 314.98,191.82 311.9,190.5 C308.82,189.18 304.03,186.72 301.4,186.5 C298.77,186.28 298.73,187 296.1,189.2 C293.47,191.4 289.12,196.63 285.6,199.7 C282.08,202.77 278.53,206.72 275,207.6 C271.47,208.48 267.92,206.1 264.4,205 C260.88,203.9 257.42,201.43 253.9,201 C250.38,200.57 246.82,203.93 243.3,202.4 C239.78,200.87 236.32,194.88 232.8,191.8 C229.28,188.72 225.07,184.33 222.2,183.9 C219.33,183.47 218.02,186.57 215.6,189.2 C213.18,191.83 209.02,197.95 207.7,199.7 Z" fill="url(#wavyG)"/>
<g clip-path="url(#sheetclip)">
<polygon points="210.35,183.89 219.58,182.31 227.5,187.85 234.1,195.76 236.74,203.02 223.54,201.04 214.31,200.38 207.97,199.99" fill="#908e94" opacity="0.85"/>
<polygon points="242.01,202.36 253.89,201.04 264.44,203.02 275,206.98 285.55,198.14 293.47,190.75 299.41,187.85 293.47,197.08 285.55,205 276.32,210.28 264.44,206.98 253.89,206.05 244.65,205" fill="#908e94" opacity="0.85"/>
<polygon points="329.1,175.97 338.33,172.01 347.57,172.01 356.14,175.97 357.46,184.55 344.93,183.89 333.05,181.91" fill="#908e94" opacity="0.85"/>
<polygon points="364.72,166.74 373.96,162.12 383.19,159.48 391.11,162.12 396.39,165.42 383.19,169.37 371.32,171.35" fill="#908e94" opacity="0.85"/>
<path d="M198,183 C200.33,182.17 207.67,180 212,178 C216.33,176 220,171.67 224,171 C228,170.33 232,172.67 236,174 C240,175.33 244,179.17 248,179 C252,178.83 256,175.5 260,173 C264,170.5 268,165.33 272,164 C276,162.67 280,164.33 284,165 C288,165.67 292,168.83 296,168 C300,167.17 304,162.5 308,160 C312,157.5 316,154 320,153 C324,152 328,153.5 332,154 C336,154.5 340,156.67 344,156 C348,155.33 352,151.83 356,150 C360,148.17 363.67,146 368,145 C372.33,144 377,144 382,144 C387,144 393,145.17 398,145 C403,144.83 409.67,143.33 412,143" fill="none" stroke="#d6d4d9" stroke-width="7" opacity="0.55" stroke-linecap="round"/>
</g>
<line x1="259.2" y1="165" x2="262.5" y2="185" stroke="#d81c1c" stroke-width="5.2" stroke-linecap="round"/>
<circle cx="263.1" cy="193.1" r="12.4" fill="url(#redBall)"/>
<line x1="300" y1="172" x2="302.7" y2="158" stroke="#1658c0" stroke-width="4.6"/>
<polygon points="303.4,146.3 297.8,161.5 308.8,160.5" fill="#1a62cc"/>
<circle cx="299.4" cy="179.3" r="12.2" fill="url(#blueBall)"/>
<defs><linearGradient id="cg7" gradientUnits="userSpaceOnUse" x1="32.57" y1="261.81" x2="23.43" y2="232.19"><stop offset="0" stop-color="#f8bf88"/><stop offset="0.2" stop-color="#f8b677"/><stop offset="0.5" stop-color="#f5a45b"/><stop offset="0.82" stop-color="#ef9a52"/><stop offset="1" stop-color="#f5b27c"/></linearGradient><linearGradient id="cg8" gradientUnits="userSpaceOnUse" x1="144.73" y1="245.53" x2="125.27" y2="182.47"><stop offset="0" stop-color="#f8bf88"/><stop offset="0.2" stop-color="#f8b677"/><stop offset="0.5" stop-color="#f5a45b"/><stop offset="0.82" stop-color="#ef9a52"/><stop offset="1" stop-color="#f5b27c"/></linearGradient></defs>
<g opacity="1.0">
<polygon points="144.73,245.53 199.6,191.4 125.27,182.47" fill="url(#cg8)"/>
<ellipse cx="135" cy="214" rx="11.88" ry="33" transform="rotate(-17.14 135 214)" fill="#f0a877" />
<ellipse cx="135" cy="214" rx="9.74" ry="27.06" transform="rotate(-17.14 135 214)" fill="#d3473b" />
<polygon points="32.57,261.81 139.57,228.81 130.43,199.19 23.43,232.19" fill="url(#cg7)"/>
<ellipse cx="135" cy="214" rx="6.82" ry="15.5" transform="rotate(-17.14 135 214)" fill="url(#cg7)" />
<ellipse cx="28" cy="247" rx="8.53" ry="15.5" transform="rotate(-17.14 28 247)" fill="#efa573" />
<ellipse cx="28" cy="247" rx="6.82" ry="12.71" transform="rotate(-17.14 28 247)" fill="#d3473b" />
</g>
<defs><linearGradient id="cg9" gradientUnits="userSpaceOnUse" x1="531.36" y1="241.43" x2="517.04" y2="273.37"><stop offset="0" stop-color="#f8bf88"/><stop offset="0.2" stop-color="#f8b677"/><stop offset="0.5" stop-color="#f5a45b"/><stop offset="0.82" stop-color="#ef9a52"/><stop offset="1" stop-color="#f5b27c"/></linearGradient><linearGradient id="cg10" gradientUnits="userSpaceOnUse" x1="444.91" y1="184.58" x2="417.09" y2="246.62"><stop offset="0" stop-color="#f8bf88"/><stop offset="0.2" stop-color="#f8b677"/><stop offset="0.5" stop-color="#f5a45b"/><stop offset="0.82" stop-color="#ef9a52"/><stop offset="1" stop-color="#f5b27c"/></linearGradient></defs>
<g opacity="1.0">
<polygon points="444.91,184.58 374.9,191.3 417.09,246.62" fill="url(#cg10)"/>
<ellipse cx="431" cy="215.6" rx="15.3" ry="34" transform="rotate(-155.84 431 215.6)" fill="#f0a877" />
<ellipse cx="431" cy="215.6" rx="12.55" ry="27.88" transform="rotate(-155.84 431 215.6)" fill="#d3473b" />
<polygon points="531.36,241.43 438.16,199.63 423.84,231.57 517.04,273.37" fill="url(#cg9)"/>
<ellipse cx="431" cy="215.6" rx="8.12" ry="17.5" transform="rotate(-155.84 431 215.6)" fill="url(#cg9)" />
<ellipse cx="524.2" cy="257.4" rx="10.15" ry="17.5" transform="rotate(-155.84 524.2 257.4)" fill="#efa573" />
<ellipse cx="524.2" cy="257.4" rx="8.12" ry="14.35" transform="rotate(-155.84 524.2 257.4)" fill="#d3473b" />
</g>
<polyline points="158,374.5 192.6,404.1 229,388" fill="none" stroke="#3f4f6b" stroke-width="2.2"/>
<polygon points="150.6,370 163.5,372 157.2,379.4" fill="#3f4f6b"/>
<polygon points="235.2,385.2 224.6,382.6 228.6,392" fill="#3f4f6b"/>
<path d="M712,90.85 L713.73,89.48 L715.47,88.41 L717.2,87.62 L718.94,87.15 L720.67,86.98 L722.4,87.11 L724.14,87.56 L725.87,88.32 L727.61,89.4 L729.34,90.78 L731.08,92.47 L732.81,94.47 L734.54,96.78 L736.28,99.38 L738.01,102.27 L739.75,105.45 L741.48,108.9 L743.21,112.62 L744.95,116.6 L746.68,120.81 L748.42,125.25 L750.15,129.89 L751.88,134.72 L753.62,139.7 L755.35,144.83 L757.09,150.07 L758.82,155.38 L760.56,160.75 L762.29,166.13 L764.02,171.5 L765.76,176.82 L767.49,182.05 L769.23,187.15 L770.96,192.1 L772.69,196.84 L774.43,201.36 L776.16,205.61 L777.9,209.57 L779.63,213.2 L781.36,216.48 L783.1,219.38 L784.83,221.88 L786.57,223.97 L788.3,225.63 L790.04,226.86 L791.77,227.64 L793.5,227.99 L795.24,227.9 L796.97,227.37 L798.71,226.44 L800.44,225.1 L802.17,223.38 L803.91,221.31 L805.64,218.91 L807.38,216.2 L809.11,213.22 L810.84,210 L812.58,206.58 L814.31,202.99 L816.05,199.26 L817.78,195.43 L819.52,191.54 L821.25,187.61 L822.98,183.69 L824.72,179.79 L826.45,175.95 L828.19,172.2 L829.92,168.57 L831.65,165.07 L833.39,161.72 L835.12,158.55 L836.86,155.57 L838.59,152.79 L840.32,150.24 L842.06,147.9 L843.79,145.81 L845.53,143.95 L847.26,142.33 L848.99,140.97 L850.73,139.85 L852.46,138.97 L854.2,138.35 L855.93,137.97 L857.67,137.82 L859.4,137.92 L861.13,138.23 L862.87,138.77 L864.6,139.52 L866.34,140.48 L868.07,141.62 L869.8,142.94 L871.54,144.43 L873.27,146.06 L875.01,147.83 L876.74,149.71 L878.47,151.69 L880.21,153.74 L881.94,155.85 L883.68,157.98 L885.41,160.12 L887.15,162.23 L888.88,164.3 L890.61,166.3 L892.35,168.2 L894.08,169.98 L895.82,171.6 L897.55,173.05 L899.28,174.3 L901.02,175.33 L902.75,176.12 L904.49,176.65 L906.22,176.91 L907.95,176.87 L909.69,176.54 L911.42,175.91 L913.16,174.97 L914.89,173.72 L916.63,172.17 L918.36,170.31 L920.09,168.18 L921.83,165.76 L923.56,163.1 L925.3,160.19 L927.03,157.07 L928.76,153.75 L930.5,150.27 L932.23,146.65 L933.97,142.93 L935.7,139.12 L937.43,135.27 L939.17,131.4 L940.9,127.54 L942.64,123.72 L944.37,119.98 L946.11,116.33 L947.84,112.8 L949.57,109.43 L951.31,106.23 L953.04,103.22 L954.78,100.42 L956.51,97.85 L958.24,95.53 L959.98,93.46 L961.71,91.67 L963.45,90.15 L965.18,88.92 L966.91,87.99 L968.65,87.35 L970.38,87.02 L972.12,87 L973.85,87.29 L975.59,87.9 L977.32,88.81 L979.05,90.03 L980.79,91.57 L982.52,93.41 L984.26,95.56 L985.99,98.01 L987.72,100.75 L989.46,103.79 L991.19,107.1 L992.93,110.69 L994.66,114.53 L996.39,118.63 L998.13,122.95 L999.86,127.49 L1001.6,132.22 L1003.33,137.13 L1005.07,142.19 L1006.8,147.37 L1008.53,152.65 L1010.27,158 L1012,163.38 L1013.74,168.76 L1015.47,174.1 L1017.2,179.38 L1018.94,184.56 L1020.67,189.59 L1022.41,194.44 L1024.14,199.08 L1025.87,203.47 L1027.61,207.59 L1029.34,211.39 L1031.08,214.85 L1032.81,217.94 L1034.55,220.65 L1036.28,222.96 L1038.01,224.84 L1039.75,226.29 L1041.48,227.3 L1043.22,227.87 L1044.95,228 L1046.68,227.69 L1048.42,226.97 L1050.15,225.83 L1051.89,224.31 L1053.62,222.41 L1055.35,220.18 L1057.09,217.62 L1058.82,214.78 L1060.56,211.68 L1062.29,208.36 L1064.03,204.85 L1065.76,201.19 L1067.49,197.4 L1069.23,193.54 L1070.96,189.62 L1072.7,185.69 L1074.43,181.78 L1076.16,177.91 L1077.9,174.11 L1079.63,170.41 L1081.37,166.84 L1083.1,163.41 L1084.83,160.15 L1086.57,157.07 L1088.3,154.19 L1090.04,151.52 L1091.77,149.07 L1093.51,146.85 L1095.24,144.87 L1096.97,143.13 L1098.71,141.63 L1100.44,140.39 L1102.18,139.39 L1103.91,138.64 L1105.64,138.13 L1107.38,137.87 L1109.11,137.84 L1110.85,138.04 L1112.58,138.47 L1114.31,139.11 L1116.05,139.97 L1117.78,141.01 L1119.52,142.24 L1121.25,143.65 L1122.98,145.21 L1124.72,146.91 L1126.45,148.74 L1128.19,150.67 L1129.92,152.68 L1131.66,154.76 L1133.39,156.89 L1135.12,159.02 L1136.86,161.15 L1138.59,163.25 L1140.33,165.29 L1142.06,167.24 L1143.79,169.08 L1145.53,170.79 L1147.26,172.33 L1149,173.69 L1150.73,174.83 L1152.46,175.75 L1154.2,176.41 L1155.93,176.81 L1157.67,176.93 L1159.4,176.75 L1161.14,176.27 L1162.87,175.49 L1164.6,174.4 L1166.34,173 L1168.07,171.3 L1169.81,169.31 L1171.54,167.03 L1173.27,164.49 L1175.01,161.7 L1176.74,158.69 L1178.48,155.47 L1180.21,152.07 L1181.94,148.52 L1183.68,144.85 L1185.41,141.08 L1187.15,137.24 L1188.88,133.38 L1190.62,129.51 L1192.35,125.67 L1194.08,121.88 L1195.82,118.18 L1197.55,114.59 L1199.29,111.14 L1201.02,107.84 L1202.75,104.73 L1204.49,101.82 L1206.22,99.14 L1207.96,96.69 L1209.69,94.49 L1211.42,92.55 L1213.16,90.89 L1214.89,89.51 L1216.63,88.43 L1218.36,87.64 L1220.1,87.15 L1221.83,86.98 L1223.56,87.11 L1225.3,87.55 L1227.03,88.3 L1228.77,89.37 L1230.5,90.74" fill="none" stroke="#000" stroke-width="3.1" stroke-linecap="round" stroke-linejoin="round"/>
<g stroke-width="1.6">
<line x1="764.7" y1="178.3" x2="826" y2="178.3" stroke="#111"/>
<line x1="826" y1="178.3" x2="845" y2="178.3" stroke="#333" stroke-dasharray="3 3"/>
<line x1="777.6" y1="208.8" x2="810.3" y2="208.8" stroke="#777" stroke-width="2"/>
<line x1="817.2" y1="208.8" x2="845" y2="208.8" stroke="#666" stroke-dasharray="3 3"/>
<line x1="888.8" y1="163.1" x2="922.4" y2="163.1" stroke="#777" stroke-width="2"/>
<line x1="1028.3" y1="209.7" x2="1060.7" y2="209.7" stroke="#111"/>
<line x1="1066.3" y1="209.7" x2="1111" y2="209.7" stroke="#666" stroke-dasharray="3 3"/>
<line x1="1096.4" y1="163.2" x2="1136.5" y2="163.2" stroke="#666" stroke-dasharray="3 3"/>
<line x1="1136.5" y1="163.2" x2="1173" y2="163.2" stroke="#777" stroke-width="2"/>
</g>
<line x1="837.4" y1="184.8" x2="837.4" y2="202.3" stroke="#3f4f6b" stroke-width="2.2"/><polygon points="837.4,178.3 841.6,187.3 837.4,184.8 833.2,187.3" fill="#3f4f6b"/><polygon points="837.4,208.8 833.2,199.8 837.4,202.3 841.6,199.8" fill="#3f4f6b"/>
<line x1="1103.1" y1="169.4" x2="1103.1" y2="203.2" stroke="#3f4f6b" stroke-width="2.2"/><polygon points="1103.1,162.9 1107.3,171.9 1103.1,169.4 1098.9,171.9" fill="#3f4f6b"/><polygon points="1103.1,209.7 1098.9,200.7 1103.1,203.2 1107.3,200.7" fill="#3f4f6b"/>
<line x1="803" y1="242.7" x2="1039" y2="242.7" stroke="#3f4f6b" stroke-width="2.5"/>
<polygon points="795.4,242.7 807.7,237.8 803.9,242.7 807.7,247.6" fill="#3f4f6b"/><polygon points="1046.3,242.7 1034,247.6 1037.8,242.7 1034,237.8" fill="#3f4f6b"/>
<path d="M1019.4,127.1 C1017,92 998,64 970,62.4 C955,62 945,70 939,79" fill="none" stroke="#3f4f6b" stroke-width="2.2"/>
<polygon points="933.5,87.5 935.21,73.49 937.98,79.7 944.75,78.97" fill="#3f4f6b"/>
<path d="M1066.3,155 C1067,130 1082,112 1100,108.6 C1110,107 1118,109 1124,112" fill="none" stroke="#3f4f6b" stroke-width="2.2"/>
<polygon points="1130.5,115.5 1116.56,113.29 1122.86,110.74 1122.38,103.95" fill="#3f4f6b"/>
<rect x="778.3" y="145.9" width="4.4" height="38.0" fill="#be2026"/><polygon points="780.5,195.9 773.5,179.9 787.5,179.9" fill="#be2026"/><circle cx="780.5" cy="165.7" r="11.8" fill="#be2026"/><path d="M784.63,158.03 A8.26,8.26 0 0 1 788.76,164.51999999999998" fill="none" stroke="#fff" stroke-opacity="0.6" stroke-width="1"/>
<rect x="808.6999999999999" y="148.9" width="4.4" height="36.599999999999994" fill="#3a7bbf"/><polygon points="810.9,136.9 803.9,152.9 817.9,152.9" fill="#3a7bbf"/><circle cx="810.9" cy="165.7" r="11.9" fill="#3a7bbf"/><path d="M815.0649999999999,157.96499999999997 A8.33,8.33 0 0 1 819.23,164.51" fill="none" stroke="#fff" stroke-opacity="0.6" stroke-width="1"/>
<rect x="1042.3999999999999" y="177.4" width="4.4" height="37.099999999999994" fill="#be2026"/><polygon points="1044.6,226.5 1037.6,210.5 1051.6,210.5" fill="#be2026"/><circle cx="1044.6" cy="196.3" r="11.7" fill="#be2026"/><path d="M1048.695,188.69500000000002 A8.19,8.19 0 0 1 1052.79,195.13000000000002" fill="none" stroke="#fff" stroke-opacity="0.6" stroke-width="1"/>
<rect x="1155.3" y="133.2" width="4.4" height="36.89999999999999" fill="#3a7bbf"/><polygon points="1157.5,121.2 1150.5,137.2 1164.5,137.2" fill="#3a7bbf"/><circle cx="1157.5" cy="150.4" r="11.9" fill="#3a7bbf"/><path d="M1161.665,142.665 A8.33,8.33 0 0 1 1165.83,149.21" fill="none" stroke="#fff" stroke-opacity="0.6" stroke-width="1"/>
<path d="M708.3,288.79 L710.03,287.65 L711.77,286.63 L713.5,285.76 L715.24,285.02 L716.97,284.43 L718.7,284 L720.44,283.72 L722.17,283.6 L723.9,283.65 L725.64,283.84 L727.37,284.2 L729.11,284.71 L730.84,285.37 L732.57,286.18 L734.31,287.13 L736.04,288.21 L737.77,289.41 L739.51,290.73 L741.24,292.16 L742.98,293.68 L744.71,295.28 L746.44,296.95 L748.18,298.68 L749.91,300.46 L751.64,302.26 L753.38,304.09 L755.11,305.92 L756.85,307.74 L758.58,309.53 L760.31,311.29 L762.05,312.99 L763.78,314.64 L765.51,316.2 L767.25,317.68 L768.98,319.06 L770.72,320.33 L772.45,321.48 L774.18,322.51 L775.92,323.39 L777.65,324.14 L779.38,324.73 L781.12,325.18 L782.85,325.46 L784.59,325.59 L786.32,325.56 L788.05,325.37 L789.79,325.03 L791.52,324.52 L793.26,323.87 L794.99,323.07 L796.72,322.13 L798.46,321.06 L800.19,319.87 L801.92,318.55 L803.66,317.13 L805.39,315.62 L807.13,314.02 L808.86,312.36 L810.59,310.63 L812.33,308.86 L814.06,307.05 L815.79,305.23 L817.53,303.4 L819.26,301.58 L821,299.78 L822.73,298.02 L824.46,296.31 L826.2,294.66 L827.93,293.09 L829.66,291.61 L831.4,290.22 L833.13,288.94 L834.87,287.79 L836.6,286.75 L838.33,285.86 L840.07,285.11 L841.8,284.5 L843.53,284.05 L845.27,283.75 L847,283.61 L848.74,283.63 L850.47,283.81 L852.2,284.15 L853.94,284.64 L855.67,285.28 L857.41,286.07 L859.14,287 L860.87,288.07 L862.61,289.26 L864.34,290.56 L866.07,291.97 L867.81,293.48 L869.54,295.07 L871.28,296.74 L873.01,298.46 L874.74,300.23 L876.48,302.04 L878.21,303.86 L879.94,305.69 L881.68,307.51 L883.41,309.31 L885.15,311.07 L886.88,312.78 L888.61,314.44 L890.35,316.01 L892.08,317.5 L893.81,318.9 L895.55,320.18 L897.28,321.35 L899.02,322.38 L900.75,323.29 L902.48,324.05 L904.22,324.67 L905.95,325.13 L907.68,325.44 L909.42,325.58 L911.15,325.57 L912.89,325.41 L914.62,325.08 L916.35,324.6 L918.09,323.96 L919.82,323.18 L921.55,322.26 L923.29,321.2 L925.02,320.02 L926.76,318.72 L928.49,317.32 L930.22,315.82 L931.96,314.23 L933.69,312.57 L935.43,310.85 L937.16,309.08 L938.89,307.28 L940.63,305.46 L942.36,303.63 L944.09,301.81 L945.83,300.01 L947.56,298.24 L949.3,296.52 L951.03,294.87 L952.76,293.28 L954.5,291.79 L956.23,290.39 L957.96,289.1 L959.7,287.92 L961.43,286.88 L963.17,285.96 L964.9,285.19 L966.63,284.57 L968.37,284.1 L970.1,283.78 L971.83,283.62 L973.57,283.62 L975.3,283.78 L977.04,284.1 L978.77,284.57 L980.5,285.19 L982.24,285.97 L983.97,286.88 L985.7,287.93 L987.44,289.1 L989.17,290.39 L990.91,291.79 L992.64,293.29 L994.37,294.87 L996.11,296.53 L997.84,298.24 L999.57,300.01 L1001.31,301.81 L1003.04,303.63 L1004.78,305.46 L1006.51,307.28 L1008.24,309.08 L1009.98,310.85 L1011.71,312.57 L1013.45,314.23 L1015.18,315.82 L1016.91,317.32 L1018.65,318.73 L1020.38,320.02 L1022.11,321.21 L1023.85,322.26 L1025.58,323.18 L1027.32,323.96 L1029.05,324.6 L1030.78,325.08 L1032.52,325.41 L1034.25,325.57 L1035.98,325.58 L1037.72,325.44 L1039.45,325.13 L1041.19,324.67 L1042.92,324.05 L1044.65,323.29 L1046.39,322.38 L1048.12,321.34 L1049.85,320.18 L1051.59,318.89 L1053.32,317.5 L1055.06,316.01 L1056.79,314.43 L1058.52,312.78 L1060.26,311.07 L1061.99,309.3 L1063.72,307.51 L1065.46,305.69 L1067.19,303.86 L1068.93,302.03 L1070.66,300.23 L1072.39,298.46 L1074.13,296.74 L1075.86,295.07 L1077.59,293.48 L1079.33,291.97 L1081.06,290.56 L1082.8,289.25 L1084.53,288.06 L1086.26,287 L1088,286.07 L1089.73,285.28 L1091.47,284.64 L1093.2,284.15 L1094.93,283.81 L1096.67,283.63 L1098.4,283.61 L1100.13,283.75 L1101.87,284.05 L1103.6,284.5 L1105.34,285.11 L1107.07,285.86 L1108.8,286.76 L1110.54,287.79 L1112.27,288.95 L1114,290.22 L1115.74,291.61 L1117.47,293.09 L1119.21,294.67 L1120.94,296.31 L1122.67,298.02 L1124.41,299.78 L1126.14,301.58 L1127.87,303.4 L1129.61,305.23 L1131.34,307.05 L1133.08,308.86 L1134.81,310.63 L1136.54,312.36 L1138.28,314.03 L1140.01,315.62 L1141.74,317.14 L1143.48,318.55 L1145.21,319.87 L1146.95,321.06 L1148.68,322.14 L1150.41,323.07 L1152.15,323.87 L1153.88,324.53 L1155.62,325.03 L1157.35,325.37 L1159.08,325.56 L1160.82,325.59 L1162.55,325.46 L1164.28,325.18 L1166.02,324.73 L1167.75,324.14 L1169.49,323.39 L1171.22,322.5 L1172.95,321.48 L1174.69,320.33 L1176.42,319.06 L1178.15,317.68 L1179.89,316.2 L1181.62,314.64 L1183.36,312.99 L1185.09,311.29 L1186.82,309.53 L1188.56,307.73 L1190.29,305.91 L1192.02,304.09 L1193.76,302.26 L1195.49,300.45 L1197.23,298.68 L1198.96,296.95 L1200.69,295.28 L1202.43,293.67 L1204.16,292.16 L1205.89,290.73 L1207.63,289.41 L1209.36,288.21 L1211.1,287.13 L1212.83,286.18 L1214.56,285.37 L1216.3,284.71 L1218.03,284.2 L1219.76,283.84 L1221.5,283.64 L1223.23,283.6 L1224.97,283.72 L1226.7,284" fill="none" stroke="#be2026" stroke-width="3"/>
<path d="M645.3,339.78 L647.97,340.36 L650.63,341.02 L653.3,341.74 L655.97,342.53 L658.63,343.39 L661.3,344.3 L663.97,345.27 L666.63,346.29 L669.3,347.35 L671.97,348.46 L674.64,349.6 L677.3,350.77 L679.97,351.97 L682.64,353.19 L685.3,354.42 L687.97,355.66 L690.64,356.91 L693.3,358.15 L695.97,359.38 L698.64,360.6 L701.3,361.81 L703.97,362.98 L706.64,364.13 L709.3,365.24 L711.97,366.32 L714.64,367.34 L717.3,368.32 L719.97,369.25 L722.64,370.11 L725.31,370.92 L727.97,371.66 L730.64,372.32 L733.31,372.92 L735.97,373.44 L738.64,373.89 L741.31,374.26 L743.97,374.54 L746.64,374.74 L749.31,374.86 L751.97,374.9 L754.64,374.85 L757.31,374.72 L759.97,374.51 L762.64,374.21 L765.31,373.84 L767.97,373.38 L770.64,372.85 L773.31,372.24 L775.97,371.56 L778.64,370.82 L781.31,370 L783.98,369.13 L786.64,368.2 L789.31,367.21 L791.98,366.18 L794.64,365.1 L797.31,363.98 L799.98,362.83 L802.64,361.65 L805.31,360.45 L807.98,359.22 L810.64,357.99 L813.31,356.75 L815.98,355.5 L818.64,354.26 L821.31,353.03 L823.98,351.81 L826.64,350.62 L829.31,349.45 L831.98,348.31 L834.65,347.21 L837.31,346.15 L839.98,345.14 L842.65,344.18 L845.31,343.27 L847.98,342.43 L850.65,341.64 L853.31,340.93 L855.98,340.28 L858.65,339.71 L861.31,339.21 L863.98,338.79 L866.65,338.45 L869.31,338.19 L871.98,338.01 L874.65,337.92 L877.31,337.91 L879.98,337.98 L882.65,338.14 L885.32,338.38 L887.98,338.7 L890.65,339.1 L893.32,339.58 L895.98,340.14 L898.65,340.76 L901.32,341.47 L903.98,342.23 L906.65,343.07 L909.32,343.96 L911.98,344.91 L914.65,345.91 L917.32,346.96 L919.98,348.05 L922.65,349.18 L925.32,350.34 L927.98,351.53 L930.65,352.74 L933.32,353.96 L935.98,355.2 L938.65,356.45 L941.32,357.69 L943.99,358.93 L946.65,360.16 L949.32,361.37 L951.99,362.55 L954.65,363.71 L957.32,364.84 L959.99,365.93 L962.65,366.97 L965.32,367.97 L967.99,368.91 L970.65,369.8 L973.32,370.63 L975.99,371.39 L978.65,372.09 L981.32,372.71 L983.99,373.26 L986.65,373.73 L989.32,374.13 L991.99,374.44 L994.66,374.68 L997.32,374.83 L999.99,374.9 L1002.66,374.88 L1005.32,374.78 L1007.99,374.6 L1010.66,374.33 L1013.32,373.98 L1015.99,373.56 L1018.66,373.05 L1021.32,372.47 L1023.99,371.82 L1026.66,371.1 L1029.32,370.31 L1031.99,369.46 L1034.66,368.55 L1037.32,367.58 L1039.99,366.57 L1042.66,365.5 L1045.33,364.4 L1047.99,363.26 L1050.66,362.09 L1053.33,360.89 L1055.99,359.68 L1058.66,358.45 L1061.33,357.2 L1063.99,355.96 L1066.66,354.72 L1069.33,353.48 L1071.99,352.26 L1074.66,351.06 L1077.33,349.88 L1079.99,348.73 L1082.66,347.61 L1085.33,346.54 L1087.99,345.51 L1090.66,344.53 L1093.33,343.6 L1095.99,342.73 L1098.66,341.92 L1101.33,341.18 L1104,340.51 L1106.66,339.91 L1109.33,339.38 L1112,338.93 L1114.66,338.56 L1117.33,338.27 L1120,338.07 L1122.66,337.94 L1125.33,337.9 L1128,337.94 L1130.66,338.07 L1133.33,338.28 L1136,338.57 L1138.66,338.94 L1141.33,339.39 L1144,339.92 L1146.66,340.52 L1149.33,341.2 L1152,341.94 L1154.67,342.75 L1157.33,343.62 L1160,344.55 L1162.67,345.53 L1165.33,346.56 L1168,347.64 L1170.67,348.75 L1173.33,349.9 L1176,351.08" fill="none" stroke="#f6d3ad" stroke-width="3" stroke-dasharray="10 5"/>
<path d="M678.8,340.01 L681.41,340.61 L684.02,341.28 L686.63,342.01 L689.24,342.8 L691.85,343.66 L694.45,344.57 L697.06,345.53 L699.67,346.54 L702.28,347.59 L704.89,348.68 L707.5,349.8 L710.11,350.95 L712.72,352.13 L715.33,353.32 L717.94,354.53 L720.54,355.74 L723.15,356.96 L725.76,358.18 L728.37,359.38 L730.98,360.58 L733.59,361.76 L736.2,362.91 L738.81,364.03 L741.42,365.13 L744.03,366.18 L746.64,367.19 L749.24,368.16 L751.85,369.07 L754.46,369.93 L757.07,370.73 L759.68,371.47 L762.29,372.14 L764.9,372.75 L767.51,373.28 L770.12,373.74 L772.73,374.13 L775.33,374.44 L777.94,374.67 L780.55,374.82 L783.16,374.89 L785.77,374.89 L788.38,374.8 L790.99,374.63 L793.6,374.38 L796.21,374.06 L798.82,373.66 L801.43,373.18 L804.03,372.63 L806.64,372.01 L809.25,371.32 L811.86,370.57 L814.47,369.76 L817.08,368.89 L819.69,367.96 L822.3,366.99 L824.91,365.97 L827.52,364.91 L830.12,363.81 L832.73,362.68 L835.34,361.52 L837.95,360.34 L840.56,359.14 L843.17,357.93 L845.78,356.71 L848.39,355.5 L851,354.28 L853.61,353.08 L856.22,351.89 L858.82,350.72 L861.43,349.57 L864.04,348.45 L866.65,347.37 L869.26,346.33 L871.87,345.33 L874.48,344.38 L877.09,343.48 L879.7,342.64 L882.31,341.85 L884.91,341.13 L887.52,340.48 L890.13,339.89 L892.74,339.38 L895.35,338.94 L897.96,338.58 L900.57,338.29 L903.18,338.08 L905.79,337.95 L908.4,337.9 L911.01,337.93 L913.61,338.04 L916.22,338.23 L918.83,338.5 L921.44,338.85 L924.05,339.27 L926.66,339.77 L929.27,340.34 L931.88,340.97 L934.49,341.68 L937.1,342.45 L939.7,343.28 L942.31,344.17 L944.92,345.1 L947.53,346.09 L950.14,347.13 L952.75,348.2 L955.36,349.31 L957.97,350.45 L960.58,351.61 L963.19,352.8 L965.79,354 L968.4,355.21 L971.01,356.43 L973.62,357.65 L976.23,358.86 L978.84,360.06 L981.45,361.24 L984.06,362.41 L986.67,363.55 L989.28,364.65 L991.89,365.72 L994.49,366.76 L997.1,367.74 L999.71,368.68 L1002.32,369.56 L1004.93,370.39 L1007.54,371.16 L1010.15,371.86 L1012.76,372.49 L1015.37,373.06 L1017.98,373.55 L1020.58,373.97 L1023.19,374.31 L1025.8,374.58 L1028.41,374.77 L1031.02,374.87 L1033.63,374.9 L1036.24,374.85 L1038.85,374.71 L1041.46,374.5 L1044.07,374.21 L1046.68,373.84 L1049.28,373.4 L1051.89,372.88 L1054.5,372.29 L1057.11,371.63 L1059.72,370.91 L1062.33,370.12 L1064.94,369.28 L1067.55,368.38 L1070.16,367.42 L1072.77,366.42 L1075.37,365.38 L1077.98,364.29 L1080.59,363.17 L1083.2,362.03 L1085.81,360.86 L1088.42,359.66 L1091.03,358.46 L1093.64,357.25 L1096.25,356.03 L1098.86,354.81 L1101.47,353.6 L1104.07,352.41 L1106.68,351.23 L1109.29,350.07 L1111.9,348.94 L1114.51,347.84 L1117.12,346.78 L1119.73,345.76 L1122.34,344.79 L1124.95,343.87 L1127.56,343 L1130.16,342.19 L1132.77,341.44 L1135.38,340.76 L1137.99,340.14 L1140.6,339.6 L1143.21,339.12 L1145.82,338.73 L1148.43,338.4 L1151.04,338.16 L1153.65,338 L1156.26,337.91 L1158.86,337.91 L1161.47,337.98 L1164.08,338.14 L1166.69,338.37 L1169.3,338.69 L1171.91,339.08 L1174.52,339.54 L1177.13,340.08 L1179.74,340.69 L1182.35,341.36 L1184.95,342.11 L1187.56,342.91 L1190.17,343.77 L1192.78,344.69 L1195.39,345.66 L1198,346.67" fill="none" stroke="#eaaf70" stroke-width="3" stroke-dasharray="10 5"/>
<path d="M712.4,339.6 L715,340.14 L717.61,340.75 L720.21,341.44 L722.81,342.18 L725.42,342.99 L728.02,343.86 L730.62,344.78 L733.23,345.75 L735.83,346.76 L738.44,347.82 L741.04,348.91 L743.64,350.04 L746.25,351.19 L748.85,352.37 L751.45,353.56 L754.06,354.77 L756.66,355.98 L759.26,357.2 L761.87,358.41 L764.47,359.61 L767.07,360.8 L769.68,361.97 L772.28,363.12 L774.88,364.24 L777.49,365.32 L780.09,366.36 L782.69,367.37 L785.3,368.32 L787.9,369.22 L790.51,370.07 L793.11,370.86 L795.71,371.59 L798.32,372.25 L800.92,372.84 L803.52,373.36 L806.13,373.81 L808.73,374.18 L811.33,374.48 L813.94,374.7 L816.54,374.84 L819.14,374.9 L821.75,374.88 L824.35,374.78 L826.95,374.6 L829.56,374.34 L832.16,374.01 L834.77,373.6 L837.37,373.11 L839.97,372.55 L842.58,371.93 L845.18,371.23 L847.78,370.48 L850.39,369.66 L852.99,368.78 L855.59,367.85 L858.2,366.87 L860.8,365.85 L863.4,364.79 L866.01,363.69 L868.61,362.55 L871.21,361.4 L873.82,360.22 L876.42,359.02 L879.03,357.81 L881.63,356.6 L884.23,355.38 L886.84,354.17 L889.44,352.97 L892.04,351.78 L894.65,350.62 L897.25,349.48 L899.85,348.37 L902.46,347.29 L905.06,346.25 L907.66,345.26 L910.27,344.31 L912.87,343.42 L915.47,342.58 L918.08,341.8 L920.68,341.09 L923.28,340.44 L925.89,339.86 L928.49,339.35 L931.1,338.92 L933.7,338.56 L936.3,338.28 L938.91,338.07 L941.51,337.95 L944.11,337.9 L946.72,337.93 L949.32,338.05 L951.92,338.24 L954.53,338.51 L957.13,338.86 L959.73,339.29 L962.34,339.78 L964.94,340.35 L967.54,340.99 L970.15,341.7 L972.75,342.47 L975.36,343.3 L977.96,344.18 L980.56,345.12 L983.17,346.11 L985.77,347.14 L988.37,348.21 L990.98,349.32 L993.58,350.45 L996.18,351.62 L998.79,352.8 L1001.39,354 L1003.99,355.21 L1006.6,356.42 L1009.2,357.64 L1011.8,358.85 L1014.41,360.04 L1017.01,361.23 L1019.62,362.39 L1022.22,363.53 L1024.82,364.63 L1027.43,365.7 L1030.03,366.73 L1032.63,367.72 L1035.24,368.65 L1037.84,369.54 L1040.44,370.36 L1043.05,371.13 L1045.65,371.83 L1048.25,372.47 L1050.86,373.04 L1053.46,373.53 L1056.06,373.95 L1058.67,374.3 L1061.27,374.57 L1063.87,374.76 L1066.48,374.87 L1069.08,374.9 L1071.69,374.85 L1074.29,374.72 L1076.89,374.52 L1079.5,374.23 L1082.1,373.87 L1084.7,373.43 L1087.31,372.92 L1089.91,372.34 L1092.51,371.69 L1095.12,370.97 L1097.72,370.19 L1100.32,369.35 L1102.93,368.45 L1105.53,367.51 L1108.13,366.51 L1110.74,365.47 L1113.34,364.39 L1115.95,363.28 L1118.55,362.14 L1121.15,360.97 L1123.76,359.79 L1126.36,358.58 L1128.96,357.37 L1131.57,356.16 L1134.17,354.95 L1136.77,353.74 L1139.38,352.54 L1141.98,351.36 L1144.58,350.2 L1147.19,349.07 L1149.79,347.97 L1152.39,346.91 L1155,345.89 L1157.6,344.91 L1160.21,343.98 L1162.81,343.11 L1165.41,342.29 L1168.02,341.54 L1170.62,340.85 L1173.22,340.22 L1175.83,339.67 L1178.43,339.19 L1181.03,338.78 L1183.64,338.45 L1186.24,338.19 L1188.84,338.02 L1191.45,337.92 L1194.05,337.9 L1196.65,337.97 L1199.26,338.11 L1201.86,338.33 L1204.46,338.63 L1207.07,339.01 L1209.67,339.46 L1212.28,339.98 L1214.88,340.58 L1217.48,341.24 L1220.09,341.97 L1222.69,342.76 L1225.29,343.61 L1227.9,344.51 L1230.5,345.47" fill="none" stroke="#e08a2e" stroke-width="3"/>
<g stroke="#3f4f6b" fill="none">
<line x1="1521.6" y1="78" x2="1521.6" y2="357.3" stroke-width="2.2"/>
<line x1="1378.5" y1="220" x2="1656" y2="220" stroke-width="2.2"/>
<circle cx="1521.6" cy="220" r="89.6" stroke-width="3.8"/>
<line x1="1623" y1="138" x2="1623" y2="212" stroke-width="2"/>
</g>
<polygon points="1521.6,71.3 1526.6,83.3 1521.6,80.3 1516.6,83.3" fill="#3f4f6b"/><polygon points="1663.7,219.9 1652,224.7 1655,219.9 1652,215.1" fill="#3f4f6b"/>
<polygon points="1623,130.6 1628,142.9 1623,140.1 1618,142.9" fill="#3f4f6b"/><polygon points="1623,219.3 1618,207 1623,209.8 1628,207" fill="#3f4f6b"/>
<polygon points="1610.7,219.8 1602.41,203.91 1609.86,209.33 1616.36,202.79" fill="#3f4f6b"/>
<line x1="1523" y1="130.6" x2="1637.5" y2="130.6" stroke="#111" stroke-width="2.4" stroke-dasharray="8.4 6.2" stroke-dashoffset="-1"/>
<rect x="77.1" y="475" width="466.3" height="423.3" fill="none" stroke="#333" stroke-width="1.3"/>
<line x1="115.6" y1="898.3" x2="115.6" y2="886.3" stroke="#666" stroke-width="1.5"/>
<line x1="77.1" y1="863.1" x2="89.3" y2="863.1" stroke="#555" stroke-width="1.5"/>
<line x1="193.55" y1="898.3" x2="193.55" y2="886.3" stroke="#666" stroke-width="1.5"/>
<line x1="77.1" y1="792.4" x2="89.3" y2="792.4" stroke="#555" stroke-width="1.5"/>
<line x1="271.5" y1="898.3" x2="271.5" y2="886.3" stroke="#666" stroke-width="1.5"/>
<line x1="77.1" y1="721.7" x2="89.3" y2="721.7" stroke="#555" stroke-width="1.5"/>
<line x1="349.45" y1="898.3" x2="349.45" y2="886.3" stroke="#666" stroke-width="1.5"/>
<line x1="77.1" y1="651" x2="89.3" y2="651" stroke="#555" stroke-width="1.5"/>
<line x1="427.4" y1="898.3" x2="427.4" y2="886.3" stroke="#666" stroke-width="1.5"/>
<line x1="77.1" y1="580.3" x2="89.3" y2="580.3" stroke="#555" stroke-width="1.5"/>
<line x1="505.35" y1="898.3" x2="505.35" y2="886.3" stroke="#666" stroke-width="1.5"/>
<line x1="77.1" y1="509.6" x2="89.3" y2="509.6" stroke="#555" stroke-width="1.5"/>
<line x1="77.1" y1="898.3" x2="543.4" y2="475" stroke="#000" stroke-width="3.4" stroke-dasharray="11 5.5"/>
<line x1="115.6" y1="845.6" x2="115.6" y2="880.6" stroke="#c0202f" stroke-width="3.7"/><rect x="105.4" y="852.9" width="20.4" height="20.4" fill="#f68c80" stroke="#c0202f" stroke-width="3.2"/>
<rect x="183.35" y="810.48" width="20.4" height="20.4" fill="#f68c80" stroke="#c0202f" stroke-width="3.2"/>
<line x1="271.5" y1="703.9" x2="271.5" y2="739.5" stroke="#c0202f" stroke-width="3.7"/><rect x="261.3" y="711.5" width="20.4" height="20.4" fill="#f68c80" stroke="#c0202f" stroke-width="3.2"/>
<line x1="349.45" y1="656" x2="349.45" y2="687" stroke="#c0202f" stroke-width="3.7"/><rect x="339.25" y="661.3" width="20.4" height="20.4" fill="#f68c80" stroke="#c0202f" stroke-width="3.2"/>
<line x1="427.4" y1="590.63" x2="427.4" y2="616.63" stroke="#c0202f" stroke-width="3.7"/><rect x="417.2" y="593.43" width="20.4" height="20.4" fill="#f68c80" stroke="#c0202f" stroke-width="3.2"/>
<rect x="495.15" y="526.97" width="20.4" height="20.4" fill="#f68c80" stroke="#c0202f" stroke-width="3.2"/>
<circle cx="115.6" cy="863.1" r="9.7" fill="#bfbfbf" stroke="#7f7f7f" stroke-width="3.6"/>
<circle cx="193.55" cy="805.83" r="9.7" fill="#bfbfbf" stroke="#7f7f7f" stroke-width="3.6"/>
<line x1="271.5" y1="705.61" x2="271.5" y2="740.61" stroke="#7f7f7f" stroke-width="3.7"/><circle cx="271.5" cy="723.11" r="9.7" fill="#bfbfbf" stroke="#7f7f7f" stroke-width="3.6"/>
<circle cx="349.45" cy="641.1" r="9.7" fill="#bfbfbf" stroke="#7f7f7f" stroke-width="3.6"/>
<circle cx="427.4" cy="593.73" r="9.7" fill="#bfbfbf" stroke="#7f7f7f" stroke-width="3.6"/>
<circle cx="505.35" cy="530.1" r="9.7" fill="#bfbfbf" stroke="#7f7f7f" stroke-width="3.6"/>
<polygon points="115.6,851.3 124.6,863.1 115.6,874.9 106.6,863.1" fill="#5d9ad6" stroke="#2a73c0" stroke-width="3.2" stroke-linejoin="miter"/>
<polygon points="193.55,826.98 202.55,838.78 193.55,850.58 184.55,838.78" fill="#5d9ad6" stroke="#2a73c0" stroke-width="3.2" stroke-linejoin="miter"/>
<polygon points="271.5,790.5 280.5,802.3 271.5,814.1 262.5,802.3" fill="#5d9ad6" stroke="#2a73c0" stroke-width="3.2" stroke-linejoin="miter"/>
<polygon points="349.45,769.29 358.45,781.09 349.45,792.89 340.45,781.09" fill="#5d9ad6" stroke="#2a73c0" stroke-width="3.2" stroke-linejoin="miter"/>
<polygon points="427.4,765.75 436.4,777.55 427.4,789.35 418.4,777.55" fill="#5d9ad6" stroke="#2a73c0" stroke-width="3.2" stroke-linejoin="miter"/>
<polygon points="505.35,727.58 514.35,739.38 505.35,751.17 496.35,739.38" fill="#5d9ad6" stroke="#2a73c0" stroke-width="3.2" stroke-linejoin="miter"/>
<line x1="118.2" y1="500" x2="118.2" y2="540" stroke="#c0202f" stroke-width="3.7"/><rect x="108" y="509.8" width="20.4" height="20.4" fill="#f68c80" stroke="#c0202f" stroke-width="3.2"/>
<line x1="118.7" y1="556" x2="118.7" y2="595" stroke="#999999" stroke-width="3.7"/><circle cx="118.7" cy="575.5" r="9.7" fill="#c8c8c8" stroke="#999999" stroke-width="3.6"/>
<line x1="117.8" y1="611.2" x2="117.8" y2="650.4" stroke="#2a73c0" stroke-width="3.7"/><polygon points="117.8,619 126.8,630.8 117.8,642.6 108.8,630.8" fill="#5d9ad6" stroke="#2a73c0" stroke-width="3.2" stroke-linejoin="miter"/>
<rect x="692.4" y="474.4" width="1118.5" height="423.8" fill="none" stroke="#222" stroke-width="1.3"/>
<line x1="772.15" y1="898.2" x2="772.15" y2="886.2" stroke="#444" stroke-width="1.4"/>
<line x1="931.9" y1="898.2" x2="931.9" y2="886.2" stroke="#444" stroke-width="1.4"/>
<line x1="1091.65" y1="898.2" x2="1091.65" y2="886.2" stroke="#444" stroke-width="1.4"/>
<line x1="1251.4" y1="898.2" x2="1251.4" y2="886.2" stroke="#444" stroke-width="1.4"/>
<line x1="1411.15" y1="898.2" x2="1411.15" y2="886.2" stroke="#444" stroke-width="1.4"/>
<line x1="1570.9" y1="898.2" x2="1570.9" y2="886.2" stroke="#444" stroke-width="1.4"/>
<line x1="1730.65" y1="898.2" x2="1730.65" y2="886.2" stroke="#444" stroke-width="1.4"/>
<line x1="692.4" y1="843.6" x2="704.4" y2="843.6" stroke="#444" stroke-width="1.4"/>
<line x1="692.4" y1="734.1" x2="704.4" y2="734.1" stroke="#444" stroke-width="1.4"/>
<line x1="692.4" y1="624.6" x2="704.4" y2="624.6" stroke="#444" stroke-width="1.4"/>
<line x1="692.4" y1="515.1" x2="704.4" y2="515.1" stroke="#444" stroke-width="1.4"/>
<line x1="692.4" y1="515.35" x2="1810.9" y2="515.35" stroke="#000" stroke-width="2.7" stroke-dasharray="26.6 4.93" stroke-dashoffset="8.6"/>
<line x1="751" y1="517" x2="751" y2="552.9" stroke="#000" stroke-width="3.8"/>
<line x1="724.7" y1="533.9" x2="776.9" y2="533.9" stroke="#000" stroke-width="3.8"/>
<circle cx="751" cy="533.9" r="9.6" fill="#808080" stroke="#000" stroke-width="3.6"/>
<line x1="800.9" y1="521" x2="800.9" y2="559" stroke="#000" stroke-width="3.8"/>
<line x1="777.6" y1="540" x2="824.3" y2="540" stroke="#000" stroke-width="3.8"/>
<circle cx="800.9" cy="540" r="9.6" fill="#808080" stroke="#000" stroke-width="3.6"/>
<line x1="859.3" y1="531.1" x2="859.3" y2="566.1" stroke="#000" stroke-width="3.8"/>
<line x1="839" y1="548.6" x2="879.7" y2="548.6" stroke="#000" stroke-width="3.8"/>
<circle cx="859.3" cy="548.6" r="9.6" fill="#808080" stroke="#000" stroke-width="3.6"/>
<line x1="925.9" y1="496.1" x2="925.9" y2="531.9" stroke="#000" stroke-width="3.8"/>
<line x1="909.3" y1="514" x2="943" y2="514" stroke="#000" stroke-width="3.8"/>
<circle cx="925.9" cy="514" r="9.6" fill="#808080" stroke="#000" stroke-width="3.6"/>
<line x1="1001.1" y1="502.9" x2="1001.1" y2="536.4" stroke="#000" stroke-width="3.8"/>
<line x1="989.3" y1="519.6" x2="1014" y2="519.6" stroke="#000" stroke-width="3.8"/>
<circle cx="1001.1" cy="519.6" r="9.6" fill="#808080" stroke="#000" stroke-width="3.6"/>
<line x1="1084.6" y1="555" x2="1084.6" y2="584.6" stroke="#000" stroke-width="3.8"/>
<circle cx="1084.6" cy="569.7" r="9.6" fill="#808080" stroke="#000" stroke-width="3.6"/>
<line x1="1168" y1="499" x2="1168" y2="535" stroke="#000" stroke-width="3.8"/>
<line x1="1156" y1="516.7" x2="1181" y2="516.7" stroke="#000" stroke-width="3.8"/>
<circle cx="1168" cy="516.7" r="9.6" fill="#808080" stroke="#000" stroke-width="3.6"/>
<line x1="1251.4" y1="522.6" x2="1251.4" y2="560.3" stroke="#000" stroke-width="3.8"/>
<circle cx="1251.4" cy="541.4" r="9.6" fill="#808080" stroke="#000" stroke-width="3.6"/>
<line x1="1309.9" y1="533.7" x2="1309.9" y2="572.9" stroke="#000" stroke-width="3.8"/>
<circle cx="1309.9" cy="553.3" r="9.6" fill="#808080" stroke="#000" stroke-width="3.6"/>
<line x1="1368.3" y1="495.4" x2="1368.3" y2="535.7" stroke="#000" stroke-width="3.8"/>
<circle cx="1368.3" cy="515.4" r="9.6" fill="#808080" stroke="#000" stroke-width="3.6"/>
<line x1="1440" y1="507.9" x2="1440" y2="547.9" stroke="#000" stroke-width="3.8"/>
<circle cx="1440" cy="527.6" r="9.6" fill="#808080" stroke="#000" stroke-width="3.6"/>
<line x1="1505.9" y1="532.2" x2="1505.9" y2="567.6" stroke="#000" stroke-width="3.8"/>
<line x1="1492.7" y1="550" x2="1518.7" y2="550" stroke="#000" stroke-width="3.8"/>
<circle cx="1505.9" cy="550" r="9.6" fill="#808080" stroke="#000" stroke-width="3.6"/>
<line x1="1571.4" y1="658.9" x2="1571.4" y2="697.4" stroke="#000" stroke-width="3.8"/>
<line x1="1555.1" y1="677.7" x2="1587.6" y2="677.7" stroke="#000" stroke-width="3.8"/>
<circle cx="1571.4" cy="677.7" r="9.6" fill="#808080" stroke="#000" stroke-width="3.6"/>
<line x1="1637" y1="792.3" x2="1637" y2="833.9" stroke="#000" stroke-width="3.8"/>
<line x1="1617.3" y1="813.2" x2="1656.9" y2="813.2" stroke="#000" stroke-width="3.8"/>
<circle cx="1637" cy="813.2" r="9.6" fill="#808080" stroke="#000" stroke-width="3.6"/>
<line x1="1694.4" y1="795.7" x2="1694.4" y2="831.1" stroke="#000" stroke-width="3.8"/>
<line x1="1672" y1="813.2" x2="1716.9" y2="813.2" stroke="#000" stroke-width="3.8"/>
<circle cx="1694.4" cy="813.2" r="9.6" fill="#808080" stroke="#000" stroke-width="3.6"/>
<line x1="1743.8" y1="832.7" x2="1743.8" y2="862.6" stroke="#000" stroke-width="3.8"/>
<line x1="1718.5" y1="847.5" x2="1768.9" y2="847.5" stroke="#000" stroke-width="3.8"/>
<circle cx="1743.8" cy="847.5" r="9.6" fill="#808080" stroke="#000" stroke-width="3.6"/>
<g transform="translate(0.50 12.20) scale(0.9762 0.9773) translate(-601.00 -478.00)"><g transform="translate(600 500) rotate(0)"><text x="0" y="0" font-family='"Liberation Sans", "DejaVu Sans", sans-serif' font-size="40" font-weight="bold" font-style="normal" fill="#000">a</text></g></g>
<g transform="translate(646.20 4.10) scale(1.1400 0.9867) translate(-603.00 -470.00)"><g transform="translate(600 500) rotate(0)"><text x="0" y="0" font-family='"Liberation Sans", "DejaVu Sans", sans-serif' font-size="40" font-weight="bold" font-style="normal" fill="#000">b</text></g></g>
<g transform="translate(1362.20 12.20) scale(1.1316 0.9773) translate(-602.00 -478.00)"><g transform="translate(600 500) rotate(0)"><text x="0" y="0" font-family='"Liberation Sans", "DejaVu Sans", sans-serif' font-size="40" font-weight="bold" font-style="normal" fill="#000">c</text></g></g>
<g transform="translate(0.90 443.90) scale(1.1150 0.9633) translate(-602.00 -470.00)"><g transform="translate(600 500) rotate(0)"><text x="0" y="0" font-family='"Liberation Sans", "DejaVu Sans", sans-serif' font-size="40" font-weight="bold" font-style="normal" fill="#000">d</text></g></g>
<g transform="translate(593.90 451.90) scale(1.1684 0.9682) translate(-602.00 -478.00)"><g transform="translate(600 500) rotate(0)"><text x="0" y="0" font-family='"Liberation Sans", "DejaVu Sans", sans-serif' font-size="40" font-weight="bold" font-style="normal" fill="#000">e</text></g></g>
<g transform="translate(58.00 189.00) scale(1.3846 0.8333) translate(-601.00 -481.00)"><g transform="translate(600 500) rotate(0)"><text x="0" y="0" font-family='"Liberation Sans", "DejaVu Sans", sans-serif' font-size="26" font-weight="normal" font-style="italic" fill="#e0782f">ϕ</text></g></g>
<g transform="translate(406.90 34.20) scale(1.0359 1.2400) translate(-600.00 -480.00)"><g transform="translate(600 500) rotate(0)"><text x="0" y="0" font-family='"Liberation Sans", "DejaVu Sans", sans-serif' font-size="27" font-weight="normal" font-style="normal" fill="#555555"><tspan letter-spacing="2">λ/</tspan>4</text></g></g>
<g transform="translate(154.30 351.10) scale(1.1286 1.3000) translate(-594.00 -484.00)"><g transform="translate(600 500) rotate(-38)"><text x="0" y="0" font-family='"Liberation Sans", "DejaVu Sans", sans-serif' font-size="24" font-weight="normal" font-style="normal" fill="#000">z</text></g></g>
<g transform="translate(238.90 382.20) scale(1.2143 1.1750) translate(-596.00 -484.00)"><g transform="translate(600 500) rotate(-25)"><text x="0" y="0" font-family='"Liberation Sans", "DejaVu Sans", sans-serif' font-size="24" font-weight="normal" font-style="normal" fill="#000">x</text></g></g>
<g transform="translate(944.20 36.10) scale(1.0320 1.0750) translate(-601.00 -480.00)"><g transform="translate(600 500) rotate(0)"><text x="0" y="0" font-family='"Liberation Sans", "DejaVu Sans", sans-serif' font-size="27" font-weight="normal" font-style="normal" fill="#000"><tspan font-style="italic">t</tspan> – δ</text></g></g>
<g transform="translate(1084.00 79.20) scale(1.0196 1.0600) translate(-601.00 -480.00)"><g transform="translate(600 500) rotate(0)"><text x="0" y="0" font-family='"Liberation Sans", "DejaVu Sans", sans-serif' font-size="27" font-weight="normal" font-style="normal" fill="#000"><tspan font-style="italic">t</tspan> + δ</text></g></g>
<g transform="translate(850.00 187.20) scale(0.9111 1.0000) translate(-602.00 -481.00)"><g transform="translate(600 500) rotate(0)"><text x="0" y="0" font-family='"Liberation Sans", "DejaVu Sans", sans-serif' font-size="27" font-weight="normal" font-style="normal" fill="#000"><tspan font-style="italic">U</tspan></text></g></g>
<g transform="translate(1117.60 190.80) scale(1.0067 0.9947) translate(-601.00 -481.00)"><g transform="translate(600 500) rotate(0)"><text x="0" y="0" font-family='"Liberation Sans", "DejaVu Sans", sans-serif' font-size="27" font-weight="normal" font-style="normal" fill="#000">2<tspan font-style="italic">Δ</tspan></text></g></g>
<g transform="translate(912.40 252.00) scale(1.0800 1.0150) translate(-601.00 -480.00)"><g transform="translate(600 500) rotate(0)"><text x="0" y="0" font-family='"Liberation Sans", "DejaVu Sans", sans-serif' font-size="27" font-weight="normal" font-style="normal" fill="#000"><tspan font-style="italic">d</tspan></text></g></g>
<g transform="translate(1237.00 300.70) scale(1.0682 0.9550) translate(-601.00 -480.00)"><g transform="translate(600 500) rotate(0)"><text x="0" y="0" font-family='"Liberation Sans", "DejaVu Sans", sans-serif' font-size="27" font-weight="normal" font-style="normal" fill="#be2026">Static</text></g></g>
<g transform="translate(1209.90 357.60) scale(1.0928 0.9192) translate(-602.00 -480.00)"><g transform="translate(600 500) rotate(0)"><text x="0" y="0" font-family='"Liberation Sans", "DejaVu Sans", sans-serif' font-size="27" font-weight="normal" font-style="normal" fill="#e08a2e">Moving</text></g></g>
<g transform="translate(1532.70 58.20) scale(1.0467 1.0435) translate(-601.00 -480.00)"><g transform="translate(600 500) rotate(0)"><text x="0" y="0" font-family='"Liberation Sans", "DejaVu Sans", sans-serif' font-size="27" font-weight="normal" font-style="normal" fill="#000">Site offset, <tspan font-style="italic">Δ</tspan></text></g></g>
<g transform="translate(1633.30 164.10) scale(0.9938 1.0263) translate(-600.00 -481.00)"><g transform="translate(600 500) rotate(0)"><text x="0" y="0" font-family='"Liberation Sans", "DejaVu Sans", sans-serif' font-size="27" font-weight="normal" font-style="normal" fill="#000"><tspan font-style="italic">Δ</tspan></text></g></g>
<g transform="translate(1652.30 178.00) scale(1.2000 1.0308) translate(-601.00 -487.00)"><g transform="translate(600 500) rotate(0)"><text x="0" y="0" font-family='"Liberation Sans", "DejaVu Sans", sans-serif' font-size="19" font-weight="normal" font-style="normal" fill="#000">0</text></g></g>
<g transform="translate(1630.40 237.00) scale(1.0693 1.0000) translate(-602.00 -480.00)"><g transform="translate(600 500) rotate(0)"><text x="0" y="0" font-family='"Liberation Sans", "DejaVu Sans", sans-serif' font-size="27" font-weight="normal" font-style="normal" fill="#000">Dimerization,</text></g></g>
<g transform="translate(1803.80 235.90) scale(1.0700 1.0700) translate(-601.00 -480.00)"><g transform="translate(600 500) rotate(0)"><text x="0" y="0" font-family='"Liberation Sans", "DejaVu Sans", sans-serif' font-size="27" font-weight="normal" font-style="normal" fill="#000"><tspan font-style="italic">δ</tspan></text></g></g>
<g transform="translate(51.93 854.10) scale(1.2573 1.0933) translate(-601.00 -485.00)"><g transform="translate(600 500) rotate(0)"><text x="0" y="0" font-family='"Liberation Sans", "DejaVu Sans", sans-serif' font-size="22" font-weight="normal" font-style="normal" fill="#000">0</text></g></g>
<g transform="translate(109.87 912.30) scale(1.2267 1.0667) translate(-601.00 -485.00)"><g transform="translate(600 500) rotate(0)"><text x="0" y="0" font-family='"Liberation Sans", "DejaVu Sans", sans-serif' font-size="22" font-weight="normal" font-style="normal" fill="#000">0</text></g></g>
<g transform="translate(53.18 783.40) scale(1.2573 1.0933) translate(-602.00 -485.00)"><g transform="translate(600 500) rotate(0)"><text x="0" y="0" font-family='"Liberation Sans", "DejaVu Sans", sans-serif' font-size="22" font-weight="normal" font-style="normal" fill="#000">1</text></g></g>
<g transform="translate(188.43 912.30) scale(1.2267 1.0667) translate(-602.00 -485.00)"><g transform="translate(600 500) rotate(0)"><text x="0" y="0" font-family='"Liberation Sans", "DejaVu Sans", sans-serif' font-size="22" font-weight="normal" font-style="normal" fill="#000">1</text></g></g>
<g transform="translate(51.93 712.70) scale(1.2573 1.0933) translate(-601.00 -485.00)"><g transform="translate(600 500) rotate(0)"><text x="0" y="0" font-family='"Liberation Sans", "DejaVu Sans", sans-serif' font-size="22" font-weight="normal" font-style="normal" fill="#000">2</text></g></g>
<g transform="translate(265.77 912.30) scale(1.2267 1.0667) translate(-601.00 -485.00)"><g transform="translate(600 500) rotate(0)"><text x="0" y="0" font-family='"Liberation Sans", "DejaVu Sans", sans-serif' font-size="22" font-weight="normal" font-style="normal" fill="#000">2</text></g></g>
<g transform="translate(51.93 642.00) scale(1.2573 1.0933) translate(-601.00 -485.00)"><g transform="translate(600 500) rotate(0)"><text x="0" y="0" font-family='"Liberation Sans", "DejaVu Sans", sans-serif' font-size="22" font-weight="normal" font-style="normal" fill="#000">3</text></g></g>
<g transform="translate(343.72 912.30) scale(1.2267 1.0667) translate(-601.00 -485.00)"><g transform="translate(600 500) rotate(0)"><text x="0" y="0" font-family='"Liberation Sans", "DejaVu Sans", sans-serif' font-size="22" font-weight="normal" font-style="normal" fill="#000">3</text></g></g>
<g transform="translate(50.67 571.30) scale(1.2573 1.0933) translate(-601.00 -485.00)"><g transform="translate(600 500) rotate(0)"><text x="0" y="0" font-family='"Liberation Sans", "DejaVu Sans", sans-serif' font-size="22" font-weight="normal" font-style="normal" fill="#000">4</text></g></g>
<g transform="translate(421.05 912.30) scale(1.2267 1.0667) translate(-601.00 -485.00)"><g transform="translate(600 500) rotate(0)"><text x="0" y="0" font-family='"Liberation Sans", "DejaVu Sans", sans-serif' font-size="22" font-weight="normal" font-style="normal" fill="#000">4</text></g></g>
<g transform="translate(51.93 500.60) scale(1.2573 1.0933) translate(-601.00 -485.00)"><g transform="translate(600 500) rotate(0)"><text x="0" y="0" font-family='"Liberation Sans", "DejaVu Sans", sans-serif' font-size="22" font-weight="normal" font-style="normal" fill="#000">5</text></g></g>
<g transform="translate(499.62 912.30) scale(1.2267 1.0667) translate(-601.00 -485.00)"><g transform="translate(600 500) rotate(0)"><text x="0" y="0" font-family='"Liberation Sans", "DejaVu Sans", sans-serif' font-size="22" font-weight="normal" font-style="normal" fill="#000">5</text></g></g>
<g transform="translate(245.80 949.60) scale(1.0447 0.9769) translate(-601.00 -480.00)"><g transform="translate(600 500) rotate(0)"><text x="0" y="0" font-family='"Liberation Sans", "DejaVu Sans", sans-serif' font-size="27" font-weight="normal" font-style="normal" fill="#000">Time, <tspan font-style="italic">τ</tspan> (<tspan font-style="italic">T</tspan>)</text></g></g>
<g transform="translate(1.70 638.70) scale(0.9885 1.0820) translate(-580.00 -410.00)"><g transform="translate(600 500) rotate(-90)"><text x="0" y="0" font-family='"Liberation Sans", "DejaVu Sans", sans-serif' font-size="27" font-weight="normal" font-style="normal" fill="#000">c.m. (<tspan font-style="italic">d</tspan>)</text></g></g>
<g transform="translate(142.00 509.50) scale(0.9779 1.0429) translate(-602.00 -480.00)"><g transform="translate(600 500) rotate(0)"><text x="0" y="0" font-family='"Liberation Sans", "DejaVu Sans", sans-serif' font-size="27" font-weight="normal" font-style="normal" fill="#000"><tspan font-style="italic">U</tspan>/<tspan font-style="italic">Δ</tspan><tspan font-size="0.72em" dy="0.4em">0</tspan><tspan dy="-0.288em"> = –3.1</tspan></text></g></g>
<g transform="translate(142.00 564.70) scale(1.0404 1.0107) translate(-602.00 -480.00)"><g transform="translate(600 500) rotate(0)"><text x="0" y="0" font-family='"Liberation Sans", "DejaVu Sans", sans-serif' font-size="27" font-weight="normal" font-style="normal" fill="#000"><tspan font-style="italic">U</tspan>/<tspan font-style="italic">Δ</tspan><tspan font-size="0.72em" dy="0.4em">0</tspan><tspan dy="-0.288em"> = 0</tspan></text></g></g>
<g transform="translate(142.00 620.30) scale(0.9835 1.0143) translate(-602.00 -480.00)"><g transform="translate(600 500) rotate(0)"><text x="0" y="0" font-family='"Liberation Sans", "DejaVu Sans", sans-serif' font-size="27" font-weight="normal" font-style="normal" fill="#000"><tspan font-style="italic">U</tspan>/<tspan font-style="italic">Δ</tspan><tspan font-size="0.72em" dy="0.4em">0</tspan><tspan dy="-0.288em"> = 3.1</tspan></text></g></g>
<g transform="translate(644.08 506.70) scale(1.2508 1.0600) translate(-602.00 -485.00)"><g transform="translate(600 500) rotate(0)"><text x="0" y="0" font-family='"Liberation Sans", "DejaVu Sans", sans-serif' font-size="22" font-weight="normal" font-style="normal" fill="#000">1.0</text></g></g>
<g transform="translate(644.08 616.20) scale(1.2508 1.0600) translate(-601.00 -485.00)"><g transform="translate(600 500) rotate(0)"><text x="0" y="0" font-family='"Liberation Sans", "DejaVu Sans", sans-serif' font-size="22" font-weight="normal" font-style="normal" fill="#000">0.8</text></g></g>
<g transform="translate(644.08 725.70) scale(1.2508 1.0600) translate(-601.00 -485.00)"><g transform="translate(600 500) rotate(0)"><text x="0" y="0" font-family='"Liberation Sans", "DejaVu Sans", sans-serif' font-size="22" font-weight="normal" font-style="normal" fill="#000">0.6</text></g></g>
<g transform="translate(642.83 835.20) scale(1.2508 1.0600) translate(-601.00 -485.00)"><g transform="translate(600 500) rotate(0)"><text x="0" y="0" font-family='"Liberation Sans", "DejaVu Sans", sans-serif' font-size="22" font-weight="normal" font-style="normal" fill="#000">0.4</text></g></g>
<g transform="translate(759.90 912.50) scale(1.0522 1.0533) translate(-600.00 -485.00)"><g transform="translate(600 500) rotate(0)"><text x="0" y="0" font-family='"Liberation Sans", "DejaVu Sans", sans-serif' font-size="22" font-weight="normal" font-style="normal" fill="#000">–3</text></g></g>
<g transform="translate(919.90 912.50) scale(1.0043 1.0533) translate(-600.00 -485.00)"><g transform="translate(600 500) rotate(0)"><text x="0" y="0" font-family='"Liberation Sans", "DejaVu Sans", sans-serif' font-size="22" font-weight="normal" font-style="normal" fill="#000">–2</text></g></g>
<g transform="translate(1081.90 912.50) scale(0.8609 1.0533) translate(-600.00 -485.00)"><g transform="translate(600 500) rotate(0)"><text x="0" y="0" font-family='"Liberation Sans", "DejaVu Sans", sans-serif' font-size="22" font-weight="normal" font-style="normal" fill="#000">–1</text></g></g>
<g transform="translate(1245.42 912.60) scale(1.1960 1.0400) translate(-601.00 -485.00)"><g transform="translate(600 500) rotate(0)"><text x="0" y="0" font-family='"Liberation Sans", "DejaVu Sans", sans-serif' font-size="22" font-weight="normal" font-style="normal" fill="#000">0</text></g></g>
<g transform="translate(1405.77 912.60) scale(1.1960 1.0400) translate(-602.00 -485.00)"><g transform="translate(600 500) rotate(0)"><text x="0" y="0" font-family='"Liberation Sans", "DejaVu Sans", sans-serif' font-size="22" font-weight="normal" font-style="normal" fill="#000">1</text></g></g>
<g transform="translate(1564.92 912.60) scale(1.1960 1.0400) translate(-601.00 -485.00)"><g transform="translate(600 500) rotate(0)"><text x="0" y="0" font-family='"Liberation Sans", "DejaVu Sans", sans-serif' font-size="22" font-weight="normal" font-style="normal" fill="#000">2</text></g></g>
<g transform="translate(1724.67 912.60) scale(1.1960 1.0400) translate(-601.00 -485.00)"><g transform="translate(600 500) rotate(0)"><text x="0" y="0" font-family='"Liberation Sans", "DejaVu Sans", sans-serif' font-size="22" font-weight="normal" font-style="normal" fill="#000">3</text></g></g>
<g transform="translate(1157.20 949.80) scale(1.0448 1.0536) translate(-602.00 -480.00)"><g transform="translate(600 500) rotate(0)"><text x="0" y="0" font-family='"Liberation Sans", "DejaVu Sans", sans-serif' font-size="27" font-weight="normal" font-style="normal" fill="#000">Hubbard <tspan font-style="italic">U</tspan> (<tspan font-style="italic">Δ</tspan><tspan font-size="0.72em" dy="0.4em">0</tspan><tspan dy="-0.288em">)</tspan></text></g></g>
<g transform="translate(596.70 591.70) scale(0.9808 1.0756) translate(-580.00 -322.00)"><g transform="translate(600 500) rotate(-90)"><text x="0" y="0" font-family='"Liberation Sans", "DejaVu Sans", sans-serif' font-size="27" font-weight="normal" font-style="normal" fill="#000">Efficiency (<tspan font-style="italic">d</tspan>/<tspan font-style="italic">T</tspan>)</text></g></g>
</svg>
</body></html>
